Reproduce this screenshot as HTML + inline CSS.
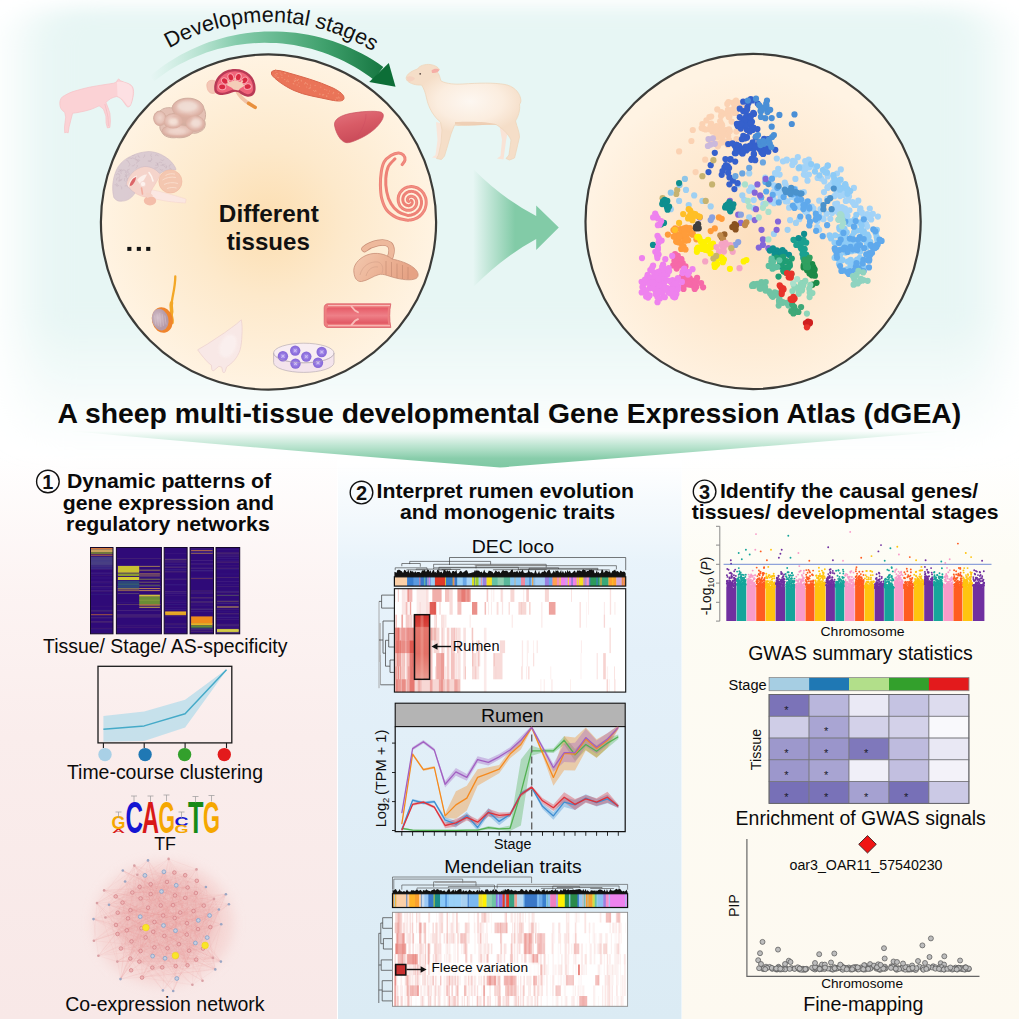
<!DOCTYPE html>
<html><head><meta charset="utf-8"><title>dGEA graphical abstract</title>
<style>
html,body{margin:0;padding:0;background:#fff;}
body{width:1019px;height:1019px;overflow:hidden;font-family:"Liberation Sans",sans-serif;}
svg{display:block}
text{font-family:"Liberation Sans",sans-serif;}
</style></head><body>
<svg width="1019" height="1019" viewBox="0 0 1019 1019" font-family="Liberation Sans, sans-serif">
<defs>
<radialGradient id="gL" cx="50%" cy="50%" r="50%"><stop offset="0" stop-color="#fcdeb1"/><stop offset="0.45" stop-color="#fde9cb"/><stop offset="1" stop-color="#fff3e2"/></radialGradient>
<radialGradient id="gR" cx="50%" cy="55%" r="50%"><stop offset="0" stop-color="#fde0c0"/><stop offset="0.55" stop-color="#feead2"/><stop offset="1" stop-color="#fff3e3"/></radialGradient>
<linearGradient id="gMint" gradientUnits="userSpaceOnUse" x1="0" y1="0" x2="0" y2="462"><stop offset="0" stop-color="#e7f6f4"/><stop offset="0.68" stop-color="#e7f6f4"/><stop offset="0.9" stop-color="#e7f6f4" stop-opacity="0.25"/><stop offset="1" stop-color="#e7f6f4" stop-opacity="0"/></linearGradient>
<linearGradient id="gPink" x1="0" y1="0" x2="0" y2="1"><stop offset="0" stop-color="#fbefee" stop-opacity="0"/><stop offset="0.25" stop-color="#fcf2f1" stop-opacity="0.9"/><stop offset="0.5" stop-color="#faedec"/><stop offset="1" stop-color="#f8e8e7"/></linearGradient>
<linearGradient id="gBlue" x1="0" y1="0" x2="0" y2="1"><stop offset="0.015" stop-color="#e8f3fa" stop-opacity="0"/><stop offset="0.08" stop-color="#e8f3fa" stop-opacity="0.4"/><stop offset="0.19" stop-color="#e6f2fa" stop-opacity="0.9"/><stop offset="0.35" stop-color="#e4f0f9"/><stop offset="1" stop-color="#dbebf4"/></linearGradient>
<linearGradient id="gCream" x1="0" y1="0" x2="0" y2="1"><stop offset="0" stop-color="#fdfbf2" stop-opacity="0"/><stop offset="0.2" stop-color="#fdfcf4"/><stop offset="1" stop-color="#fdf9f0"/></linearGradient>
<linearGradient id="gBanner" x1="0" y1="0" x2="0" y2="1"><stop offset="0" stop-color="#8fd2b0" stop-opacity="0"/><stop offset="0.4" stop-color="#8ad0ad" stop-opacity="0.55"/><stop offset="0.75" stop-color="#82caa6" stop-opacity="0.95"/><stop offset="1" stop-color="#7ec8a3"/></linearGradient>
<linearGradient id="gBannerH" x1="0" y1="0" x2="1" y2="0"><stop offset="0" stop-color="#fff" stop-opacity="1"/><stop offset="0.3" stop-color="#fff" stop-opacity="0"/><stop offset="0.7" stop-color="#fff" stop-opacity="0"/><stop offset="1" stop-color="#fff" stop-opacity="1"/></linearGradient>
<linearGradient id="gArc" gradientUnits="userSpaceOnUse" x1="150" y1="0" x2="400" y2="0"><stop offset="0" stop-color="#9fdcc0" stop-opacity="0"/><stop offset="0.35" stop-color="#79c7a3" stop-opacity="0.9"/><stop offset="0.7" stop-color="#3fa06c"/><stop offset="1" stop-color="#0b6b35"/></linearGradient>
<linearGradient id="gBig" gradientUnits="userSpaceOnUse" x1="473" y1="0" x2="515" y2="0"><stop offset="0" stop-color="#82cba7" stop-opacity="0"/><stop offset="1" stop-color="#82cba7"/></linearGradient>
<filter id="blur20" x="-10%" y="-15%" width="120%" height="130%"><feGaussianBlur stdDeviation="24 9"/></filter>
<filter id="blur6" x="-20%" y="-20%" width="140%" height="140%"><feGaussianBlur stdDeviation="6"/></filter>
<filter id="blur2"><feGaussianBlur stdDeviation="1.2"/></filter>
<filter id="blur1"><feGaussianBlur stdDeviation="0.6"/></filter>
</defs>
<rect width="1019" height="1019" fill="#ffffff"/>
<rect x="22" y="7" width="975" height="455" rx="40" fill="url(#gMint)" filter="url(#blur20)"/>
<rect x="0" y="455" width="337" height="564" fill="url(#gPink)"/>
<rect x="338" y="455" width="343.5" height="564" fill="url(#gBlue)"/>
<rect x="682" y="455" width="337" height="564" fill="url(#gCream)"/>
<circle cx="268.5" cy="222" r="167.6" fill="url(#gL)" stroke="#3b3b38" stroke-width="2.2"/>
<path d="M150.2,75.9 L155,72 L159.9,68.2 L165,64.6 L170.1,61.2 L175.4,57.9 L180.8,54.8 L186.3,51.9 L191.9,49.2 L197.6,46.7 L203.4,44.3 L209.2,42.1 L215.2,40.2 L221.1,38.4 L227.2,36.8 L233.3,35.4 L239.4,34.2 L245.6,33.3 L251.8,32.5 L258.1,31.9 L264.3,31.5 L270.6,31.4 L276.9,31.4 L283.2,31.7 L289.5,32.2 L295.7,32.8 L302,33.7 L308.2,34.8 L314.3,36.1 L320.5,37.6 L326.6,39.3 L332.6,41.1 L338.6,43.2 L344.5,45.5 L350.3,48 L356,50.7 L361.7,53.6 L367.2,56.6 L372.7,59.8 L378.1,63.3 L383.3,66.9 L373.8,79.7 L369.1,76.2 L364.3,72.9 L359.4,69.7 L354.4,66.7 L349.3,63.9 L344.1,61.2 L338.8,58.7 L333.4,56.4 L328,54.2 L322.4,52.2 L316.8,50.4 L311.2,48.8 L305.5,47.4 L299.7,46.2 L293.9,45.1 L288.1,44.3 L282.3,43.6 L276.4,43.1 L270.5,42.9 L264.6,42.8 L258.7,42.9 L252.8,43.2 L246.9,43.7 L241,44.4 L235.2,45.3 L229.3,46.4 L223.5,47.7 L217.8,49.1 L212.1,50.8 L206.4,52.6 L200.9,54.7 L195.3,56.9 L189.9,59.3 L184.5,61.9 L179.2,64.6 L174,67.5 L168.9,70.6 L163.9,73.9 L159.1,77.4 L154.3,80.9Z" fill="url(#gArc)"/>
<path d="M369.2,81.9 L388.8,62.9 L395.5,86.8Z" fill="#0d6e37"/>
<path id="arcText" d="M169.1,48.4 A200,200 0 0 1 397.1,68.8" fill="none"/>
<text font-size="21.6" fill="#111"><textPath href="#arcText" startOffset="0">Developmental stages</textPath></text>
<text x="268.8" y="222.1" font-size="24.3" font-weight="bold" text-anchor="middle" fill="#111">Different</text>
<text x="268.3" y="250.2" font-size="24.1" font-weight="bold" text-anchor="middle" fill="#111">tissues</text>
<rect x="127.3" y="246.9" width="4.1" height="4" fill="#111"/>
<rect x="136.8" y="246.9" width="4.1" height="4" fill="#111"/>
<rect x="146.2" y="246.9" width="4.1" height="4" fill="#111"/>
<defs>
<radialGradient id="gSheep" gradientUnits="userSpaceOnUse" cx="470" cy="102" r="55" gradientTransform="translate(0 40) scale(1 0.6)"><stop offset="0" stop-color="#fdf7f1"/><stop offset="0.6" stop-color="#fbeddf"/><stop offset="1" stop-color="#f5dec8"/></radialGradient>
<linearGradient id="gLiver" x1="0" y1="0" x2="0.4" y2="1"><stop offset="0" stop-color="#e4747e"/><stop offset="0.5" stop-color="#d85b66"/><stop offset="1" stop-color="#c94a58"/></linearGradient>
<linearGradient id="gAbo" x1="0" y1="0" x2="1" y2="0.3"><stop offset="0" stop-color="#f3c9b0"/><stop offset="0.5" stop-color="#ecb497"/><stop offset="1" stop-color="#e6a284"/></linearGradient>
<linearGradient id="gVessel" x1="0" y1="0" x2="0" y2="1"><stop offset="0" stop-color="#e65a66"/><stop offset="0.5" stop-color="#ee8088"/><stop offset="1" stop-color="#e05460"/></linearGradient>
<radialGradient id="gCell"><stop offset="0" stop-color="#c5b2f5"/><stop offset="0.5" stop-color="#9478e2"/><stop offset="1" stop-color="#8566d6"/></radialGradient>
<radialGradient id="gTestis" cx="40%" cy="40%"><stop offset="0" stop-color="#d6c2cd"/><stop offset="1" stop-color="#b59aa8"/></radialGradient>
<radialGradient id="gLump" cx="50%" cy="45%"><stop offset="0" stop-color="#efd6cc"/><stop offset="0.7" stop-color="#e6c3b8"/><stop offset="1" stop-color="#dcb0a3"/></radialGradient>
</defs>
<path d="M59.8,103.4 C59.8,99 62,96.5 64.7,95.5 C68,93.5 71,92.2 74.5,91.1 C79.5,89.6 84.5,88.3 89.3,87.2 C94.5,86.2 99.5,85.4 104,84.7 C107.5,84.1 111,83.7 113.8,83.2 L116.5,81.9 L117.6,79.8 L118.7,79 L120.7,80.8 C122,81.2 123.4,81.7 124.6,82.3 C126.8,82.9 128.9,83.7 130.5,84.7 C132.2,86 133.1,87.7 133.4,89.6 C133.8,92.2 133.5,95 132.9,97.5 C132.4,100.3 131.6,103 130.5,105.3 C129.7,106.6 128.6,107.1 127.5,106.8 C126.3,106 125.3,104.8 124.6,103.4 C123.4,101.6 122.1,99.9 120.7,98.5 C119.4,97.6 118,96.9 116.7,96.5 C114.7,96.9 112.7,97.6 110.8,98.5 C109,99.7 107.4,101 105.9,102.4 L107.9,107.3 L109.9,113.2 L110.4,121 L109.9,127.4 L107.4,127.9 L106.1,123 L105.9,116.1 L103.5,109.3 C102.2,108 100.7,106.8 99.1,105.8 C96.5,107.1 93.9,108.3 91.2,109.3 C87.3,110.5 83.4,111.5 79.4,112.2 C77.1,112.7 74.8,113 72.6,113.2 L71.1,119.1 L69.1,126.9 L68.2,132.8 L66.2,132.3 L64.7,132.8 L64.5,126.9 L65.7,117.1 L64.7,112.2 C63,111.3 61.7,110 60.8,108.3 C60.1,106.8 59.8,105.2 59.8,103.4Z" fill="#fbd2d5" stroke="#f6c1c6" stroke-width="0.7" stroke-linejoin="round"/>
<path d="M117,82 C121,81 128,82.5 131.5,86.5 C133.5,90 133,97 130.5,104.5 C129.5,106.3 128,106.3 127,105 C124.5,101 122,98 117.5,96Z" fill="#fde3e5" opacity="0.85"/>
<path d="M104.8,104 L106.4,110 L108,117 L108.4,126" fill="none" stroke="#f4b9c0" stroke-width="0.7"/>
<path d="M499,123 L502,140 L500.5,156 L497,158.5 L503.5,159.5 L506,141 L509,125Z" fill="#f9e3d6"/>
<path d="M436,122 L437.5,140 L435.5,155 L432,157.5 L439.5,158.5 L441.5,140 L444,124Z" fill="#f9e6da"/>
<path d="M406.5,76.5 C408,73 413,70.5 417.5,69 C419.5,65.5 425,64 430,64.5 C434.5,65 438,67 439.5,69.5 L437,71.5 C439.5,74.5 440,78 441,81 C447,84 455,84.5 463,84 C478,83 494,82.5 505,84.5 C513,86 519,91.5 520.5,98 C521.5,101 520.5,103.5 519.5,104 C520.5,110 518,117 515.5,121 C517,127 519.5,132 519.5,137 L516,152 L514.5,158 L509.5,160 L506,158.5 L509,155 L511,140 C508,133 501,127.5 496,124.5 C484,123.5 470,126 458,125.5 L454.5,125 L451,134 L447.5,146 L444.5,156 L441.5,159.5 L436.5,158.5 L438.5,155 L441,143 L442,130 L440.5,122 C434,117 428.5,108 426.5,98 C425.5,93 424,88.5 421.5,85 C416,85.5 410,83.5 407.5,81 C406,79.5 406,78 406.5,76.5Z" fill="url(#gSheep)" stroke="#efd6bb" stroke-width="0.8" stroke-linejoin="round"/>
<path d="M455,124.5 C470,126.5 486,124 497,124.5 C486,121 468,121.5 455,122Z" fill="#ecc9ad" opacity="0.8"/>
<path d="M431.5,70.5 C434,68 438,68.5 439.5,69.8 C438.5,72.5 435,73.5 432,73Z" fill="#f5aea6"/>
<circle cx="420.2" cy="73.8" r="0.9" fill="#5a4a44"/>
<path d="M406.8,77 C409,75.5 413,76 415,78.5 C413,81.5 409.5,82 407.5,80.8Z" fill="#f7c3b5" opacity="0.45"/>
<path d="M155.2,121 C152.8,116 155,111.5 160,111 C163,108 168,107 172,108 C173,102 180,98 188,98.2 C196,98 203,102.5 204,108.5 C206,112 206,117 204.5,120.5 C206.5,125 204.5,130 200,131.5 C197,133.5 194,133.5 192,133 C189,137 182,138.3 176.5,137.6 C170,138.5 163.5,136.5 161.8,132 C160,130 159.5,127.5 160,125.5 C157.5,125 156,123.5 155.2,121Z" fill="#e4c0b4" stroke="#cbaa9c" stroke-width="0.9"/>
<ellipse cx="177.6" cy="131.0" rx="15.9" ry="6.6000000000000005" fill="#d3ad9f"/>
<ellipse cx="159.8" cy="118.5" rx="6.6000000000000005" ry="7.6000000000000005" fill="#d3ad9f"/>
<ellipse cx="187.9" cy="108.2" rx="15.9" ry="10.0" fill="#d3ad9f"/>
<ellipse cx="195.1" cy="123.7" rx="9.8" ry="8.2" fill="#d3ad9f"/>
<ellipse cx="173.2" cy="121.3" rx="9.9" ry="8.0" fill="#d3ad9f"/>
<ellipse cx="182" cy="119" rx="12.4" ry="8.4" fill="#d3ad9f"/>
<ellipse cx="177.6" cy="131.0" rx="15.3" ry="6.0" fill="url(#gLump)"/>
<ellipse cx="159.8" cy="118.5" rx="6.0" ry="7.0" fill="url(#gLump)"/>
<ellipse cx="187.9" cy="108.2" rx="15.3" ry="9.4" fill="url(#gLump)"/>
<ellipse cx="195.1" cy="123.7" rx="9.200000000000001" ry="7.6" fill="url(#gLump)"/>
<ellipse cx="173.2" cy="121.3" rx="9.3" ry="7.3999999999999995" fill="url(#gLump)"/>
<ellipse cx="182" cy="119" rx="11" ry="5" fill="#deb0a2" opacity="0.55" filter="url(#blur2)"/>
<ellipse cx="187.5" cy="106.5" rx="10" ry="5" fill="#f1e0d8" opacity="0.8" filter="url(#blur2)"/>
<ellipse cx="173.5" cy="121.5" rx="4.5" ry="3.5" fill="#f6e4da" opacity="0.85" filter="url(#blur2)"/>
<ellipse cx="196" cy="123" rx="5" ry="4" fill="#f3e0d8" opacity="0.8" filter="url(#blur2)"/>
<ellipse cx="177" cy="131.5" rx="9" ry="2.8" fill="#f1d8cf" opacity="0.7" filter="url(#blur2)"/>
<path d="M207,87 C206,83 208.5,80 212.5,80.3 C216,80.5 218.5,83 218,87 C218.8,90.5 216.5,93.5 213,93.4 C209.5,93.6 207.3,90.5 207,87Z" fill="#f4c7b6" stroke="#ecb09e" stroke-width="0.6"/>
<path d="M235,85 C236.5,92 240.5,97.5 246,101.5 L255,107.2" fill="none" stroke="#f2c3a6" stroke-width="3.6" stroke-linecap="round"/>
<path d="M248.5,103.3 L255.2,107.4" fill="none" stroke="#e8903c" stroke-width="3.4" stroke-linecap="round"/>
<path d="M214.3,90 C213.3,78.5 222,68.9 235,68.9 C248,68.9 256.5,78 255.5,90 C255,95 251,97.5 246.5,96.5 C243,96 241,94 239,92.6 C237,91.5 234,91.5 232,92.6 C229.5,93.8 226.5,94.8 222.5,95 C218,95.2 214.8,93.5 214.3,90Z" fill="#b93a56"/>
<path d="M216.6,89.3 C216,80 223.5,71.2 235,71.2 C246.5,71.2 253.8,79.5 253.2,89.3 C252.8,93 249.8,94.8 246.8,94 C243.8,93.3 242,91.4 240,90.3 C237,89 233.5,89 231,90.2 C228.5,91.3 226,92.5 222.5,92.7 C219.3,92.9 217,91.5 216.6,89.3Z" fill="#f0647a"/>
<ellipse cx="222.2" cy="86.9" rx="3.3" ry="4.1" transform="rotate(-82 222.2 86.9)" fill="#f9a4ae"/>
<ellipse cx="222.2" cy="86.9" rx="2.3" ry="3.1" transform="rotate(-82 222.2 86.9)" fill="#d92a42"/>
<ellipse cx="224.8" cy="81" rx="3.3" ry="4.1" transform="rotate(-50 224.8 81)" fill="#f9a4ae"/>
<ellipse cx="224.8" cy="81" rx="2.3" ry="3.1" transform="rotate(-50 224.8 81)" fill="#d92a42"/>
<ellipse cx="230.8" cy="77.3" rx="3.3" ry="4.1" transform="rotate(-18 230.8 77.3)" fill="#f9a4ae"/>
<ellipse cx="230.8" cy="77.3" rx="2.3" ry="3.1" transform="rotate(-18 230.8 77.3)" fill="#d92a42"/>
<ellipse cx="238.3" cy="77.1" rx="3.3" ry="4.1" transform="rotate(14 238.3 77.1)" fill="#f9a4ae"/>
<ellipse cx="238.3" cy="77.1" rx="2.3" ry="3.1" transform="rotate(14 238.3 77.1)" fill="#d92a42"/>
<ellipse cx="244.6" cy="80.4" rx="3.3" ry="4.1" transform="rotate(46 244.6 80.4)" fill="#f9a4ae"/>
<ellipse cx="244.6" cy="80.4" rx="2.3" ry="3.1" transform="rotate(46 244.6 80.4)" fill="#d92a42"/>
<ellipse cx="247.7" cy="86.6" rx="3.3" ry="4.1" transform="rotate(80 247.7 86.6)" fill="#f9a4ae"/>
<ellipse cx="247.7" cy="86.6" rx="2.3" ry="3.1" transform="rotate(80 247.7 86.6)" fill="#d92a42"/>
<path d="M226.5,85 C229,82.5 232,80.8 235,80.8 C238.5,80.8 242,82.8 244.5,85.5 C242.5,87.5 240,87.8 238.5,90.5 L233.5,89.5 C232,87 229,86.5 226.5,85Z" fill="#f4cdb8"/>
<path d="M230,84 L228,81 M235,82.5 L235,78.5 M240,84 L242.5,81" stroke="#f4cdb8" stroke-width="1.4" stroke-linecap="round"/>
<path d="M271.5,72 C273,69.5 279,70 287,72.5 C301,76.5 318,81 333,88 C340,91.5 344.5,95 344,98.5 C343.5,101.5 338,101.5 331,100 C318,97 305,95.5 294,90.5 C284,86 274,78.5 271.5,74.5Z" fill="#ea7458" stroke="#d9664c" stroke-width="1"/>
<circle cx="315.5" cy="90.5" r="0.6" fill="#f39a7c" opacity="0.8"/>
<circle cx="326.7" cy="96.4" r="0.6" fill="#f39a7c" opacity="0.8"/>
<circle cx="323.1" cy="94.9" r="0.6" fill="#f39a7c" opacity="0.8"/>
<circle cx="276.9" cy="73.5" r="0.6" fill="#f39a7c" opacity="0.8"/>
<circle cx="336.3" cy="97.8" r="0.6" fill="#f39a7c" opacity="0.8"/>
<circle cx="333.6" cy="92.4" r="0.6" fill="#f39a7c" opacity="0.8"/>
<circle cx="305.5" cy="82.7" r="0.6" fill="#f39a7c" opacity="0.8"/>
<circle cx="310.3" cy="87.2" r="0.6" fill="#f39a7c" opacity="0.8"/>
<circle cx="275.9" cy="71.1" r="0.6" fill="#f39a7c" opacity="0.8"/>
<circle cx="293.2" cy="83.3" r="0.6" fill="#f39a7c" opacity="0.8"/>
<circle cx="324.8" cy="89.4" r="0.6" fill="#f39a7c" opacity="0.8"/>
<circle cx="326.8" cy="90" r="0.6" fill="#f39a7c" opacity="0.8"/>
<circle cx="315.1" cy="85.4" r="0.6" fill="#f39a7c" opacity="0.8"/>
<circle cx="275.1" cy="76" r="0.6" fill="#f39a7c" opacity="0.8"/>
<circle cx="288.6" cy="76" r="0.6" fill="#f39a7c" opacity="0.8"/>
<circle cx="338.9" cy="100.5" r="0.6" fill="#f39a7c" opacity="0.8"/>
<circle cx="293.8" cy="83.9" r="0.6" fill="#f39a7c" opacity="0.8"/>
<circle cx="310" cy="87.9" r="0.6" fill="#f39a7c" opacity="0.8"/>
<circle cx="288.3" cy="81.6" r="0.6" fill="#f39a7c" opacity="0.8"/>
<circle cx="319.9" cy="94" r="0.6" fill="#f39a7c" opacity="0.8"/>
<circle cx="333.1" cy="93.7" r="0.6" fill="#f39a7c" opacity="0.8"/>
<circle cx="298.5" cy="79.4" r="0.6" fill="#f39a7c" opacity="0.8"/>
<circle cx="284.5" cy="73.2" r="0.6" fill="#f39a7c" opacity="0.8"/>
<circle cx="294.6" cy="81.4" r="0.6" fill="#f39a7c" opacity="0.8"/>
<circle cx="275.2" cy="74.5" r="0.6" fill="#f39a7c" opacity="0.8"/>
<circle cx="297" cy="79.9" r="0.6" fill="#f39a7c" opacity="0.8"/>
<circle cx="328.2" cy="93.3" r="0.6" fill="#f39a7c" opacity="0.8"/>
<circle cx="295.5" cy="80.7" r="0.6" fill="#f39a7c" opacity="0.8"/>
<circle cx="320.8" cy="87.1" r="0.6" fill="#f39a7c" opacity="0.8"/>
<circle cx="338.4" cy="93.6" r="0.6" fill="#f39a7c" opacity="0.8"/>
<circle cx="323.7" cy="94.5" r="0.6" fill="#f39a7c" opacity="0.8"/>
<circle cx="276.2" cy="75.8" r="0.6" fill="#f39a7c" opacity="0.8"/>
<circle cx="298.8" cy="82.8" r="0.6" fill="#f39a7c" opacity="0.8"/>
<circle cx="275.6" cy="69.6" r="0.6" fill="#f39a7c" opacity="0.8"/>
<circle cx="286.8" cy="81.2" r="0.6" fill="#f39a7c" opacity="0.8"/>
<circle cx="287.8" cy="80" r="0.6" fill="#f39a7c" opacity="0.8"/>
<circle cx="335.4" cy="99.8" r="0.6" fill="#f39a7c" opacity="0.8"/>
<circle cx="297.4" cy="80.4" r="0.6" fill="#f39a7c" opacity="0.8"/>
<circle cx="309.1" cy="88.3" r="0.6" fill="#f39a7c" opacity="0.8"/>
<circle cx="282" cy="77.7" r="0.6" fill="#f39a7c" opacity="0.8"/>
<circle cx="326.8" cy="95.8" r="0.6" fill="#f39a7c" opacity="0.8"/>
<circle cx="277.4" cy="77.5" r="0.6" fill="#f39a7c" opacity="0.8"/>
<circle cx="280.9" cy="74" r="0.6" fill="#f39a7c" opacity="0.8"/>
<circle cx="314.7" cy="91.6" r="0.6" fill="#f39a7c" opacity="0.8"/>
<circle cx="297.1" cy="84.9" r="0.6" fill="#f39a7c" opacity="0.8"/>
<circle cx="310.4" cy="85.1" r="0.6" fill="#f39a7c" opacity="0.8"/>
<circle cx="295.6" cy="78.3" r="0.6" fill="#f39a7c" opacity="0.8"/>
<circle cx="280.1" cy="72.1" r="0.6" fill="#f39a7c" opacity="0.8"/>
<circle cx="319.8" cy="94.2" r="0.6" fill="#f39a7c" opacity="0.8"/>
<circle cx="285.5" cy="73.4" r="0.6" fill="#f39a7c" opacity="0.8"/>
<circle cx="339.1" cy="97.9" r="0.6" fill="#f39a7c" opacity="0.8"/>
<circle cx="301.4" cy="81" r="0.6" fill="#f39a7c" opacity="0.8"/>
<circle cx="313.6" cy="90.5" r="0.6" fill="#f39a7c" opacity="0.8"/>
<circle cx="304.6" cy="83.8" r="0.6" fill="#f39a7c" opacity="0.8"/>
<circle cx="278.6" cy="77.7" r="0.6" fill="#f39a7c" opacity="0.8"/>
<circle cx="277.1" cy="73.8" r="0.6" fill="#f39a7c" opacity="0.8"/>
<circle cx="329.5" cy="91" r="0.6" fill="#f39a7c" opacity="0.8"/>
<circle cx="322.6" cy="94.9" r="0.6" fill="#f39a7c" opacity="0.8"/>
<circle cx="316" cy="91.1" r="0.6" fill="#f39a7c" opacity="0.8"/>
<circle cx="281.9" cy="75.1" r="0.6" fill="#f39a7c" opacity="0.8"/>
<circle cx="284.7" cy="79.5" r="0.6" fill="#f39a7c" opacity="0.8"/>
<circle cx="294.2" cy="80" r="0.6" fill="#f39a7c" opacity="0.8"/>
<circle cx="340" cy="100.8" r="0.6" fill="#f39a7c" opacity="0.8"/>
<circle cx="338.4" cy="97" r="0.6" fill="#f39a7c" opacity="0.8"/>
<circle cx="306.7" cy="87" r="0.6" fill="#f39a7c" opacity="0.8"/>
<circle cx="306.1" cy="83.3" r="0.6" fill="#f39a7c" opacity="0.8"/>
<circle cx="301.2" cy="80.3" r="0.6" fill="#f39a7c" opacity="0.8"/>
<circle cx="299.5" cy="86.3" r="0.6" fill="#f39a7c" opacity="0.8"/>
<circle cx="337.4" cy="98" r="0.6" fill="#f39a7c" opacity="0.8"/>
<circle cx="307.5" cy="84.2" r="0.6" fill="#f39a7c" opacity="0.8"/>
<path d="M334.5,125 C334,119 341,115.5 350,113.5 C361,111.5 374,110.5 380.5,112 C384,113 384,116.5 382,120 C378.5,126.5 371,133 362,137.5 C355.5,140.5 349.5,143.5 345.5,142.5 C340,141 335.5,132 334.5,125Z" fill="url(#gLiver)" stroke="#c9505e" stroke-width="0.7"/>
<path d="M366,114 C366,122 362,131 355,139" fill="none" stroke="#cc4a60" stroke-width="0.6" opacity="0.7"/>
<path d="M402.1,164.6 C402.6,163.8 404.8,161.6 405,160 C405.2,158.4 404.5,156.2 403.4,155 C402.3,153.8 400.5,152.8 398.4,152.9 C396.3,153 393.3,153.9 390.9,155.4 C388.5,156.9 385.8,159 384.2,161.7 C382.6,164.4 381.9,167.8 381.3,171.7 C380.7,175.6 380.3,180.6 380.4,185 C380.5,189.4 380.6,194.2 381.7,198.4 C382.8,202.6 384.2,206.8 386.7,210 C389.2,213.2 393.4,215.9 396.7,217.6 C400,219.3 404.4,219.6 406.5,220 C408.6,220.4 408.3,220.1 409.1,220.1 C410,220 410.9,219.9 411.7,219.7 C412.6,219.6 413.4,219.4 414.2,219.1 C415.1,218.8 415.8,218.5 416.6,218.1 C417.4,217.7 418.1,217.2 418.8,216.7 C419.5,216.3 420.1,215.7 420.7,215.1 C421.3,214.6 421.9,214 422.4,213.3 C422.9,212.7 423.4,212 423.8,211.3 C424.2,210.6 424.6,209.8 424.9,209.1 C425.2,208.3 425.4,207.6 425.6,206.8 C425.9,206 426,205.2 426.1,204.4 C426.2,203.6 426.2,202.9 426.2,202.1 C426.2,201.3 426.1,200.5 426,199.7 C425.9,199 425.7,198.2 425.5,197.5 C425.2,196.8 425,196.1 424.6,195.4 C424.3,194.7 424,194.1 423.6,193.4 C423.2,192.8 422.7,192.2 422.2,191.7 C421.8,191.1 421.2,190.6 420.7,190.2 C420.2,189.7 419.6,189.3 419,188.9 C418.4,188.5 417.8,188.2 417.2,187.9 C416.5,187.6 415.9,187.4 415.2,187.2 C414.6,187 413.9,186.8 413.3,186.7 C412.6,186.6 411.9,186.6 411.3,186.6 C410.6,186.6 410,186.7 409.3,186.8 C408.7,186.8 408,187 407.4,187.2 C406.8,187.4 406.2,187.6 405.6,187.8 C405.1,188.1 404.5,188.4 404,188.8 C403.5,189.1 403,189.5 402.5,189.9 C402.1,190.3 401.6,190.7 401.2,191.2 C400.8,191.6 400.5,192.1 400.1,192.6 C399.8,193.1 399.5,193.7 399.3,194.2 C399.1,194.7 398.8,195.3 398.7,195.8 C398.5,196.4 398.4,197 398.3,197.5 C398.2,198.1 398.2,198.7 398.2,199.2 C398.2,199.8 398.2,200.4 398.3,200.9 C398.3,201.4 398.4,202 398.6,202.5 C398.7,203 398.9,203.5 399.1,204 C399.3,204.5 399.6,205 399.8,205.4 C400.1,205.9 400.4,206.3 400.7,206.7 C401.1,207.1 401.4,207.4 401.8,207.8 C402.1,208.1 402.5,208.4 402.9,208.7 C403.3,208.9 403.8,209.2 404.2,209.4 C404.6,209.6 405.1,209.8 405.5,209.9 C405.9,210 406.4,210.2 406.8,210.2 C407.3,210.3 407.7,210.3 408.2,210.3 C408.6,210.3 409.1,210.3 409.5,210.3 C409.9,210.2 410.3,210.1 410.7,210 C411.1,209.9 411.5,209.7 411.9,209.6 C412.3,209.4 412.7,209.2 413,209 C413.3,208.8 413.7,208.5 414,208.3 C414.3,208 414.5,207.7 414.8,207.4 C415.1,207.1 415.3,206.8 415.5,206.5 C415.7,206.2 415.9,205.8 416,205.5 C416.2,205.2 416.3,204.8 416.4,204.5 C416.5,204.1 416.6,203.8 416.6,203.4 C416.7,203.1 416.7,202.7 416.7,202.4 C416.7,202.1 416.7,201.7 416.6,201.4 C416.6,201.1 416.5,200.7 416.4,200.4 C416.3,200.1 416.2,199.8 416.1,199.5 C415.9,199.3 415.8,199 415.6,198.7 C415.5,198.5 415.3,198.2 415.1,198 C414.9,197.8 414.7,197.6 414.5,197.4 C414.3,197.3 414,197.1 413.8,197 C413.6,196.8 413.3,196.7 413.1,196.6 C412.9,196.5 412.6,196.4 412.4,196.4 C412.1,196.3 411.9,196.3 411.6,196.2 C411.4,196.2 411.2,196.2 410.9,196.2 C410.7,196.3 410.5,196.3 410.3,196.3 C410.1,196.4 409.8,196.5 409.7,196.5 C409.5,196.6 409.3,196.7 409.1,196.8 C408.9,196.9 408.8,197 408.6,197.2 C408.5,197.3 408.3,197.4 408.2,197.6 C408.1,197.7 408,197.9 407.9,198 C407.8,198.2 407.7,198.3 407.6,198.5 C407.6,198.6 407.5,198.8 407.5,198.9 C407.5,199.1 407.4,199.2 407.4,199.4 C407.4,199.5 407.4,199.7 407.4,199.8 C407.5,200 407.5,200.1 407.5,200.2 C407.6,200.4 407.6,200.5 407.7,200.6 C407.7,200.7 407.8,200.8 407.9,200.9 C407.9,201 408,201.1 408.1,201.1 C408.2,201.2 408.3,201.3 408.4,201.3 C408.4,201.4 408.6,201.4 408.6,201.4" fill="none" stroke="#ee8176" stroke-width="3" stroke-linecap="round" stroke-linejoin="round"/>
<path d="M395,158.8 C393.9,160.1 389.8,163.4 388.3,166.7 C386.8,170 386.1,174.2 385.8,178.4 C385.5,182.6 385.9,187.5 386.7,191.7 C387.5,195.9 388.9,200.1 390.9,203.4 C392.8,206.7 395.7,209.7 398.4,211.7 C401.1,213.7 405.5,214.7 407.3,215.3 C409.1,215.9 408.7,215.3 409.3,215.3 C410,215.2 410.6,215.1 411.3,215 C411.9,214.8 412.5,214.6 413.1,214.4 C413.7,214.2 414.3,213.9 414.8,213.6 C415.4,213.3 415.9,213 416.4,212.6 C416.9,212.2 417.4,211.8 417.8,211.4 C418.2,210.9 418.7,210.5 419,210 C419.4,209.5 419.7,209 420,208.5 C420.3,207.9 420.5,207.4 420.7,206.8 C420.9,206.3 421.1,205.7 421.2,205.1 C421.4,204.6 421.4,204 421.5,203.4 C421.5,202.9 421.5,202.3 421.5,201.7 C421.5,201.2 421.4,200.6 421.3,200.1 C421.2,199.5 421,199 420.9,198.5 C420.7,198 420.5,197.5 420.2,197 C420,196.6 419.7,196.1 419.4,195.7 C419.1,195.3 418.8,194.9 418.4,194.5 C418.1,194.1 417.7,193.8 417.3,193.5 C416.9,193.2 416.5,192.9 416.1,192.7 C415.7,192.4 415.3,192.2 414.8,192 C414.4,191.9 413.9,191.7 413.5,191.6 C413,191.5 412.6,191.4 412.1,191.4 C411.7,191.4 411.2,191.3 410.8,191.4 C410.3,191.4 409.9,191.5 409.5,191.5 C409.1,191.6 408.6,191.7 408.2,191.9 C407.8,192 407.5,192.2 407.1,192.4 C406.7,192.6 406.4,192.8 406.1,193.1 C405.7,193.3 405.4,193.6 405.1,193.9 C404.9,194.1 404.6,194.4 404.4,194.8 C404.1,195.1 403.9,195.4 403.7,195.7 C403.6,196.1 403.4,196.4 403.3,196.7 C403.2,197.1 403,197.4 403,197.8 C402.9,198.2 402.8,198.5 402.8,198.9 C402.8,199.2 402.8,199.6 402.8,199.9 C402.8,200.2 402.9,200.6 403,200.9 C403,201.2 403.1,201.5 403.2,201.8 C403.4,202.1 403.5,202.4 403.6,202.7 C403.8,203 404,203.2 404.1,203.5 C404.3,203.7 404.5,203.9 404.7,204.1 C404.9,204.3 405.2,204.5 405.4,204.7 C405.6,204.8 405.8,205 406.1,205.1 C406.3,205.2 406.6,205.3 406.8,205.4 C407.1,205.5 407.3,205.6 407.6,205.6 C407.8,205.6 408,205.7 408.3,205.7 C408.5,205.7 408.8,205.7 409,205.6 C409.2,205.6 409.4,205.5 409.6,205.5 C409.9,205.4 410.1,205.3 410.2,205.2 C410.4,205.1 410.6,205 410.8,204.9 C410.9,204.8 411.1,204.7 411.2,204.5 C411.4,204.4 411.5,204.3 411.6,204.1 C411.7,204 411.8,203.8 411.9,203.6 C412,203.5 412.1,203.3 412.1,203.2 C412.2,203 412.2,202.9 412.2,202.7 C412.2,202.5 412.3,202.4 412.3,202.2 C412.3,202.1 412.2,201.9 412.2,201.8 C412.2,201.7 412.1,201.5 412.1,201.4 C412.1,201.3 412,201.2 411.9,201.1 C411.9,200.9 411.8,200.8 411.7,200.8 C411.6,200.7 411.6,200.6 411.5,200.5 C411.4,200.5 411.3,200.4 411.2,200.4 C411.1,200.3 411,200.3 410.9,200.3" fill="none" stroke="#ee8176" stroke-width="3" stroke-linecap="round" stroke-linejoin="round"/>
<path d="M402.1,164.6 C402.6,163.8 404.8,161.6 405,160 C405.2,158.4 404.5,156.2 403.4,155 C402.3,153.8 400.5,152.8 398.4,152.9 C396.3,153 393.3,153.9 390.9,155.4 C388.5,156.9 385.8,159 384.2,161.7 C382.6,164.4 381.9,167.8 381.3,171.7 C380.7,175.6 380.3,180.6 380.4,185 C380.5,189.4 380.6,194.2 381.7,198.4 C382.8,202.6 384.2,206.8 386.7,210 C389.2,213.2 393.4,215.9 396.7,217.6 C400,219.3 404.4,219.6 406.5,220 C408.6,220.4 408.3,220.1 409.1,220.1 C410,220 410.9,219.9 411.7,219.7 C412.6,219.6 413.4,219.4 414.2,219.1 C415.1,218.8 415.8,218.5 416.6,218.1 C417.4,217.7 418.1,217.2 418.8,216.7 C419.5,216.3 420.1,215.7 420.7,215.1 C421.3,214.6 421.9,214 422.4,213.3 C422.9,212.7 423.4,212 423.8,211.3 C424.2,210.6 424.6,209.8 424.9,209.1 C425.2,208.3 425.4,207.6 425.6,206.8 C425.9,206 426,205.2 426.1,204.4 C426.2,203.6 426.2,202.9 426.2,202.1 C426.2,201.3 426.1,200.5 426,199.7 C425.9,199 425.7,198.2 425.5,197.5 C425.2,196.8 425,196.1 424.6,195.4 C424.3,194.7 424,194.1 423.6,193.4 C423.2,192.8 422.7,192.2 422.2,191.7 C421.8,191.1 421.2,190.6 420.7,190.2 C420.2,189.7 419.6,189.3 419,188.9 C418.4,188.5 417.8,188.2 417.2,187.9 C416.5,187.6 415.9,187.4 415.2,187.2 C414.6,187 413.9,186.8 413.3,186.7 C412.6,186.6 411.9,186.6 411.3,186.6 C410.6,186.6 410,186.7 409.3,186.8 C408.7,186.8 408,187 407.4,187.2 C406.8,187.4 406.2,187.6 405.6,187.8 C405.1,188.1 404.5,188.4 404,188.8 C403.5,189.1 403,189.5 402.5,189.9 C402.1,190.3 401.6,190.7 401.2,191.2 C400.8,191.6 400.5,192.1 400.1,192.6 C399.8,193.1 399.5,193.7 399.3,194.2 C399.1,194.7 398.8,195.3 398.7,195.8 C398.5,196.4 398.4,197 398.3,197.5 C398.2,198.1 398.2,198.7 398.2,199.2 C398.2,199.8 398.2,200.4 398.3,200.9 C398.3,201.4 398.4,202 398.6,202.5 C398.7,203 398.9,203.5 399.1,204 C399.3,204.5 399.6,205 399.8,205.4 C400.1,205.9 400.4,206.3 400.7,206.7 C401.1,207.1 401.4,207.4 401.8,207.8 C402.1,208.1 402.5,208.4 402.9,208.7 C403.3,208.9 403.8,209.2 404.2,209.4 C404.6,209.6 405.1,209.8 405.5,209.9 C405.9,210 406.4,210.2 406.8,210.2 C407.3,210.3 407.7,210.3 408.2,210.3 C408.6,210.3 409.1,210.3 409.5,210.3 C409.9,210.2 410.3,210.1 410.7,210 C411.1,209.9 411.5,209.7 411.9,209.6 C412.3,209.4 412.7,209.2 413,209 C413.3,208.8 413.7,208.5 414,208.3 C414.3,208 414.5,207.7 414.8,207.4 C415.1,207.1 415.3,206.8 415.5,206.5 C415.7,206.2 415.9,205.8 416,205.5 C416.2,205.2 416.3,204.8 416.4,204.5 C416.5,204.1 416.6,203.8 416.6,203.4 C416.7,203.1 416.7,202.7 416.7,202.4 C416.7,202.1 416.7,201.7 416.6,201.4 C416.6,201.1 416.5,200.7 416.4,200.4 C416.3,200.1 416.2,199.8 416.1,199.5 C415.9,199.3 415.8,199 415.6,198.7 C415.5,198.5 415.3,198.2 415.1,198 C414.9,197.8 414.7,197.6 414.5,197.4 C414.3,197.3 414,197.1 413.8,197 C413.6,196.8 413.3,196.7 413.1,196.6 C412.9,196.5 412.6,196.4 412.4,196.4 C412.1,196.3 411.9,196.3 411.6,196.2 C411.4,196.2 411.2,196.2 410.9,196.2 C410.7,196.3 410.5,196.3 410.3,196.3 C410.1,196.4 409.8,196.5 409.7,196.5 C409.5,196.6 409.3,196.7 409.1,196.8 C408.9,196.9 408.8,197 408.6,197.2 C408.5,197.3 408.3,197.4 408.2,197.6 C408.1,197.7 408,197.9 407.9,198 C407.8,198.2 407.7,198.3 407.6,198.5 C407.6,198.6 407.5,198.8 407.5,198.9 C407.5,199.1 407.4,199.2 407.4,199.4 C407.4,199.5 407.4,199.7 407.4,199.8 C407.5,200 407.5,200.1 407.5,200.2 C407.6,200.4 407.6,200.5 407.7,200.6 C407.7,200.7 407.8,200.8 407.9,200.9 C407.9,201 408,201.1 408.1,201.1 C408.2,201.2 408.3,201.3 408.4,201.3 C408.4,201.4 408.6,201.4 408.6,201.4" fill="none" stroke="#f6a99c" stroke-width="0.7" stroke-linecap="round" opacity="0.6"/>
<path d="M364.5,249 C372,243 384,240.5 389.5,244.5 C392.5,247.5 391.5,254 389.5,259" fill="none" stroke="#c99078" stroke-width="6.4" stroke-linecap="round"/>
<path d="M364.5,249 C372,243 384,240.5 389.5,244.5 C392.5,247.5 391.5,254 389.5,259" fill="none" stroke="#eeb99c" stroke-width="5" stroke-linecap="round"/>
<path d="M354,273 C352.5,266 358,258.5 367,255 C376,251.5 386,254 392,259 C399,260.5 408,263 414,268 C418.5,271.5 419.5,276.5 416,278.5 C411,281 401,279.5 394,277.5 C388,276 383.5,273.5 379,274.5 C373,276 368,280.5 361.5,281.5 C357,282 354.5,278 354,273Z" fill="url(#gAbo)" stroke="#c99078" stroke-width="0.8"/>
<path d="M386,261 L386,274.5" stroke="#b98068" stroke-width="0.6" opacity="0.8"/>
<path d="M391.5,262 L391.5,276.5" stroke="#b98068" stroke-width="0.6" opacity="0.8"/>
<path d="M397,263.5 L397,278" stroke="#b98068" stroke-width="0.6" opacity="0.8"/>
<path d="M402.5,265 L402.5,279" stroke="#b98068" stroke-width="0.6" opacity="0.8"/>
<path d="M408,267 L408,279.5" stroke="#b98068" stroke-width="0.6" opacity="0.8"/>
<path d="M360,275 C362,266 370,261 378,262 C382,263 384,268 382,273" fill="none" stroke="#d3a088" stroke-width="0.6"/>
<path d="M366,276 C368,269 373,266 378,267" fill="none" stroke="#d3a088" stroke-width="0.6"/>
<path d="M328,303.8 L390.8,303.8 C389.3,311 389.3,320 390.8,327.5 L328,327.5 C325.5,327.5 324.2,325.8 324.2,323.5 L324.2,307.8 C324.2,305.5 325.5,303.8 328,303.8Z" fill="#ee7f80" stroke="#d9606a" stroke-width="0.8"/>
<path d="M328,305.6 L390,305.6 M328,325.7 L390,325.7" stroke="#fbc8c4" stroke-width="0.9" fill="none"/>
<path d="M329,307.5 L388.2,307.5 C387.4,313 387.4,318.5 388.2,323.8 L329,323.8 C327.5,323.8 326.6,322.6 326.6,321.4 L326.6,309.9 C326.6,308.7 327.5,307.5 329,307.5Z" fill="url(#gVessel)"/>
<path d="M351.5,306.5 L355,310.5 L358,312.2" fill="none" stroke="#f9bdb9" stroke-width="1.8" stroke-linecap="round"/>
<path d="M351.5,324.8 L355,320.8 L358,319.1" fill="none" stroke="#f9bdb9" stroke-width="1.8" stroke-linecap="round"/>
<path d="M273.6,353 L273.6,362.6 A30.2,9.8 0 0 0 334,362.6 L334,353Z" fill="#f4e4ec" stroke="#b9adb5" stroke-width="0.7"/>
<ellipse cx="303.8" cy="353" rx="30.2" ry="9.8" fill="#f8edf2" stroke="#b9adb5" stroke-width="0.7"/>
<circle cx="282.9" cy="356.2" r="5.2" fill="url(#gCell)"/>
<path d="M281.29999999999995,354.59999999999997 l3.2,3.2 M284.5,354.59999999999997 l-3.2,3.2" stroke="#d9ccf8" stroke-width="0.9" opacity="0.8"/>
<circle cx="295.2" cy="350.6" r="5.2" fill="url(#gCell)"/>
<path d="M293.59999999999997,349.0 l3.2,3.2 M296.8,349.0 l-3.2,3.2" stroke="#d9ccf8" stroke-width="0.9" opacity="0.8"/>
<circle cx="306.3" cy="356.6" r="5.2" fill="url(#gCell)"/>
<path d="M304.7,355.0 l3.2,3.2 M307.90000000000003,355.0 l-3.2,3.2" stroke="#d9ccf8" stroke-width="0.9" opacity="0.8"/>
<circle cx="321.7" cy="352" r="5.2" fill="url(#gCell)"/>
<path d="M320.09999999999997,350.4 l3.2,3.2 M323.3,350.4 l-3.2,3.2" stroke="#d9ccf8" stroke-width="0.9" opacity="0.8"/>
<circle cx="295.5" cy="363.6" r="5.2" fill="url(#gCell)"/>
<path d="M293.9,362.0 l3.2,3.2 M297.1,362.0 l-3.2,3.2" stroke="#d9ccf8" stroke-width="0.9" opacity="0.8"/>
<circle cx="318" cy="362.8" r="5.2" fill="url(#gCell)"/>
<path d="M316.4,361.2 l3.2,3.2 M319.6,361.2 l-3.2,3.2" stroke="#d9ccf8" stroke-width="0.9" opacity="0.8"/>
<path d="M273.6,353 A30.2,9.8 0 0 0 334,353" fill="none" stroke="#b9adb5" stroke-width="0.6" opacity="0.8"/>
<path d="M241.3,319.8 C242.3,325 242.3,330.5 241.9,335.7 C241.8,340.5 241.2,345.3 240.1,349.8 C238.8,353.8 236.8,357.4 234.2,360.4 C232,363 229.4,365.2 226.6,366.9 L225.2,371.5 C224.7,373 223,373 222.6,371.5 L221.8,367.2 C220.8,366.9 219.8,366.6 218.9,366.3 L214.8,369.8 C213.8,371.3 212,371 211.8,369.3 L211.3,365 C210.7,364.6 210.1,364.3 209.5,363.9 C205.2,359.8 201.2,355 197.7,349.8 C204.2,346.2 210.6,342.2 216.6,338 C222,334.6 227.2,331 231.9,327.4 C235.3,325 238.5,322.5 241.3,319.8Z" fill="#f8e8e6" stroke="#eed3d0" stroke-width="0.8" stroke-linejoin="round"/>
<ellipse cx="228" cy="346" rx="8" ry="12" transform="rotate(25 228 346)" fill="#fbf1f0" opacity="0.8" filter="url(#blur2)"/>
<path d="M175.3,276.5 C175.3,284 173.8,291 172.6,297 C171.8,301 171.6,304 171.2,308" fill="none" stroke="#f3a726" stroke-width="2.3" stroke-linecap="round"/>
<path d="M171.5,303 C170.2,307 172.6,310 171.3,313.5 C170.4,316.5 172.8,319 172,322.5" fill="none" stroke="#f3a726" stroke-width="3.6" stroke-linecap="round"/>
<ellipse cx="162.4" cy="320" rx="10.4" ry="12.9" transform="rotate(-14 162.4 320)" fill="#f0842c"/>
<ellipse cx="160.2" cy="319.6" rx="8.2" ry="11" transform="rotate(-14 160.2 319.6)" fill="url(#gTestis)"/>
<path d="M154.5,315.4 L155.7,324.6" stroke="#d9c5d0" stroke-width="0.7" opacity="0.7"/>
<path d="M157.1,314.2 L158.3,325.8" stroke="#d9c5d0" stroke-width="0.7" opacity="0.7"/>
<path d="M159.7,313 L160.9,327" stroke="#d9c5d0" stroke-width="0.7" opacity="0.7"/>
<path d="M162.3,314.2 L163.5,325.8" stroke="#d9c5d0" stroke-width="0.7" opacity="0.7"/>
<path d="M164.9,315.4 L166.1,324.6" stroke="#d9c5d0" stroke-width="0.7" opacity="0.7"/>
<g opacity="0.9">
<path d="M146,189 C156,190 170,194 186,199 L185.5,203 C172,202.5 158,200 147,197Z" fill="#fbe7e4" stroke="#f3d0cb" stroke-width="0.5"/>
<path d="M125.5,186 C127,177 133,169.5 144.8,166 C152,165 157,168.5 160.5,174 C158,180 154,186 151,191 L150,197 C146,198 140,196 135,193 C131,192 127,190 125.5,186Z" fill="#f5d2ca" stroke="#efbdb5" stroke-width="0.5"/>
<path d="M113.8,197.4 C112.5,192.5 112.4,187 113,182.4 C113.8,176.5 115.5,171 118.3,166.5 C121.5,161.8 126,158.2 131.5,155.9 C137,153.2 143,151.7 149.2,151.5 C155,151.8 160.5,153.7 165.1,156.8 C169.8,159.7 173.6,163.6 175.7,168.3 L175.8,170 C171,168.5 165,170 159.8,173.6 C156,169.3 151,166.6 144.8,166.5 C139.5,167 134.8,169.6 131.5,173.6 C128.7,176.6 126.9,180.2 126.2,184.2 C128.5,187.5 131.5,190.8 135,193 C133,196.2 130.3,198.7 127.1,200.1 C124.3,201.2 121.2,201.5 118.3,201 C116.3,200.2 114.8,199 113.8,197.4Z" fill="#d8c8d1" stroke="#c9b6c2" stroke-width="0.6"/>
<clipPath id="clipBrain"><path d="M113.8,197.4 C112.5,192.5 112.4,187 113,182.4 C113.8,176.5 115.5,171 118.3,166.5 C121.5,161.8 126,158.2 131.5,155.9 C137,153.2 143,151.7 149.2,151.5 C155,151.8 160.5,153.7 165.1,156.8 C169.8,159.7 173.6,163.6 175.7,168.3 L175.8,170 C171,168.5 165,170 159.8,173.6 C156,169.3 151,166.6 144.8,166.5 C139.5,167 134.8,169.6 131.5,173.6 C128.7,176.6 126.9,180.2 126.2,184.2 C128.5,187.5 131.5,190.8 135,193 C133,196.2 130.3,198.7 127.1,200.1 C124.3,201.2 121.2,201.5 118.3,201 C116.3,200.2 114.8,199 113.8,197.4Z"/></clipPath><g clip-path="url(#clipBrain)">
<path d="M135.1,159.8 q2,-1 3.3,1.5" fill="none" stroke="#bfaab8" stroke-width="0.55" opacity="0.8"/>
<path d="M136.4,159.9 q-1.9,-1.1 -0.4,-3.6" fill="none" stroke="#bfaab8" stroke-width="0.55" opacity="0.8"/>
<path d="M121.4,173.9 q-1.5,-1.6 0.5,-3.6" fill="none" stroke="#bfaab8" stroke-width="0.55" opacity="0.8"/>
<path d="M157.9,166.7 q-0.7,2.1 -3.4,1.2" fill="none" stroke="#bfaab8" stroke-width="0.55" opacity="0.8"/>
<path d="M116.5,180.4 q-0.8,-2.1 1.9,-3.1" fill="none" stroke="#bfaab8" stroke-width="0.55" opacity="0.8"/>
<path d="M114.6,184.6 q2.1,-0.5 2.8,2.3" fill="none" stroke="#bfaab8" stroke-width="0.55" opacity="0.8"/>
<path d="M151.4,157.8 q1.2,1.8 -1.1,3.4" fill="none" stroke="#bfaab8" stroke-width="0.55" opacity="0.8"/>
<path d="M120.5,185.9 q2,0.8 1.1,3.4" fill="none" stroke="#bfaab8" stroke-width="0.55" opacity="0.8"/>
<path d="M124.7,174.5 q2.2,0.4 1.7,3.2" fill="none" stroke="#bfaab8" stroke-width="0.55" opacity="0.8"/>
<path d="M136.5,160.7 q1.2,-1.8 3.6,-0.3" fill="none" stroke="#bfaab8" stroke-width="0.55" opacity="0.8"/>
<path d="M140.1,157.4 q-2.2,0 -2.2,-2.8" fill="none" stroke="#bfaab8" stroke-width="0.55" opacity="0.8"/>
<path d="M151.6,159.6 q-0.4,2.2 -3.2,1.7" fill="none" stroke="#bfaab8" stroke-width="0.55" opacity="0.8"/>
<path d="M165.5,163.9 q-0.9,2 -3.5,0.9" fill="none" stroke="#bfaab8" stroke-width="0.55" opacity="0.8"/>
<path d="M125.2,172 q2,0.9 0.8,3.5" fill="none" stroke="#bfaab8" stroke-width="0.55" opacity="0.8"/>
<path d="M158.5,163 q1.2,-1.8 3.6,-0.2" fill="none" stroke="#bfaab8" stroke-width="0.55" opacity="0.8"/>
<path d="M127.6,158.6 q1.3,-1.8 3.6,-0.2" fill="none" stroke="#bfaab8" stroke-width="0.55" opacity="0.8"/>
<path d="M124.6,186 q1.9,-1.2 3.4,1.2" fill="none" stroke="#bfaab8" stroke-width="0.55" opacity="0.8"/>
<path d="M134.7,155 q-1.8,1.3 -3.5,-0.9" fill="none" stroke="#bfaab8" stroke-width="0.55" opacity="0.8"/>
<path d="M118.7,181.8 q0.4,-2.2 3.2,-1.7" fill="none" stroke="#bfaab8" stroke-width="0.55" opacity="0.8"/>
<path d="M128.7,171.1 q-1.1,1.9 -3.6,0.5" fill="none" stroke="#bfaab8" stroke-width="0.55" opacity="0.8"/>
<path d="M171.9,171.7 q1.6,1.5 -0.3,3.6" fill="none" stroke="#bfaab8" stroke-width="0.55" opacity="0.8"/>
<path d="M127.8,172.1 q2,0.8 1,3.4" fill="none" stroke="#bfaab8" stroke-width="0.55" opacity="0.8"/>
<path d="M158.7,166.2 q-2.1,-0.8 -1.1,-3.4" fill="none" stroke="#bfaab8" stroke-width="0.55" opacity="0.8"/>
<path d="M136.6,163.6 q-0.3,-2.2 2.5,-2.5" fill="none" stroke="#bfaab8" stroke-width="0.55" opacity="0.8"/>
<path d="M118.8,177.4 q1.6,1.5 -0.2,3.6" fill="none" stroke="#bfaab8" stroke-width="0.55" opacity="0.8"/>
<path d="M134.9,164.1 q-0.3,2.2 -3.1,1.9" fill="none" stroke="#bfaab8" stroke-width="0.55" opacity="0.8"/>
<path d="M172.7,172.1 q-0.7,2.1 -3.4,1.2" fill="none" stroke="#bfaab8" stroke-width="0.55" opacity="0.8"/>
<path d="M163.1,169.7 q-1.7,1.4 -3.5,-0.8" fill="none" stroke="#bfaab8" stroke-width="0.55" opacity="0.8"/>
<path d="M165.8,165.1 q1.8,1.3 0.1,3.6" fill="none" stroke="#bfaab8" stroke-width="0.55" opacity="0.8"/>
<path d="M166.2,175.4 q-0.1,2.2 -2.9,2.1" fill="none" stroke="#bfaab8" stroke-width="0.55" opacity="0.8"/>
<path d="M158.4,163.9 q-0.6,2.1 -3.3,1.3" fill="none" stroke="#bfaab8" stroke-width="0.55" opacity="0.8"/>
<path d="M125.4,181.6 q-1.9,-1.1 -0.5,-3.6" fill="none" stroke="#bfaab8" stroke-width="0.55" opacity="0.8"/>
<path d="M122.3,169.6 q-1.5,1.6 -3.6,-0.3" fill="none" stroke="#bfaab8" stroke-width="0.55" opacity="0.8"/>
<path d="M133.2,155.7 q-2.2,0.2 -2.5,-2.6" fill="none" stroke="#bfaab8" stroke-width="0.55" opacity="0.8"/>
<path d="M144.7,154.5 q0.9,2 -1.7,3.2" fill="none" stroke="#bfaab8" stroke-width="0.55" opacity="0.8"/>
<path d="M116,175 q0.9,-2 3.5,-0.9" fill="none" stroke="#bfaab8" stroke-width="0.55" opacity="0.8"/>
<path d="M127,171.5 q-0.2,-2.2 2.7,-2.4" fill="none" stroke="#bfaab8" stroke-width="0.55" opacity="0.8"/>
<path d="M164.8,172.7 q2.1,-0.7 3,2" fill="none" stroke="#bfaab8" stroke-width="0.55" opacity="0.8"/>
<path d="M166.9,167 q-1.9,1 -3.3,-1.4" fill="none" stroke="#bfaab8" stroke-width="0.55" opacity="0.8"/>
<path d="M126,179.9 q2.1,-0.5 2.8,2.2" fill="none" stroke="#bfaab8" stroke-width="0.55" opacity="0.8"/>
<path d="M121,169.4 q-0.1,2.2 -2.9,2.1" fill="none" stroke="#bfaab8" stroke-width="0.55" opacity="0.8"/>
<path d="M163.6,163.8 q-0.6,2.1 -3.3,1.4" fill="none" stroke="#bfaab8" stroke-width="0.55" opacity="0.8"/>
<path d="M118.7,173.9 q2,0.9 0.9,3.5" fill="none" stroke="#bfaab8" stroke-width="0.55" opacity="0.8"/>
<path d="M122.2,170.8 q1.3,-1.8 3.6,-0.1" fill="none" stroke="#bfaab8" stroke-width="0.55" opacity="0.8"/>
<path d="M147.7,161 q1.9,-1.1 3.3,1.3" fill="none" stroke="#bfaab8" stroke-width="0.55" opacity="0.8"/>
<path d="M127.6,174.6 q-0.3,2.2 -3.1,1.9" fill="none" stroke="#bfaab8" stroke-width="0.55" opacity="0.8"/>
<path d="M137.2,165 q1,2 -1.5,3.3" fill="none" stroke="#bfaab8" stroke-width="0.55" opacity="0.8"/>
<path d="M129.2,162.8 q1.5,1.6 -0.6,3.6" fill="none" stroke="#bfaab8" stroke-width="0.55" opacity="0.8"/>
<path d="M126.3,160.4 q2.2,-0.3 2.6,2.5" fill="none" stroke="#bfaab8" stroke-width="0.55" opacity="0.8"/>
<path d="M151.8,157.1 q-1.9,-1.1 -0.5,-3.6" fill="none" stroke="#bfaab8" stroke-width="0.55" opacity="0.8"/>
<path d="M126.3,177.9 q2.2,0.2 1.9,3.1" fill="none" stroke="#bfaab8" stroke-width="0.55" opacity="0.8"/>
<path d="M169.2,168.2 q2.1,-0.5 2.8,2.2" fill="none" stroke="#bfaab8" stroke-width="0.55" opacity="0.8"/>
<path d="M119.1,185.7 q-2.2,0.2 -2.5,-2.5" fill="none" stroke="#bfaab8" stroke-width="0.55" opacity="0.8"/>
<path d="M155.7,162.6 q2.2,-0 2.3,2.8" fill="none" stroke="#bfaab8" stroke-width="0.55" opacity="0.8"/>
<path d="M119.7,181.6 q-0.2,-2.2 2.6,-2.5" fill="none" stroke="#bfaab8" stroke-width="0.55" opacity="0.8"/>
<path d="M169.1,167.3 q-0.6,-2.1 2.1,-3" fill="none" stroke="#bfaab8" stroke-width="0.55" opacity="0.8"/>
<path d="M164.1,159.6 q-1.3,1.8 -3.6,0.1" fill="none" stroke="#bfaab8" stroke-width="0.55" opacity="0.8"/>
<path d="M155,155.5 q1.5,-1.6 3.6,0.3" fill="none" stroke="#bfaab8" stroke-width="0.55" opacity="0.8"/>
<path d="M131.1,158.7 q1.4,-1.7 3.6,0.1" fill="none" stroke="#bfaab8" stroke-width="0.55" opacity="0.8"/>
</g>
<path d="M129.5,185.5 C130.5,181 133,178 136,177 C136,180 134,184 131,186Z" fill="#d9565c"/>
<path d="M128.5,186.5 C129.5,181 132.5,177.2 136.8,176 " fill="none" stroke="#fdf1ee" stroke-width="1"/>
<path d="M137,180 C139.5,176.5 143.5,174.5 147,174.5 C145.5,178 143,181.5 140,184Z" fill="#fcefec"/>
<circle cx="143" cy="184" r="2.6" fill="#fdf3f1" stroke="#f3cfc9" stroke-width="0.5"/>
<path d="M149,172.5 C151,175 152.5,178 153,181" fill="none" stroke="#fdf3f1" stroke-width="1.6" stroke-linecap="round"/>
<path d="M141.5,188 L142.5,194" stroke="#f2a79a" stroke-width="1.6" stroke-linecap="round"/>
<circle cx="170.4" cy="181.5" r="11.6" fill="#f4c3ad" stroke="#ecae96" stroke-width="0.5"/>
<path d="M162.5,180 C166,177.5 171,176.5 176,177.5 M164,184.5 C168,182.5 173,182 178,183.5 M167,188.5 C170,187.3 173.5,187.2 176.5,188 M165.5,175.5 C168.5,173.6 172,173.3 175,174.2" fill="none" stroke="#f9dccd" stroke-width="0.9"/>
<ellipse cx="150" cy="200.8" rx="6.2" ry="4.6" fill="#f3b8a5"/>
<path d="M146,193 C149,192 152,193.5 153,196 L147,198Z" fill="#f5cfc5"/>
</g>
<circle cx="753.1" cy="221.5" r="167.6" fill="url(#gR)" stroke="#3b3b38" stroke-width="2.2"/>
<g><circle cx="848.7" cy="193" r="3.1" fill="#a3d3f7"/><circle cx="797.8" cy="157.2" r="3.1" fill="#a3d3f7"/><circle cx="871.2" cy="219.5" r="3.1" fill="#a3d3f7"/><circle cx="775" cy="173.1" r="3.1" fill="#a3d3f7"/><circle cx="775.8" cy="174.3" r="3.1" fill="#a3d3f7"/><circle cx="836.4" cy="191.7" r="3.1" fill="#a3d3f7"/><circle cx="869.8" cy="208.5" r="3.1" fill="#a3d3f7"/><circle cx="847.9" cy="200.2" r="3.1" fill="#a3d3f7"/><circle cx="867.2" cy="226.6" r="3.1" fill="#a3d3f7"/><circle cx="786.8" cy="159.5" r="3.1" fill="#a3d3f7"/><circle cx="858.3" cy="200.7" r="3.1" fill="#a3d3f7"/><circle cx="863.8" cy="231.5" r="3.1" fill="#a3d3f7"/><circle cx="852.6" cy="202.2" r="3.1" fill="#a3d3f7"/><circle cx="837.7" cy="185.1" r="3.1" fill="#a3d3f7"/><circle cx="798.6" cy="168.3" r="3.1" fill="#a3d3f7"/><circle cx="803.5" cy="168.9" r="3.1" fill="#a3d3f7"/><circle cx="840.1" cy="196.1" r="3.1" fill="#a3d3f7"/><circle cx="795.4" cy="178.9" r="3.1" fill="#a3d3f7"/><circle cx="842.2" cy="190.8" r="3.1" fill="#a3d3f7"/><circle cx="855.6" cy="204.9" r="3.1" fill="#a3d3f7"/><circle cx="865" cy="222.8" r="3.1" fill="#a3d3f7"/><circle cx="853.9" cy="187.9" r="3.1" fill="#a3d3f7"/><circle cx="804.2" cy="167" r="3.1" fill="#a3d3f7"/><circle cx="807.5" cy="180.7" r="3.1" fill="#a3d3f7"/><circle cx="861.6" cy="222.5" r="3.1" fill="#a3d3f7"/><circle cx="825.3" cy="168.9" r="3.1" fill="#a3d3f7"/><circle cx="803.9" cy="174.6" r="3.1" fill="#a3d3f7"/><circle cx="792.9" cy="160.9" r="3.1" fill="#a3d3f7"/><circle cx="824" cy="192.1" r="3.1" fill="#a3d3f7"/><circle cx="832.9" cy="182.3" r="3.1" fill="#a3d3f7"/><circle cx="776.8" cy="158.5" r="3.1" fill="#a3d3f7"/><circle cx="827.7" cy="176.5" r="3.1" fill="#a3d3f7"/><circle cx="854.8" cy="226.5" r="3.1" fill="#a3d3f7"/><circle cx="872.8" cy="213.8" r="3.1" fill="#a3d3f7"/><circle cx="843.7" cy="194.9" r="3.1" fill="#a3d3f7"/><circle cx="849" cy="196.4" r="3.1" fill="#a3d3f7"/><circle cx="837" cy="173.5" r="3.1" fill="#a3d3f7"/><circle cx="800" cy="167.1" r="3.1" fill="#a3d3f7"/><circle cx="870.2" cy="215.4" r="3.1" fill="#a3d3f7"/><circle cx="841.5" cy="190.1" r="3.1" fill="#a3d3f7"/><circle cx="845.8" cy="200.9" r="3.1" fill="#a3d3f7"/><circle cx="838.6" cy="183" r="3.1" fill="#a3d3f7"/><circle cx="783" cy="161.3" r="3.1" fill="#a3d3f7"/><circle cx="860.5" cy="212.1" r="3.1" fill="#a3d3f7"/><circle cx="867.3" cy="214.1" r="3.1" fill="#a3d3f7"/><circle cx="837.8" cy="183.5" r="3.1" fill="#a3d3f7"/><circle cx="860.4" cy="208.4" r="3.1" fill="#a3d3f7"/><circle cx="834.4" cy="196.2" r="3.1" fill="#a3d3f7"/><circle cx="824.3" cy="181.4" r="3.1" fill="#a3d3f7"/><circle cx="854.3" cy="204.9" r="3.1" fill="#a3d3f7"/><circle cx="866.2" cy="224.2" r="3.1" fill="#a3d3f7"/><circle cx="835.2" cy="184.8" r="3.1" fill="#a3d3f7"/><circle cx="809.4" cy="167.3" r="3.1" fill="#a3d3f7"/><circle cx="805.5" cy="169.3" r="3.1" fill="#a3d3f7"/><circle cx="808.8" cy="159.6" r="3.1" fill="#a3d3f7"/><circle cx="779.6" cy="174.6" r="3.1" fill="#a3d3f7"/><circle cx="806.5" cy="175.6" r="3.1" fill="#a3d3f7"/><circle cx="827.6" cy="188" r="3.1" fill="#a3d3f7"/><circle cx="860.2" cy="210.3" r="3.1" fill="#a3d3f7"/><circle cx="817.6" cy="178" r="3.1" fill="#a3d3f7"/><circle cx="845" cy="185.4" r="3.1" fill="#a3d3f7"/><circle cx="778.2" cy="168.9" r="3.1" fill="#a3d3f7"/><circle cx="863.7" cy="217" r="3.1" fill="#a3d3f7"/><circle cx="821.1" cy="178.6" r="3.1" fill="#a3d3f7"/><circle cx="807.4" cy="163.8" r="3.1" fill="#a3d3f7"/><circle cx="861.9" cy="212.7" r="3.1" fill="#a3d3f7"/><circle cx="877.9" cy="216.6" r="3.1" fill="#a3d3f7"/><circle cx="869.4" cy="217.8" r="3.1" fill="#a3d3f7"/><circle cx="830.3" cy="185.1" r="3.1" fill="#a3d3f7"/><circle cx="765.2" cy="177.7" r="3.1" fill="#a3d3f7"/><circle cx="805.2" cy="161" r="3.1" fill="#a3d3f7"/><circle cx="840.8" cy="169.4" r="3.1" fill="#a3d3f7"/><circle cx="835.4" cy="181.7" r="3.1" fill="#a3d3f7"/><circle cx="815.2" cy="166.7" r="3.1" fill="#a3d3f7"/><circle cx="834.7" cy="181.9" r="3.1" fill="#a3d3f7"/><circle cx="827.6" cy="187.2" r="3.1" fill="#a3d3f7"/><circle cx="792.4" cy="164.9" r="3.1" fill="#a3d3f7"/><circle cx="786.6" cy="160.4" r="3.1" fill="#a3d3f7"/><circle cx="808.9" cy="174.5" r="3.1" fill="#a3d3f7"/><circle cx="794.8" cy="162.1" r="3.1" fill="#a3d3f7"/><circle cx="822.9" cy="170" r="3.1" fill="#8ecbf6"/><circle cx="847.5" cy="193.8" r="3.1" fill="#8ecbf6"/><circle cx="814.9" cy="171.6" r="3.1" fill="#8ecbf6"/><circle cx="819.4" cy="175.4" r="3.1" fill="#8ecbf6"/><circle cx="799.2" cy="167.7" r="3.1" fill="#8ecbf6"/><circle cx="850.3" cy="191" r="3.1" fill="#8ecbf6"/><circle cx="827.8" cy="165.5" r="3.1" fill="#8ecbf6"/><circle cx="842.2" cy="187.8" r="3.1" fill="#8ecbf6"/><circle cx="840.6" cy="179.7" r="3.1" fill="#8ecbf6"/><circle cx="847.4" cy="189.1" r="3.1" fill="#8ecbf6"/><circle cx="839.8" cy="189.7" r="3.1" fill="#8ecbf6"/><circle cx="847.1" cy="189.5" r="3.1" fill="#8ecbf6"/><circle cx="811.1" cy="164" r="3.1" fill="#8ecbf6"/><circle cx="833.3" cy="175.2" r="3.1" fill="#8ecbf6"/><circle cx="834.5" cy="183.1" r="3.1" fill="#8ecbf6"/><circle cx="845.6" cy="185.6" r="3.1" fill="#8ecbf6"/><circle cx="827" cy="172.7" r="3.1" fill="#8ecbf6"/><circle cx="837.9" cy="180.6" r="3.1" fill="#8ecbf6"/><circle cx="834.9" cy="180.6" r="3.1" fill="#8ecbf6"/><circle cx="817.1" cy="166.3" r="3.1" fill="#8ecbf6"/><circle cx="837.6" cy="184.9" r="3.1" fill="#8ecbf6"/><circle cx="834.2" cy="178.6" r="3.1" fill="#8ecbf6"/><circle cx="827.8" cy="165.6" r="3.1" fill="#8ecbf6"/><circle cx="845.2" cy="184" r="3.1" fill="#8ecbf6"/><circle cx="825.2" cy="172.3" r="3.1" fill="#8ecbf6"/><circle cx="817.2" cy="227" r="3.1" fill="#a3d3f7"/><circle cx="777.3" cy="186.9" r="3.1" fill="#a3d3f7"/><circle cx="838.3" cy="212.7" r="3.1" fill="#a3d3f7"/><circle cx="751" cy="187.3" r="3.1" fill="#a3d3f7"/><circle cx="834" cy="210.1" r="3.1" fill="#a3d3f7"/><circle cx="819.1" cy="229.8" r="3.1" fill="#a3d3f7"/><circle cx="769.7" cy="182.9" r="3.1" fill="#a3d3f7"/><circle cx="773.7" cy="185.3" r="3.1" fill="#a3d3f7"/><circle cx="779.5" cy="189.1" r="3.1" fill="#a3d3f7"/><circle cx="753.7" cy="200.1" r="3.1" fill="#a3d3f7"/><circle cx="830.3" cy="218.8" r="3.1" fill="#a3d3f7"/><circle cx="790.1" cy="220.2" r="3.1" fill="#a3d3f7"/><circle cx="801.9" cy="201.2" r="3.1" fill="#a3d3f7"/><circle cx="840.4" cy="243.7" r="3.1" fill="#a3d3f7"/><circle cx="780.6" cy="197.9" r="3.1" fill="#a3d3f7"/><circle cx="810.1" cy="221.6" r="3.1" fill="#a3d3f7"/><circle cx="789.1" cy="207.7" r="3.1" fill="#a3d3f7"/><circle cx="773.4" cy="192.3" r="3.1" fill="#a3d3f7"/><circle cx="817.4" cy="221" r="3.1" fill="#a3d3f7"/><circle cx="811.8" cy="206.7" r="3.1" fill="#a3d3f7"/><circle cx="752.4" cy="188" r="3.1" fill="#a3d3f7"/><circle cx="785.6" cy="184.9" r="3.1" fill="#a3d3f7"/><circle cx="774.8" cy="201.1" r="3.1" fill="#a3d3f7"/><circle cx="785.6" cy="201.2" r="3.1" fill="#a3d3f7"/><circle cx="798.7" cy="194" r="3.1" fill="#a3d3f7"/><circle cx="822.5" cy="218.3" r="3.1" fill="#a3d3f7"/><circle cx="805.5" cy="203.1" r="3.1" fill="#a3d3f7"/><circle cx="779.7" cy="193.2" r="3.1" fill="#a3d3f7"/><circle cx="787.5" cy="201.4" r="3.1" fill="#a3d3f7"/><circle cx="803.8" cy="192.2" r="3.1" fill="#a3d3f7"/><circle cx="773.1" cy="197.7" r="3.1" fill="#a3d3f7"/><circle cx="799.3" cy="219.2" r="3.1" fill="#a3d3f7"/><circle cx="813.4" cy="208.7" r="3.1" fill="#a3d3f7"/><circle cx="773.7" cy="193.8" r="3.1" fill="#a3d3f7"/><circle cx="794.9" cy="197.6" r="3.1" fill="#a3d3f7"/><circle cx="784.5" cy="194.3" r="3.1" fill="#a3d3f7"/><circle cx="805.9" cy="210.8" r="3.1" fill="#a3d3f7"/><circle cx="820.5" cy="209" r="3.1" fill="#a3d3f7"/><circle cx="823.5" cy="219.2" r="3.1" fill="#a3d3f7"/><circle cx="774.6" cy="190.8" r="3.1" fill="#a3d3f7"/><circle cx="754" cy="208.2" r="3.1" fill="#a3d3f7"/><circle cx="795.1" cy="188.9" r="3.1" fill="#a3d3f7"/><circle cx="818.5" cy="217.4" r="3.1" fill="#a3d3f7"/><circle cx="817.4" cy="214.1" r="3.1" fill="#a3d3f7"/><circle cx="800.4" cy="192.7" r="3.1" fill="#a3d3f7"/><circle cx="826.5" cy="213.7" r="3.1" fill="#a3d3f7"/><circle cx="774.1" cy="203.2" r="3.1" fill="#a3d3f7"/><circle cx="806.7" cy="212.8" r="3.1" fill="#a3d3f7"/><circle cx="780.7" cy="196" r="3.1" fill="#a3d3f7"/><circle cx="771.1" cy="201.5" r="3.1" fill="#a3d3f7"/><circle cx="763.7" cy="204.6" r="3.1" fill="#a3d3f7"/><circle cx="819.2" cy="214.1" r="3.1" fill="#a3d3f7"/><circle cx="794.6" cy="205.4" r="3.1" fill="#a3d3f7"/><circle cx="796.4" cy="192.5" r="3.1" fill="#a3d3f7"/><circle cx="819.2" cy="200.7" r="3.1" fill="#a3d3f7"/><circle cx="791.7" cy="197" r="3.1" fill="#a3d3f7"/><circle cx="827.2" cy="198.9" r="3.1" fill="#a3d3f7"/><circle cx="788.1" cy="188.7" r="3.1" fill="#a3d3f7"/><circle cx="804.8" cy="211.1" r="3.1" fill="#a3d3f7"/><circle cx="796.3" cy="199.8" r="3.1" fill="#a3d3f7"/><circle cx="806.4" cy="212.3" r="3.1" fill="#a3d3f7"/><circle cx="799.7" cy="207.1" r="3.1" fill="#a3d3f7"/><circle cx="744.2" cy="199.8" r="3.1" fill="#a3d3f7"/><circle cx="749.2" cy="190.8" r="3.1" fill="#a3d3f7"/><circle cx="798.9" cy="201.7" r="3.1" fill="#a3d3f7"/><circle cx="763.5" cy="204" r="3.1" fill="#a3d3f7"/><circle cx="784.8" cy="182.7" r="3.1" fill="#a3d3f7"/><circle cx="774.5" cy="193.4" r="3.1" fill="#a3d3f7"/><circle cx="804.9" cy="204.9" r="3.1" fill="#5fa9ec"/><circle cx="807.7" cy="201.3" r="3.1" fill="#5fa9ec"/><circle cx="815.8" cy="213.7" r="3.1" fill="#5fa9ec"/><circle cx="766.2" cy="191.5" r="3.1" fill="#5fa9ec"/><circle cx="803.3" cy="209.1" r="3.1" fill="#5fa9ec"/><circle cx="809.3" cy="208.6" r="3.1" fill="#5fa9ec"/><circle cx="803.4" cy="205" r="3.1" fill="#5fa9ec"/><circle cx="818.6" cy="217.5" r="3.1" fill="#5fa9ec"/><circle cx="761.3" cy="197.4" r="3.1" fill="#5fa9ec"/><circle cx="816.1" cy="230.8" r="3.1" fill="#5fa9ec"/><circle cx="765.4" cy="182" r="3.1" fill="#5fa9ec"/><circle cx="772" cy="178.7" r="3.1" fill="#5fa9ec"/><circle cx="815.6" cy="219.6" r="3.1" fill="#5fa9ec"/><circle cx="810" cy="221.6" r="3.1" fill="#5fa9ec"/><circle cx="783.6" cy="197" r="3.1" fill="#5fa9ec"/><circle cx="818.7" cy="217.1" r="3.1" fill="#5fa9ec"/><circle cx="816.4" cy="216.5" r="3.1" fill="#5fa9ec"/><circle cx="800.3" cy="216.5" r="3.1" fill="#5fa9ec"/><circle cx="822.7" cy="236.2" r="3.1" fill="#5fa9ec"/><circle cx="792.8" cy="205.5" r="3.1" fill="#5fa9ec"/><circle cx="809.3" cy="225.5" r="3.1" fill="#5fa9ec"/><circle cx="827.1" cy="225.2" r="3.1" fill="#5fa9ec"/><circle cx="772.7" cy="194.8" r="3.1" fill="#5fa9ec"/><circle cx="801.2" cy="199.7" r="3.1" fill="#5fa9ec"/><circle cx="778.8" cy="202.4" r="3.1" fill="#5fa9ec"/><circle cx="794.2" cy="189.4" r="3.1" fill="#5fa9ec"/><circle cx="797.8" cy="194.5" r="3.1" fill="#5fa9ec"/><circle cx="767.9" cy="183.2" r="3.1" fill="#5fa9ec"/><circle cx="809.1" cy="207" r="3.1" fill="#5fa9ec"/><circle cx="797.1" cy="200.1" r="3.1" fill="#5fa9ec"/><circle cx="777.3" cy="187.8" r="3.1" fill="#5fa9ec"/><circle cx="794.5" cy="208" r="3.1" fill="#5fa9ec"/><circle cx="792.3" cy="194.3" r="3.1" fill="#5fa9ec"/><circle cx="808.5" cy="217" r="3.1" fill="#5fa9ec"/><circle cx="856.8" cy="249.8" r="3.1" fill="#8ecbf6"/><circle cx="859.8" cy="257.8" r="3.1" fill="#8ecbf6"/><circle cx="857.4" cy="230.5" r="3.1" fill="#8ecbf6"/><circle cx="850.7" cy="259.9" r="3.1" fill="#8ecbf6"/><circle cx="844.9" cy="235.8" r="3.1" fill="#8ecbf6"/><circle cx="857.8" cy="249" r="3.1" fill="#8ecbf6"/><circle cx="851.5" cy="251.2" r="3.1" fill="#8ecbf6"/><circle cx="867.2" cy="246.9" r="3.1" fill="#8ecbf6"/><circle cx="839.3" cy="227.3" r="3.1" fill="#8ecbf6"/><circle cx="862.7" cy="269.2" r="3.1" fill="#8ecbf6"/><circle cx="829.6" cy="235.4" r="3.1" fill="#8ecbf6"/><circle cx="844.5" cy="228.9" r="3.1" fill="#8ecbf6"/><circle cx="845.5" cy="242.4" r="3.1" fill="#8ecbf6"/><circle cx="831" cy="238.4" r="3.1" fill="#8ecbf6"/><circle cx="848.7" cy="243.4" r="3.1" fill="#8ecbf6"/><circle cx="852.2" cy="236" r="3.1" fill="#8ecbf6"/><circle cx="857.2" cy="260.4" r="3.1" fill="#8ecbf6"/><circle cx="862.2" cy="264" r="3.1" fill="#8ecbf6"/><circle cx="843.1" cy="218" r="3.1" fill="#8ecbf6"/><circle cx="849.7" cy="261" r="3.1" fill="#8ecbf6"/><circle cx="840" cy="242.5" r="3.1" fill="#8ecbf6"/><circle cx="841.5" cy="260.4" r="3.1" fill="#8ecbf6"/><circle cx="844.2" cy="219.2" r="3.1" fill="#8ecbf6"/><circle cx="862.2" cy="239.5" r="3.1" fill="#8ecbf6"/><circle cx="850.5" cy="265.2" r="3.1" fill="#8ecbf6"/><circle cx="854.9" cy="250.4" r="3.1" fill="#8ecbf6"/><circle cx="854.2" cy="241.5" r="3.1" fill="#8ecbf6"/><circle cx="836.8" cy="242.9" r="3.1" fill="#8ecbf6"/><circle cx="847.9" cy="251.5" r="3.1" fill="#8ecbf6"/><circle cx="856.3" cy="214.8" r="3.1" fill="#8ecbf6"/><circle cx="834.5" cy="242.6" r="3.1" fill="#8ecbf6"/><circle cx="875.7" cy="233.2" r="3.1" fill="#8ecbf6"/><circle cx="846.8" cy="220.1" r="3.1" fill="#8ecbf6"/><circle cx="866.8" cy="237.3" r="3.1" fill="#8ecbf6"/><circle cx="839.6" cy="229.3" r="3.1" fill="#8ecbf6"/><circle cx="876.9" cy="229.8" r="3.1" fill="#8ecbf6"/><circle cx="858.5" cy="247" r="3.1" fill="#8ecbf6"/><circle cx="839" cy="264" r="3.1" fill="#8ecbf6"/><circle cx="846.7" cy="232.4" r="3.1" fill="#8ecbf6"/><circle cx="860.7" cy="262.1" r="3.1" fill="#8ecbf6"/><circle cx="840.1" cy="236.5" r="3.1" fill="#8ecbf6"/><circle cx="855.8" cy="243.9" r="3.1" fill="#8ecbf6"/><circle cx="842.5" cy="243.8" r="3.1" fill="#8ecbf6"/><circle cx="851.4" cy="247.9" r="3.1" fill="#8ecbf6"/><circle cx="877.2" cy="240" r="3.1" fill="#8ecbf6"/><circle cx="870.9" cy="246" r="3.1" fill="#8ecbf6"/><circle cx="851.7" cy="245.3" r="3.1" fill="#8ecbf6"/><circle cx="859.8" cy="222.6" r="3.1" fill="#8ecbf6"/><circle cx="853.9" cy="262.4" r="3.1" fill="#8ecbf6"/><circle cx="849.1" cy="223.8" r="3.1" fill="#8ecbf6"/><circle cx="860" cy="251.7" r="3.1" fill="#8ecbf6"/><circle cx="838.5" cy="259.1" r="3.1" fill="#8ecbf6"/><circle cx="863.6" cy="231.4" r="3.1" fill="#8ecbf6"/><circle cx="854.2" cy="227.1" r="3.1" fill="#8ecbf6"/><circle cx="876.6" cy="236.9" r="3.1" fill="#8ecbf6"/><circle cx="843.2" cy="231.5" r="3.1" fill="#8ecbf6"/><circle cx="845.5" cy="252.7" r="3.1" fill="#8ecbf6"/><circle cx="866.1" cy="241.2" r="3.1" fill="#8ecbf6"/><circle cx="850.9" cy="221.3" r="3.1" fill="#8ecbf6"/><circle cx="845.5" cy="244.2" r="3.1" fill="#8ecbf6"/><circle cx="834.6" cy="257.8" r="3.1" fill="#8ecbf6"/><circle cx="845.8" cy="217" r="3.1" fill="#8ecbf6"/><circle cx="851.7" cy="261.7" r="3.1" fill="#8ecbf6"/><circle cx="867.1" cy="236.5" r="3.1" fill="#8ecbf6"/><circle cx="854.1" cy="232.3" r="3.1" fill="#8ecbf6"/><circle cx="870.3" cy="241.8" r="3.1" fill="#8ecbf6"/><circle cx="851.1" cy="250.4" r="3.1" fill="#8ecbf6"/><circle cx="841.7" cy="230" r="3.1" fill="#8ecbf6"/><circle cx="867.5" cy="234.7" r="3.1" fill="#8ecbf6"/><circle cx="863.3" cy="266.4" r="3.1" fill="#8ecbf6"/><circle cx="835.2" cy="235.3" r="3.1" fill="#8ecbf6"/><circle cx="844.6" cy="237.2" r="3.1" fill="#8ecbf6"/><circle cx="847.8" cy="261.5" r="3.1" fill="#8ecbf6"/><circle cx="862.7" cy="232.8" r="3.1" fill="#8ecbf6"/><circle cx="861.6" cy="225.4" r="3.1" fill="#8ecbf6"/><circle cx="868.6" cy="236.9" r="3.1" fill="#8ecbf6"/><circle cx="861.3" cy="230" r="3.1" fill="#8ecbf6"/><circle cx="842.6" cy="260" r="3.1" fill="#8ecbf6"/><circle cx="867" cy="244.8" r="3.1" fill="#8ecbf6"/><circle cx="857.1" cy="259.7" r="3.1" fill="#8ecbf6"/><circle cx="840.1" cy="255.3" r="3.1" fill="#8ecbf6"/><circle cx="842.8" cy="232.1" r="3.1" fill="#8ecbf6"/><circle cx="847.4" cy="249.2" r="3.1" fill="#8ecbf6"/><circle cx="854.9" cy="219.2" r="3.1" fill="#8ecbf6"/><circle cx="847" cy="269.4" r="3.1" fill="#8ecbf6"/><circle cx="869.2" cy="259.4" r="3.1" fill="#5fa9ec"/><circle cx="855.7" cy="221" r="3.1" fill="#5fa9ec"/><circle cx="837" cy="257.6" r="3.1" fill="#5fa9ec"/><circle cx="850.5" cy="246.8" r="3.1" fill="#5fa9ec"/><circle cx="838.9" cy="242.8" r="3.1" fill="#5fa9ec"/><circle cx="875.4" cy="231.3" r="3.1" fill="#5fa9ec"/><circle cx="839.1" cy="250.1" r="3.1" fill="#5fa9ec"/><circle cx="834.7" cy="248.4" r="3.1" fill="#5fa9ec"/><circle cx="836.6" cy="254.5" r="3.1" fill="#5fa9ec"/><circle cx="856.5" cy="263" r="3.1" fill="#5fa9ec"/><circle cx="864.2" cy="248.2" r="3.1" fill="#5fa9ec"/><circle cx="853.9" cy="226.7" r="3.1" fill="#5fa9ec"/><circle cx="873.3" cy="229.4" r="3.1" fill="#5fa9ec"/><circle cx="863.7" cy="239" r="3.1" fill="#5fa9ec"/><circle cx="840.1" cy="266" r="3.1" fill="#5fa9ec"/><circle cx="863.8" cy="219.3" r="3.1" fill="#5fa9ec"/><circle cx="857.3" cy="250.1" r="3.1" fill="#5fa9ec"/><circle cx="872" cy="252.9" r="3.1" fill="#5fa9ec"/><circle cx="848.2" cy="248.8" r="3.1" fill="#5fa9ec"/><circle cx="845.3" cy="221.6" r="3.1" fill="#5fa9ec"/><circle cx="835.3" cy="250.3" r="3.1" fill="#5fa9ec"/><circle cx="857.1" cy="246" r="3.1" fill="#5fa9ec"/><circle cx="859.7" cy="237.1" r="3.1" fill="#5fa9ec"/><circle cx="847.5" cy="251.9" r="3.1" fill="#5fa9ec"/><circle cx="840.7" cy="239.7" r="3.1" fill="#5fa9ec"/><circle cx="857.9" cy="239.8" r="3.1" fill="#5fa9ec"/><circle cx="869" cy="267.4" r="3.1" fill="#5fa9ec"/><circle cx="849.8" cy="238.6" r="3.1" fill="#5fa9ec"/><circle cx="860.1" cy="245.1" r="3.1" fill="#5fa9ec"/><circle cx="844.6" cy="247.7" r="3.1" fill="#5fa9ec"/><circle cx="852.9" cy="249.6" r="3.1" fill="#5fa9ec"/><circle cx="853.1" cy="239.3" r="3.1" fill="#5fa9ec"/><circle cx="842.7" cy="249.4" r="3.1" fill="#5fa9ec"/><circle cx="843.4" cy="232.9" r="3.1" fill="#5fa9ec"/><circle cx="861" cy="270.7" r="3.1" fill="#5fa9ec"/><circle cx="848.9" cy="274" r="3.1" fill="#5fa9ec"/><circle cx="850.2" cy="271.1" r="3.1" fill="#5fa9ec"/><circle cx="876.4" cy="246.9" r="3.1" fill="#5fa9ec"/><circle cx="869" cy="260" r="3.1" fill="#5fa9ec"/><circle cx="870.1" cy="255.1" r="3.1" fill="#5fa9ec"/><circle cx="863.4" cy="259.8" r="3.1" fill="#5fa9ec"/><circle cx="856" cy="268.3" r="3.1" fill="#5fa9ec"/><circle cx="855.9" cy="266.6" r="3.1" fill="#5fa9ec"/><circle cx="869.3" cy="253" r="3.1" fill="#5fa9ec"/><circle cx="870.5" cy="244.9" r="3.1" fill="#5fa9ec"/><circle cx="868.3" cy="260" r="3.1" fill="#5fa9ec"/><circle cx="867.4" cy="260.1" r="3.1" fill="#5fa9ec"/><circle cx="855.4" cy="269.5" r="3.1" fill="#5fa9ec"/><circle cx="841.4" cy="270.9" r="3.1" fill="#5fa9ec"/><circle cx="869.1" cy="260.7" r="3.1" fill="#5fa9ec"/><circle cx="855" cy="269.9" r="3.1" fill="#5fa9ec"/><circle cx="873" cy="247.9" r="3.1" fill="#5fa9ec"/><circle cx="847.3" cy="272.1" r="3.1" fill="#5fa9ec"/><circle cx="879.5" cy="239.6" r="3.1" fill="#5fa9ec"/><circle cx="881.6" cy="240.9" r="3.1" fill="#5fa9ec"/><circle cx="858.6" cy="268.1" r="3.1" fill="#5fa9ec"/><circle cx="862.6" cy="263.5" r="3.1" fill="#5fa9ec"/><circle cx="866.2" cy="254.4" r="3.1" fill="#5fa9ec"/><circle cx="877.7" cy="244.5" r="3.1" fill="#5fa9ec"/><circle cx="843.3" cy="270.5" r="3.1" fill="#5fa9ec"/><circle cx="875.9" cy="245.4" r="3.1" fill="#5fa9ec"/><circle cx="875" cy="248.1" r="3.1" fill="#5fa9ec"/><circle cx="863.7" cy="271.1" r="3.1" fill="#5fa9ec"/><circle cx="854.9" cy="270.6" r="3.1" fill="#5fa9ec"/><circle cx="842.1" cy="207.4" r="3.1" fill="#a3d3f7"/><circle cx="832" cy="211.3" r="3.1" fill="#a3d3f7"/><circle cx="831.9" cy="213.1" r="3.1" fill="#a3d3f7"/><circle cx="843.1" cy="213.4" r="3.1" fill="#a3d3f7"/><circle cx="845" cy="212.5" r="3.1" fill="#a3d3f7"/><circle cx="845" cy="210.1" r="3.1" fill="#a3d3f7"/><circle cx="841.4" cy="207.4" r="3.1" fill="#a3d3f7"/><circle cx="837.1" cy="203.5" r="3.1" fill="#a3d3f7"/><circle cx="845" cy="208.5" r="3.1" fill="#a3d3f7"/><circle cx="837" cy="211.1" r="3.1" fill="#a3d3f7"/><circle cx="847.5" cy="215.8" r="3.1" fill="#a3d3f7"/><circle cx="832.1" cy="211.2" r="3.1" fill="#a3d3f7"/><circle cx="835.2" cy="204" r="3.1" fill="#a3d3f7"/><circle cx="849.4" cy="210.3" r="3.1" fill="#a3d3f7"/><circle cx="840" cy="211.7" r="3.1" fill="#a3d3f7"/><circle cx="837.9" cy="208.4" r="3.1" fill="#a3d3f7"/><circle cx="840.2" cy="214.4" r="3.1" fill="#a5dcd0"/><circle cx="842" cy="226.1" r="3.1" fill="#a5dcd0"/><circle cx="838.5" cy="219.6" r="3.1" fill="#a5dcd0"/><circle cx="840.1" cy="217.2" r="3.1" fill="#a5dcd0"/><circle cx="841.6" cy="215.5" r="3.1" fill="#a5dcd0"/><circle cx="842.4" cy="219.8" r="3.1" fill="#a5dcd0"/><circle cx="843.2" cy="223.2" r="3.1" fill="#a5dcd0"/><circle cx="840.7" cy="217.5" r="3.1" fill="#a5dcd0"/><circle cx="840.7" cy="214.3" r="3.1" fill="#a5dcd0"/><circle cx="838.5" cy="219.8" r="3.1" fill="#a5dcd0"/><circle cx="823.4" cy="205" r="3.1" fill="#4a92cc"/><circle cx="831.6" cy="209.2" r="3.1" fill="#4a92cc"/><circle cx="827.5" cy="200.9" r="3.1" fill="#4a92cc"/><circle cx="833.8" cy="188.5" r="3.1" fill="#4a92cc"/><circle cx="830.2" cy="198.2" r="3.1" fill="#4a92cc"/><circle cx="823.4" cy="209.2" r="3.1" fill="#4a92cc"/><circle cx="768.5" cy="184.1" r="3.1" fill="#4a92cc"/><circle cx="785.9" cy="191.8" r="3.1" fill="#4a92cc"/><circle cx="785.8" cy="191.7" r="3.1" fill="#4a92cc"/><circle cx="801.5" cy="193.6" r="3.1" fill="#4a92cc"/><circle cx="791.4" cy="191.4" r="3.1" fill="#4a92cc"/><circle cx="800.4" cy="193.6" r="3.1" fill="#4a92cc"/><circle cx="778.5" cy="186.2" r="3.1" fill="#4a92cc"/><circle cx="796.8" cy="192.6" r="3.1" fill="#4a92cc"/><circle cx="788.3" cy="191.1" r="3.1" fill="#4a92cc"/><circle cx="784.8" cy="189.6" r="3.1" fill="#4a92cc"/><circle cx="795.5" cy="192.1" r="3.1" fill="#4a92cc"/><circle cx="789.7" cy="192.7" r="3.1" fill="#4a92cc"/><circle cx="791.2" cy="187.9" r="3.1" fill="#4a92cc"/><circle cx="790.5" cy="193.9" r="3.1" fill="#4a92cc"/><circle cx="859.7" cy="281.3" r="3.1" fill="#8fd3c0"/><circle cx="854.2" cy="279" r="3.1" fill="#8fd3c0"/><circle cx="863.4" cy="280.1" r="3.1" fill="#8fd3c0"/><circle cx="856.6" cy="274.6" r="3.1" fill="#8fd3c0"/><circle cx="867.6" cy="280.8" r="3.1" fill="#8fd3c0"/><circle cx="860.9" cy="278.8" r="3.1" fill="#8fd3c0"/><circle cx="858.4" cy="270.8" r="3.1" fill="#8fd3c0"/><circle cx="852.9" cy="276.1" r="3.1" fill="#8fd3c0"/><circle cx="855" cy="276.6" r="3.1" fill="#8fd3c0"/><circle cx="862.4" cy="280.4" r="3.1" fill="#8fd3c0"/><circle cx="853.6" cy="284.7" r="3.1" fill="#8fd3c0"/><circle cx="857.7" cy="283.4" r="3.1" fill="#8fd3c0"/><circle cx="863.2" cy="272.4" r="3.1" fill="#8fd3c0"/><circle cx="702.4" cy="200.9" r="3.1" fill="#9fd0f2"/><circle cx="688.7" cy="205" r="3.1" fill="#9fd0f2"/><circle cx="694.2" cy="195.4" r="3.1" fill="#9fd0f2"/><circle cx="679.1" cy="200.9" r="3.1" fill="#9fd0f2"/><circle cx="710.7" cy="206.4" r="3.1" fill="#9fd0f2"/><circle cx="686" cy="189.9" r="3.1" fill="#9fd0f2"/><circle cx="670.8" cy="209.2" r="3.1" fill="#9fd0f2"/><circle cx="738.2" cy="184.4" r="3.1" fill="#9fd0f2"/><circle cx="742.3" cy="195.4" r="3.1" fill="#9fd0f2"/><circle cx="749.2" cy="217.4" r="3.1" fill="#9fd0f2"/><circle cx="773.9" cy="233.9" r="3.1" fill="#9fd0f2"/><circle cx="787.6" cy="229.8" r="3.1" fill="#9fd0f2"/><circle cx="795.9" cy="222.9" r="3.1" fill="#9fd0f2"/><circle cx="749.2" cy="173.4" r="3.1" fill="#9fd0f2"/><circle cx="728.5" cy="102" r="3.1" fill="#fbd2b3"/><circle cx="738" cy="102.9" r="3.1" fill="#fbd2b3"/><circle cx="739.2" cy="106.5" r="3.1" fill="#fbd2b3"/><circle cx="728.8" cy="111.5" r="3.1" fill="#fbd2b3"/><circle cx="734.3" cy="113" r="3.1" fill="#fbd2b3"/><circle cx="733" cy="109.3" r="3.1" fill="#fbd2b3"/><circle cx="735.3" cy="104.4" r="3.1" fill="#fbd2b3"/><circle cx="733.2" cy="102.5" r="3.1" fill="#fbd2b3"/><circle cx="736" cy="100.5" r="3.1" fill="#fbd2b3"/><circle cx="741.7" cy="106.3" r="3.1" fill="#fbd2b3"/><circle cx="727.3" cy="103.9" r="3.1" fill="#fbd2b3"/><circle cx="734.5" cy="104.8" r="3.1" fill="#fbd2b3"/><circle cx="735.9" cy="112.9" r="3.1" fill="#fbd2b3"/><circle cx="731" cy="110.7" r="3.1" fill="#fbd2b3"/><circle cx="740.3" cy="128.9" r="3.1" fill="#fbd2b3"/><circle cx="711.1" cy="123.6" r="3.1" fill="#fbd2b3"/><circle cx="729.1" cy="140.2" r="3.1" fill="#fbd2b3"/><circle cx="736.4" cy="131.6" r="3.1" fill="#fbd2b3"/><circle cx="722.5" cy="139.3" r="3.1" fill="#fbd2b3"/><circle cx="715.2" cy="137" r="3.1" fill="#fbd2b3"/><circle cx="717.3" cy="109.4" r="3.1" fill="#fbd2b3"/><circle cx="716.5" cy="126.2" r="3.1" fill="#fbd2b3"/><circle cx="725.8" cy="130.2" r="3.1" fill="#fbd2b3"/><circle cx="709.4" cy="117" r="3.1" fill="#fbd2b3"/><circle cx="718.3" cy="144.1" r="3.1" fill="#fbd2b3"/><circle cx="709.7" cy="129.2" r="3.1" fill="#fbd2b3"/><circle cx="717.9" cy="146.3" r="3.1" fill="#fbd2b3"/><circle cx="728.2" cy="135.7" r="3.1" fill="#fbd2b3"/><circle cx="717.2" cy="144.3" r="3.1" fill="#fbd2b3"/><circle cx="705.7" cy="129.5" r="3.1" fill="#fbd2b3"/><circle cx="729.8" cy="131.2" r="3.1" fill="#fbd2b3"/><circle cx="719.3" cy="127.3" r="3.1" fill="#fbd2b3"/><circle cx="718.1" cy="135.3" r="3.1" fill="#fbd2b3"/><circle cx="725.2" cy="134.5" r="3.1" fill="#fbd2b3"/><circle cx="719.7" cy="129.3" r="3.1" fill="#fbd2b3"/><circle cx="720.2" cy="121.3" r="3.1" fill="#fbd2b3"/><circle cx="709" cy="139.8" r="3.1" fill="#fbd2b3"/><circle cx="701.6" cy="128.1" r="3.1" fill="#fbd2b3"/><circle cx="721.6" cy="124.1" r="3.1" fill="#fbd2b3"/><circle cx="722.2" cy="125.6" r="3.1" fill="#fbd2b3"/><circle cx="728.7" cy="117.1" r="3.1" fill="#fbd2b3"/><circle cx="706.4" cy="120.4" r="3.1" fill="#fbd2b3"/><circle cx="716" cy="130.8" r="3.1" fill="#fbd2b3"/><circle cx="729" cy="129.4" r="3.1" fill="#fbd2b3"/><circle cx="724.7" cy="113.6" r="3.1" fill="#fbd2b3"/><circle cx="736.5" cy="139.2" r="3.1" fill="#fbd2b3"/><circle cx="720.9" cy="142.7" r="3.1" fill="#fbd2b3"/><circle cx="710.5" cy="126.4" r="3.1" fill="#fbd2b3"/><circle cx="717" cy="137.4" r="3.1" fill="#fbd2b3"/><circle cx="717.3" cy="133.9" r="3.1" fill="#fbd2b3"/><circle cx="715.4" cy="127.7" r="3.1" fill="#fbd2b3"/><circle cx="711" cy="142.5" r="3.1" fill="#fbd2b3"/><circle cx="727.9" cy="109.8" r="3.1" fill="#fbd2b3"/><circle cx="720.8" cy="134.3" r="3.1" fill="#fbd2b3"/><circle cx="724.7" cy="142.2" r="3.1" fill="#fbd2b3"/><circle cx="721.2" cy="112.1" r="3.1" fill="#fbd2b3"/><circle cx="727.8" cy="145.1" r="3.1" fill="#fbd2b3"/><circle cx="703.7" cy="128.8" r="3.1" fill="#fbd2b3"/><circle cx="721" cy="116.1" r="3.1" fill="#fbd2b3"/><circle cx="731.6" cy="121.6" r="3.1" fill="#fbd2b3"/><circle cx="711.2" cy="116.5" r="3.1" fill="#fbd2b3"/><circle cx="729.4" cy="116.5" r="3.1" fill="#fbd2b3"/><circle cx="722.5" cy="131.4" r="3.1" fill="#fbd2b3"/><circle cx="712.4" cy="131.4" r="3.1" fill="#fbd2b3"/><circle cx="692.8" cy="130" r="3.1" fill="#fbd2b3"/><circle cx="679.1" cy="151.4" r="3.1" fill="#fbd2b3"/><circle cx="691.4" cy="141" r="3.1" fill="#fbd2b3"/><circle cx="702.4" cy="124" r="3.1" fill="#fbd2b3"/><circle cx="705.2" cy="159.7" r="3.1" fill="#fbd2b3"/><circle cx="695.6" cy="172.1" r="3.1" fill="#fbd2b3"/><circle cx="708.5" cy="139.1" r="3.1" fill="#cbb9dc"/><circle cx="712.9" cy="138.3" r="3.1" fill="#cbb9dc"/><circle cx="714.8" cy="143.8" r="3.1" fill="#cbb9dc"/><circle cx="710.7" cy="144.6" r="3.1" fill="#cbb9dc"/><circle cx="707.9" cy="146" r="3.1" fill="#cbb9dc"/><circle cx="748.8" cy="123.5" r="3.1" fill="#3560cc"/><circle cx="743.5" cy="119.4" r="3.1" fill="#3560cc"/><circle cx="747" cy="121" r="3.1" fill="#3560cc"/><circle cx="750.5" cy="116" r="3.1" fill="#3560cc"/><circle cx="757.7" cy="103.6" r="3.1" fill="#3560cc"/><circle cx="743.3" cy="111.2" r="3.1" fill="#3560cc"/><circle cx="741" cy="123.1" r="3.1" fill="#3560cc"/><circle cx="737.7" cy="126.1" r="3.1" fill="#3560cc"/><circle cx="745.8" cy="111.9" r="3.1" fill="#3560cc"/><circle cx="745.4" cy="120.8" r="3.1" fill="#3560cc"/><circle cx="752" cy="121.8" r="3.1" fill="#3560cc"/><circle cx="754" cy="113.9" r="3.1" fill="#3560cc"/><circle cx="747.4" cy="107.1" r="3.1" fill="#3560cc"/><circle cx="751.5" cy="127.2" r="3.1" fill="#3560cc"/><circle cx="742.6" cy="124.4" r="3.1" fill="#3560cc"/><circle cx="745.3" cy="118.9" r="3.1" fill="#3560cc"/><circle cx="745.4" cy="126.3" r="3.1" fill="#3560cc"/><circle cx="744.1" cy="125.3" r="3.1" fill="#3560cc"/><circle cx="739.7" cy="108.7" r="3.1" fill="#3560cc"/><circle cx="747.7" cy="116.6" r="3.1" fill="#3560cc"/><circle cx="757.4" cy="129.1" r="3.1" fill="#3560cc"/><circle cx="746.9" cy="137.1" r="3.1" fill="#3560cc"/><circle cx="753.3" cy="112.8" r="3.1" fill="#3560cc"/><circle cx="746" cy="116.8" r="3.1" fill="#3560cc"/><circle cx="747.1" cy="109.5" r="3.1" fill="#3560cc"/><circle cx="746.8" cy="129.8" r="3.1" fill="#3560cc"/><circle cx="752.3" cy="100.4" r="3.1" fill="#3560cc"/><circle cx="743.2" cy="101.7" r="3.1" fill="#3560cc"/><circle cx="748.4" cy="103.2" r="3.1" fill="#3560cc"/><circle cx="739.8" cy="117.2" r="3.1" fill="#3560cc"/><circle cx="743.6" cy="124.7" r="3.1" fill="#3560cc"/><circle cx="746.5" cy="125.1" r="3.1" fill="#3560cc"/><circle cx="744.4" cy="120.5" r="3.1" fill="#3560cc"/><circle cx="750.9" cy="123.2" r="3.1" fill="#3560cc"/><circle cx="750.9" cy="115.6" r="3.1" fill="#3560cc"/><circle cx="750.8" cy="99.2" r="3.1" fill="#3560cc"/><circle cx="750.5" cy="117.8" r="3.1" fill="#3560cc"/><circle cx="743.3" cy="135.9" r="3.1" fill="#3560cc"/><circle cx="753.5" cy="127.7" r="3.1" fill="#3560cc"/><circle cx="755.7" cy="137.5" r="3.1" fill="#3560cc"/><circle cx="750.7" cy="100" r="3.1" fill="#3560cc"/><circle cx="752.7" cy="130" r="3.1" fill="#3560cc"/><circle cx="740.8" cy="128.6" r="3.1" fill="#3560cc"/><circle cx="749.7" cy="131.7" r="3.1" fill="#3560cc"/><circle cx="746.8" cy="137.7" r="3.1" fill="#3560cc"/><circle cx="741.4" cy="124.1" r="3.1" fill="#3560cc"/><circle cx="744.8" cy="138.5" r="3.1" fill="#3560cc"/><circle cx="736.9" cy="123.9" r="3.1" fill="#3560cc"/><circle cx="768.2" cy="148" r="3.1" fill="#3560cc"/><circle cx="753.9" cy="154.5" r="3.1" fill="#3560cc"/><circle cx="764.1" cy="138.8" r="3.1" fill="#3560cc"/><circle cx="761.4" cy="152.2" r="3.1" fill="#3560cc"/><circle cx="741.9" cy="139.2" r="3.1" fill="#3560cc"/><circle cx="751.2" cy="147.8" r="3.1" fill="#3560cc"/><circle cx="768.2" cy="139" r="3.1" fill="#3560cc"/><circle cx="751.9" cy="158.7" r="3.1" fill="#3560cc"/><circle cx="763.1" cy="153.9" r="3.1" fill="#3560cc"/><circle cx="763.4" cy="147.3" r="3.1" fill="#3560cc"/><circle cx="746.3" cy="150.4" r="3.1" fill="#3560cc"/><circle cx="759.6" cy="149" r="3.1" fill="#3560cc"/><circle cx="748" cy="148.6" r="3.1" fill="#3560cc"/><circle cx="766.7" cy="148.5" r="3.1" fill="#3560cc"/><circle cx="764.5" cy="141.3" r="3.1" fill="#3560cc"/><circle cx="757.6" cy="145.5" r="3.1" fill="#3560cc"/><circle cx="751.3" cy="159.8" r="3.1" fill="#3560cc"/><circle cx="754" cy="145.6" r="3.1" fill="#3560cc"/><circle cx="752.7" cy="142.4" r="3.1" fill="#3560cc"/><circle cx="760.5" cy="148.8" r="3.1" fill="#3560cc"/><circle cx="755.2" cy="160.2" r="3.1" fill="#3560cc"/><circle cx="739.1" cy="145.8" r="3.1" fill="#3560cc"/><circle cx="750.8" cy="148.2" r="3.1" fill="#3560cc"/><circle cx="753.8" cy="153.7" r="3.1" fill="#3560cc"/><circle cx="767" cy="150.6" r="3.1" fill="#3560cc"/><circle cx="759.3" cy="142.3" r="3.1" fill="#3560cc"/><circle cx="754.4" cy="148.1" r="3.1" fill="#3560cc"/><circle cx="747.9" cy="148.3" r="3.1" fill="#3560cc"/><circle cx="763.2" cy="153.7" r="3.1" fill="#3560cc"/><circle cx="749.9" cy="145.7" r="3.1" fill="#3560cc"/><circle cx="742" cy="153.2" r="3.1" fill="#3560cc"/><circle cx="768.3" cy="151.7" r="3.1" fill="#3560cc"/><circle cx="745.7" cy="146.7" r="3.1" fill="#3560cc"/><circle cx="740.7" cy="150.3" r="3.1" fill="#3560cc"/><circle cx="764.4" cy="148.2" r="3.1" fill="#3560cc"/><circle cx="775.3" cy="149.8" r="3.1" fill="#3560cc"/><circle cx="729.9" cy="159.6" r="3.1" fill="#3560cc"/><circle cx="728.2" cy="144" r="3.1" fill="#3560cc"/><circle cx="734.9" cy="146" r="3.1" fill="#3560cc"/><circle cx="742.7" cy="153.5" r="3.1" fill="#3560cc"/><circle cx="736.9" cy="148" r="3.1" fill="#3560cc"/><circle cx="736.6" cy="144.8" r="3.1" fill="#3560cc"/><circle cx="732.5" cy="143.4" r="3.1" fill="#3560cc"/><circle cx="736.2" cy="149.4" r="3.1" fill="#3560cc"/><circle cx="736.5" cy="144.9" r="3.1" fill="#3560cc"/><circle cx="734.9" cy="153.2" r="3.1" fill="#3560cc"/><circle cx="736" cy="153.1" r="3.1" fill="#3560cc"/><circle cx="742.1" cy="148.5" r="3.1" fill="#3560cc"/><circle cx="743" cy="150.9" r="3.1" fill="#3560cc"/><circle cx="735.2" cy="161.6" r="3.1" fill="#3560cc"/><circle cx="724.5" cy="167.3" r="3.1" fill="#3560cc"/><circle cx="732.9" cy="180.7" r="3.1" fill="#3560cc"/><circle cx="727.7" cy="166.1" r="3.1" fill="#3560cc"/><circle cx="729.4" cy="184.3" r="3.1" fill="#3560cc"/><circle cx="722.5" cy="171.1" r="3.1" fill="#3560cc"/><circle cx="729.1" cy="168.1" r="3.1" fill="#3560cc"/><circle cx="725.4" cy="159.1" r="3.1" fill="#3560cc"/><circle cx="728.1" cy="172.8" r="3.1" fill="#3560cc"/><circle cx="729.5" cy="177.4" r="3.1" fill="#3560cc"/><circle cx="725.3" cy="167.7" r="3.1" fill="#3560cc"/><circle cx="730.6" cy="159.2" r="3.1" fill="#3560cc"/><circle cx="734.4" cy="189.1" r="3.1" fill="#3560cc"/><circle cx="737.5" cy="183.2" r="3.1" fill="#3560cc"/><circle cx="725.9" cy="165.2" r="3.1" fill="#3560cc"/><circle cx="710.7" cy="165.2" r="3.1" fill="#3560cc"/><circle cx="708.5" cy="172.1" r="3.1" fill="#3560cc"/><circle cx="714.8" cy="152.8" r="3.1" fill="#3560cc"/><circle cx="721.7" cy="174.8" r="3.1" fill="#3560cc"/><circle cx="768.3" cy="110.6" r="3.1" fill="#4a8fd6"/><circle cx="758.9" cy="105" r="3.1" fill="#4a8fd6"/><circle cx="767.4" cy="112.1" r="3.1" fill="#4a8fd6"/><circle cx="766.5" cy="105.9" r="3.1" fill="#4a8fd6"/><circle cx="760.9" cy="116.9" r="3.1" fill="#4a8fd6"/><circle cx="759.8" cy="106" r="3.1" fill="#4a8fd6"/><circle cx="770.2" cy="109.8" r="3.1" fill="#4a8fd6"/><circle cx="766.2" cy="103.7" r="3.1" fill="#4a8fd6"/><circle cx="760.7" cy="110.5" r="3.1" fill="#4a8fd6"/><circle cx="763.4" cy="107.9" r="3.1" fill="#4a8fd6"/><circle cx="771.7" cy="118.1" r="3.1" fill="#4a8fd6"/><circle cx="760.8" cy="111.6" r="3.1" fill="#4a8fd6"/><circle cx="762.1" cy="109.8" r="3.1" fill="#4a8fd6"/><circle cx="765.3" cy="118.2" r="3.1" fill="#4a8fd6"/><circle cx="767.9" cy="141.8" r="3.1" fill="#4a8fd6"/><circle cx="769" cy="139.6" r="3.1" fill="#4a8fd6"/><circle cx="771.4" cy="147.1" r="3.1" fill="#4a8fd6"/><circle cx="760.5" cy="142.4" r="3.1" fill="#4a8fd6"/><circle cx="758" cy="135.1" r="3.1" fill="#4a8fd6"/><circle cx="760.5" cy="145.1" r="3.1" fill="#4a8fd6"/><circle cx="769.8" cy="143.7" r="3.1" fill="#4a8fd6"/><circle cx="772.1" cy="137.1" r="3.1" fill="#4a8fd6"/><circle cx="755.9" cy="136.6" r="3.1" fill="#4a8fd6"/><circle cx="759.8" cy="141.7" r="3.1" fill="#4a8fd6"/><circle cx="763.9" cy="143.8" r="3.1" fill="#4a8fd6"/><circle cx="763.2" cy="141" r="3.1" fill="#4a8fd6"/><circle cx="779.4" cy="114.9" r="3.1" fill="#4a8fd6"/><circle cx="794.5" cy="114.4" r="3.1" fill="#4a8fd6"/><circle cx="791.8" cy="124" r="3.1" fill="#4a8fd6"/><circle cx="771.7" cy="126.7" r="3.1" fill="#4a8fd6"/><circle cx="773.9" cy="135" r="3.1" fill="#4a8fd6"/><circle cx="747.8" cy="100.6" r="3.1" fill="#4a8fd6"/><circle cx="756" cy="98.7" r="3.1" fill="#4a8fd6"/><circle cx="767" cy="100.6" r="3.1" fill="#4a8fd6"/><circle cx="735.4" cy="176.2" r="3.1" fill="#6aa5e0"/><circle cx="742.3" cy="173.4" r="3.1" fill="#6aa5e0"/><circle cx="749.2" cy="167.9" r="3.1" fill="#6aa5e0"/><circle cx="762.9" cy="162.4" r="3.1" fill="#6aa5e0"/><circle cx="713.4" cy="160.2" r="3.1" fill="#c6b370"/><circle cx="702.4" cy="176.2" r="3.1" fill="#c6b370"/><circle cx="712.1" cy="184.4" r="3.1" fill="#c6b370"/><circle cx="705.7" cy="200.9" r="3.1" fill="#c6b370"/><circle cx="676.3" cy="194" r="3.1" fill="#c6b370"/><circle cx="662.6" cy="198.2" r="3.1" fill="#c6b370"/><circle cx="677.2" cy="189.9" r="3.1" fill="#c6b370"/><circle cx="670.8" cy="192.7" r="3.1" fill="#8fc6e8"/><circle cx="684.9" cy="178.9" r="3.1" fill="#8fc6e8"/><circle cx="679.6" cy="185" r="3.1" fill="#8fc6e8"/><circle cx="757.4" cy="184.4" r="3.1" fill="#8466d9"/><circle cx="754.7" cy="192.7" r="3.1" fill="#8466d9"/><circle cx="765.6" cy="178.9" r="3.1" fill="#8466d9"/><circle cx="769.8" cy="199.5" r="3.1" fill="#8466d9"/><circle cx="729.9" cy="200.9" r="3.1" fill="#8466d9"/><circle cx="699.7" cy="217.4" r="3.1" fill="#8466d9"/><circle cx="738.2" cy="214.7" r="3.1" fill="#8466d9"/><circle cx="754.7" cy="220.1" r="3.1" fill="#8466d9"/><circle cx="778" cy="221.5" r="3.1" fill="#8466d9"/><circle cx="776.6" cy="229.8" r="3.1" fill="#8466d9"/><circle cx="761.5" cy="229.8" r="3.1" fill="#8466d9"/><circle cx="762.9" cy="244.9" r="3.1" fill="#8466d9"/><circle cx="768.4" cy="248.2" r="3.1" fill="#8466d9"/><circle cx="760.1" cy="195.4" r="3.1" fill="#8466d9"/><circle cx="756" cy="209.2" r="3.1" fill="#8466d9"/><circle cx="740.9" cy="222.9" r="3.1" fill="#8466d9"/><circle cx="762.9" cy="239.4" r="3.1" fill="#8466d9"/><circle cx="758.8" cy="247.6" r="3.1" fill="#8466d9"/><circle cx="745" cy="184.4" r="3.1" fill="#a9e0cc"/><circle cx="749.2" cy="206.4" r="3.1" fill="#a9e0cc"/><circle cx="762.9" cy="207.8" r="3.1" fill="#a9e0cc"/><circle cx="747.8" cy="200.9" r="3.1" fill="#a9e0cc"/><circle cx="758.8" cy="217.4" r="3.1" fill="#a9e0cc"/><circle cx="768.4" cy="211.9" r="3.1" fill="#a9e0cc"/><circle cx="765.6" cy="203.7" r="3.1" fill="#a9e0cc"/><circle cx="778" cy="253.1" r="3.1" fill="#a9e0cc"/><circle cx="768.4" cy="239.4" r="3.1" fill="#a9e0cc"/><circle cx="725.1" cy="207.5" r="3.1" fill="#0f8f8f"/><circle cx="730.2" cy="204.3" r="3.1" fill="#0f8f8f"/><circle cx="727.3" cy="207.6" r="3.1" fill="#0f8f8f"/><circle cx="727.6" cy="204.3" r="3.1" fill="#0f8f8f"/><circle cx="729.4" cy="202" r="3.1" fill="#0f8f8f"/><circle cx="725.9" cy="205.6" r="3.1" fill="#0f8f8f"/><circle cx="727" cy="205.6" r="3.1" fill="#0f8f8f"/><circle cx="733.4" cy="204.3" r="3.1" fill="#0f8f8f"/><circle cx="727" cy="206.9" r="3.1" fill="#0f8f8f"/><circle cx="732.6" cy="207.8" r="3.1" fill="#0f8f8f"/><circle cx="729.6" cy="208" r="3.1" fill="#0f8f8f"/><circle cx="730.1" cy="210.1" r="3.1" fill="#0f8f8f"/><circle cx="730.3" cy="211.3" r="3.1" fill="#0f8f8f"/><circle cx="727.7" cy="205.4" r="3.1" fill="#0f8f8f"/><circle cx="666.5" cy="202.6" r="3.1" fill="#0f8f8f"/><circle cx="663" cy="201.4" r="3.1" fill="#0f8f8f"/><circle cx="667" cy="207.3" r="3.1" fill="#0f8f8f"/><circle cx="662.2" cy="204.1" r="3.1" fill="#0f8f8f"/><circle cx="667.6" cy="209.7" r="3.1" fill="#0f8f8f"/><circle cx="664.7" cy="199.9" r="3.1" fill="#0f8f8f"/><circle cx="667.3" cy="200.9" r="3.1" fill="#0f8f8f"/><circle cx="665.6" cy="204.2" r="3.1" fill="#0f8f8f"/><circle cx="669.1" cy="206.6" r="3.1" fill="#0f8f8f"/><circle cx="664" cy="222.9" r="3.1" fill="#0f8f8f"/><circle cx="679.1" cy="183.1" r="3.1" fill="#0f8f8f"/><circle cx="653" cy="244.9" r="3.1" fill="#0f8f8f"/><circle cx="661.2" cy="224.3" r="3.1" fill="#0f8f8f"/><circle cx="779.1" cy="252.4" r="3.1" fill="#0f8f8f"/><circle cx="776.8" cy="250.4" r="3.1" fill="#0f8f8f"/><circle cx="780.6" cy="266.4" r="3.1" fill="#0f8f8f"/><circle cx="782.5" cy="250" r="3.1" fill="#0f8f8f"/><circle cx="777.6" cy="251.4" r="3.1" fill="#0f8f8f"/><circle cx="777.6" cy="254" r="3.1" fill="#0f8f8f"/><circle cx="780.5" cy="262.7" r="3.1" fill="#0f8f8f"/><circle cx="789" cy="254.8" r="3.1" fill="#0f8f8f"/><circle cx="769.8" cy="250.6" r="3.1" fill="#0f8f8f"/><circle cx="774.5" cy="251.9" r="3.1" fill="#0f8f8f"/><circle cx="777.7" cy="251.5" r="3.1" fill="#0f8f8f"/><circle cx="776.7" cy="251" r="3.1" fill="#0f8f8f"/><circle cx="785.7" cy="268.1" r="3.1" fill="#0f8f8f"/><circle cx="780.2" cy="262.1" r="3.1" fill="#0f8f8f"/><circle cx="777.3" cy="254.6" r="3.1" fill="#0f8f8f"/><circle cx="784.7" cy="252.3" r="3.1" fill="#0f8f8f"/><circle cx="783.6" cy="254.7" r="3.1" fill="#0f8f8f"/><circle cx="781.5" cy="253.2" r="3.1" fill="#0f8f8f"/><circle cx="782.1" cy="263" r="3.1" fill="#0f8f8f"/><circle cx="784" cy="252.9" r="3.1" fill="#0f8f8f"/><circle cx="783.4" cy="260.5" r="3.1" fill="#0f8f8f"/><circle cx="774.6" cy="254.8" r="3.1" fill="#0f8f8f"/><circle cx="773" cy="248.4" r="3.1" fill="#0f8f8f"/><circle cx="781.5" cy="252.5" r="3.1" fill="#0f8f8f"/><circle cx="806.2" cy="254.5" r="3.1" fill="#1aa090"/><circle cx="803.2" cy="258" r="3.1" fill="#1aa090"/><circle cx="803.5" cy="239.8" r="3.1" fill="#1aa090"/><circle cx="793.5" cy="239.8" r="3.1" fill="#1aa090"/><circle cx="794.3" cy="240.1" r="3.1" fill="#1aa090"/><circle cx="798.7" cy="244.4" r="3.1" fill="#1aa090"/><circle cx="800.7" cy="247.5" r="3.1" fill="#1aa090"/><circle cx="799.6" cy="239.4" r="3.1" fill="#1aa090"/><circle cx="796.3" cy="245" r="3.1" fill="#1aa090"/><circle cx="801.9" cy="242.9" r="3.1" fill="#1aa090"/><circle cx="802.6" cy="254.3" r="3.1" fill="#1aa090"/><circle cx="802.9" cy="253.2" r="3.1" fill="#1aa090"/><circle cx="804.1" cy="248.9" r="3.1" fill="#1aa090"/><circle cx="806.2" cy="242.7" r="3.1" fill="#1aa090"/><circle cx="801.3" cy="248.8" r="3.1" fill="#1aa090"/><circle cx="804.6" cy="249.2" r="3.1" fill="#1aa090"/><circle cx="804.1" cy="233.9" r="3.1" fill="#0f8f8f"/><circle cx="798.6" cy="238" r="3.1" fill="#0f8f8f"/><circle cx="776.4" cy="257.5" r="3.1" fill="#1f9e74"/><circle cx="790.4" cy="275.5" r="3.1" fill="#1f9e74"/><circle cx="785.8" cy="267.8" r="3.1" fill="#1f9e74"/><circle cx="783.5" cy="270.6" r="3.1" fill="#1f9e74"/><circle cx="782.6" cy="260" r="3.1" fill="#1f9e74"/><circle cx="791.8" cy="258.5" r="3.1" fill="#1f9e74"/><circle cx="787.9" cy="268.4" r="3.1" fill="#1f9e74"/><circle cx="786.3" cy="273" r="3.1" fill="#1f9e74"/><circle cx="781" cy="259.4" r="3.1" fill="#1f9e74"/><circle cx="783.4" cy="270.9" r="3.1" fill="#1f9e74"/><circle cx="789.6" cy="263.4" r="3.1" fill="#1f9e74"/><circle cx="778.5" cy="276.6" r="3.1" fill="#1f9e74"/><circle cx="783.3" cy="256.8" r="3.1" fill="#1f9e74"/><circle cx="782" cy="257.7" r="3.1" fill="#1f9e74"/><circle cx="786.5" cy="271.9" r="3.1" fill="#1f9e74"/><circle cx="780.8" cy="265" r="3.1" fill="#1f9e74"/><circle cx="789.9" cy="265.8" r="3.1" fill="#1f9e74"/><circle cx="783.9" cy="271.6" r="3.1" fill="#1f9e74"/><circle cx="783.4" cy="260.9" r="3.1" fill="#1f9e74"/><circle cx="786.2" cy="261.4" r="3.1" fill="#1f9e74"/><circle cx="791.4" cy="274.3" r="3.1" fill="#1f9e74"/><circle cx="786.6" cy="261.3" r="3.1" fill="#1f9e74"/><circle cx="772.5" cy="268.7" r="3.1" fill="#5fc0a0"/><circle cx="771.5" cy="266.2" r="3.1" fill="#5fc0a0"/><circle cx="773.7" cy="267.1" r="3.1" fill="#5fc0a0"/><circle cx="775.3" cy="267.3" r="3.1" fill="#5fc0a0"/><circle cx="779.3" cy="260.3" r="3.1" fill="#5fc0a0"/><circle cx="777.3" cy="266.8" r="3.1" fill="#5fc0a0"/><circle cx="771.4" cy="261.3" r="3.1" fill="#5fc0a0"/><circle cx="771.6" cy="258.6" r="3.1" fill="#5fc0a0"/><circle cx="773.1" cy="261.8" r="3.1" fill="#5fc0a0"/><circle cx="768.7" cy="265.9" r="3.1" fill="#5fc0a0"/><circle cx="814.9" cy="275.7" r="3.1" fill="#1b8a48"/><circle cx="814.5" cy="269.9" r="3.1" fill="#1b8a48"/><circle cx="813.2" cy="266.9" r="3.1" fill="#1b8a48"/><circle cx="807.1" cy="270.2" r="3.1" fill="#1b8a48"/><circle cx="812.9" cy="268.4" r="3.1" fill="#1b8a48"/><circle cx="813.9" cy="273.8" r="3.1" fill="#1b8a48"/><circle cx="803.6" cy="267.5" r="3.1" fill="#1b8a48"/><circle cx="813.5" cy="269.5" r="3.1" fill="#1b8a48"/><circle cx="810" cy="269" r="3.1" fill="#1b8a48"/><circle cx="807.9" cy="268.4" r="3.1" fill="#1b8a48"/><circle cx="812.7" cy="269.1" r="3.1" fill="#1b8a48"/><circle cx="814.4" cy="269.1" r="3.1" fill="#1b8a48"/><circle cx="812.2" cy="264.1" r="3.1" fill="#1b8a48"/><circle cx="810.3" cy="272.4" r="3.1" fill="#1b8a48"/><circle cx="811.8" cy="275.3" r="3.1" fill="#1b8a48"/><circle cx="809.5" cy="273.5" r="3.1" fill="#1b8a48"/><circle cx="809" cy="259" r="3.1" fill="#1b8a48"/><circle cx="803.7" cy="265.4" r="3.1" fill="#1b8a48"/><circle cx="816.5" cy="282.8" r="3.1" fill="#1b8a48"/><circle cx="812.4" cy="284.7" r="3.1" fill="#1b8a48"/><circle cx="802.7" cy="283.4" r="3.1" fill="#1b8a48"/><circle cx="807.9" cy="267.2" r="3.1" fill="#2fa060"/><circle cx="809.6" cy="257.6" r="3.1" fill="#2fa060"/><circle cx="804.3" cy="261.2" r="3.1" fill="#2fa060"/><circle cx="804.6" cy="259.5" r="3.1" fill="#2fa060"/><circle cx="807" cy="263.6" r="3.1" fill="#2fa060"/><circle cx="805.5" cy="263.9" r="3.1" fill="#2fa060"/><circle cx="805.9" cy="266.9" r="3.1" fill="#2fa060"/><circle cx="807.7" cy="260.6" r="3.1" fill="#2fa060"/><circle cx="786.7" cy="302.8" r="3.1" fill="#6fc4a4"/><circle cx="782.8" cy="302.1" r="3.1" fill="#6fc4a4"/><circle cx="765.5" cy="290.6" r="3.1" fill="#6fc4a4"/><circle cx="788.5" cy="305.4" r="3.1" fill="#6fc4a4"/><circle cx="761.8" cy="283.9" r="3.1" fill="#6fc4a4"/><circle cx="779" cy="300.6" r="3.1" fill="#6fc4a4"/><circle cx="761.4" cy="282" r="3.1" fill="#6fc4a4"/><circle cx="769" cy="291.4" r="3.1" fill="#6fc4a4"/><circle cx="775.1" cy="294.9" r="3.1" fill="#6fc4a4"/><circle cx="765.7" cy="282" r="3.1" fill="#6fc4a4"/><circle cx="754.2" cy="285.8" r="3.1" fill="#6fc4a4"/><circle cx="757.2" cy="283.9" r="3.1" fill="#6fc4a4"/><circle cx="772.8" cy="296.8" r="3.1" fill="#6fc4a4"/><circle cx="759.7" cy="288.6" r="3.1" fill="#6fc4a4"/><circle cx="760.8" cy="288.6" r="3.1" fill="#6fc4a4"/><circle cx="753.7" cy="284.2" r="3.1" fill="#6fc4a4"/><circle cx="770.2" cy="293.4" r="3.1" fill="#6fc4a4"/><circle cx="752.4" cy="285.1" r="3.1" fill="#6fc4a4"/><circle cx="778.7" cy="305.6" r="3.1" fill="#6fc4a4"/><circle cx="782.8" cy="302.8" r="3.1" fill="#6fc4a4"/><circle cx="777.6" cy="293.4" r="3.1" fill="#6fc4a4"/><circle cx="796.5" cy="311.6" r="3.1" fill="#6fc4a4"/><circle cx="752.1" cy="286" r="3.1" fill="#6fc4a4"/><circle cx="788.2" cy="303.3" r="3.1" fill="#6fc4a4"/><circle cx="774.8" cy="292.4" r="3.1" fill="#6fc4a4"/><circle cx="790.4" cy="305.4" r="3.1" fill="#6fc4a4"/><circle cx="779.4" cy="298.4" r="3.1" fill="#6fc4a4"/><circle cx="779.1" cy="301.8" r="3.1" fill="#6fc4a4"/><circle cx="771.7" cy="295.7" r="3.1" fill="#6fc4a4"/><circle cx="765.1" cy="287.1" r="3.1" fill="#6fc4a4"/><circle cx="798.7" cy="293.8" r="3.1" fill="#8ed6ba"/><circle cx="794.2" cy="286" r="3.1" fill="#8ed6ba"/><circle cx="803.4" cy="284.5" r="3.1" fill="#8ed6ba"/><circle cx="798.6" cy="290.4" r="3.1" fill="#8ed6ba"/><circle cx="810.3" cy="284.8" r="3.1" fill="#8ed6ba"/><circle cx="809.7" cy="292.7" r="3.1" fill="#8ed6ba"/><circle cx="792.4" cy="291.1" r="3.1" fill="#8ed6ba"/><circle cx="802.2" cy="287" r="3.1" fill="#8ed6ba"/><circle cx="802.1" cy="289.4" r="3.1" fill="#8ed6ba"/><circle cx="809.3" cy="288.7" r="3.1" fill="#8ed6ba"/><circle cx="800.8" cy="286.1" r="3.1" fill="#8ed6ba"/><circle cx="801" cy="283" r="3.1" fill="#8ed6ba"/><circle cx="801.8" cy="290.5" r="3.1" fill="#8ed6ba"/><circle cx="802.7" cy="286.3" r="3.1" fill="#8ed6ba"/><circle cx="796.4" cy="287.4" r="3.1" fill="#8ed6ba"/><circle cx="805.3" cy="280.9" r="3.1" fill="#8ed6ba"/><circle cx="793.4" cy="313.5" r="3.1" fill="#3fa878"/><circle cx="794.1" cy="306.9" r="3.1" fill="#3fa878"/><circle cx="795.1" cy="311.2" r="3.1" fill="#3fa878"/><circle cx="794.2" cy="307.5" r="3.1" fill="#3fa878"/><circle cx="795.4" cy="310.6" r="3.1" fill="#3fa878"/><circle cx="801.1" cy="307" r="3.1" fill="#3fa878"/><circle cx="791.3" cy="311.2" r="3.1" fill="#3fa878"/><circle cx="792.2" cy="304.4" r="3.1" fill="#3fa878"/><circle cx="794" cy="312.6" r="3.1" fill="#3fa878"/><circle cx="798.4" cy="312" r="3.1" fill="#3fa878"/><circle cx="806.9" cy="313.6" r="3.1" fill="#8ed6ba"/><circle cx="812.4" cy="293" r="3.1" fill="#8ed6ba"/><circle cx="809.6" cy="297.1" r="3.1" fill="#8ed6ba"/><circle cx="793.1" cy="283.4" r="3.1" fill="#a9e0cc"/><circle cx="797.2" cy="279.2" r="3.1" fill="#a9e0cc"/><circle cx="780.8" cy="287.1" r="3.1" fill="#e8322a"/><circle cx="781.8" cy="288.3" r="3.1" fill="#e8322a"/><circle cx="779.7" cy="285.4" r="3.1" fill="#e8322a"/><circle cx="783.2" cy="288.4" r="3.1" fill="#e8322a"/><circle cx="783.5" cy="289.5" r="3.1" fill="#e8322a"/><circle cx="781.8" cy="291.8" r="3.1" fill="#e8322a"/><circle cx="781.7" cy="294" r="3.1" fill="#e8322a"/><circle cx="791.5" cy="273.7" r="3.1" fill="#e8322a"/><circle cx="790.8" cy="277.6" r="3.1" fill="#e8322a"/><circle cx="788.7" cy="277.3" r="3.1" fill="#e8322a"/><circle cx="787" cy="273" r="3.1" fill="#e8322a"/><circle cx="789" cy="274.6" r="3.1" fill="#e8322a"/><circle cx="793.4" cy="296.8" r="3.1" fill="#e8322a"/><circle cx="790.5" cy="299" r="3.1" fill="#e8322a"/><circle cx="794.6" cy="298.6" r="3.1" fill="#e8322a"/><circle cx="793.5" cy="299.8" r="3.1" fill="#e8322a"/><circle cx="791.3" cy="300" r="3.1" fill="#e8322a"/><circle cx="791.8" cy="299" r="3.1" fill="#e8322a"/><circle cx="809.8" cy="322.2" r="3.1" fill="#cf1f1f"/><circle cx="808" cy="321.6" r="3.1" fill="#cf1f1f"/><circle cx="805.9" cy="323.1" r="3.1" fill="#cf1f1f"/><circle cx="807.5" cy="325.8" r="3.1" fill="#cf1f1f"/><circle cx="806.8" cy="323.5" r="3.1" fill="#cf1f1f"/><circle cx="809.8" cy="323.2" r="3.1" fill="#cf1f1f"/><circle cx="806.9" cy="327.3" r="3.1" fill="#e8322a"/><circle cx="676.4" cy="241.6" r="3.1" fill="#ff9c3a"/><circle cx="676.8" cy="234.9" r="3.1" fill="#ff9c3a"/><circle cx="685.5" cy="240.7" r="3.1" fill="#ff9c3a"/><circle cx="691.1" cy="233.2" r="3.1" fill="#ff9c3a"/><circle cx="678" cy="238.5" r="3.1" fill="#ff9c3a"/><circle cx="678.2" cy="242.3" r="3.1" fill="#ff9c3a"/><circle cx="686.4" cy="229.9" r="3.1" fill="#ff9c3a"/><circle cx="675.2" cy="228.4" r="3.1" fill="#ff9c3a"/><circle cx="681.2" cy="248.9" r="3.1" fill="#ff9c3a"/><circle cx="692.6" cy="234.7" r="3.1" fill="#ff9c3a"/><circle cx="677.2" cy="236.9" r="3.1" fill="#ff9c3a"/><circle cx="683.1" cy="232.8" r="3.1" fill="#ff9c3a"/><circle cx="680.2" cy="229.1" r="3.1" fill="#ff9c3a"/><circle cx="690.2" cy="232.5" r="3.1" fill="#ff9c3a"/><circle cx="680.1" cy="234.9" r="3.1" fill="#ff9c3a"/><circle cx="696.4" cy="239.3" r="3.1" fill="#ff9c3a"/><circle cx="692.6" cy="233.3" r="3.1" fill="#ff9c3a"/><circle cx="682.5" cy="229.9" r="3.1" fill="#ff9c3a"/><circle cx="684.9" cy="232.6" r="3.1" fill="#ff9c3a"/><circle cx="681.6" cy="235.8" r="3.1" fill="#ff9c3a"/><circle cx="674.4" cy="236.4" r="3.1" fill="#ff9c3a"/><circle cx="673.4" cy="230" r="3.1" fill="#ff9c3a"/><circle cx="675.3" cy="231.6" r="3.1" fill="#ff9c3a"/><circle cx="680.9" cy="236.7" r="3.1" fill="#ff9c3a"/><circle cx="680.7" cy="236.3" r="3.1" fill="#ff9c3a"/><circle cx="675.8" cy="235.7" r="3.1" fill="#ff9c3a"/><circle cx="683.2" cy="236.5" r="3.1" fill="#ff9c3a"/><circle cx="686.3" cy="227.5" r="3.1" fill="#ff9c3a"/><circle cx="684.5" cy="238.5" r="3.1" fill="#ff9c3a"/><circle cx="684.8" cy="240.1" r="3.1" fill="#ff9c3a"/><circle cx="667.9" cy="234.6" r="3.1" fill="#ff9c3a"/><circle cx="681" cy="243.2" r="3.1" fill="#ff9c3a"/><circle cx="676.3" cy="241.5" r="3.1" fill="#ff9c3a"/><circle cx="683.6" cy="246.5" r="3.1" fill="#ff9c3a"/><circle cx="688.3" cy="228.8" r="3.1" fill="#ff9c3a"/><circle cx="690" cy="228" r="3.1" fill="#ff9c3a"/><circle cx="688.1" cy="240.2" r="3.1" fill="#ff9c3a"/><circle cx="679.4" cy="235.9" r="3.1" fill="#ff9c3a"/><circle cx="686.5" cy="236.9" r="3.1" fill="#ff9c3a"/><circle cx="673.6" cy="236.6" r="3.1" fill="#ff9c3a"/><circle cx="684" cy="228.3" r="3.1" fill="#ff9c3a"/><circle cx="684" cy="234.3" r="3.1" fill="#ff9c3a"/><circle cx="679.6" cy="236.3" r="3.1" fill="#ff9c3a"/><circle cx="685.5" cy="249.5" r="3.1" fill="#ff9c3a"/><circle cx="718.9" cy="217.4" r="3.1" fill="#ff9c3a"/><circle cx="714.8" cy="228.4" r="3.1" fill="#ff9c3a"/><circle cx="710.7" cy="231.1" r="3.1" fill="#ff9c3a"/><circle cx="721.7" cy="218.8" r="3.1" fill="#ff9c3a"/><circle cx="695.3" cy="214.2" r="3.1" fill="#ffbf26"/><circle cx="692.3" cy="217.9" r="3.1" fill="#ffbf26"/><circle cx="688.6" cy="217" r="3.1" fill="#ffbf26"/><circle cx="694.8" cy="215.7" r="3.1" fill="#ffbf26"/><circle cx="697.9" cy="216" r="3.1" fill="#ffbf26"/><circle cx="690.2" cy="210.5" r="3.1" fill="#ffbf26"/><circle cx="688.1" cy="218.4" r="3.1" fill="#ffbf26"/><circle cx="692.4" cy="220.2" r="3.1" fill="#ffbf26"/><circle cx="693.1" cy="213.6" r="3.1" fill="#ffbf26"/><circle cx="694.4" cy="215" r="3.1" fill="#ffbf26"/><circle cx="690.2" cy="215" r="3.1" fill="#ffbf26"/><circle cx="699.8" cy="216.9" r="3.1" fill="#ffbf26"/><circle cx="683.2" cy="214.1" r="3.1" fill="#ffbf26"/><circle cx="688.7" cy="209.2" r="3.1" fill="#ffbf26"/><circle cx="679.1" cy="222.9" r="3.1" fill="#ffbf26"/><circle cx="675" cy="229.8" r="3.1" fill="#ffbf26"/><circle cx="711.3" cy="247.2" r="3.1" fill="#fff200"/><circle cx="708.1" cy="239.8" r="3.1" fill="#fff200"/><circle cx="696.9" cy="251.8" r="3.1" fill="#fff200"/><circle cx="709.9" cy="245.9" r="3.1" fill="#fff200"/><circle cx="712.2" cy="244.5" r="3.1" fill="#fff200"/><circle cx="696.9" cy="249" r="3.1" fill="#fff200"/><circle cx="703.8" cy="242.5" r="3.1" fill="#fff200"/><circle cx="697.2" cy="236.9" r="3.1" fill="#fff200"/><circle cx="704.6" cy="242.2" r="3.1" fill="#fff200"/><circle cx="710.6" cy="253.5" r="3.1" fill="#fff200"/><circle cx="698.6" cy="236.8" r="3.1" fill="#fff200"/><circle cx="704" cy="247.7" r="3.1" fill="#fff200"/><circle cx="710.4" cy="245.1" r="3.1" fill="#fff200"/><circle cx="702.1" cy="248.9" r="3.1" fill="#fff200"/><circle cx="707.8" cy="248" r="3.1" fill="#fff200"/><circle cx="697.9" cy="247.5" r="3.1" fill="#fff200"/><circle cx="704" cy="245.7" r="3.1" fill="#fff200"/><circle cx="703.6" cy="247.2" r="3.1" fill="#fff200"/><circle cx="700.8" cy="241.5" r="3.1" fill="#fff200"/><circle cx="701.4" cy="248.5" r="3.1" fill="#fff200"/><circle cx="703.3" cy="246.7" r="3.1" fill="#fff200"/><circle cx="713" cy="243.7" r="3.1" fill="#fff200"/><circle cx="708.1" cy="250.5" r="3.1" fill="#fff200"/><circle cx="708.5" cy="249.2" r="3.1" fill="#fff200"/><circle cx="703" cy="245" r="3.1" fill="#fff200"/><circle cx="699.4" cy="247.6" r="3.1" fill="#fff200"/><circle cx="702.8" cy="245.1" r="3.1" fill="#fff200"/><circle cx="705.1" cy="249.8" r="3.1" fill="#fff200"/><circle cx="699.5" cy="238.6" r="3.1" fill="#fff200"/><circle cx="706.2" cy="247.8" r="3.1" fill="#fff200"/><circle cx="717.3" cy="264" r="3.1" fill="#fff200"/><circle cx="721.6" cy="257.2" r="3.1" fill="#fff200"/><circle cx="716.2" cy="265.2" r="3.1" fill="#fff200"/><circle cx="722.8" cy="262.2" r="3.1" fill="#fff200"/><circle cx="723.1" cy="259.3" r="3.1" fill="#fff200"/><circle cx="723.9" cy="259.5" r="3.1" fill="#fff200"/><circle cx="718.6" cy="256.4" r="3.1" fill="#fff200"/><circle cx="717.4" cy="258.9" r="3.1" fill="#fff200"/><circle cx="714.5" cy="264.3" r="3.1" fill="#fff200"/><circle cx="746.4" cy="260" r="3.1" fill="#fff200"/><circle cx="729.9" cy="268.8" r="3.1" fill="#fff200"/><circle cx="714.8" cy="266.9" r="3.1" fill="#fff200"/><circle cx="743.7" cy="261.4" r="3.1" fill="#fff200"/><circle cx="698.7" cy="228.2" r="3.1" fill="#3f3f3f"/><circle cx="696.6" cy="226.6" r="3.1" fill="#3f3f3f"/><circle cx="696.1" cy="226.7" r="3.1" fill="#3f3f3f"/><circle cx="695.9" cy="228.3" r="3.1" fill="#3f3f3f"/><circle cx="697.8" cy="228.2" r="3.1" fill="#3f3f3f"/><circle cx="698.1" cy="224.2" r="3.1" fill="#3f3f3f"/><circle cx="736.1" cy="225.4" r="3.1" fill="#8a5220"/><circle cx="732.3" cy="227" r="3.1" fill="#8a5220"/><circle cx="735.6" cy="229.4" r="3.1" fill="#8a5220"/><circle cx="734.6" cy="224.2" r="3.1" fill="#8a5220"/><circle cx="733.2" cy="227.2" r="3.1" fill="#8a5220"/><circle cx="721.7" cy="237.2" r="3.1" fill="#9a622a"/><circle cx="724.4" cy="234.4" r="3.1" fill="#9a622a"/><circle cx="746.4" cy="222.3" r="3.1" fill="#c08a4a"/><circle cx="745" cy="225.1" r="3.1" fill="#c08a4a"/><circle cx="723.1" cy="239.4" r="3.1" fill="#c08a4a"/><circle cx="720.3" cy="235.3" r="3.1" fill="#c08a4a"/><circle cx="738.2" cy="242.1" r="3.1" fill="#8aa2e0"/><circle cx="712.1" cy="217.4" r="3.1" fill="#8aa2e0"/><circle cx="740.9" cy="214.7" r="3.1" fill="#8aa2e0"/><circle cx="735.4" cy="244.9" r="3.1" fill="#8aa2e0"/><circle cx="710.7" cy="220.1" r="3.1" fill="#8aa2e0"/><circle cx="721.7" cy="243.8" r="3.1" fill="#f5a4c4"/><circle cx="725.9" cy="244.6" r="3.1" fill="#f5a4c4"/><circle cx="730.4" cy="245.1" r="3.1" fill="#f5a4c4"/><circle cx="722.8" cy="246.6" r="3.1" fill="#f5a4c4"/><circle cx="725.5" cy="242.8" r="3.1" fill="#f5a4c4"/><circle cx="719.1" cy="251.4" r="3.1" fill="#f5a4c4"/><circle cx="721.7" cy="244.6" r="3.1" fill="#f5a4c4"/><circle cx="723.6" cy="247.8" r="3.1" fill="#f5a4c4"/><circle cx="724" cy="251.6" r="3.1" fill="#f5a4c4"/><circle cx="716.5" cy="247.1" r="3.1" fill="#f5a4c4"/><circle cx="687.3" cy="284.7" r="3.1" fill="#f5a4c4"/><circle cx="739.5" cy="268.2" r="3.1" fill="#f5a4c4"/><circle cx="705.2" cy="261.4" r="3.1" fill="#f5a4c4"/><circle cx="732.7" cy="251.8" r="3.1" fill="#f5a4c4"/><circle cx="716.2" cy="255.9" r="3.1" fill="#c8b56a"/><circle cx="731.3" cy="248.2" r="3.1" fill="#c8b56a"/><circle cx="713.4" cy="258.6" r="3.1" fill="#c8b56a"/><circle cx="674.8" cy="257.5" r="3.1" fill="#f669a8"/><circle cx="673.2" cy="265.4" r="3.1" fill="#f669a8"/><circle cx="674.7" cy="256.9" r="3.1" fill="#f669a8"/><circle cx="678.5" cy="260.9" r="3.1" fill="#f669a8"/><circle cx="682.7" cy="263.1" r="3.1" fill="#f669a8"/><circle cx="681.2" cy="259.4" r="3.1" fill="#f669a8"/><circle cx="681.3" cy="259" r="3.1" fill="#f669a8"/><circle cx="677.2" cy="265" r="3.1" fill="#f669a8"/><circle cx="680.4" cy="265.5" r="3.1" fill="#f669a8"/><circle cx="674.4" cy="260.8" r="3.1" fill="#f669a8"/><circle cx="677.8" cy="255.9" r="3.1" fill="#f669a8"/><circle cx="676.6" cy="268.6" r="3.1" fill="#f669a8"/><circle cx="685.5" cy="266.4" r="3.1" fill="#f669a8"/><circle cx="675.1" cy="254" r="3.1" fill="#f669a8"/><circle cx="691.6" cy="284.7" r="3.1" fill="#f669a8"/><circle cx="696.3" cy="286.7" r="3.1" fill="#f669a8"/><circle cx="696.5" cy="281.2" r="3.1" fill="#f669a8"/><circle cx="687.7" cy="283.6" r="3.1" fill="#f669a8"/><circle cx="686.6" cy="278.4" r="3.1" fill="#f669a8"/><circle cx="701.1" cy="283.1" r="3.1" fill="#f669a8"/><circle cx="694.6" cy="287.5" r="3.1" fill="#f669a8"/><circle cx="682.9" cy="286.4" r="3.1" fill="#f669a8"/><circle cx="694.7" cy="289" r="3.1" fill="#f669a8"/><circle cx="692.4" cy="280.5" r="3.1" fill="#f669a8"/><circle cx="703.1" cy="287.3" r="3.1" fill="#f669a8"/><circle cx="693.9" cy="285.6" r="3.1" fill="#f669a8"/><circle cx="686.1" cy="282.9" r="3.1" fill="#f669a8"/><circle cx="697.1" cy="277.9" r="3.1" fill="#f669a8"/><circle cx="685.3" cy="277.4" r="3.1" fill="#f669a8"/><circle cx="684.2" cy="278.2" r="3.1" fill="#f669a8"/><circle cx="683.5" cy="288.9" r="3.1" fill="#f669a8"/><circle cx="681.8" cy="276.6" r="3.1" fill="#f669a8"/><circle cx="689.8" cy="278.4" r="3.1" fill="#f669a8"/><circle cx="689.2" cy="280.8" r="3.1" fill="#f669a8"/><circle cx="693.8" cy="283.6" r="3.1" fill="#f669a8"/><circle cx="689.9" cy="284.6" r="3.1" fill="#f669a8"/><circle cx="688.5" cy="277" r="3.1" fill="#f669a8"/><circle cx="688.1" cy="283.2" r="3.1" fill="#f669a8"/><circle cx="688" cy="283.9" r="3.1" fill="#f669a8"/><circle cx="684.2" cy="276.9" r="3.1" fill="#f669a8"/><circle cx="688.7" cy="272.4" r="3.1" fill="#f669a8"/><circle cx="684.6" cy="269.6" r="3.1" fill="#f669a8"/><circle cx="647.8" cy="278.9" r="3.1" fill="#ee82ee"/><circle cx="665.9" cy="289.4" r="3.1" fill="#ee82ee"/><circle cx="656.4" cy="283.8" r="3.1" fill="#ee82ee"/><circle cx="658.9" cy="283.9" r="3.1" fill="#ee82ee"/><circle cx="673.1" cy="296.6" r="3.1" fill="#ee82ee"/><circle cx="672.6" cy="280.2" r="3.1" fill="#ee82ee"/><circle cx="643.2" cy="283.3" r="3.1" fill="#ee82ee"/><circle cx="641.7" cy="292.4" r="3.1" fill="#ee82ee"/><circle cx="655.3" cy="283.1" r="3.1" fill="#ee82ee"/><circle cx="678.1" cy="286" r="3.1" fill="#ee82ee"/><circle cx="657.5" cy="290.5" r="3.1" fill="#ee82ee"/><circle cx="653.4" cy="281.4" r="3.1" fill="#ee82ee"/><circle cx="642.4" cy="287.1" r="3.1" fill="#ee82ee"/><circle cx="661.2" cy="270.4" r="3.1" fill="#ee82ee"/><circle cx="663.9" cy="286" r="3.1" fill="#ee82ee"/><circle cx="663.1" cy="264.6" r="3.1" fill="#ee82ee"/><circle cx="646.1" cy="296.5" r="3.1" fill="#ee82ee"/><circle cx="676.8" cy="286.9" r="3.1" fill="#ee82ee"/><circle cx="676.4" cy="294" r="3.1" fill="#ee82ee"/><circle cx="659.9" cy="274.5" r="3.1" fill="#ee82ee"/><circle cx="671.9" cy="282.8" r="3.1" fill="#ee82ee"/><circle cx="648.1" cy="297.6" r="3.1" fill="#ee82ee"/><circle cx="661.1" cy="275.6" r="3.1" fill="#ee82ee"/><circle cx="665.3" cy="270.6" r="3.1" fill="#ee82ee"/><circle cx="649.6" cy="295.4" r="3.1" fill="#ee82ee"/><circle cx="655.4" cy="278.4" r="3.1" fill="#ee82ee"/><circle cx="664.6" cy="288" r="3.1" fill="#ee82ee"/><circle cx="660.9" cy="286.1" r="3.1" fill="#ee82ee"/><circle cx="654.6" cy="289.3" r="3.1" fill="#ee82ee"/><circle cx="650.4" cy="280.7" r="3.1" fill="#ee82ee"/><circle cx="657.3" cy="275" r="3.1" fill="#ee82ee"/><circle cx="657.5" cy="302.2" r="3.1" fill="#ee82ee"/><circle cx="676.4" cy="281.4" r="3.1" fill="#ee82ee"/><circle cx="681.9" cy="281.9" r="3.1" fill="#ee82ee"/><circle cx="675.2" cy="297" r="3.1" fill="#ee82ee"/><circle cx="659.9" cy="298.4" r="3.1" fill="#ee82ee"/><circle cx="668.7" cy="268" r="3.1" fill="#ee82ee"/><circle cx="654.1" cy="272.5" r="3.1" fill="#ee82ee"/><circle cx="652.2" cy="279.1" r="3.1" fill="#ee82ee"/><circle cx="649.5" cy="288.4" r="3.1" fill="#ee82ee"/><circle cx="670.9" cy="289.4" r="3.1" fill="#ee82ee"/><circle cx="659.5" cy="283.4" r="3.1" fill="#ee82ee"/><circle cx="662.5" cy="266.9" r="3.1" fill="#ee82ee"/><circle cx="658.4" cy="271.9" r="3.1" fill="#ee82ee"/><circle cx="654.5" cy="274.8" r="3.1" fill="#ee82ee"/><circle cx="672.4" cy="287.5" r="3.1" fill="#ee82ee"/><circle cx="662.2" cy="293.1" r="3.1" fill="#ee82ee"/><circle cx="661.9" cy="290.4" r="3.1" fill="#ee82ee"/><circle cx="664.6" cy="274.9" r="3.1" fill="#ee82ee"/><circle cx="647.3" cy="276.8" r="3.1" fill="#ee82ee"/><circle cx="649.8" cy="283.6" r="3.1" fill="#ee82ee"/><circle cx="658.4" cy="280" r="3.1" fill="#ee82ee"/><circle cx="675.4" cy="292.9" r="3.1" fill="#ee82ee"/><circle cx="654.4" cy="284.1" r="3.1" fill="#ee82ee"/><circle cx="667.3" cy="274.5" r="3.1" fill="#ee82ee"/><circle cx="664.8" cy="297.2" r="3.1" fill="#ee82ee"/><circle cx="670.6" cy="293.4" r="3.1" fill="#ee82ee"/><circle cx="657.4" cy="297.1" r="3.1" fill="#ee82ee"/><circle cx="659.8" cy="292.3" r="3.1" fill="#ee82ee"/><circle cx="665.3" cy="279.4" r="3.1" fill="#ee82ee"/><circle cx="652.4" cy="287.9" r="3.1" fill="#ee82ee"/><circle cx="657.3" cy="275.9" r="3.1" fill="#ee82ee"/><circle cx="650.3" cy="270" r="3.1" fill="#ee82ee"/><circle cx="672.4" cy="282.9" r="3.1" fill="#ee82ee"/><circle cx="665.1" cy="288" r="3.1" fill="#ee82ee"/><circle cx="659.2" cy="281.6" r="3.1" fill="#ee82ee"/><circle cx="653.1" cy="265.6" r="3.1" fill="#ee82ee"/><circle cx="671.3" cy="282" r="3.1" fill="#ee82ee"/><circle cx="662.7" cy="285.6" r="3.1" fill="#ee82ee"/><circle cx="646.6" cy="293.5" r="3.1" fill="#ee82ee"/><circle cx="667.5" cy="288" r="3.1" fill="#ee82ee"/><circle cx="664.2" cy="279.1" r="3.1" fill="#ee82ee"/><circle cx="662.5" cy="266.4" r="3.1" fill="#ee82ee"/><circle cx="668.3" cy="292.3" r="3.1" fill="#ee82ee"/><circle cx="675.8" cy="283.6" r="3.1" fill="#ee82ee"/><circle cx="643.5" cy="288.6" r="3.1" fill="#ee82ee"/><circle cx="655.5" cy="278.7" r="3.1" fill="#ee82ee"/><circle cx="645.6" cy="290.7" r="3.1" fill="#ee82ee"/><circle cx="662.8" cy="279.6" r="3.1" fill="#ee82ee"/><circle cx="674.7" cy="292.6" r="3.1" fill="#ee82ee"/><circle cx="650.7" cy="277.6" r="3.1" fill="#ee82ee"/><circle cx="669.1" cy="280.8" r="3.1" fill="#ee82ee"/><circle cx="665.5" cy="288.9" r="3.1" fill="#ee82ee"/><circle cx="671.9" cy="289.1" r="3.1" fill="#ee82ee"/><circle cx="647.7" cy="274.8" r="3.1" fill="#ee82ee"/><circle cx="662.9" cy="267.9" r="3.1" fill="#ee82ee"/><circle cx="669.1" cy="271" r="3.1" fill="#ee82ee"/><circle cx="655.6" cy="294.1" r="3.1" fill="#ee82ee"/><circle cx="641.6" cy="281.8" r="3.1" fill="#ee82ee"/><circle cx="658.8" cy="286" r="3.1" fill="#ee82ee"/><circle cx="654.5" cy="283" r="3.1" fill="#ee82ee"/><circle cx="645.1" cy="282.8" r="3.1" fill="#ee82ee"/><circle cx="674.6" cy="297.3" r="3.1" fill="#ee82ee"/><circle cx="650.3" cy="278.9" r="3.1" fill="#ee82ee"/><circle cx="652.2" cy="267.5" r="3.1" fill="#ee82ee"/><circle cx="677.9" cy="278" r="3.1" fill="#ee82ee"/><circle cx="663.9" cy="283.2" r="3.1" fill="#ee82ee"/><circle cx="659.6" cy="285.6" r="3.1" fill="#ee82ee"/><circle cx="677.9" cy="289.3" r="3.1" fill="#ee82ee"/><circle cx="644.4" cy="282.2" r="3.1" fill="#ee82ee"/><circle cx="648.5" cy="282.7" r="3.1" fill="#ee82ee"/><circle cx="658.5" cy="278.9" r="3.1" fill="#ee82ee"/><circle cx="645" cy="279.7" r="3.1" fill="#ee82ee"/><circle cx="658.2" cy="291.2" r="3.1" fill="#ee82ee"/><circle cx="652.5" cy="282.3" r="3.1" fill="#ee82ee"/><circle cx="655.3" cy="251.8" r="3.1" fill="#ee82ee"/><circle cx="661.6" cy="240.6" r="3.1" fill="#ee82ee"/><circle cx="655.2" cy="213.5" r="3.1" fill="#ee82ee"/><circle cx="658.6" cy="254.6" r="3.1" fill="#ee82ee"/><circle cx="657.5" cy="235.8" r="3.1" fill="#ee82ee"/><circle cx="659.6" cy="224.4" r="3.1" fill="#ee82ee"/><circle cx="656.2" cy="216" r="3.1" fill="#ee82ee"/><circle cx="661.1" cy="221.2" r="3.1" fill="#ee82ee"/><circle cx="657.9" cy="249.6" r="3.1" fill="#ee82ee"/><circle cx="657.8" cy="218.4" r="3.1" fill="#ee82ee"/><circle cx="657.1" cy="255.4" r="3.1" fill="#ee82ee"/><circle cx="657.8" cy="253.4" r="3.1" fill="#ee82ee"/><circle cx="657.9" cy="247.4" r="3.1" fill="#ee82ee"/><circle cx="658.8" cy="238.2" r="3.1" fill="#ee82ee"/><circle cx="658.6" cy="242.6" r="3.1" fill="#ee82ee"/><circle cx="653.1" cy="217.4" r="3.1" fill="#ee82ee"/><circle cx="657.9" cy="225.2" r="3.1" fill="#ee82ee"/><circle cx="657.4" cy="258.1" r="3.1" fill="#ee82ee"/><circle cx="682.7" cy="271.8" r="3.1" fill="#ee82ee"/><circle cx="692.5" cy="269.2" r="3.1" fill="#ee82ee"/><circle cx="684.3" cy="268.7" r="3.1" fill="#ee82ee"/><circle cx="682.6" cy="273" r="3.1" fill="#ee82ee"/><circle cx="683.9" cy="269.3" r="3.1" fill="#ee82ee"/><circle cx="688.3" cy="272" r="3.1" fill="#ee82ee"/><circle cx="688" cy="274.6" r="3.1" fill="#ee82ee"/><circle cx="689" cy="272" r="3.1" fill="#ee82ee"/><circle cx="642" cy="258.1" r="3.1" fill="#ee82ee"/><circle cx="665.3" cy="259.2" r="3.1" fill="#ee82ee"/><circle cx="672.2" cy="255.9" r="3.1" fill="#ee82ee"/></g>
<path d="M473.4,169.3 Q503,199 536.2,216 L536.2,205.6 L558.8,227.6 L536.2,250.1 L536.2,239 Q503,257 473.4,287Z" fill="url(#gBig)"/>
<path d="M70,431 L950,431 Q735,449 500,467.5 Q265,449 70,431Z" fill="url(#gBanner)"/>
<text x="57.6" y="423.3" font-size="28.3" font-weight="bold" fill="#0a0a0a" textLength="903.6" lengthAdjust="spacingAndGlyphs">A sheep multi-tissue developmental Gene Expression Atlas (dGEA)</text>
<circle cx="47.9" cy="481.5" r="11.3" fill="none" stroke="#111" stroke-width="1.4"/><text x="47.9" y="488.7" font-size="20" font-weight="bold" text-anchor="middle" fill="#111">1</text>
<text x="66.89999999999999" y="488.4" font-size="21" font-weight="bold" fill="#0a0a0a" textLength="204.3" lengthAdjust="spacingAndGlyphs">Dynamic patterns of</text>
<text x="62.8" y="509.8" font-size="21" font-weight="bold" fill="#0a0a0a" textLength="211.1" lengthAdjust="spacingAndGlyphs">gene expression and</text>
<text x="66.1" y="531" font-size="21" font-weight="bold" fill="#0a0a0a" textLength="203.7" lengthAdjust="spacingAndGlyphs">regulatory networks</text>
<rect x="90.5" y="547.5" width="22.5" height="86.3" fill="#2f0a78"/><rect x="116.4" y="547.5" width="45" height="86.3" fill="#2f0a78"/><rect x="164.2" y="547.5" width="22.9" height="86.3" fill="#2f0a78"/><rect x="190.1" y="547.5" width="23.4" height="86.3" fill="#2f0a78"/><rect x="216.0" y="547.5" width="23.7" height="86.3" fill="#2f0a78"/><rect x="90.5" y="575.6" width="22.5" height="0.4" fill="#8a6a5a" opacity="0.2669002482693843"/><rect x="90.5" y="617.5" width="22.5" height="0.4" fill="#3a3a8a" opacity="0.2702996236711474"/><rect x="90.5" y="591.1" width="22.5" height="0.4" fill="#7a5a6a" opacity="0.3963602529797658"/><rect x="90.5" y="568.6" width="22.5" height="0.6" fill="#5a3a8a" opacity="0.5393982436352134"/><rect x="90.5" y="558.8" width="22.5" height="0.4" fill="#8a6a5a" opacity="0.45404891656114255"/><rect x="90.5" y="553.6" width="22.5" height="0.6" fill="#5a3a8a" opacity="0.591689286957522"/><rect x="90.5" y="552.3" width="22.5" height="0.8" fill="#4a3a90" opacity="0.39669866525001285"/><rect x="90.5" y="593.9" width="22.5" height="0.6" fill="#3a3a8a" opacity="0.535644225692011"/><rect x="90.5" y="563.6" width="22.5" height="0.6" fill="#8a6a5a" opacity="0.31575485937550024"/><rect x="90.5" y="556.6" width="22.5" height="0.7" fill="#3a3a8a" opacity="0.2708604094881814"/><rect x="90.5" y="565.7" width="22.5" height="0.7" fill="#7a5a6a" opacity="0.5220300712432824"/><rect x="90.5" y="587.6" width="22.5" height="0.8" fill="#4a3a90" opacity="0.35491844890228885"/><rect x="90.5" y="615.3" width="22.5" height="0.7" fill="#6a4a7a" opacity="0.27864925377851946"/><rect x="90.5" y="573.6" width="22.5" height="0.6" fill="#4a3a90" opacity="0.5053058513037261"/><rect x="90.5" y="572.6" width="22.5" height="0.8" fill="#5a3a8a" opacity="0.4291764907266422"/><rect x="90.5" y="562.2" width="22.5" height="0.5" fill="#7a5a6a" opacity="0.3975944240668605"/><rect x="90.5" y="629.4" width="22.5" height="0.4" fill="#3a3a8a" opacity="0.45055907909708437"/><rect x="90.5" y="622.1" width="22.5" height="0.5" fill="#8a6a5a" opacity="0.3725624357017089"/><rect x="90.5" y="590.2" width="22.5" height="0.7" fill="#5a3a8a" opacity="0.5439887231793894"/><rect x="90.5" y="627.9" width="22.5" height="0.6" fill="#8a6a5a" opacity="0.27274999150063317"/><rect x="90.5" y="609.9" width="22.5" height="0.5" fill="#3a3a8a" opacity="0.5975835788133219"/><rect x="90.5" y="617.6" width="22.5" height="0.5" fill="#7a5a6a" opacity="0.5604641022833321"/><rect x="90.5" y="577.6" width="22.5" height="0.8" fill="#4a3a90" opacity="0.3088169326172906"/><rect x="90.5" y="558.2" width="22.5" height="0.4" fill="#4a3a90" opacity="0.2952690777065395"/><rect x="90.5" y="569.2" width="22.5" height="0.5" fill="#7a5a6a" opacity="0.27820345542004854"/><rect x="90.5" y="586.2" width="22.5" height="0.6" fill="#6a4a7a" opacity="0.5367479432425095"/><rect x="90.5" y="621.1" width="22.5" height="0.5" fill="#7a5a6a" opacity="0.5952634783504152"/><rect x="90.5" y="605.9" width="22.5" height="0.5" fill="#6a4a7a" opacity="0.3028223170268881"/><rect x="90.5" y="563.2" width="22.5" height="0.4" fill="#6a4a7a" opacity="0.2542220709453296"/><rect x="90.5" y="618.4" width="22.5" height="0.4" fill="#4a3a90" opacity="0.25143276118477237"/><rect x="90.5" y="583.6" width="22.5" height="0.5" fill="#3a3a8a" opacity="0.36151408838916027"/><rect x="90.5" y="558.9" width="22.5" height="0.8" fill="#3a3a8a" opacity="0.47923826230071503"/><rect x="90.5" y="610.7" width="22.5" height="0.6" fill="#8a6a5a" opacity="0.529255592418798"/><rect x="90.5" y="581.4" width="22.5" height="0.5" fill="#5a3a8a" opacity="0.4185329863578181"/><rect x="90.5" y="582.1" width="22.5" height="0.4" fill="#6a4a7a" opacity="0.4042194039136627"/><rect x="90.5" y="557.6" width="22.5" height="0.6" fill="#5a3a8a" opacity="0.25008164866547483"/><rect x="90.5" y="561.1" width="22.5" height="0.4" fill="#4a3a90" opacity="0.46480804204140086"/><rect x="90.5" y="554.3" width="22.5" height="0.4" fill="#7a5a6a" opacity="0.30199266986581197"/><rect x="116.4" y="569.6" width="45" height="0.5" fill="#4a3a90" opacity="0.41595301213111563"/><rect x="116.4" y="558.1" width="45" height="0.6" fill="#7a5a6a" opacity="0.418138286615477"/><rect x="116.4" y="574.6" width="45" height="0.4" fill="#8a6a5a" opacity="0.3699225433850506"/><rect x="116.4" y="570.6" width="45" height="0.7" fill="#6a4a7a" opacity="0.43071708163681255"/><rect x="116.4" y="565.6" width="45" height="0.8" fill="#4a3a90" opacity="0.30131088861468175"/><rect x="116.4" y="594.1" width="45" height="0.3" fill="#3a3a8a" opacity="0.354331391621198"/><rect x="116.4" y="602.5" width="45" height="0.4" fill="#4a3a90" opacity="0.43143889999646634"/><rect x="116.4" y="624.9" width="45" height="0.5" fill="#6a4a7a" opacity="0.4364073391225076"/><rect x="116.4" y="614" width="45" height="0.5" fill="#6a4a7a" opacity="0.4646298779847393"/><rect x="116.4" y="614.8" width="45" height="0.7" fill="#6a4a7a" opacity="0.5321275046749836"/><rect x="116.4" y="617.3" width="45" height="0.7" fill="#6a4a7a" opacity="0.3199712941883024"/><rect x="116.4" y="589.9" width="45" height="0.7" fill="#5a3a8a" opacity="0.5265399478211736"/><rect x="116.4" y="588.1" width="45" height="0.4" fill="#3a3a8a" opacity="0.5847802767194682"/><rect x="116.4" y="586" width="45" height="0.8" fill="#4a3a90" opacity="0.5842502209624666"/><rect x="116.4" y="579.1" width="45" height="0.4" fill="#6a4a7a" opacity="0.41452799378966654"/><rect x="116.4" y="576.8" width="45" height="0.6" fill="#3a3a8a" opacity="0.5441524345477514"/><rect x="116.4" y="588.7" width="45" height="0.7" fill="#8a6a5a" opacity="0.27967247025763303"/><rect x="116.4" y="604" width="45" height="0.8" fill="#8a6a5a" opacity="0.5125491609406605"/><rect x="116.4" y="588.6" width="45" height="0.4" fill="#8a6a5a" opacity="0.36638101995261346"/><rect x="116.4" y="615.8" width="45" height="0.8" fill="#7a5a6a" opacity="0.41210618906084734"/><rect x="164.2" y="611" width="22.9" height="0.4" fill="#6a4a7a" opacity="0.3095012809901634"/><rect x="164.2" y="559" width="22.9" height="0.4" fill="#7a5a6a" opacity="0.5322756937112687"/><rect x="164.2" y="560.7" width="22.9" height="0.7" fill="#7a5a6a" opacity="0.480043902457607"/><rect x="164.2" y="577.9" width="22.9" height="0.6" fill="#6a4a7a" opacity="0.2574888360126691"/><rect x="164.2" y="615.7" width="22.9" height="0.7" fill="#5a3a8a" opacity="0.4343033664846694"/><rect x="164.2" y="627" width="22.9" height="0.6" fill="#6a4a7a" opacity="0.5391543381353274"/><rect x="164.2" y="566.1" width="22.9" height="0.5" fill="#4a3a90" opacity="0.4254066719426869"/><rect x="164.2" y="612.7" width="22.9" height="0.5" fill="#3a3a8a" opacity="0.39665439346409026"/><rect x="164.2" y="559.4" width="22.9" height="0.8" fill="#4a3a90" opacity="0.5641964004215325"/><rect x="164.2" y="604.2" width="22.9" height="0.7" fill="#3a3a8a" opacity="0.39721989474817276"/><rect x="164.2" y="625.7" width="22.9" height="0.6" fill="#3a3a8a" opacity="0.30314273449202855"/><rect x="164.2" y="591.4" width="22.9" height="0.8" fill="#6a4a7a" opacity="0.46299412363302983"/><rect x="164.2" y="613.7" width="22.9" height="0.4" fill="#6a4a7a" opacity="0.4157225263616847"/><rect x="164.2" y="609.4" width="22.9" height="0.6" fill="#4a3a90" opacity="0.48881597765849566"/><rect x="164.2" y="593.1" width="22.9" height="0.6" fill="#5a3a8a" opacity="0.5591297350533578"/><rect x="164.2" y="553.1" width="22.9" height="0.4" fill="#5a3a8a" opacity="0.5202913845644208"/><rect x="164.2" y="591.1" width="22.9" height="0.6" fill="#5a3a8a" opacity="0.4051369377521036"/><rect x="164.2" y="599.9" width="22.9" height="0.6" fill="#3a3a8a" opacity="0.31979112321478015"/><rect x="164.2" y="571.7" width="22.9" height="0.6" fill="#7a5a6a" opacity="0.4277131507510349"/><rect x="164.2" y="569.2" width="22.9" height="0.6" fill="#4a3a90" opacity="0.5729744746970372"/><rect x="164.2" y="623.6" width="22.9" height="0.4" fill="#7a5a6a" opacity="0.297997052563898"/><rect x="164.2" y="558.6" width="22.9" height="0.6" fill="#5a3a8a" opacity="0.48490440647470623"/><rect x="164.2" y="584.4" width="22.9" height="0.4" fill="#4a3a90" opacity="0.5243776060106042"/><rect x="164.2" y="623.9" width="22.9" height="0.4" fill="#8a6a5a" opacity="0.47521029957450756"/><rect x="164.2" y="579.2" width="22.9" height="0.5" fill="#6a4a7a" opacity="0.5886406739332344"/><rect x="164.2" y="566.8" width="22.9" height="0.8" fill="#7a5a6a" opacity="0.5597265077422654"/><rect x="164.2" y="562.1" width="22.9" height="0.7" fill="#6a4a7a" opacity="0.3065131209583077"/><rect x="164.2" y="584.7" width="22.9" height="0.6" fill="#4a3a90" opacity="0.39744676588856154"/><rect x="164.2" y="578.4" width="22.9" height="0.4" fill="#4a3a90" opacity="0.2568190248183376"/><rect x="164.2" y="595" width="22.9" height="0.6" fill="#5a3a8a" opacity="0.38452059526759574"/><rect x="164.2" y="591.9" width="22.9" height="0.5" fill="#5a3a8a" opacity="0.28949748534544656"/><rect x="164.2" y="625.7" width="22.9" height="0.4" fill="#5a3a8a" opacity="0.2794214434396289"/><rect x="164.2" y="571.3" width="22.9" height="0.8" fill="#6a4a7a" opacity="0.3446561341324582"/><rect x="164.2" y="559.3" width="22.9" height="0.5" fill="#8a6a5a" opacity="0.5366426429234485"/><rect x="164.2" y="570.1" width="22.9" height="0.4" fill="#3a3a8a" opacity="0.44970822388763887"/><rect x="164.2" y="607.4" width="22.9" height="0.4" fill="#5a3a8a" opacity="0.529855643517315"/><rect x="164.2" y="563.8" width="22.9" height="0.8" fill="#4a3a90" opacity="0.5784223981640569"/><rect x="164.2" y="601.8" width="22.9" height="0.7" fill="#5a3a8a" opacity="0.4628620978420974"/><rect x="190.1" y="567.1" width="23.4" height="0.5" fill="#5a3a8a" opacity="0.40882073234052374"/><rect x="190.1" y="576.9" width="23.4" height="0.6" fill="#4a3a90" opacity="0.4675962090136757"/><rect x="190.1" y="552" width="23.4" height="0.7" fill="#5a3a8a" opacity="0.5892244857289433"/><rect x="190.1" y="570.4" width="23.4" height="0.4" fill="#4a3a90" opacity="0.47003488396668347"/><rect x="190.1" y="593.1" width="23.4" height="0.4" fill="#7a5a6a" opacity="0.4250310099516438"/><rect x="190.1" y="563.3" width="23.4" height="0.5" fill="#5a3a8a" opacity="0.5980746447120389"/><rect x="190.1" y="551.5" width="23.4" height="0.3" fill="#3a3a8a" opacity="0.44286719480393877"/><rect x="190.1" y="564.3" width="23.4" height="0.6" fill="#7a5a6a" opacity="0.287198470759482"/><rect x="190.1" y="617.3" width="23.4" height="0.5" fill="#7a5a6a" opacity="0.44106718817438834"/><rect x="190.1" y="623.2" width="23.4" height="0.8" fill="#4a3a90" opacity="0.490709607491742"/><rect x="190.1" y="631.1" width="23.4" height="0.5" fill="#8a6a5a" opacity="0.5050954596891397"/><rect x="190.1" y="560.1" width="23.4" height="0.8" fill="#5a3a8a" opacity="0.542945918406818"/><rect x="190.1" y="549.5" width="23.4" height="0.6" fill="#4a3a90" opacity="0.4007592477436086"/><rect x="190.1" y="553" width="23.4" height="0.7" fill="#7a5a6a" opacity="0.5546882374367119"/><rect x="190.1" y="604.8" width="23.4" height="0.5" fill="#6a4a7a" opacity="0.4924399309051817"/><rect x="190.1" y="552.2" width="23.4" height="0.4" fill="#4a3a90" opacity="0.4060386128818091"/><rect x="190.1" y="570.5" width="23.4" height="0.8" fill="#3a3a8a" opacity="0.36323686305847963"/><rect x="190.1" y="551.2" width="23.4" height="0.8" fill="#6a4a7a" opacity="0.3748043709548955"/><rect x="190.1" y="548.4" width="23.4" height="0.5" fill="#7a5a6a" opacity="0.34762510527646096"/><rect x="190.1" y="603.6" width="23.4" height="0.5" fill="#5a3a8a" opacity="0.2817980937097895"/><rect x="190.1" y="617.2" width="23.4" height="0.4" fill="#3a3a8a" opacity="0.2645834351919034"/><rect x="190.1" y="550.2" width="23.4" height="0.5" fill="#6a4a7a" opacity="0.2795689490061562"/><rect x="190.1" y="629" width="23.4" height="0.8" fill="#6a4a7a" opacity="0.48014028565943545"/><rect x="190.1" y="608.7" width="23.4" height="0.8" fill="#7a5a6a" opacity="0.5175089710514781"/><rect x="190.1" y="609.1" width="23.4" height="0.6" fill="#4a3a90" opacity="0.503454520676639"/><rect x="190.1" y="602.5" width="23.4" height="0.4" fill="#8a6a5a" opacity="0.562179824557479"/><rect x="190.1" y="601.2" width="23.4" height="0.7" fill="#3a3a8a" opacity="0.2987576635067215"/><rect x="190.1" y="592.5" width="23.4" height="0.6" fill="#5a3a8a" opacity="0.5392431925256931"/><rect x="190.1" y="597.5" width="23.4" height="0.8" fill="#8a6a5a" opacity="0.5846271976282011"/><rect x="190.1" y="602.5" width="23.4" height="0.4" fill="#5a3a8a" opacity="0.2965826192721125"/><rect x="190.1" y="578.7" width="23.4" height="0.4" fill="#7a5a6a" opacity="0.4454845362735771"/><rect x="190.1" y="601.2" width="23.4" height="0.6" fill="#8a6a5a" opacity="0.335595887685217"/><rect x="190.1" y="570.6" width="23.4" height="0.6" fill="#5a3a8a" opacity="0.511892879578297"/><rect x="190.1" y="590.7" width="23.4" height="0.6" fill="#8a6a5a" opacity="0.43409655297635213"/><rect x="190.1" y="611.2" width="23.4" height="0.6" fill="#5a3a8a" opacity="0.5461467701416118"/><rect x="190.1" y="568.1" width="23.4" height="0.7" fill="#6a4a7a" opacity="0.5089400069972596"/><rect x="190.1" y="630.5" width="23.4" height="0.6" fill="#7a5a6a" opacity="0.2768589557532486"/><rect x="190.1" y="625" width="23.4" height="0.5" fill="#5a3a8a" opacity="0.4659409055223874"/><rect x="216" y="602.5" width="23.7" height="0.4" fill="#6a4a7a" opacity="0.3661205290919475"/><rect x="216" y="603.2" width="23.7" height="0.7" fill="#3a3a8a" opacity="0.4487165942542579"/><rect x="216" y="549.4" width="23.7" height="0.4" fill="#4a3a90" opacity="0.5903781532138627"/><rect x="216" y="556.7" width="23.7" height="0.4" fill="#7a5a6a" opacity="0.35179976745027913"/><rect x="216" y="591.9" width="23.7" height="0.6" fill="#7a5a6a" opacity="0.5185094158461392"/><rect x="216" y="632" width="23.7" height="0.6" fill="#4a3a90" opacity="0.5923440078649594"/><rect x="216" y="627.2" width="23.7" height="0.3" fill="#7a5a6a" opacity="0.27676248466196796"/><rect x="216" y="591" width="23.7" height="0.8" fill="#4a3a90" opacity="0.38539692143680915"/><rect x="216" y="625.6" width="23.7" height="0.8" fill="#5a3a8a" opacity="0.4535153287023759"/><rect x="216" y="560.3" width="23.7" height="0.6" fill="#4a3a90" opacity="0.2964117755083591"/><rect x="216" y="617.4" width="23.7" height="0.6" fill="#5a3a8a" opacity="0.49616796357792603"/><rect x="216" y="567.8" width="23.7" height="0.8" fill="#7a5a6a" opacity="0.3879281819514337"/><rect x="216" y="561.7" width="23.7" height="0.8" fill="#8a6a5a" opacity="0.4077661051742491"/><rect x="216" y="573.8" width="23.7" height="0.4" fill="#4a3a90" opacity="0.3816371508734473"/><rect x="216" y="558.5" width="23.7" height="0.5" fill="#4a3a90" opacity="0.5127569144099609"/><rect x="216" y="619" width="23.7" height="0.4" fill="#6a4a7a" opacity="0.4995582480289233"/><rect x="216" y="624.3" width="23.7" height="0.5" fill="#4a3a90" opacity="0.2727420727723448"/><rect x="216" y="581.2" width="23.7" height="0.8" fill="#5a3a8a" opacity="0.37624826337319184"/><rect x="216" y="584.4" width="23.7" height="0.5" fill="#5a3a8a" opacity="0.3482231966078166"/><rect x="216" y="552.7" width="23.7" height="0.7" fill="#8a6a5a" opacity="0.5774564609089496"/><rect x="216" y="569.3" width="23.7" height="0.5" fill="#3a3a8a" opacity="0.36046048042511314"/><rect x="216" y="613.5" width="23.7" height="0.7" fill="#7a5a6a" opacity="0.5594932944339064"/><rect x="216" y="616.8" width="23.7" height="0.6" fill="#3a3a8a" opacity="0.4422298518657873"/><rect x="216" y="609" width="23.7" height="0.4" fill="#8a6a5a" opacity="0.3938101053819145"/><rect x="216" y="600.1" width="23.7" height="0.4" fill="#4a3a90" opacity="0.4199512780989849"/><rect x="216" y="625.2" width="23.7" height="0.6" fill="#6a4a7a" opacity="0.41526443060638996"/><rect x="216" y="577.3" width="23.7" height="0.5" fill="#8a6a5a" opacity="0.5085608478017424"/><rect x="216" y="603.3" width="23.7" height="0.5" fill="#6a4a7a" opacity="0.3552927018635996"/><rect x="216" y="595.3" width="23.7" height="0.5" fill="#6a4a7a" opacity="0.47512176153495855"/><rect x="216" y="554.7" width="23.7" height="0.6" fill="#7a5a6a" opacity="0.4426352897808614"/><rect x="216" y="586.5" width="23.7" height="0.5" fill="#7a5a6a" opacity="0.39959805830462736"/><rect x="216" y="594.5" width="23.7" height="0.5" fill="#6a4a7a" opacity="0.3696843318235571"/><rect x="216" y="556" width="23.7" height="0.5" fill="#4a3a90" opacity="0.5332754556042418"/><rect x="216" y="565.4" width="23.7" height="0.3" fill="#7a5a6a" opacity="0.3839932579164151"/><rect x="216" y="611.2" width="23.7" height="0.4" fill="#4a3a90" opacity="0.3683710851761613"/><rect x="216" y="553.6" width="23.7" height="0.5" fill="#4a3a90" opacity="0.2940558306154878"/><rect x="216" y="590.8" width="23.7" height="0.6" fill="#6a4a7a" opacity="0.28240935500604886"/><rect x="216" y="623.9" width="23.7" height="0.5" fill="#8a6a5a" opacity="0.4060504373248133"/><rect x="90.5" y="547.5" width="22.5" height="1.8" fill="#d9783a" opacity="1"/><rect x="90.5" y="549.3" width="22.5" height="2.7" fill="#c9a45e" opacity="1"/><rect x="90.5" y="552" width="22.5" height="2" fill="#70783c" opacity="1"/><rect x="90.5" y="554.7" width="22.5" height="1" fill="#c9703a" opacity="0.9"/><rect x="90.5" y="556.7" width="22.5" height="8.3" fill="#4c4c88" opacity="0.75"/><rect x="90.5" y="565" width="22.5" height="4.2" fill="#40408a" opacity="0.5"/><rect x="90.5" y="614.1" width="22.5" height="1" fill="#b0603a" opacity="0.8"/><rect x="117.9" y="565.9" width="21.3" height="6.8" fill="#c8c032" opacity="1"/><rect x="117.9" y="573.4" width="21.3" height="2.7" fill="#8c9c32" opacity="1"/><rect x="117.9" y="577" width="21.3" height="3" fill="#d2ca32" opacity="1"/><rect x="117.9" y="580.7" width="21.3" height="8" fill="#2c4c7c" opacity="0.9"/><rect x="117.9" y="588.4" width="21.3" height="1" fill="#c8a040" opacity="0.9"/><rect x="117.9" y="590.1" width="21.3" height="1" fill="#b08040" opacity="0.7"/><rect x="117.9" y="583.7" width="21.3" height="1" fill="#3a6a6a" opacity="0.8"/><rect x="117.9" y="593.1" width="21.3" height="0.8" fill="#7a6a6a" opacity="0.6"/><rect x="139.2" y="565.9" width="20.7" height="1" fill="#b08a50" opacity="0.85"/><rect x="139.2" y="569.7" width="20.7" height="1" fill="#9a7a50" opacity="0.85"/><rect x="139.2" y="573.4" width="20.7" height="1" fill="#c09050" opacity="0.85"/><rect x="139.2" y="575.4" width="20.7" height="1" fill="#a07a5a" opacity="0.85"/><rect x="139.2" y="578.7" width="20.7" height="1" fill="#8a8a40" opacity="0.85"/><rect x="139.2" y="581.7" width="20.7" height="1" fill="#7a6a5a" opacity="0.85"/><rect x="139.2" y="584.7" width="20.7" height="1" fill="#6a7a4a" opacity="0.85"/><rect x="139.2" y="588" width="20.7" height="1" fill="#c08a50" opacity="0.85"/><rect x="139.2" y="590.1" width="20.7" height="1" fill="#d09050" opacity="0.85"/><rect x="139.2" y="594.7" width="20.7" height="2" fill="#d0c040" opacity="1"/><rect x="139.2" y="596.7" width="20.7" height="7.7" fill="#6a8c36" opacity="1"/><rect x="139.2" y="599.7" width="20.7" height="1" fill="#8aa040" opacity="0.7"/><rect x="139.2" y="604.4" width="20.7" height="1.2" fill="#d08a3a" opacity="1"/><rect x="139.2" y="606.7" width="20.7" height="1.3" fill="#b09050" opacity="0.9"/><rect x="116.4" y="610.1" width="45" height="0.7" fill="#5a3a80" opacity="0.7"/><rect x="116.4" y="626.8" width="45" height="0.7" fill="#6a3a70" opacity="0.5"/><rect x="165.2" y="611.4" width="20.9" height="3.8" fill="#e0a222" opacity="1"/><rect x="165.2" y="612.1" width="20.9" height="1.3" fill="#ecb030" opacity="0.8"/><rect x="191.1" y="550" width="21.4" height="1" fill="#b06a4a" opacity="0.9"/><rect x="191.1" y="553" width="21.4" height="0.8" fill="#a0704a" opacity="0.8"/><rect x="191.1" y="578" width="21.4" height="0.7" fill="#90504a" opacity="0.7"/><rect x="191.1" y="616.4" width="21.4" height="7" fill="#ee8a1c" opacity="1"/><rect x="191.1" y="623.1" width="21.4" height="2.3" fill="#e8b226" opacity="1"/><rect x="191.1" y="625.4" width="21.4" height="2.3" fill="#5c8c36" opacity="1"/><rect x="191.1" y="627.8" width="21.4" height="1" fill="#3a5a6a" opacity="0.7"/><rect x="217" y="606.4" width="21.7" height="1.2" fill="#c09a50" opacity="0.9"/><rect x="217" y="600.9" width="21.7" height="0.7" fill="#907a50" opacity="0.7"/><rect x="217" y="595.1" width="21.7" height="0.7" fill="#607a50" opacity="0.6"/><rect x="217" y="628.9" width="21.7" height="3.3" fill="#c8c042" opacity="1"/><rect x="217" y="629.8" width="21.7" height="1.3" fill="#d8d050" opacity="0.7"/><rect x="90.5" y="547.5" width="22.5" height="86.3" fill="none" stroke="#15082a" stroke-width="1"/><rect x="116.4" y="547.5" width="45" height="86.3" fill="none" stroke="#15082a" stroke-width="1"/><rect x="164.2" y="547.5" width="22.9" height="86.3" fill="none" stroke="#15082a" stroke-width="1"/><rect x="190.1" y="547.5" width="23.4" height="86.3" fill="none" stroke="#15082a" stroke-width="1"/><rect x="216.0" y="547.5" width="23.7" height="86.3" fill="none" stroke="#15082a" stroke-width="1"/>
<text x="43.0" y="653" font-size="19.3" fill="#0a0a0a" textLength="244.5" lengthAdjust="spacingAndGlyphs">Tissue/ Stage/ AS-specificity</text>
<path d="M103.4,715.9 L144.2,711.4 L185.1,699.7 L226.5,669.2 L226.5,670.3 L185.1,727.6 L144.2,740.9 L103.4,741.8Z" fill="#c3dfeb" opacity="0.95"/><path d="M103.4,729.2 L144.2,725.9 L185.1,713.7 L226.5,669.7" fill="none" stroke="#45aac8" stroke-width="1.5" stroke-linejoin="round"/><rect x="98" y="666.3" width="133.8" height="76.6" fill="none" stroke="#1a1a1a" stroke-width="1.3"/><path d="M103.4,742.9 V748" stroke="#1a1a1a" stroke-width="1.1"/><path d="M144.2,742.9 V748" stroke="#1a1a1a" stroke-width="1.1"/><path d="M185.1,742.9 V748" stroke="#1a1a1a" stroke-width="1.1"/><path d="M226.5,742.9 V748" stroke="#1a1a1a" stroke-width="1.1"/><circle cx="105" cy="754.6" r="6.7" fill="#a9d0e6"/><circle cx="145.1" cy="754.6" r="6.7" fill="#1f78b4"/><circle cx="184.6" cy="754.6" r="6.7" fill="#33a02c"/><circle cx="224.3" cy="754.6" r="6.7" fill="#e31a1c"/>
<text x="66.9" y="778.6" font-size="19.3" fill="#0a0a0a" textLength="196.1" lengthAdjust="spacingAndGlyphs">Time-course clustering</text>
<text transform="translate(111.5 829) scale(0.1799 0.1786)" font-size="100.0" font-weight="bold" fill="#f5a700">G</text><text transform="translate(112 832.7) scale(0.1801 0.0600)" font-size="100.0" font-weight="bold" fill="#d81818">A</text><text transform="translate(125.5 832.7) scale(0.2424 0.4457)" font-size="100.0" font-weight="bold" fill="#1414d2">C</text><text transform="translate(142 832.7) scale(0.2355 0.4529)" font-size="100.0" font-weight="bold" fill="#d81818">A</text><text transform="translate(158.5 832.7) scale(0.2121 0.4529)" font-size="100.0" font-weight="bold" fill="#f5a700">G</text><text transform="translate(174.5 825.5) scale(0.1939 0.1214)" font-size="100.0" font-weight="bold" fill="#1414d2">C</text><text transform="translate(174.5 832.7) scale(0.1799 0.1029)" font-size="100.0" font-weight="bold" fill="#f5a700">G</text><text transform="translate(188 832.7) scale(0.2537 0.4457)" font-size="100.0" font-weight="bold" fill="#168a16">T</text><text transform="translate(203 832.7) scale(0.2185 0.4529)" font-size="100.0" font-weight="bold" fill="#f5a700">G</text><path d="M115.5,812 H121.5 M118.5,812 V818" stroke="#999" stroke-width="0.7" fill="none"/><path d="M131,796 H137 M134,796 V802" stroke="#999" stroke-width="0.7" fill="none"/><path d="M147.5,796 H153.5 M150.5,796 V802" stroke="#999" stroke-width="0.7" fill="none"/><path d="M163.5,795 H169.5 M166.5,795 V801" stroke="#999" stroke-width="0.7" fill="none"/><path d="M178.5,812 H184.5 M181.5,812 V818" stroke="#999" stroke-width="0.7" fill="none"/><path d="M192.5,796.5 H198.5 M195.5,796.5 V802.5" stroke="#999" stroke-width="0.7" fill="none"/><path d="M208.5,795.5 H214.5 M211.5,795.5 V801.5" stroke="#999" stroke-width="0.7" fill="none"/>
<text x="154.2" y="850.4" font-size="18" fill="#0a0a0a" textLength="21.8" lengthAdjust="spacingAndGlyphs">TF</text>
<ellipse cx="163.5" cy="923.5" rx="70" ry="62" fill="#f3c9c6" opacity="0.55" filter="url(#blur6)"/><ellipse cx="165.5" cy="919.5" rx="50" ry="45" fill="#ebb4b2" opacity="0.62" filter="url(#blur6)"/><path d="M178.9,944.2L167.5,948.2M176.8,978.5L163.5,925.5M168.6,858.9L196.5,869.4M116,925L160.7,905.5M142,977.6L152.6,956.1M174.7,918L117.5,934M203.8,905.6L115.7,896.4M98.4,955.7L221.2,924.2M116,925L162.9,990.4M174.7,918L137.3,874.7M176.2,885.3L175.5,930.7M117.5,934L173.2,991M174.4,872.5L202.5,980.7M134.3,865.6L187.5,965.3M150.7,884.2L122.8,870.5M150.7,884.2L203.8,905.6M153.2,931.8L175,895.4M130.4,910.2L218.9,909.5M198.3,920.4L122.8,870.5M105.4,917.5L148.1,907.7M167,881.9L140.6,898.4M167,881.9L167.5,948.2M154.4,922L175.7,966.1M117.5,934L176.8,978.5M193.5,911L178.9,944.2M209.6,915.5L122.8,870.5M178.9,944.2L225.9,894.2M93.9,940.7L214,898.9M116,925L93.5,919.1M187,923.2L225.9,894.2M187.5,965.3L142,977.6M218.9,909.5L187,923.2M105.4,917.5L168.6,858.9M163.5,925.5L210.3,927.1M145.6,937.4L161.5,891.5M117.7,912.7L174.7,918M214,898.9L173,905.1M142,977.6L180.2,912.6M93.9,940.7L116,925M152.6,956.1L154.4,922M152.3,967.6L178.9,944.2M154.4,922L186.8,934.6M97,903.1L144.9,875.4M134.3,865.6L195.4,943M117.3,961.6L203,948.6M173,905.1L163.1,915.5M192.4,984.7L142,977.6M196.8,880.8L214,898.9M168.6,858.9L161.5,891.5M187,923.2L213,957.9M220.9,961.6L180.2,912.6M213,957.9L141.4,928.2M213,957.9L175.7,966.1M142,977.6L140.6,951M148.1,907.7L161.5,891.5M140.6,951L120.5,979.1M175,895.4L203.8,905.6M125.1,881.5L134.3,865.6M215.3,969.4L122.5,902.6M185.2,897.9L117.5,934M109,904.8L122.5,902.6M139.3,961.6L176.8,978.5M150.7,884.2L160.7,905.5M116,925L185.2,875.2M161.5,891.5L139.6,886.8M220.9,961.6L176.7,956.4M150.7,884.2L122.8,870.5M142,977.6L215.3,969.4M117.3,961.6L97,903.1M205.9,887L104.1,890.4M144.9,875.4L189.1,950.7M120.5,979.1L132.3,892.5M189.1,950.7L176.7,956.4M180.2,912.6L174.4,872.5M220.9,961.6L144.9,875.4M134.3,865.6L205.9,887M187.6,887.5L105.4,917.5M196.5,869.4L140.6,951M154.4,947.4L198.3,920.4M215.3,969.4L126.8,930.3M145.6,937.4L117.3,961.6M196.8,880.8L187.5,965.3M150.7,894.1L122.8,870.5M218.9,909.5L207.2,937.6M93.5,919.1L148,860.4M139.6,886.8L109,904.8M117.3,961.6L117.3,961.6M198.3,920.4L130.4,910.2M196.2,959.6L153.2,931.8M198.3,920.4L144.9,875.4M116,925L126.8,930.3M152.6,956.1L142,977.6M120.9,948.5L161.5,891.5M175.7,966.1L144.9,875.4M145.6,937.4L150.7,884.2M134.3,865.6L144.9,875.4M134.3,865.6L109,904.8M128,918.4L209.6,915.5M117.3,961.6L98.4,955.7M176.8,978.5L154.4,922M144.9,875.4L196.5,869.4M148.1,907.7L132.3,892.5M225.9,894.2L174.7,918M209.6,915.5L150.7,894.1M161.5,891.5L120.5,979.1M168.6,858.9L97,903.1M140.2,916.7L130.4,910.2M185.2,897.9L161.5,891.5M131.5,941.4L193.5,911M154.4,947.4L140.6,951M137.3,874.7L148,860.4M97,903.1L163.1,915.5M185.2,897.9L165,958.3M174.7,918L187.5,965.3M140.6,951L167,881.9M173,905.1L225.9,894.2M160.7,905.5L178.9,944.2M173,905.1L193.5,911M207.2,937.6L163.1,915.5M130.3,958.6L195.9,893M117.3,961.6L225.9,894.2M97,903.1L152.3,967.6M163.5,925.5L154.4,922M162.2,967.4L162.2,967.4M176.2,885.3L116,925M163.9,871.8L148.1,907.7M128,918.4L120.5,979.1M117.3,961.6L220.9,961.6M163.9,871.8L122.5,902.6M167.5,948.2L221.2,924.2M187.5,965.3L178.9,944.2M198,929.1L148.1,907.7M93.5,919.1L176.2,885.3M186.8,934.6L187.6,887.5M214,898.9L185.2,897.9M180.2,912.6L214,898.9M134.3,865.6L117.5,934M97,903.1L192.4,984.7M117.5,934L215.3,969.4M195.9,893L207.2,937.6M93.9,940.7L97,903.1M93.5,919.1L98.4,955.7M193.5,911L187,923.2M215.3,969.4L152.3,967.6M97,903.1L142,977.6M218.9,909.5L214,898.9M186.8,934.6L93.5,919.1M174.4,872.5L196.8,880.8M130.3,958.6L141.4,928.2M168.6,858.9L207.2,937.6M97,903.1L225.9,894.2M142,977.6L220.9,961.6M140.6,951L120.5,979.1M120.5,979.1L225.9,894.2M173.2,991L189.1,950.7M152.6,956.1L117.5,934M98.4,955.7L203.8,905.6M178.9,944.2L187,923.2M176.8,978.5L145.6,937.4M162.2,967.4L120.5,979.1M196.5,869.4L98.4,955.7M109,904.8L150.7,884.2M176.8,978.5L203,948.6M120.5,979.1L140.6,951M203.8,905.6L144.9,875.4M196.2,959.6L152.6,956.1M148,860.4L140.2,916.7M187,923.2L168.6,858.9M140.6,951L215.3,969.4M213,957.9L221.2,924.2M131.1,970.3L228.9,904.2M122.5,902.6L130.3,958.6M180.2,912.6L198.3,920.4M198.3,920.4L117.7,912.7M175.5,930.7L154.4,947.4M174.7,918L144.9,875.4M185.2,875.2L198.3,920.4M175,895.4L134.3,865.6M192.4,984.7L196.8,880.8M130.3,958.6L162.2,967.4M132.3,892.5L195.9,893M221.2,924.2L192.4,984.7M140.2,916.7L130.3,958.6M174.4,872.5L186.8,934.6M189.1,950.7L198.3,920.4M105.4,917.5L180.2,912.6M104.1,890.4L186.8,934.6M142,977.6L225.9,894.2M186.8,934.6L140.6,951M134.3,865.6L131.5,941.4M142,977.6L150.7,884.2M93.5,919.1L220.9,961.6M122.5,902.6L220.9,961.6M167.5,948.2L105.4,917.5M115.7,896.4L145.6,937.4M122.5,902.6L131.5,941.4M221.2,924.2L214,898.9M165,958.3L142,977.6M152.6,956.1L126.8,930.3M185.2,897.9L117.5,934M207.2,937.6L154.4,922M187.6,887.5L139.6,886.8M117.7,912.7L187.5,965.3M213,957.9L117.3,961.6M196.2,959.6L162.9,990.4M174.4,872.5L214,898.9M104.1,890.4L148,860.4M203,948.6L93.5,919.1M144.9,875.4L154.4,922M109,904.8L131.5,941.4M225.9,894.2L162.9,990.4M163.5,925.5L187,923.2M192.4,984.7L215.3,969.4M93.9,940.7L150.7,894.1M163.9,871.8L152.6,956.1M214,898.9L173.2,991M203.8,905.6L126.8,930.3M131.5,941.4L214,898.9M130.4,910.2L163.1,915.5M185.2,875.2L120.5,979.1M187.6,887.5L186.8,934.6M142,977.6L195.4,943M93.9,940.7L189.1,950.7M154.4,947.4L209.6,915.5M173,905.1L137.3,874.7M175.5,930.7L154.4,922M120.9,948.5L137.3,874.7M150.7,894.1L185.2,875.2M148.1,907.7L174.4,872.5M218.9,909.5L153.2,931.8M152.3,967.6L175.7,966.1M162.2,967.4L139.3,961.6M122.8,870.5L122.8,870.5M154.4,947.4L160.7,905.5M109,904.8L163.1,915.5M168.6,858.9L160.7,905.5M228.9,904.2L152.3,967.6M128,918.4L140.2,916.7M126.8,930.3L176.2,885.3M134.3,865.6L215.3,969.4M140.6,898.4L163.9,871.8M187.5,965.3L187,923.2M174.7,918L139.6,886.8M148.1,907.7L126.8,930.3M148,860.4L176.7,956.4M122.5,902.6L174.4,872.5M210.3,927.1L134.3,865.6M140.2,916.7L218.9,909.5M167,881.9L128,918.4M98.4,955.7L163.9,871.8M203,948.6L153.2,931.8M209.6,915.5L203.8,905.6M215.3,969.4L122.8,870.5M132.3,892.5L187.6,887.5M140.6,951L203.8,905.6M163.1,915.5L196.5,869.4M185.2,897.9L120.9,948.5M117.5,934L195.9,893M214,898.9L120.9,948.5M109,904.8L132.3,892.5M140.6,898.4L163.5,925.5M128,918.4L193.5,911M117.5,934L145.6,937.4M203.8,905.6L218.9,909.5M131.5,941.4L176.7,956.4M128,918.4L153.2,931.8M165,958.3L117.3,961.6M132.3,892.5L185.2,875.2M165,958.3L162.9,990.4M154.4,922L154.4,947.4M186.8,934.6L115.7,896.4M165,958.3L187.6,887.5M163.9,871.8L140.6,951M141.4,928.2L153.2,931.8M132.3,892.5L195.9,893M187.5,965.3L139.6,886.8M163.1,915.5L148,860.4M168.6,858.9L175.5,930.7M161.5,891.5L132.3,892.5M174.7,918L122.5,902.6M174.4,872.5L154.4,922M140.6,898.4L161.5,891.5M180.2,912.6L117.7,912.7M210.3,927.1L131.5,941.4M165,958.3L162.2,967.4M137.3,874.7L186.8,934.6M139.3,961.6L178.9,944.2M109,904.8L175.5,930.7M225.9,894.2L207.2,937.6M198,929.1L209.6,915.5M203,948.6L163.9,871.8M175,895.4L176.8,978.5M198.3,920.4L154.4,922M152.3,967.6L173.2,991M139.3,961.6L187.5,965.3M173,905.1L141.4,928.2M104.1,890.4L176.2,885.3M173,905.1L105.4,917.5M137.3,874.7L163.5,925.5M187,923.2L154.4,922M104.1,890.4L173,905.1M153.2,931.8L165,958.3M185.2,875.2L163.1,915.5M144.9,875.4L175.5,930.7M131.5,941.4L98.4,955.7M196.8,880.8L162.2,967.4M126.8,930.3L215.3,969.4M144.9,875.4L152.3,967.6M144.9,875.4L139.3,961.6M93.9,940.7L163.1,915.5M116,925L196.2,959.6M215.3,969.4L115.7,896.4M173.2,991L122.5,902.6M173,905.1L207.2,937.6M140.6,951L139.6,886.8M186.8,934.6L185.2,875.2M117.7,912.7L213,957.9M162.2,967.4L218.9,909.5M104.1,890.4L132.3,892.5M152.6,956.1L228.9,904.2M225.9,894.2L117.7,912.7M213,957.9L130.3,958.6M140.6,951L120.9,948.5M150.7,884.2L187.6,887.5M150.7,894.1L187.6,887.5M134.3,865.6L144.9,875.4M139.3,961.6L198.3,920.4M165,958.3L185.2,875.2M196.5,869.4L215.3,969.4M115.7,896.4L148,860.4M134.3,865.6L117.7,912.7M163.9,871.8L174.7,918M189.1,950.7L165,958.3M148,860.4L215.3,969.4M153.2,931.8L209.6,915.5M173,905.1L202.5,980.7M122.8,870.5L97,903.1M93.9,940.7L180.2,912.6M187.5,965.3L161.5,891.5M109,904.8L120.5,979.1M141.4,928.2L125.1,881.5M175.5,930.7L195.9,893M209.6,915.5L225.9,894.2M120.5,979.1L162.2,967.4M117.5,934L163.5,925.5M148.1,907.7L131.5,941.4M132.3,892.5L187,923.2M152.3,967.6L142,977.6M196.2,959.6L186.8,934.6M195.9,893L160.7,905.5M98.4,955.7L128,918.4M161.5,891.5L122.8,870.5M175.5,930.7L189.1,950.7M120.5,979.1L145.6,937.4M117.3,961.6L164.3,935.9M186.8,934.6L150.7,894.1M195.4,943L128,918.4M140.6,898.4L176.8,978.5M196.8,880.8L150.7,884.2M185.2,875.2L115.7,896.4M187.5,965.3L218.9,909.5M131.5,941.4L209.6,915.5M152.6,956.1L137.3,874.7M160.7,905.5L174.7,918M186.8,934.6L109,904.8M154.4,922L180.2,912.6M126.8,930.3L185.2,897.9M160.7,905.5L187,923.2M209.6,915.5L132.3,892.5M140.6,898.4L104.1,890.4M125.1,881.5L187,923.2M120.5,979.1L163.9,871.8M202.5,980.7L93.5,919.1M134.3,865.6L139.3,961.6M132.3,892.5L115.7,896.4M93.9,940.7L195.9,893M186.8,934.6L207.2,937.6M109,904.8L187.6,887.5M116,925L128,918.4M186.8,934.6L221.2,924.2M163.5,925.5L209.6,915.5M203,948.6L225.9,894.2M120.5,979.1L148.1,907.7M152.3,967.6L139.3,961.6M131.5,941.4L163.9,871.8M215.3,969.4L148.1,907.7M213,957.9L104.1,890.4M228.9,904.2L120.9,948.5M167,881.9L120.5,979.1M140.2,916.7L115.7,896.4M205.9,887L130.4,910.2M175,895.4L139.3,961.6M141.4,928.2L162.2,967.4M161.5,891.5L176.2,885.3M187.6,887.5L160.7,905.5M185.2,897.9L130.4,910.2M175.7,966.1L165,958.3M220.9,961.6L128,918.4M196.5,869.4L130.4,910.2M228.9,904.2L125.1,881.5M209.6,915.5L168.6,858.9M218.9,909.5L150.7,884.2M117.5,934L131.5,941.4M137.3,874.7L139.6,886.8M144.9,875.4L139.6,886.8M210.3,927.1L105.4,917.5M163.1,915.5L207.2,937.6M153.2,931.8L140.6,951M180.2,912.6L154.4,922M196.5,869.4L189.1,950.7M207.2,937.6L185.2,875.2M205.9,887L141.4,928.2M162.9,990.4L210.3,927.1M174.7,918L131.5,941.4M220.9,961.6L128,918.4M198,929.1L163.9,871.8M176.2,885.3L163.1,915.5M139.3,961.6L209.6,915.5M228.9,904.2L126.8,930.3M220.9,961.6L195.4,943M145.6,937.4L187,923.2M187.6,887.5L203,948.6M139.6,886.8L187.6,887.5M148.1,907.7L128,918.4M189.1,950.7L163.9,871.8M202.5,980.7L134.3,865.6M195.4,943L116,925M162.9,990.4L117.5,934M176.7,956.4L176.2,885.3M196.2,959.6L209.6,915.5M210.3,927.1L214,898.9M221.2,924.2L140.6,898.4M120.9,948.5L195.4,943M195.4,943L154.4,922M209.6,915.5L117.5,934M130.3,958.6L203,948.6M220.9,961.6L175,895.4M205.9,887L164.3,935.9M164.3,935.9L167.5,948.2M173.2,991L214,898.9M189.1,950.7L218.9,909.5M153.2,931.8L165,958.3M175.5,930.7L163.5,925.5M128,918.4L192.4,984.7M209.6,915.5L130.3,958.6M120.9,948.5L213,957.9M163.1,915.5L163.9,871.8M140.6,951L161.5,891.5M164.3,935.9L198,929.1M176.2,885.3L152.3,967.6M175.5,930.7L115.7,896.4M221.2,924.2L180.2,912.6M195.9,893L196.2,959.6M193.5,911L175,895.4M97,903.1L174.4,872.5M150.7,884.2L196.5,869.4M193.5,911L152.3,967.6M174.7,918L154.4,922M167,881.9L163.1,915.5M173.2,991L97,903.1M165,958.3L202.5,980.7M142,977.6L175,895.4M154.4,947.4L220.9,961.6M202.5,980.7L139.6,886.8M196.8,880.8L215.3,969.4M152.3,967.6L213,957.9M154.4,947.4L198,929.1M153.2,931.8L165,958.3M174.7,918L153.2,931.8M163.9,871.8L120.5,979.1M141.4,928.2L203.8,905.6M209.6,915.5L205.9,887M93.5,919.1L215.3,969.4M115.7,896.4L196.8,880.8M150.7,884.2L117.5,934M205.9,887L173.2,991M165,958.3L207.2,937.6M140.6,951L148.1,907.7M104.1,890.4L154.4,947.4M213,957.9L187,923.2M139.6,886.8L130.3,958.6M187.6,887.5L203.8,905.6M198,929.1L185.2,897.9M195.9,893L195.4,943M214,898.9L189.1,950.7M131.1,970.3L187.5,965.3M154.4,947.4L205.9,887M163.1,915.5L139.6,886.8M163.9,871.8L150.7,894.1M203.8,905.6L117.3,961.6M125.1,881.5L198.3,920.4M154.4,922L187.5,965.3M131.1,970.3L109,904.8M213,957.9L186.8,934.6M163.9,871.8L167.5,948.2M198,929.1L148,860.4M215.3,969.4L198.3,920.4M187,923.2L176.2,885.3M93.5,919.1L148.1,907.7M117.5,934L163.1,915.5M196.8,880.8L163.9,871.8M215.3,969.4L120.5,979.1M195.9,893L131.5,941.4M196.2,959.6L139.3,961.6M140.6,951L98.4,955.7M117.7,912.7L122.5,902.6M187.5,965.3L175.5,930.7M198.3,920.4L130.4,910.2M163.1,915.5L187.5,965.3M187.5,965.3L125.1,881.5M122.5,902.6L176.8,978.5M195.4,943L163.1,915.5M167.5,948.2L150.7,884.2M185.2,897.9L139.6,886.8M160.7,905.5L174.4,872.5M150.7,894.1L126.8,930.3M228.9,904.2L160.7,905.5M134.3,865.6L214,898.9M186.8,934.6L220.9,961.6M173.2,991L178.9,944.2" stroke="#e58d8d" stroke-width="0.5" opacity="0.16" fill="none"/><circle cx="163.5" cy="925.5" r="1.9" fill="#c8cfe0" stroke="#8aa6cc" stroke-width="0.9"/><circle cx="164.3" cy="935.9" r="1.8" fill="#eeb6b6" stroke="#d27e84" stroke-width="0.7"/><circle cx="153.2" cy="931.8" r="1.8" fill="#eeb6b6" stroke="#d27e84" stroke-width="0.7"/><circle cx="154.4" cy="922" r="1.8" fill="#eeb6b6" stroke="#d27e84" stroke-width="0.7"/><circle cx="163.1" cy="915.5" r="1.8" fill="#eeb6b6" stroke="#d27e84" stroke-width="0.7"/><circle cx="174.7" cy="918" r="1.8" fill="#eeb6b6" stroke="#d27e84" stroke-width="0.7"/><circle cx="175.5" cy="930.7" r="1.9" fill="#c8cfe0" stroke="#8aa6cc" stroke-width="0.9"/><circle cx="141.4" cy="928.2" r="1.8" fill="#eeb6b6" stroke="#d27e84" stroke-width="0.7"/><circle cx="140.2" cy="916.7" r="1.9" fill="#c8cfe0" stroke="#8aa6cc" stroke-width="0.9"/><circle cx="148.1" cy="907.7" r="1.8" fill="#eeb6b6" stroke="#d27e84" stroke-width="0.7"/><circle cx="160.7" cy="905.5" r="1.8" fill="#eeb6b6" stroke="#d27e84" stroke-width="0.7"/><circle cx="173" cy="905.1" r="1.8" fill="#eeb6b6" stroke="#d27e84" stroke-width="0.7"/><circle cx="180.2" cy="912.6" r="1.8" fill="#eeb6b6" stroke="#d27e84" stroke-width="0.7"/><circle cx="187" cy="923.2" r="1.8" fill="#eeb6b6" stroke="#d27e84" stroke-width="0.7"/><circle cx="186.8" cy="934.6" r="1.8" fill="#eeb6b6" stroke="#d27e84" stroke-width="0.7"/><circle cx="178.9" cy="944.2" r="1.8" fill="#eeb6b6" stroke="#d27e84" stroke-width="0.7"/><circle cx="167.5" cy="948.2" r="1.8" fill="#eeb6b6" stroke="#d27e84" stroke-width="0.7"/><circle cx="154.4" cy="947.4" r="1.8" fill="#eeb6b6" stroke="#d27e84" stroke-width="0.7"/><circle cx="145.6" cy="937.4" r="1.8" fill="#eeb6b6" stroke="#d27e84" stroke-width="0.7"/><circle cx="189.1" cy="950.7" r="1.8" fill="#eeb6b6" stroke="#d27e84" stroke-width="0.7"/><circle cx="176.7" cy="956.4" r="1.8" fill="#eeb6b6" stroke="#d27e84" stroke-width="0.7"/><circle cx="165" cy="958.3" r="1.9" fill="#c8cfe0" stroke="#8aa6cc" stroke-width="0.9"/><circle cx="152.6" cy="956.1" r="1.9" fill="#c8cfe0" stroke="#8aa6cc" stroke-width="0.9"/><circle cx="140.6" cy="951" r="1.8" fill="#eeb6b6" stroke="#d27e84" stroke-width="0.7"/><circle cx="131.5" cy="941.4" r="1.8" fill="#eeb6b6" stroke="#d27e84" stroke-width="0.7"/><circle cx="126.8" cy="930.3" r="1.8" fill="#eeb6b6" stroke="#d27e84" stroke-width="0.7"/><circle cx="128" cy="918.4" r="1.8" fill="#eeb6b6" stroke="#d27e84" stroke-width="0.7"/><circle cx="130.4" cy="910.2" r="1.8" fill="#eeb6b6" stroke="#d27e84" stroke-width="0.7"/><circle cx="140.6" cy="898.4" r="1.8" fill="#eeb6b6" stroke="#d27e84" stroke-width="0.7"/><circle cx="150.7" cy="894.1" r="1.8" fill="#eeb6b6" stroke="#d27e84" stroke-width="0.7"/><circle cx="161.5" cy="891.5" r="1.9" fill="#c8cfe0" stroke="#8aa6cc" stroke-width="0.9"/><circle cx="175" cy="895.4" r="1.8" fill="#eeb6b6" stroke="#d27e84" stroke-width="0.7"/><circle cx="185.2" cy="897.9" r="1.8" fill="#eeb6b6" stroke="#d27e84" stroke-width="0.7"/><circle cx="193.5" cy="911" r="1.8" fill="#eeb6b6" stroke="#d27e84" stroke-width="0.7"/><circle cx="198.3" cy="920.4" r="1.9" fill="#c8cfe0" stroke="#8aa6cc" stroke-width="0.9"/><circle cx="198" cy="929.1" r="1.8" fill="#eeb6b6" stroke="#d27e84" stroke-width="0.7"/><circle cx="195.4" cy="943" r="1.9" fill="#c8cfe0" stroke="#8aa6cc" stroke-width="0.9"/><circle cx="207.2" cy="937.6" r="1.9" fill="#c8cfe0" stroke="#8aa6cc" stroke-width="0.9"/><circle cx="203" cy="948.6" r="1.8" fill="#eeb6b6" stroke="#d27e84" stroke-width="0.7"/><circle cx="196.2" cy="959.6" r="1.8" fill="#eeb6b6" stroke="#d27e84" stroke-width="0.7"/><circle cx="187.5" cy="965.3" r="1.8" fill="#eeb6b6" stroke="#d27e84" stroke-width="0.7"/><circle cx="175.7" cy="966.1" r="1.8" fill="#eeb6b6" stroke="#d27e84" stroke-width="0.7"/><circle cx="162.2" cy="967.4" r="1.8" fill="#eeb6b6" stroke="#d27e84" stroke-width="0.7"/><circle cx="152.3" cy="967.6" r="1.8" fill="#eeb6b6" stroke="#d27e84" stroke-width="0.7"/><circle cx="139.3" cy="961.6" r="1.8" fill="#eeb6b6" stroke="#d27e84" stroke-width="0.7"/><circle cx="130.3" cy="958.6" r="1.8" fill="#eeb6b6" stroke="#d27e84" stroke-width="0.7"/><circle cx="120.9" cy="948.5" r="1.8" fill="#eeb6b6" stroke="#d27e84" stroke-width="0.7"/><circle cx="117.5" cy="934" r="1.8" fill="#eeb6b6" stroke="#d27e84" stroke-width="0.7"/><circle cx="116" cy="925" r="1.8" fill="#eeb6b6" stroke="#d27e84" stroke-width="0.7"/><circle cx="117.7" cy="912.7" r="1.8" fill="#eeb6b6" stroke="#d27e84" stroke-width="0.7"/><circle cx="122.5" cy="902.6" r="1.8" fill="#eeb6b6" stroke="#d27e84" stroke-width="0.7"/><circle cx="132.3" cy="892.5" r="1.8" fill="#eeb6b6" stroke="#d27e84" stroke-width="0.7"/><circle cx="139.6" cy="886.8" r="1.8" fill="#eeb6b6" stroke="#d27e84" stroke-width="0.7"/><circle cx="150.7" cy="884.2" r="1.8" fill="#eeb6b6" stroke="#d27e84" stroke-width="0.7"/><circle cx="167" cy="881.9" r="1.8" fill="#eeb6b6" stroke="#d27e84" stroke-width="0.7"/><circle cx="176.2" cy="885.3" r="1.9" fill="#c8cfe0" stroke="#8aa6cc" stroke-width="0.9"/><circle cx="187.6" cy="887.5" r="1.8" fill="#eeb6b6" stroke="#d27e84" stroke-width="0.7"/><circle cx="195.9" cy="893" r="1.8" fill="#eeb6b6" stroke="#d27e84" stroke-width="0.7"/><circle cx="203.8" cy="905.6" r="1.8" fill="#eeb6b6" stroke="#d27e84" stroke-width="0.7"/><circle cx="209.6" cy="915.5" r="1.9" fill="#c8cfe0" stroke="#8aa6cc" stroke-width="0.9"/><circle cx="210.3" cy="927.1" r="1.8" fill="#eeb6b6" stroke="#d27e84" stroke-width="0.7"/><circle cx="144.9" cy="875.4" r="1.9" fill="#c8cfe0" stroke="#8aa6cc" stroke-width="0.9"/><circle cx="163.9" cy="871.8" r="1.9" fill="#c8cfe0" stroke="#8aa6cc" stroke-width="0.9"/><circle cx="174.4" cy="872.5" r="1.8" fill="#eeb6b6" stroke="#d27e84" stroke-width="0.7"/><circle cx="185.2" cy="875.2" r="1.8" fill="#eeb6b6" stroke="#d27e84" stroke-width="0.7"/><circle cx="196.8" cy="880.8" r="1.8" fill="#eeb6b6" stroke="#d27e84" stroke-width="0.7"/><circle cx="205.9" cy="887" r="1.3" fill="#9aa6c4"/><circle cx="214" cy="898.9" r="1.3" fill="#d9a0a4"/><circle cx="218.9" cy="909.5" r="1.3" fill="#9aa6c4"/><circle cx="221.2" cy="924.2" r="1.3" fill="#9aa6c4"/><circle cx="213" cy="957.9" r="1.3" fill="#d9a0a4"/><circle cx="176.8" cy="978.5" r="1.9" fill="#c8cfe0" stroke="#8aa6cc" stroke-width="0.9"/><circle cx="142" cy="977.6" r="1.8" fill="#eeb6b6" stroke="#d27e84" stroke-width="0.7"/><circle cx="131.1" cy="970.3" r="1.8" fill="#eeb6b6" stroke="#d27e84" stroke-width="0.7"/><circle cx="117.3" cy="961.6" r="1.3" fill="#d9a0a4"/><circle cx="105.4" cy="917.5" r="1.3" fill="#d9a0a4"/><circle cx="109" cy="904.8" r="1.3" fill="#9aa6c4"/><circle cx="115.7" cy="896.4" r="1.8" fill="#eeb6b6" stroke="#d27e84" stroke-width="0.7"/><circle cx="125.1" cy="881.5" r="1.3" fill="#9aa6c4"/><circle cx="137.3" cy="874.7" r="1.3" fill="#d9a0a4"/><circle cx="173.2" cy="991" r="1.3" fill="#9aa6c4"/><circle cx="162.9" cy="990.4" r="1.3" fill="#9aa6c4"/><circle cx="120.5" cy="979.1" r="1.3" fill="#9aa6c4"/><circle cx="98.4" cy="955.7" r="1.3" fill="#d9a0a4"/><circle cx="93.9" cy="940.7" r="1.3" fill="#d9a0a4"/><circle cx="93.5" cy="919.1" r="1.3" fill="#9aa6c4"/><circle cx="97" cy="903.1" r="1.3" fill="#d9a0a4"/><circle cx="104.1" cy="890.4" r="1.3" fill="#d9a0a4"/><circle cx="122.8" cy="870.5" r="1.3" fill="#9aa6c4"/><circle cx="134.3" cy="865.6" r="1.3" fill="#d9a0a4"/><circle cx="148" cy="860.4" r="1.3" fill="#9aa6c4"/><circle cx="168.6" cy="858.9" r="1.3" fill="#d9a0a4"/><circle cx="196.5" cy="869.4" r="1.3" fill="#d9a0a4"/><circle cx="225.9" cy="894.2" r="1.3" fill="#9aa6c4"/><circle cx="228.9" cy="904.2" r="1.3" fill="#9aa6c4"/><circle cx="220.9" cy="961.6" r="1.3" fill="#9aa6c4"/><circle cx="215.3" cy="969.4" r="1.3" fill="#9aa6c4"/><circle cx="202.5" cy="980.7" r="1.3" fill="#d9a0a4"/><circle cx="192.4" cy="984.7" r="1.3" fill="#d9a0a4"/><circle cx="145.9" cy="927.6" r="3.3" fill="#f9e52a" stroke="#f2d21a" stroke-width="0.6"/><circle cx="205.1" cy="945.4" r="3.3" fill="#f9e52a" stroke="#f2d21a" stroke-width="0.6"/><circle cx="175.4" cy="955.6" r="3.3" fill="#f9e52a" stroke="#f2d21a" stroke-width="0.6"/>
<text x="65.3" y="1010.9" font-size="19.3" fill="#0a0a0a" textLength="199.3" lengthAdjust="spacingAndGlyphs">Co-expression network</text>
<circle cx="361.5" cy="492.6" r="11.3" fill="none" stroke="#111" stroke-width="1.4"/><text x="361.5" y="499.8" font-size="20" font-weight="bold" text-anchor="middle" fill="#111">2</text>
<text x="376.5" y="498.3" font-size="21" font-weight="bold" fill="#0a0a0a" textLength="257.4" lengthAdjust="spacingAndGlyphs">Interpret rumen evolution</text>
<text x="400.0" y="519.3" font-size="21" font-weight="bold" fill="#0a0a0a" textLength="215.1" lengthAdjust="spacingAndGlyphs">and monogenic traits</text>
<text x="471.7" y="553.2" font-size="19.1" fill="#0a0a0a" textLength="82.3" lengthAdjust="spacingAndGlyphs">DEC loco</text><path d="M449.5,564.9V557.5H625.7V570.2" fill="none" stroke="#222" stroke-width="0.6"/><path d="M409.7,564.1V561.4H490.6V564.9 M401.8,566.2V563.5H420.3V566.7 M433.6,567.5V564.3H546.2V567.5 M476,568.3V565.7H616.4V569.4 M395.2,570.2V567.8H427V570.2 M438.9,570.2V567.3H518.4V570.2 M529,570.2V568.3H597.9V570.4" fill="none" stroke="#333" stroke-width="0.6"/><path d="M474.7,565.1H544.9" stroke="#888" stroke-width="1.2"/><path d="M406.7,570.3V569.8H425.5V570.3M437.6,570.3V570H446.1V570.3M441.9,570.1V569.5H460.2V570.1M416.1,569.7V569.1H451V569.7M493.3,570.2V569.7H546.4V570.2M585.4,570.5V569.9H609.5V570.5M519.8,569.9V569.2H597.4V569.9M433.6,569V567.8H558.6V569" fill="none" stroke="#333" stroke-width="0.6"/><path d="M394.4,577L394.4,571.7L395.6,572.2L396.6,572.8L397.3,570L398.1,570.3L398.9,569.5L400.4,570.4L401.8,571.2L403.1,573.1L404.2,570.1L405,569.7L406.5,571.9L407.4,571.7L408.4,569.4L409.4,573.5L410.1,570.6L411.7,571.5L412.8,571.3L414.1,572.7L415.3,571.3L416.6,572.8L417.3,572.1L418.9,572.1L420.1,572.3L420.8,573.3L422.2,570.3L423.1,570.7L424.4,569.8L426,571.9L427.6,569.6L428.8,569.9L429.9,572L430.7,569.9L431.5,573.3L432.9,570.3L434,570.1L434.6,572.5L435.5,571.8L436.3,573.3L437.2,569.8L438.8,570.5L439.9,572.5L441.4,571.4L442.8,573.5L443.6,570.1L445,569.9L446.2,571.8L447.3,570L448.3,571.4L449.1,570.4L449.7,570.7L451.3,573.5L452.5,570.9L453.9,571.1L454.8,571.9L456.4,569.8L457.1,573.2L457.8,573.5L458.8,573L460.3,570.8L461,571.3L461.9,571.5L462.8,572.9L463.5,572L464.9,571.3L465.5,570.6L467,570.3L468.4,573.6L469.4,573.3L470.8,572.9L472.1,572.5L473.4,572.3L474,572L475,569.8L475.9,571.5L477,569.6L477.7,571.1L478.8,570.5L480.4,572.3L481.7,571.4L482.8,573.3L484.2,569.5L485.2,572.3L486.8,573.1L487.5,573.3L488.9,570.4L489.9,571L490.6,570.9L491.6,571.4L492.6,571.9L493.4,573.4L494.4,572.6L495.8,570.2L497.1,571.7L497.9,572L499,570.9L500.6,573.2L501.6,571.5L503,569.9L504.3,571L505.7,570.8L507.2,570.7L508.4,572.6L510,572L511.2,570.1L512.7,569.4L513.3,572.3L514.3,572L515,571.3L515.7,572.3L517.2,570.5L518.3,573.1L519.8,570.6L520.6,572.2L521.9,570.7L522.7,569.6L523.7,572.5L525.1,573L526.4,572.8L527.6,572.4L528.6,569.6L529.6,571.8L530.9,572.4L531.6,572L532.5,572.8L534.1,573.5L535.5,569.7L536.8,573.5L537.9,573.4L539.1,570.7L539.9,573.6L541.1,573.2L542,571.7L543.5,572L544.2,570.3L545.6,571.4L546.3,572.8L547.3,571.3L548.1,570.2L549.6,569.7L551,573.5L552.2,573.3L553.7,570.5L555.1,572.8L555.7,570.2L556.9,571L558,570.2L559,572.5L559.9,572.3L561.1,569.9L561.8,573.3L562.9,570.8L563.7,572.5L564.4,573.4L565.5,570.7L566.7,572.9L567.4,569.7L568.6,571.9L569.8,570.5L571,573.3L572.4,572.7L573,572.1L574.2,571L574.9,570.6L576,572.9L577.5,570.2L579,570.7L579.8,570.3L581.3,571.4L582.8,569.5L583.8,569.6L585.4,570.3L586,572.1L587.2,571L588.5,570.9L589.3,569.7L590.4,569.9L591.2,569.4L592.4,570.3L593.7,569.9L594.7,573.3L595.7,572.9L596.8,570.2L597.8,573L598.4,571.8L599.6,573.5L600.9,572.7L601.6,569.7L602.7,569.8L603.8,573.1L604.7,571.8L605.9,570.4L607.3,570.9L608.1,571.8L609.1,571.5L609.9,571.3L611,573.5L612.4,571.1L613.8,570.5L615.2,569.4L616.1,571.9L616.7,570.8L617.9,571.2L619.5,572.8L620.4,570.5L621.8,571.6L622.4,572L623.8,571.5L624.9,572L625.7,573.6L625.7,577Z" fill="#111"/><rect x="394.4" y="576.8" width="12.9" height="9.3" fill="#fbd0a8"/><rect x="407.1" y="576.8" width="6.8" height="9.3" fill="#3a7fd0"/><rect x="413.7" y="576.8" width="5.5" height="9.3" fill="#5a9ae0"/><rect x="419" y="576.8" width="8.1" height="9.3" fill="#3a78cc"/><rect x="427" y="576.8" width="4.2" height="9.3" fill="#6aa8e8"/><rect x="430.9" y="576.8" width="4.2" height="9.3" fill="#9ad0f5"/><rect x="434.9" y="576.8" width="10.8" height="9.3" fill="#e03a2a"/><rect x="445.5" y="576.8" width="12.1" height="9.3" fill="#3a80c8"/><rect x="457.4" y="576.8" width="5.5" height="9.3" fill="#9ad0f5"/><rect x="462.7" y="576.8" width="4.2" height="9.3" fill="#6aa8e8"/><rect x="466.7" y="576.8" width="5.5" height="9.3" fill="#a8d4f5"/><rect x="472" y="576.8" width="3.6" height="9.3" fill="#d9e020"/><rect x="475.5" y="576.8" width="3.4" height="9.3" fill="#9acd32"/><rect x="478.6" y="576.8" width="4.2" height="9.3" fill="#9ad0f5"/><rect x="482.6" y="576.8" width="4.2" height="9.3" fill="#9a7fe0"/><rect x="486.6" y="576.8" width="5.5" height="9.3" fill="#f5e020"/><rect x="491.9" y="576.8" width="5.5" height="9.3" fill="#66c2a5"/><rect x="497.2" y="576.8" width="6.8" height="9.3" fill="#8fd0b0"/><rect x="503.8" y="576.8" width="6.8" height="9.3" fill="#5ab89a"/><rect x="510.4" y="576.8" width="10.8" height="9.3" fill="#8ac8f5"/><rect x="521" y="576.8" width="4.2" height="9.3" fill="#f08aa0"/><rect x="525" y="576.8" width="10.8" height="9.3" fill="#8ac0f0"/><rect x="535.6" y="576.8" width="9.5" height="9.3" fill="#a8d0f5"/><rect x="544.9" y="576.8" width="4.2" height="9.3" fill="#9a7fe0"/><rect x="548.9" y="576.8" width="4.2" height="9.3" fill="#6aa8e8"/><rect x="552.8" y="576.8" width="4.2" height="9.3" fill="#ffa050"/><rect x="556.8" y="576.8" width="4.2" height="9.3" fill="#f590b8"/><rect x="560.8" y="576.8" width="16.1" height="9.3" fill="#ee82ee"/><rect x="576.7" y="576.8" width="6.8" height="9.3" fill="#f5e020"/><rect x="583.3" y="576.8" width="3.6" height="9.3" fill="#b08ae0"/><rect x="586.7" y="576.8" width="3.4" height="9.3" fill="#f590c8"/><rect x="589.9" y="576.8" width="9.5" height="9.3" fill="#2e9a5a"/><rect x="599.2" y="576.8" width="9.5" height="9.3" fill="#3aa878"/><rect x="608.5" y="576.8" width="8.1" height="9.3" fill="#ffa030"/><rect x="616.4" y="576.8" width="5.5" height="9.3" fill="#d0a8e0"/><rect x="621.7" y="576.8" width="4.2" height="9.3" fill="#e89040"/><rect x="532" y="576.8" width="1.3" height="9.3" fill="#ffa030" opacity="0.8"/><rect x="454" y="576.8" width="0.7" height="9.3" fill="#f08aa0" opacity="0.8"/><rect x="452.6" y="576.8" width="1.4" height="9.3" fill="#ffa030" opacity="0.8"/><rect x="423.9" y="576.8" width="1.5" height="9.3" fill="#66c2a5" opacity="0.8"/><rect x="588.9" y="576.8" width="1.5" height="9.3" fill="#3a78cc" opacity="0.8"/><rect x="565.7" y="576.8" width="0.8" height="9.3" fill="#9ad0f5" opacity="0.8"/><rect x="428.8" y="576.8" width="1.4" height="9.3" fill="#ee82ee" opacity="0.8"/><rect x="419.2" y="576.8" width="1.2" height="9.3" fill="#f08aa0" opacity="0.8"/><rect x="445.2" y="576.8" width="0.8" height="9.3" fill="#f5e020" opacity="0.8"/><rect x="571.5" y="576.8" width="1.1" height="9.3" fill="#3a78cc" opacity="0.8"/><rect x="552.1" y="576.8" width="0.9" height="9.3" fill="#f08aa0" opacity="0.8"/><rect x="514.7" y="576.8" width="0.6" height="9.3" fill="#ffa030" opacity="0.8"/><rect x="427.6" y="576.8" width="0.7" height="9.3" fill="#f08aa0" opacity="0.8"/><rect x="583.7" y="576.8" width="0.7" height="9.3" fill="#ffa030" opacity="0.8"/><rect x="596.4" y="576.8" width="1.3" height="9.3" fill="#3a78cc" opacity="0.8"/><rect x="622.9" y="576.8" width="0.8" height="9.3" fill="#f08aa0" opacity="0.8"/><rect x="496.7" y="576.8" width="1.1" height="9.3" fill="#66c2a5" opacity="0.8"/><rect x="480.8" y="576.8" width="1.2" height="9.3" fill="#f08aa0" opacity="0.8"/><rect x="612.5" y="576.8" width="0.7" height="9.3" fill="#f5e020" opacity="0.8"/><rect x="567.8" y="576.8" width="1.2" height="9.3" fill="#f5e020" opacity="0.8"/><rect x="559.5" y="576.8" width="1.2" height="9.3" fill="#f5e020" opacity="0.8"/><rect x="575.6" y="576.8" width="0.6" height="9.3" fill="#f08aa0" opacity="0.8"/><rect x="600.3" y="576.8" width="1.4" height="9.3" fill="#ffa030" opacity="0.8"/><rect x="529.4" y="576.8" width="1.2" height="9.3" fill="#3a78cc" opacity="0.8"/><rect x="474.1" y="576.8" width="0.8" height="9.3" fill="#3a78cc" opacity="0.8"/><rect x="577.8" y="576.8" width="0.9" height="9.3" fill="#ee82ee" opacity="0.8"/><rect x="394.4" y="576.8" width="231.3" height="9.3" fill="none" stroke="#111" stroke-width="1.2"/><rect x="394.4" y="588.7" width="231.3" height="103.4" fill="#ffffff"/><rect x="407.1" y="588.7" width="5.3" height="13.2" fill="#d9352a" opacity="0.35"/><rect x="432.3" y="588.7" width="9.3" height="13.2" fill="#d9352a" opacity="0.40"/><rect x="446.8" y="588.7" width="2.6" height="13.2" fill="#d9352a" opacity="0.30"/><rect x="457.4" y="588.7" width="13.2" height="13.2" fill="#d9352a" opacity="0.50"/><rect x="461.4" y="588.7" width="4" height="13.2" fill="#d9352a" opacity="0.30"/><rect x="486.6" y="588.7" width="1.6" height="13.2" fill="#d9352a" opacity="0.25"/><rect x="510.4" y="588.7" width="4" height="13.2" fill="#d9352a" opacity="0.20"/><rect x="526.3" y="588.7" width="2.6" height="13.2" fill="#d9352a" opacity="0.25"/><rect x="544.9" y="588.7" width="4" height="13.2" fill="#d9352a" opacity="0.20"/><rect x="609.8" y="588.7" width="1.3" height="26" fill="#d9352a" opacity="0.15"/><rect x="429.6" y="602" width="6.6" height="12.7" fill="#d9352a" opacity="0.80"/><rect x="409.7" y="602" width="1.6" height="12.7" fill="#d9352a" opacity="0.30"/><rect x="457.4" y="602" width="4" height="12.7" fill="#d9352a" opacity="0.30"/><rect x="472" y="602" width="5.3" height="12.7" fill="#d9352a" opacity="0.55"/><rect x="518.4" y="602" width="7.9" height="12.7" fill="#d9352a" opacity="0.20"/><rect x="548.9" y="602" width="6.6" height="12.7" fill="#d9352a" opacity="0.45"/><rect x="529" y="602" width="1.6" height="12.7" fill="#d9352a" opacity="0.20"/><rect x="395.2" y="627.7" width="18.5" height="12.7" fill="#d9352a" opacity="0.35"/><rect x="430.9" y="627.7" width="5.3" height="12.7" fill="#d9352a" opacity="0.20"/><rect x="450.8" y="627.7" width="4" height="25.4" fill="#d9352a" opacity="0.25"/><rect x="472" y="627.7" width="1.3" height="12.7" fill="#d9352a" opacity="0.20"/><rect x="395.2" y="640.4" width="14.6" height="12.7" fill="#d9352a" opacity="0.45"/><rect x="409.7" y="640.4" width="4.8" height="12.7" fill="#d9352a" opacity="0.75"/><rect x="423" y="640.4" width="6.6" height="12.7" fill="#d9352a" opacity="0.20"/><rect x="499.8" y="640.4" width="5.3" height="12.7" fill="#d9352a" opacity="0.18"/><rect x="472" y="640.4" width="1.3" height="26" fill="#d9352a" opacity="0.15"/><rect x="409.7" y="653.1" width="4.8" height="26.2" fill="#d9352a" opacity="0.50"/><rect x="436.2" y="653.1" width="7.9" height="26.2" fill="#d9352a" opacity="0.40"/><rect x="450.8" y="653.1" width="4" height="26.2" fill="#d9352a" opacity="0.30"/><rect x="472" y="653.1" width="4" height="26.2" fill="#d9352a" opacity="0.18"/><rect x="493.2" y="653.1" width="9.3" height="26.2" fill="#d9352a" opacity="0.18"/><rect x="603.2" y="653.1" width="2.6" height="26.2" fill="#d9352a" opacity="0.22"/><rect x="596.6" y="653.1" width="1.3" height="26.2" fill="#d9352a" opacity="0.12"/><rect x="395.2" y="653.1" width="14.6" height="26.2" fill="#d9352a" opacity="0.08"/><rect x="395.2" y="679.3" width="64.9" height="12.7" fill="#d9352a" opacity="0.20"/><rect x="409.7" y="679.3" width="4.8" height="12.7" fill="#d9352a" opacity="0.40"/><rect x="401.8" y="679.3" width="4" height="12.7" fill="#d9352a" opacity="0.30"/><rect x="438.9" y="679.3" width="4" height="12.7" fill="#d9352a" opacity="0.30"/><rect x="454.3" y="679.3" width="3.2" height="12.7" fill="#d9352a" opacity="0.30"/><rect x="396.5" y="627.7" width="2.6" height="64.4" fill="#d9352a" opacity="0.15"/><rect x="395.2" y="627.7" width="4.5" height="64.4" fill="#d9352a" opacity="0.18"/><rect x="401.3" y="627.7" width="3.7" height="64.4" fill="#d9352a" opacity="0.22"/><rect x="406.6" y="614.7" width="3.2" height="77.4" fill="#d9352a" opacity="0.25"/><rect x="409.7" y="627.7" width="4.8" height="64.4" fill="#d9352a" opacity="0.30"/><rect x="429.9" y="627.7" width="2.6" height="64.4" fill="#d9352a" opacity="0.30"/><rect x="433.6" y="627.7" width="5.8" height="25.4" fill="#d9352a" opacity="0.20"/><rect x="441" y="614.7" width="3.7" height="77.4" fill="#d9352a" opacity="0.15"/><rect x="446.8" y="627.7" width="2.6" height="64.4" fill="#d9352a" opacity="0.22"/><rect x="457.4" y="627.7" width="3.2" height="64.4" fill="#d9352a" opacity="0.15"/><rect x="401.8" y="588.7" width="4" height="26" fill="#d9352a" opacity="0.12"/><rect x="416.6" y="588.7" width="12.2" height="26" fill="#d9352a" opacity="0.10"/><rect x="449.5" y="588.7" width="3.2" height="26" fill="#d9352a" opacity="0.18"/><rect x="463.3" y="627.7" width="2.6" height="51.7" fill="#d9352a" opacity="0.15"/><rect x="476" y="640.4" width="3.2" height="39" fill="#d9352a" opacity="0.12"/><rect x="483.9" y="627.7" width="2.6" height="64.4" fill="#d9352a" opacity="0.10"/><rect x="407.9" y="588.7" width="0.7" height="26" fill="#d9352a" opacity="0.10"/><rect x="469.6" y="614.7" width="1.1" height="13" fill="#d9352a" opacity="0.10"/><rect x="475.2" y="666.4" width="1.3" height="13" fill="#d9352a" opacity="0.11"/><rect x="493" y="588.7" width="1.4" height="13.2" fill="#d9352a" opacity="0.07"/><rect x="454.5" y="627.7" width="1" height="12.7" fill="#d9352a" opacity="0.24"/><rect x="588.1" y="588.7" width="0.9" height="26" fill="#d9352a" opacity="0.08"/><rect x="580.7" y="653.1" width="0.6" height="26.2" fill="#d9352a" opacity="0.11"/><rect x="570.1" y="679.3" width="0.6" height="12.7" fill="#d9352a" opacity="0.13"/><rect x="521.8" y="640.4" width="1.3" height="26" fill="#d9352a" opacity="0.11"/><rect x="398.2" y="653.1" width="1.2" height="13.2" fill="#d9352a" opacity="0.21"/><rect x="419.1" y="640.4" width="0.7" height="12.7" fill="#d9352a" opacity="0.19"/><rect x="436.1" y="614.7" width="0.9" height="13" fill="#d9352a" opacity="0.15"/><rect x="405.1" y="679.3" width="0.6" height="12.7" fill="#d9352a" opacity="0.23"/><rect x="541.5" y="602" width="0.8" height="25.7" fill="#d9352a" opacity="0.16"/><rect x="501.9" y="588.7" width="1.2" height="26" fill="#d9352a" opacity="0.12"/><rect x="426.4" y="588.7" width="1.1" height="26" fill="#d9352a" opacity="0.10"/><rect x="401.1" y="614.7" width="0.5" height="13" fill="#d9352a" opacity="0.24"/><rect x="551.3" y="679.3" width="1.3" height="12.7" fill="#d9352a" opacity="0.11"/><rect x="417.1" y="640.4" width="1.3" height="12.7" fill="#d9352a" opacity="0.17"/><rect x="411.1" y="614.7" width="1.2" height="13" fill="#d9352a" opacity="0.24"/><rect x="485.2" y="602" width="0.8" height="12.7" fill="#d9352a" opacity="0.18"/><rect x="411" y="666.4" width="1.3" height="13" fill="#d9352a" opacity="0.07"/><rect x="457" y="640.4" width="1.4" height="12.7" fill="#d9352a" opacity="0.20"/><rect x="508.5" y="602" width="1.5" height="12.7" fill="#d9352a" opacity="0.15"/><rect x="614" y="679.3" width="1.6" height="12.7" fill="#d9352a" opacity="0.13"/><rect x="425.7" y="640.4" width="1.1" height="12.7" fill="#d9352a" opacity="0.08"/><rect x="497.6" y="602" width="1" height="12.7" fill="#d9352a" opacity="0.14"/><rect x="395.3" y="653.1" width="0.7" height="13.2" fill="#d9352a" opacity="0.19"/><rect x="478" y="640.4" width="1.3" height="26" fill="#d9352a" opacity="0.17"/><rect x="451.1" y="640.4" width="0.5" height="12.7" fill="#d9352a" opacity="0.16"/><rect x="526.8" y="640.4" width="1.2" height="26" fill="#d9352a" opacity="0.08"/><rect x="493.7" y="653.1" width="1.1" height="13.2" fill="#d9352a" opacity="0.13"/><rect x="471.3" y="627.7" width="1.4" height="12.7" fill="#d9352a" opacity="0.13"/><rect x="523.5" y="588.7" width="0.6" height="13.2" fill="#d9352a" opacity="0.15"/><rect x="490.9" y="588.7" width="1.4" height="13.2" fill="#d9352a" opacity="0.06"/><rect x="455.8" y="627.7" width="1.4" height="12.7" fill="#d9352a" opacity="0.20"/><rect x="398.4" y="627.7" width="0.7" height="12.7" fill="#d9352a" opacity="0.23"/><rect x="422.7" y="653.1" width="1.3" height="13.2" fill="#d9352a" opacity="0.15"/><rect x="528" y="640.4" width="0.8" height="12.7" fill="#d9352a" opacity="0.08"/><rect x="408.4" y="666.4" width="1.6" height="13" fill="#d9352a" opacity="0.08"/><rect x="606.6" y="679.3" width="1.3" height="12.7" fill="#d9352a" opacity="0.17"/><rect x="399.1" y="679.3" width="1.5" height="12.7" fill="#d9352a" opacity="0.27"/><rect x="395.8" y="679.3" width="1.4" height="12.7" fill="#d9352a" opacity="0.27"/><rect x="467.3" y="588.7" width="1.6" height="13.2" fill="#d9352a" opacity="0.18"/><rect x="500.6" y="588.7" width="1.5" height="13.2" fill="#d9352a" opacity="0.17"/><rect x="603.9" y="602" width="0.9" height="25.7" fill="#d9352a" opacity="0.12"/><rect x="420.5" y="679.3" width="1.3" height="12.7" fill="#d9352a" opacity="0.11"/><rect x="407.8" y="627.7" width="0.6" height="12.7" fill="#d9352a" opacity="0.27"/><rect x="398" y="666.4" width="1.1" height="13" fill="#d9352a" opacity="0.23"/><rect x="419.6" y="602" width="1.1" height="12.7" fill="#d9352a" opacity="0.08"/><rect x="395.7" y="627.7" width="1" height="12.7" fill="#d9352a" opacity="0.17"/><rect x="442.2" y="627.7" width="0.8" height="25.4" fill="#d9352a" opacity="0.11"/><rect x="455.5" y="653.1" width="1.1" height="26.2" fill="#d9352a" opacity="0.23"/><rect x="472" y="640.4" width="1.2" height="12.7" fill="#d9352a" opacity="0.28"/><rect x="445" y="614.7" width="1.5" height="13" fill="#d9352a" opacity="0.11"/><rect x="543.7" y="679.3" width="1.2" height="12.7" fill="#d9352a" opacity="0.08"/><rect x="439.3" y="602" width="1.4" height="12.7" fill="#d9352a" opacity="0.19"/><rect x="395.5" y="614.7" width="1.1" height="13" fill="#d9352a" opacity="0.19"/><rect x="609.5" y="627.7" width="1.3" height="25.4" fill="#d9352a" opacity="0.18"/><rect x="550.1" y="666.4" width="1.2" height="13" fill="#d9352a" opacity="0.06"/><rect x="399.6" y="640.4" width="1" height="26" fill="#d9352a" opacity="0.26"/><rect x="479.2" y="640.4" width="1.1" height="26" fill="#d9352a" opacity="0.12"/><rect x="571.2" y="588.7" width="0.8" height="13.2" fill="#d9352a" opacity="0.17"/><rect x="445.3" y="588.7" width="1.2" height="13.2" fill="#d9352a" opacity="0.28"/><rect x="402.2" y="614.7" width="0.9" height="13" fill="#d9352a" opacity="0.24"/><rect x="401.7" y="614.7" width="1.2" height="13" fill="#d9352a" opacity="0.22"/><rect x="484.6" y="602" width="1.5" height="12.7" fill="#d9352a" opacity="0.16"/><rect x="435" y="614.7" width="1.5" height="13" fill="#d9352a" opacity="0.15"/><rect x="408.3" y="588.7" width="0.7" height="13.2" fill="#d9352a" opacity="0.27"/><rect x="417.8" y="679.3" width="1" height="12.7" fill="#d9352a" opacity="0.28"/><rect x="412.8" y="627.7" width="0.6" height="12.7" fill="#d9352a" opacity="0.28"/><rect x="395.3" y="666.4" width="1.1" height="13" fill="#d9352a" opacity="0.24"/><rect x="434.2" y="602" width="0.6" height="25.7" fill="#d9352a" opacity="0.23"/><rect x="580.9" y="640.4" width="0.9" height="12.7" fill="#d9352a" opacity="0.11"/><rect x="410" y="602" width="1" height="25.7" fill="#d9352a" opacity="0.21"/><rect x="536.7" y="640.4" width="1" height="12.7" fill="#d9352a" opacity="0.13"/><rect x="395.4" y="640.4" width="1" height="12.7" fill="#d9352a" opacity="0.13"/><rect x="528.1" y="666.4" width="1.4" height="13" fill="#d9352a" opacity="0.17"/><rect x="521.2" y="666.4" width="1.5" height="13" fill="#d9352a" opacity="0.16"/><rect x="533" y="653.1" width="1.4" height="13.2" fill="#d9352a" opacity="0.08"/><rect x="540.1" y="679.3" width="1.5" height="12.7" fill="#d9352a" opacity="0.05"/><rect x="405.5" y="602" width="1.5" height="25.7" fill="#d9352a" opacity="0.17"/><rect x="526.2" y="666.4" width="0.9" height="13" fill="#d9352a" opacity="0.11"/><rect x="395.6" y="614.7" width="1.1" height="13" fill="#d9352a" opacity="0.27"/><rect x="400.1" y="666.4" width="1.1" height="25.7" fill="#d9352a" opacity="0.26"/><rect x="511.6" y="614.7" width="1.4" height="13" fill="#d9352a" opacity="0.09"/><rect x="608.8" y="679.3" width="1" height="12.7" fill="#d9352a" opacity="0.07"/><rect x="405.7" y="627.7" width="0.7" height="12.7" fill="#d9352a" opacity="0.23"/><rect x="395.4" y="666.4" width="1.1" height="13" fill="#d9352a" opacity="0.27"/><rect x="406.2" y="602" width="1.5" height="12.7" fill="#d9352a" opacity="0.23"/><rect x="395.3" y="627.7" width="1.4" height="25.4" fill="#d9352a" opacity="0.16"/><rect x="395.5" y="679.3" width="0.6" height="12.7" fill="#d9352a" opacity="0.18"/><rect x="396.8" y="679.3" width="0.9" height="12.7" fill="#d9352a" opacity="0.22"/><rect x="496.5" y="602" width="1.4" height="12.7" fill="#d9352a" opacity="0.13"/><rect x="404.4" y="653.1" width="0.7" height="13.2" fill="#d9352a" opacity="0.07"/><rect x="603.7" y="614.7" width="1.4" height="13" fill="#d9352a" opacity="0.11"/><rect x="398.1" y="627.7" width="1.6" height="12.7" fill="#d9352a" opacity="0.12"/><rect x="491.1" y="602" width="0.9" height="12.7" fill="#d9352a" opacity="0.10"/><rect x="579.4" y="602" width="1.6" height="25.7" fill="#d9352a" opacity="0.14"/><rect x="412.5" y="653.1" width="0.5" height="13.2" fill="#d9352a" opacity="0.24"/><rect x="495.7" y="666.4" width="0.5" height="13" fill="#d9352a" opacity="0.04"/><rect x="614.6" y="602" width="0.7" height="12.7" fill="#d9352a" opacity="0.15"/><rect x="397.2" y="627.7" width="1.5" height="25.4" fill="#d9352a" opacity="0.21"/><rect x="400.1" y="653.1" width="0.9" height="26.2" fill="#d9352a" opacity="0.26"/><rect x="396.9" y="653.1" width="1" height="13.2" fill="#d9352a" opacity="0.28"/><rect x="407.9" y="666.4" width="0.7" height="13" fill="#d9352a" opacity="0.25"/><rect x="399.1" y="653.1" width="1.5" height="13.2" fill="#d9352a" opacity="0.12"/><rect x="445.1" y="666.4" width="1.2" height="13" fill="#d9352a" opacity="0.13"/><rect x="397.8" y="588.7" width="1.1" height="13.2" fill="#d9352a" opacity="0.24"/><rect x="397.9" y="666.4" width="1.4" height="25.7" fill="#d9352a" opacity="0.10"/><rect x="606.8" y="666.4" width="1.3" height="25.7" fill="#d9352a" opacity="0.07"/><rect x="445.5" y="588.7" width="1" height="13.2" fill="#d9352a" opacity="0.27"/><rect x="614.1" y="666.4" width="0.8" height="13" fill="#d9352a" opacity="0.17"/><rect x="406.4" y="588.7" width="0.8" height="13.2" fill="#d9352a" opacity="0.17"/><rect x="484.5" y="602" width="0.9" height="12.7" fill="#d9352a" opacity="0.14"/><rect x="413" y="614.7" width="0.9" height="25.7" fill="#d9352a" opacity="0.25"/><rect x="401.4" y="614.7" width="1.3" height="13" fill="#d9352a" opacity="0.17"/><rect x="465.4" y="666.4" width="0.6" height="13" fill="#d9352a" opacity="0.26"/><rect x="533.1" y="640.4" width="0.9" height="26" fill="#d9352a" opacity="0.08"/><rect x="399.9" y="640.4" width="1.1" height="12.7" fill="#d9352a" opacity="0.24"/><rect x="416.9" y="653.1" width="0.7" height="13.2" fill="#d9352a" opacity="0.23"/><rect x="419" y="679.3" width="1.4" height="12.7" fill="#d9352a" opacity="0.25"/><rect x="488.3" y="602" width="0.7" height="12.7" fill="#d9352a" opacity="0.13"/><rect x="586.1" y="602" width="0.7" height="25.7" fill="#d9352a" opacity="0.07"/><rect x="427.9" y="602" width="1" height="25.7" fill="#d9352a" opacity="0.07"/><rect x="435.3" y="666.4" width="0.7" height="13" fill="#d9352a" opacity="0.21"/><rect x="395.2" y="588.7" width="0.7" height="13.2" fill="#d9352a" opacity="0.11"/><rect x="521" y="602" width="0.7" height="12.7" fill="#d9352a" opacity="0.09"/><rect x="420.2" y="640.4" width="1" height="26" fill="#d9352a" opacity="0.27"/><rect x="395.3" y="627.7" width="0.7" height="12.7" fill="#d9352a" opacity="0.26"/><defs><linearGradient id="gRum" x1="0" y1="0" x2="0" y2="1"><stop offset="0" stop-color="#cf2f2a"/><stop offset="0.18" stop-color="#d9453d"/><stop offset="0.2" stop-color="#e4766c"/><stop offset="0.6" stop-color="#e27066"/><stop offset="1" stop-color="#eb9a90"/></linearGradient></defs><rect x="414.5" y="614.7" width="15.1" height="64.6" fill="url(#gRum)" stroke="#111" stroke-width="1.5"/><rect x="420.5" y="615.5" width="3" height="63" fill="#f4b9b0" opacity="0.35"/><rect x="394.4" y="588.7" width="231.3" height="103.4" fill="none" stroke="#111" stroke-width="1.1"/><path d="M451,646.5 H435" stroke="#111" stroke-width="1.4" fill="none"/><path d="M431.5,646.5 L437.5,643.3 L437.5,649.7Z" fill="#111"/><text x="452.7" y="651" font-size="14" fill="#0a0a0a" textLength="46.8" lengthAdjust="spacingAndGlyphs">Rumen</text><path d="M379,601.4 V688.2 M380.5,655 V684.8" fill="none" stroke="#9a9a9a" stroke-width="0.8"/><path d="M380,623 V662" fill="none" stroke="#b5b5b5" stroke-width="1.6"/><path d="M394,595.1 H381.6 V608.1 H394 M381.6,601.4 H379 M394,621 H383 V653.2 H385.5 M394,633.5 H388.7 V647 H394 M388.7,640.3 H385.5 V666.2 H390 M390,660 V672.4 M390,660 H394 M390,672.4 H394 M394,684.8 H380.5 M379,640 H383" fill="none" stroke="#444" stroke-width="0.75"/>
<rect x="395.2" y="703.2" width="230.00000000000006" height="23.4" fill="#b4b4b4" stroke="#111" stroke-width="1.1"/><text x="480.9" y="721.7" font-size="18.9" fill="#0a0a0a" textLength="62.8" lengthAdjust="spacingAndGlyphs">Rumen</text><clipPath id="clipR"><rect x="395.2" y="726.6" width="230.00000000000006" height="105.0"/></clipPath><g clip-path="url(#clipR)"><path d="M401.8,827.2 L412.6,829.4 L423.4,829.7 L434.3,829.7 L445.1,829.7 L455.9,829.7 L466.8,829.4 L477.6,829.4 L488.4,826.1 L499.2,827.7 L510.1,825.5 L520.9,759.6 L531.7,745.8 L542.5,749.1 L553.4,748.6 L564.2,735.9 L575,748.9 L585.8,739 L596.6,745.3 L607.5,738.1 L618.3,734.6 L618.3,739 L607.5,748 L596.6,757.4 L585.8,750 L575,761 L564.2,744.7 L553.4,753 L542.5,752.4 L531.7,755.7 L520.9,825.5 L510.1,831 L499.2,829.9 L488.4,829.4 L477.6,831 L466.8,831 L455.9,831.3 L445.1,831.3 L434.3,831.3 L423.4,831.3 L412.6,831 L401.8,829.4Z" fill="#52b152" opacity="0.36"/><path d="M401.8,822.8 L412.6,752.7 L423.4,768.4 L434.3,765.9 L445.1,813.7 L455.9,791.2 L466.8,785.7 L477.6,769.2 L488.4,767.3 L499.2,765.1 L510.1,750 L520.9,739.5 L531.7,725.8 L542.5,750 L553.4,769.2 L564.2,736.2 L575,737.6 L585.8,727.4 L596.6,739.2 L607.5,733.2 L618.3,725.2 L618.3,729.6 L607.5,747.5 L596.6,757.9 L585.8,750.5 L575,770.6 L564.2,770.3 L553.4,785.7 L542.5,755.5 L531.7,729.1 L520.9,749.4 L510.1,758.2 L499.2,773.3 L488.4,779.4 L477.6,785.7 L466.8,810.4 L455.9,818.7 L445.1,818.1 L434.3,768.6 L423.4,771.1 L412.6,755.5 L401.8,825.5Z" fill="#f58a1e" opacity="0.36"/><path d="M401.8,811.8 L412.6,746.9 L423.4,740.1 L434.3,748.3 L445.1,781 L455.9,768.1 L466.8,774.1 L477.6,756.3 L488.4,759 L499.2,754.1 L510.1,747.2 L520.9,736.5 L531.7,725.8 L542.5,745 L553.4,764 L564.2,743.4 L575,742.8 L585.8,728.8 L596.6,740.6 L607.5,732.9 L618.3,725.8 L618.3,729.1 L607.5,745 L596.6,753.8 L585.8,746.4 L575,762.6 L564.2,762.1 L553.4,771.7 L542.5,749.4 L531.7,729.1 L520.9,744.2 L510.1,752.7 L499.2,759.6 L488.4,765.6 L477.6,762.9 L466.8,780.7 L455.9,775.8 L445.1,787.6 L434.3,751.6 L423.4,743.4 L412.6,750.2 L401.8,814.5Z" fill="#a260c2" opacity="0.36"/><path d="M401.8,828.6 L412.6,798.9 L423.4,801.6 L434.3,800.2 L445.1,817.3 L455.9,820.9 L466.8,812.1 L477.6,824.2 L488.4,807.9 L499.2,817.6 L510.1,812.3 L520.9,791.7 L531.7,786.2 L542.5,803.5 L553.4,812.1 L564.2,797.2 L575,800 L585.8,794.2 L596.6,798.9 L607.5,794.5 L618.3,804.6 L618.3,807.9 L607.5,803.3 L596.6,806.6 L585.8,801.9 L575,809.9 L564.2,807.1 L553.4,819.8 L542.5,809 L531.7,789 L520.9,796.1 L510.1,816.7 L499.2,825.3 L488.4,815.6 L477.6,830.8 L466.8,818.7 L455.9,827.5 L445.1,822.8 L434.3,803 L423.4,804.4 L412.6,801.6 L401.8,830.8Z" fill="#3f8fd2" opacity="0.36"/><path d="M401.8,829.1 L412.6,803 L423.4,800.8 L434.3,805.7 L445.1,822.8 L455.9,818.9 L466.8,814 L477.6,819.5 L488.4,808.8 L499.2,812.6 L510.1,812.3 L520.9,792.3 L531.7,785.7 L542.5,798.1 L553.4,804.4 L564.2,792.3 L575,798.9 L585.8,795 L596.6,798.3 L607.5,791.7 L618.3,804.6 L618.3,807.9 L607.5,802.7 L596.6,806 L585.8,802.7 L575,809.9 L564.2,802.2 L553.4,811 L542.5,803.5 L531.7,788.4 L520.9,796.7 L510.1,816.7 L499.2,818.1 L488.4,816.5 L477.6,825 L466.8,820.6 L455.9,826.6 L445.1,828.3 L434.3,808.5 L423.4,803.5 L412.6,805.7 L401.8,831.3Z" fill="#e0323a" opacity="0.36"/><path d="M401.8,828.3 L412.6,830.2 L423.4,830.5 L434.3,830.5 L445.1,830.5 L455.9,830.5 L466.8,830.2 L477.6,830.2 L488.4,827.7 L499.2,828.8 L510.1,828.3 L520.9,792.6 L531.7,750.8 L542.5,750.8 L553.4,750.8 L564.2,740.3 L575,754.9 L585.8,744.5 L596.6,751.3 L607.5,743.1 L618.3,736.8" fill="none" stroke="#52b152" stroke-width="1.3" stroke-linejoin="round"/><path d="M401.8,824.2 L412.6,754.1 L423.4,769.7 L434.3,767.3 L445.1,815.9 L455.9,804.9 L466.8,798.1 L477.6,777.4 L488.4,773.3 L499.2,769.2 L510.1,754.1 L520.9,744.5 L531.7,727.4 L542.5,752.7 L553.4,777.4 L564.2,753.3 L575,754.1 L585.8,739 L596.6,748.6 L607.5,740.3 L618.3,727.4" fill="none" stroke="#f58a1e" stroke-width="1.3" stroke-linejoin="round"/><path d="M401.8,813.2 L412.6,748.6 L423.4,741.7 L434.3,750 L445.1,784.3 L455.9,771.9 L466.8,777.4 L477.6,759.6 L488.4,762.3 L499.2,756.8 L510.1,750 L520.9,740.3 L531.7,727.4 L542.5,747.2 L553.4,767.8 L564.2,752.7 L575,752.7 L585.8,737.6 L596.6,747.2 L607.5,739 L618.3,727.4" fill="none" stroke="#a260c2" stroke-width="1.3" stroke-linejoin="round"/><path d="M401.8,829.7 L412.6,800.2 L423.4,803 L434.3,801.6 L445.1,820 L455.9,824.2 L466.8,815.4 L477.6,827.5 L488.4,811.8 L499.2,821.4 L510.1,814.5 L520.9,793.9 L531.7,787.6 L542.5,806.3 L553.4,815.9 L564.2,802.2 L575,804.9 L585.8,798.1 L596.6,802.7 L607.5,798.9 L618.3,806.3" fill="none" stroke="#3f8fd2" stroke-width="1.3" stroke-linejoin="round"/><path d="M401.8,830.2 L412.6,804.4 L423.4,802.2 L434.3,807.1 L445.1,825.5 L455.9,822.8 L466.8,817.3 L477.6,822.2 L488.4,812.6 L499.2,815.4 L510.1,814.5 L520.9,794.5 L531.7,787.1 L542.5,800.8 L553.4,807.7 L564.2,797.2 L575,804.4 L585.8,798.9 L596.6,802.2 L607.5,797.2 L618.3,806.3" fill="none" stroke="#e0323a" stroke-width="1.3" stroke-linejoin="round"/></g><path d="M531.7,734.5 V831" stroke="#666" stroke-width="1.4" stroke-dasharray="7 4" fill="none"/><path d="M395.2,726.6 V831.6 H625.2 V726.6" fill="none" stroke="#111" stroke-width="1.2"/><path d="M401.8,831.6 v4.2" stroke="#111" stroke-width="0.9"/><path d="M412.6,831.6 v4.2" stroke="#111" stroke-width="0.9"/><path d="M423.4,831.6 v4.2" stroke="#111" stroke-width="0.9"/><path d="M434.3,831.6 v4.2" stroke="#111" stroke-width="0.9"/><path d="M445.1,831.6 v4.2" stroke="#111" stroke-width="0.9"/><path d="M455.9,831.6 v4.2" stroke="#111" stroke-width="0.9"/><path d="M466.8,831.6 v4.2" stroke="#111" stroke-width="0.9"/><path d="M477.6,831.6 v4.2" stroke="#111" stroke-width="0.9"/><path d="M488.4,831.6 v4.2" stroke="#111" stroke-width="0.9"/><path d="M499.2,831.6 v4.2" stroke="#111" stroke-width="0.9"/><path d="M510.1,831.6 v4.2" stroke="#111" stroke-width="0.9"/><path d="M520.9,831.6 v4.2" stroke="#111" stroke-width="0.9"/><path d="M531.7,831.6 v4.2" stroke="#111" stroke-width="0.9"/><path d="M542.5,831.6 v4.2" stroke="#111" stroke-width="0.9"/><path d="M553.4,831.6 v4.2" stroke="#111" stroke-width="0.9"/><path d="M564.2,831.6 v4.2" stroke="#111" stroke-width="0.9"/><path d="M575,831.6 v4.2" stroke="#111" stroke-width="0.9"/><path d="M585.8,831.6 v4.2" stroke="#111" stroke-width="0.9"/><path d="M596.6,831.6 v4.2" stroke="#111" stroke-width="0.9"/><path d="M607.5,831.6 v4.2" stroke="#111" stroke-width="0.9"/><path d="M618.3,831.6 v4.2" stroke="#111" stroke-width="0.9"/><path d="M395.2,743.1 h-3.2" stroke="#111" stroke-width="0.9"/><path d="M395.2,772.5 h-3.2" stroke="#111" stroke-width="0.9"/><path d="M395.2,801.6 h-3.2" stroke="#111" stroke-width="0.9"/><path d="M395.2,830.5 h-3.2" stroke="#111" stroke-width="0.9"/><text transform="translate(385.6 778.5) rotate(-90)" font-size="14.6" text-anchor="middle" fill="#111">Log<tspan font-size="9.5" dy="3">2 </tspan><tspan dy="-3">(TPM + 1)</tspan></text><text x="493.9" y="848.9" font-size="14" fill="#0a0a0a" textLength="37.5" lengthAdjust="spacingAndGlyphs">Stage</text>
<text x="444.2" y="873.3" font-size="19.2" fill="#0a0a0a" textLength="137.5" lengthAdjust="spacingAndGlyphs">Mendelian traits</text><path d="M392.5,889.7V877H531.6V883.1 M393.8,889.7V879.1H462.7V883.1 M433.6,887.1V881.8H476V885.8 M497.2,888.4V884.4H627.6V889.7 M401.8,889.7V885H494.5V889.7 M552.8,889.7V886H619.1V889.7" fill="none" stroke="#444" stroke-width="0.6"/><path d="M434.9,882.1H476" stroke="#999" stroke-width="1.4"/><path d="M497.2,884.7H579.3" stroke="#aaa" stroke-width="1"/><path d="M416.9,888.7V888H479.9V888.7M541.4,889V888.4H572.9V889M590.5,888.9V888.5H613.7V888.9M557.1,888.4V887.5H602.1V888.4M448.4,887.7V886.6H579.6V887.7" fill="none" stroke="#444" stroke-width="0.6"/><path d="M392.5,894L392.5,890.1L393.8,890.6L395.3,889L396.4,889.8L397.2,891.8L398.7,891.1L399.5,889.1L400.9,891.6L401.8,891.2L402.7,892L403.8,891L404.8,891.4L405.5,891.9L407,889.6L408.2,891.6L408.9,891.6L409.8,891.8L410.7,891.4L411.5,889.9L412.5,890.5L413.5,890.3L414.9,891L415.6,890.5L416.5,889.5L417.2,889.2L417.9,890.3L418.9,891L420.4,889.8L421.2,890.4L422.4,891.9L423.1,890.1L424.4,890.5L425.4,890.4L426.3,889.2L427.8,890.5L428.5,890.7L429.9,891L430.6,891.4L431.9,890L432.8,890L434.1,888.9L435.6,890.6L437,889L438.4,889.6L439.6,890.4L441.1,890L442.4,891.3L443.1,891.1L444.3,890.2L445.1,891.4L446.6,891.8L448.1,889.5L449.3,888.8L450.6,892L452.1,890.7L453.6,889.4L454.4,891.9L455,889.5L456.4,891.3L457.1,890.8L458.5,889.6L460,888.9L461.3,889.3L461.9,892L463.4,890L464.3,891.6L465.3,890.9L466.4,890.6L467.2,891.7L468,891.6L468.7,890.7L469.4,889.4L470.5,890.5L471.8,891.2L472.4,891.7L473.3,890.8L474.2,891L475.6,892L476.7,890.8L477.6,889.7L478.4,891.9L479.1,888.9L480.1,891.6L481.7,889.9L483.2,890.9L484.6,891.9L485.5,889.5L486.6,889.5L487.6,889.2L488.2,890L489,891.4L490.5,890.6L491.9,891.1L493.3,889.1L494.5,891.2L495.8,889L497.2,890.6L498.2,891.7L499.5,891.5L500.3,891.9L501.1,890.8L502.2,891.4L503.2,889.6L503.9,891.6L505,889.1L506.5,890.2L507.2,889.2L508.8,889.1L510,890.8L511.2,889.5L512.7,890.4L513.9,891L515,890.3L515.9,890.5L517.4,891.2L518.2,891L519.7,891L521.1,889L522.6,889.4L523.4,890.6L524.8,891.2L526,889.2L527.6,890.9L528.3,891.9L529.2,890.2L530.1,889.4L531.3,890L532.8,890.9L534,890.9L534.9,891.6L536.3,889.1L536.9,889.7L537.6,890.7L538.5,889.1L539.5,890.4L540.5,891.2L541.3,891.8L541.9,890.2L543.3,889.9L544.1,888.8L544.8,890.6L545.7,891.4L547.3,889.7L548,891.4L549.4,890.8L550.3,891.1L551.3,890.1L552.2,890.1L552.9,890.3L554,891L555.5,889L556.8,890.7L557.5,890L558.4,891.5L559.5,891.4L560.8,889.6L561.4,890L562.2,890.9L563.5,888.9L564.4,889.6L565.4,889L566.1,889.9L566.8,890.2L568.2,889.1L569.5,890.2L570.5,890L571.8,890L573.1,889.6L574.6,890L576.1,889.6L577.1,889.4L578.1,889.3L579.5,889.1L581,889.8L582.1,891.1L583.4,889.1L584.3,891.3L585.7,889.1L586.5,891.6L587.2,890.2L588.7,891.2L590,891.9L590.9,890.3L592.2,890.4L593.5,890.8L594.5,890.3L595.1,891.4L596,889.9L596.8,891.2L598.4,889.9L599.4,889.5L600.7,889.4L601.9,890L602.6,890.6L603.6,891.2L604.6,889.2L605.4,891.6L606.3,891.5L606.9,889.1L608.1,891.9L609.2,891.4L610.3,889L611.9,890.7L613.3,890.4L613.9,890.7L615.3,889.5L616.7,888.8L617.7,889.8L619.1,889L620.5,889.2L621.5,890.8L622.7,891.6L623.6,890.8L624.4,891.4L625.7,891L626.3,889.4L627.6,892L627.6,894Z" fill="#111"/><rect x="392.5" y="893.7" width="4.2" height="13.8" fill="#f5a040"/><rect x="396.5" y="893.7" width="12.9" height="13.8" fill="#fbd0a8"/><rect x="409.2" y="893.7" width="6" height="13.8" fill="#ffb428"/><rect x="415" y="893.7" width="4.2" height="13.8" fill="#f9a030"/><rect x="419" y="893.7" width="2.8" height="13.8" fill="#fbd0a8"/><rect x="421.7" y="893.7" width="2.8" height="13.8" fill="#c8dcf0"/><rect x="424.3" y="893.7" width="4.2" height="13.8" fill="#9ac8f5"/><rect x="428.3" y="893.7" width="5.5" height="13.8" fill="#3a78c8"/><rect x="433.6" y="893.7" width="6.8" height="13.8" fill="#1a8a8a"/><rect x="440.2" y="893.7" width="9.5" height="13.8" fill="#8ac8f8"/><rect x="449.5" y="893.7" width="12.1" height="13.8" fill="#9ad0f8"/><rect x="461.4" y="893.7" width="8.1" height="13.8" fill="#a8d0f0"/><rect x="469.4" y="893.7" width="9.5" height="13.8" fill="#7ab8f0"/><rect x="478.6" y="893.7" width="4.2" height="13.8" fill="#f5e030"/><rect x="482.6" y="893.7" width="4.2" height="13.8" fill="#fff000"/><rect x="486.6" y="893.7" width="5.5" height="13.8" fill="#8fd0b0"/><rect x="491.9" y="893.7" width="4.2" height="13.8" fill="#6fc4a4"/><rect x="495.9" y="893.7" width="6.8" height="13.8" fill="#8a6fe0"/><rect x="502.5" y="893.7" width="6.8" height="13.8" fill="#e8382a"/><rect x="509.1" y="893.7" width="5.5" height="13.8" fill="#3aa080"/><rect x="514.4" y="893.7" width="2.8" height="13.8" fill="#f0a090"/><rect x="517.1" y="893.7" width="6.8" height="13.8" fill="#b8d8f0"/><rect x="523.7" y="893.7" width="13.4" height="13.8" fill="#3a78c8"/><rect x="536.9" y="893.7" width="5.5" height="13.8" fill="#6aa8e8"/><rect x="542.2" y="893.7" width="4.2" height="13.8" fill="#3a80d0"/><rect x="546.2" y="893.7" width="4.2" height="13.8" fill="#8ac0f0"/><rect x="550.2" y="893.7" width="8.1" height="13.8" fill="#f080c0"/><rect x="558.1" y="893.7" width="6.8" height="13.8" fill="#fff000"/><rect x="564.8" y="893.7" width="13.4" height="13.8" fill="#2a8a4a"/><rect x="578" y="893.7" width="4.2" height="13.8" fill="#9ac8f0"/><rect x="582" y="893.7" width="4.2" height="13.8" fill="#c0c0c8"/><rect x="586" y="893.7" width="6.8" height="13.8" fill="#f5a030"/><rect x="592.6" y="893.7" width="2.3" height="13.8" fill="#d0e040"/><rect x="594.7" y="893.7" width="2.8" height="13.8" fill="#66c2a5"/><rect x="597.3" y="893.7" width="6" height="13.8" fill="#8ac0f0"/><rect x="603.2" y="893.7" width="2.8" height="13.8" fill="#9a7fe0"/><rect x="605.8" y="893.7" width="2.8" height="13.8" fill="#f590c8"/><rect x="608.5" y="893.7" width="19.3" height="13.8" fill="#ee82ee"/><rect x="445.4" y="893.7" width="1.3" height="13.8" fill="#3a78cc" opacity="0.8"/><rect x="569" y="893.7" width="1.1" height="13.8" fill="#66c2a5" opacity="0.8"/><rect x="523.2" y="893.7" width="1.4" height="13.8" fill="#8ac8f8" opacity="0.8"/><rect x="596.5" y="893.7" width="1.2" height="13.8" fill="#9ad0f5" opacity="0.8"/><rect x="577.4" y="893.7" width="1.6" height="13.8" fill="#3a78cc" opacity="0.8"/><rect x="583.9" y="893.7" width="1.2" height="13.8" fill="#66c2a5" opacity="0.8"/><rect x="581.3" y="893.7" width="1" height="13.8" fill="#9ad0f5" opacity="0.8"/><rect x="537.4" y="893.7" width="1.5" height="13.8" fill="#8ac8f8" opacity="0.8"/><rect x="394.9" y="893.7" width="0.6" height="13.8" fill="#f5e020" opacity="0.8"/><rect x="608.9" y="893.7" width="1.2" height="13.8" fill="#9ad0f5" opacity="0.8"/><rect x="587.6" y="893.7" width="0.7" height="13.8" fill="#9ad0f5" opacity="0.8"/><rect x="546.8" y="893.7" width="0.8" height="13.8" fill="#66c2a5" opacity="0.8"/><rect x="467.6" y="893.7" width="1.6" height="13.8" fill="#3a78cc" opacity="0.8"/><rect x="568.9" y="893.7" width="1.5" height="13.8" fill="#8ac8f8" opacity="0.8"/><rect x="556.1" y="893.7" width="1.5" height="13.8" fill="#8ac8f8" opacity="0.8"/><rect x="625.2" y="893.7" width="1" height="13.8" fill="#9ad0f5" opacity="0.8"/><rect x="497.5" y="893.7" width="1.5" height="13.8" fill="#9ad0f5" opacity="0.8"/><rect x="406.2" y="893.7" width="1.1" height="13.8" fill="#3a78cc" opacity="0.8"/><rect x="453.3" y="893.7" width="1.6" height="13.8" fill="#9ad0f5" opacity="0.8"/><rect x="577.7" y="893.7" width="1" height="13.8" fill="#3a78cc" opacity="0.8"/><rect x="504.8" y="893.7" width="0.6" height="13.8" fill="#66c2a5" opacity="0.8"/><rect x="420.9" y="893.7" width="0.8" height="13.8" fill="#3a78cc" opacity="0.8"/><rect x="504.8" y="893.7" width="1.4" height="13.8" fill="#8ac8f8" opacity="0.8"/><rect x="433.7" y="893.7" width="0.9" height="13.8" fill="#f5e020" opacity="0.8"/><rect x="429.5" y="893.7" width="1.2" height="13.8" fill="#3a78cc" opacity="0.8"/><rect x="393.9" y="893.7" width="1.2" height="13.8" fill="#9ad0f5" opacity="0.8"/><rect x="392.5" y="893.7" width="235.1" height="13.8" fill="none" stroke="#111" stroke-width="1.2"/><rect x="392.5" y="912.3" width="235.1" height="94" fill="#ffffff"/><rect x="395.2" y="943.5" width="10.6" height="10.6" fill="#d9352a" opacity="0.45"/><rect x="396.5" y="933.2" width="7.9" height="10.3" fill="#d9352a" opacity="0.30"/><rect x="395.2" y="912.3" width="6.6" height="20.9" fill="#d9352a" opacity="0.20"/><rect x="397.8" y="954.1" width="5.3" height="10.3" fill="#d9352a" opacity="0.30"/><rect x="407.1" y="954.1" width="10.6" height="10.3" fill="#d9352a" opacity="0.45"/><rect x="409.7" y="985.4" width="9.3" height="10.6" fill="#d9352a" opacity="0.30"/><rect x="605.8" y="912.3" width="5.3" height="10.3" fill="#d9352a" opacity="0.30"/><rect x="616.4" y="912.3" width="4" height="10.3" fill="#d9352a" opacity="0.25"/><rect x="578" y="964.5" width="1.9" height="10.6" fill="#d9352a" opacity="0.60"/><rect x="486.6" y="975.1" width="9.3" height="10.3" fill="#d9352a" opacity="0.35"/><rect x="503.8" y="975.1" width="11.9" height="10.3" fill="#d9352a" opacity="0.35"/><rect x="505.1" y="985.4" width="10.6" height="10.6" fill="#d9352a" opacity="0.20"/><rect x="523.7" y="933.2" width="7.9" height="20.9" fill="#d9352a" opacity="0.30"/><rect x="536.9" y="933.2" width="7.9" height="20.9" fill="#d9352a" opacity="0.25"/><rect x="566.1" y="975.1" width="7.9" height="10.3" fill="#d9352a" opacity="0.25"/><rect x="595.2" y="975.1" width="4" height="10.3" fill="#d9352a" opacity="0.30"/><rect x="579.3" y="996" width="7.9" height="10.3" fill="#d9352a" opacity="0.35"/><rect x="531.6" y="954.1" width="6.6" height="10.3" fill="#d9352a" opacity="0.30"/><rect x="574" y="943.5" width="5.3" height="10.6" fill="#d9352a" opacity="0.25"/><rect x="603.2" y="943.5" width="4" height="10.6" fill="#d9352a" opacity="0.20"/><rect x="460.1" y="933.2" width="5.3" height="10.3" fill="#d9352a" opacity="0.25"/><rect x="494.5" y="922.6" width="13.2" height="10.6" fill="#d9352a" opacity="0.25"/><rect x="481.3" y="912.3" width="5.3" height="10.3" fill="#d9352a" opacity="0.20"/><rect x="555.5" y="985.4" width="5.3" height="10.6" fill="#d9352a" opacity="0.25"/><rect x="533" y="975.1" width="4" height="10.3" fill="#d9352a" opacity="0.30"/><rect x="572.5" y="996" width="2.2" height="10.3" fill="#d9352a" opacity="0.10"/><rect x="606.8" y="933.2" width="0.6" height="31.3" fill="#d9352a" opacity="0.09"/><rect x="483" y="985.4" width="1.6" height="20.9" fill="#d9352a" opacity="0.17"/><rect x="565.3" y="996" width="2.1" height="10.3" fill="#d9352a" opacity="0.10"/><rect x="552.2" y="985.4" width="1.6" height="10.6" fill="#d9352a" opacity="0.08"/><rect x="597.7" y="964.5" width="2.3" height="20.9" fill="#d9352a" opacity="0.08"/><rect x="463.8" y="996" width="1.2" height="10.3" fill="#d9352a" opacity="0.13"/><rect x="396.1" y="975.1" width="1.6" height="20.9" fill="#d9352a" opacity="0.05"/><rect x="535.6" y="922.6" width="0.8" height="20.9" fill="#d9352a" opacity="0.10"/><rect x="516.6" y="985.4" width="2" height="20.9" fill="#d9352a" opacity="0.07"/><rect x="399.1" y="964.5" width="1.2" height="10.6" fill="#d9352a" opacity="0.07"/><rect x="467.6" y="975.1" width="1.3" height="10.3" fill="#d9352a" opacity="0.09"/><rect x="408.6" y="975.1" width="0.6" height="10.3" fill="#d9352a" opacity="0.09"/><rect x="532.8" y="912.3" width="2.2" height="20.9" fill="#d9352a" opacity="0.07"/><rect x="552.6" y="975.1" width="0.6" height="31.3" fill="#d9352a" opacity="0.08"/><rect x="523.4" y="985.4" width="0.8" height="20.9" fill="#d9352a" opacity="0.10"/><rect x="414.5" y="964.5" width="2.3" height="20.9" fill="#d9352a" opacity="0.10"/><rect x="453.1" y="933.2" width="1.3" height="10.3" fill="#d9352a" opacity="0.13"/><rect x="612.5" y="964.5" width="0.8" height="10.6" fill="#d9352a" opacity="0.07"/><rect x="578.4" y="975.1" width="1.1" height="31.3" fill="#d9352a" opacity="0.05"/><rect x="459.4" y="975.1" width="1.3" height="10.3" fill="#d9352a" opacity="0.08"/><rect x="515" y="943.5" width="0.7" height="20.9" fill="#d9352a" opacity="0.06"/><rect x="612.2" y="922.6" width="2.2" height="10.6" fill="#d9352a" opacity="0.10"/><rect x="486.9" y="996" width="2.2" height="10.3" fill="#d9352a" opacity="0.14"/><rect x="540.1" y="964.5" width="1.7" height="10.6" fill="#d9352a" opacity="0.15"/><rect x="543.3" y="954.1" width="1.1" height="20.9" fill="#d9352a" opacity="0.07"/><rect x="497.6" y="922.6" width="0.8" height="10.6" fill="#d9352a" opacity="0.16"/><rect x="505.9" y="912.3" width="1" height="20.9" fill="#d9352a" opacity="0.17"/><rect x="410.4" y="922.6" width="1.2" height="20.9" fill="#d9352a" opacity="0.06"/><rect x="585.4" y="943.5" width="1.7" height="20.9" fill="#d9352a" opacity="0.03"/><rect x="476.8" y="985.4" width="1.4" height="20.9" fill="#d9352a" opacity="0.15"/><rect x="442.7" y="912.3" width="0.6" height="10.3" fill="#d9352a" opacity="0.12"/><rect x="422.5" y="943.5" width="1" height="41.9" fill="#d9352a" opacity="0.15"/><rect x="584.1" y="912.3" width="1.8" height="20.9" fill="#d9352a" opacity="0.09"/><rect x="560.2" y="933.2" width="0.9" height="20.9" fill="#d9352a" opacity="0.10"/><rect x="571" y="943.5" width="1.4" height="10.6" fill="#d9352a" opacity="0.06"/><rect x="415.3" y="954.1" width="0.6" height="10.3" fill="#d9352a" opacity="0.14"/><rect x="605" y="975.1" width="0.9" height="31.3" fill="#d9352a" opacity="0.04"/><rect x="557.9" y="964.5" width="1" height="10.6" fill="#d9352a" opacity="0.05"/><rect x="447.2" y="912.3" width="0.8" height="41.9" fill="#d9352a" opacity="0.08"/><rect x="428.2" y="912.3" width="1.9" height="10.3" fill="#d9352a" opacity="0.15"/><rect x="452.4" y="975.1" width="0.6" height="20.9" fill="#d9352a" opacity="0.12"/><rect x="513.6" y="933.2" width="2.2" height="10.3" fill="#d9352a" opacity="0.15"/><rect x="500.2" y="996" width="0.6" height="10.3" fill="#d9352a" opacity="0.16"/><rect x="497.3" y="954.1" width="1" height="41.9" fill="#d9352a" opacity="0.11"/><rect x="407" y="975.1" width="2.2" height="31.3" fill="#d9352a" opacity="0.16"/><rect x="567.5" y="922.6" width="1" height="20.9" fill="#d9352a" opacity="0.08"/><rect x="608.9" y="964.5" width="2" height="41.9" fill="#d9352a" opacity="0.06"/><rect x="513.7" y="985.4" width="2.3" height="20.9" fill="#d9352a" opacity="0.12"/><rect x="408.2" y="996" width="1" height="10.3" fill="#d9352a" opacity="0.10"/><rect x="534.8" y="985.4" width="0.9" height="10.6" fill="#d9352a" opacity="0.12"/><rect x="394.2" y="954.1" width="1.7" height="31.3" fill="#d9352a" opacity="0.11"/><rect x="532.4" y="922.6" width="1.5" height="20.9" fill="#d9352a" opacity="0.16"/><rect x="479.2" y="964.5" width="0.8" height="10.6" fill="#d9352a" opacity="0.10"/><rect x="528.9" y="933.2" width="0.8" height="10.3" fill="#d9352a" opacity="0.16"/><rect x="446" y="975.1" width="1.1" height="20.9" fill="#d9352a" opacity="0.09"/><rect x="553.7" y="922.6" width="1.4" height="20.9" fill="#d9352a" opacity="0.04"/><rect x="395.2" y="964.5" width="1" height="31.5" fill="#d9352a" opacity="0.13"/><rect x="576.9" y="996" width="0.8" height="10.3" fill="#d9352a" opacity="0.08"/><rect x="436.1" y="912.3" width="0.5" height="10.3" fill="#d9352a" opacity="0.09"/><rect x="461.6" y="996" width="1.4" height="10.3" fill="#d9352a" opacity="0.11"/><rect x="524.8" y="933.2" width="2" height="41.9" fill="#d9352a" opacity="0.13"/><rect x="572.6" y="964.5" width="1.3" height="31.5" fill="#d9352a" opacity="0.05"/><rect x="438.6" y="943.5" width="1" height="31.5" fill="#d9352a" opacity="0.15"/><rect x="480.3" y="933.2" width="1.1" height="31.3" fill="#d9352a" opacity="0.07"/><rect x="466.5" y="922.6" width="0.7" height="20.9" fill="#d9352a" opacity="0.07"/><rect x="552.4" y="933.2" width="1.6" height="41.9" fill="#d9352a" opacity="0.06"/><rect x="593" y="985.4" width="2.3" height="20.9" fill="#d9352a" opacity="0.07"/><rect x="537.5" y="964.5" width="0.9" height="31.5" fill="#d9352a" opacity="0.15"/><rect x="600.1" y="912.3" width="1.4" height="10.3" fill="#d9352a" opacity="0.08"/><rect x="399.9" y="985.4" width="1.2" height="20.9" fill="#d9352a" opacity="0.06"/><rect x="446.4" y="912.3" width="1.6" height="31.3" fill="#d9352a" opacity="0.17"/><rect x="619.7" y="996" width="0.8" height="10.3" fill="#d9352a" opacity="0.04"/><rect x="394.3" y="985.4" width="1" height="20.9" fill="#d9352a" opacity="0.11"/><rect x="505.6" y="964.5" width="1" height="20.9" fill="#d9352a" opacity="0.09"/><rect x="571.3" y="996" width="1.1" height="10.3" fill="#d9352a" opacity="0.09"/><rect x="528.7" y="943.5" width="1.3" height="10.6" fill="#d9352a" opacity="0.11"/><rect x="523.5" y="964.5" width="1.3" height="31.5" fill="#d9352a" opacity="0.17"/><rect x="557.8" y="943.5" width="1.5" height="41.9" fill="#d9352a" opacity="0.04"/><rect x="620" y="954.1" width="0.9" height="41.9" fill="#d9352a" opacity="0.05"/><rect x="454.6" y="964.5" width="1.5" height="20.9" fill="#d9352a" opacity="0.10"/><rect x="577.7" y="943.5" width="0.8" height="20.9" fill="#d9352a" opacity="0.03"/><rect x="421.5" y="996" width="1.7" height="10.3" fill="#d9352a" opacity="0.06"/><rect x="509.7" y="954.1" width="0.9" height="10.3" fill="#d9352a" opacity="0.06"/><rect x="396.5" y="996" width="2.3" height="10.3" fill="#d9352a" opacity="0.17"/><rect x="396.1" y="943.5" width="1.2" height="10.6" fill="#d9352a" opacity="0.15"/><rect x="407.2" y="985.4" width="2" height="10.6" fill="#d9352a" opacity="0.07"/><rect x="495.7" y="985.4" width="1.5" height="10.6" fill="#d9352a" opacity="0.06"/><rect x="407" y="964.5" width="0.7" height="10.6" fill="#d9352a" opacity="0.10"/><rect x="400.4" y="954.1" width="1.8" height="31.3" fill="#d9352a" opacity="0.09"/><rect x="402.9" y="933.2" width="2.3" height="10.3" fill="#d9352a" opacity="0.13"/><rect x="614.4" y="996" width="0.8" height="10.3" fill="#d9352a" opacity="0.04"/><rect x="428.1" y="943.5" width="1.8" height="31.5" fill="#d9352a" opacity="0.15"/><rect x="430.8" y="964.5" width="1.2" height="10.6" fill="#d9352a" opacity="0.11"/><rect x="531" y="954.1" width="0.6" height="31.3" fill="#d9352a" opacity="0.08"/><rect x="580.4" y="985.4" width="1" height="10.6" fill="#d9352a" opacity="0.08"/><rect x="395.9" y="943.5" width="1.8" height="10.6" fill="#d9352a" opacity="0.12"/><rect x="528" y="943.5" width="0.6" height="20.9" fill="#d9352a" opacity="0.05"/><rect x="455.8" y="985.4" width="2.3" height="10.6" fill="#d9352a" opacity="0.14"/><rect x="395.2" y="996" width="0.8" height="10.3" fill="#d9352a" opacity="0.15"/><rect x="491" y="912.3" width="0.7" height="20.9" fill="#d9352a" opacity="0.06"/><rect x="479.2" y="996" width="2.4" height="10.3" fill="#d9352a" opacity="0.13"/><rect x="484.8" y="933.2" width="1.1" height="20.9" fill="#d9352a" opacity="0.09"/><rect x="518" y="933.2" width="1" height="10.3" fill="#d9352a" opacity="0.11"/><rect x="422.7" y="922.6" width="2.4" height="20.9" fill="#d9352a" opacity="0.05"/><rect x="401.7" y="985.4" width="1.1" height="20.9" fill="#d9352a" opacity="0.11"/><rect x="411.2" y="996" width="0.7" height="10.3" fill="#d9352a" opacity="0.17"/><rect x="424.7" y="954.1" width="0.7" height="41.9" fill="#d9352a" opacity="0.16"/><rect x="552.5" y="943.5" width="0.8" height="10.6" fill="#d9352a" opacity="0.05"/><rect x="538.5" y="922.6" width="0.7" height="20.9" fill="#d9352a" opacity="0.08"/><rect x="433.8" y="933.2" width="0.9" height="31.3" fill="#d9352a" opacity="0.08"/><rect x="538.2" y="975.1" width="2" height="20.9" fill="#d9352a" opacity="0.09"/><rect x="580.5" y="975.1" width="1.1" height="10.3" fill="#d9352a" opacity="0.06"/><rect x="463.9" y="975.1" width="2.3" height="20.9" fill="#d9352a" opacity="0.09"/><rect x="615.7" y="912.3" width="0.9" height="20.9" fill="#d9352a" opacity="0.09"/><rect x="438.4" y="912.3" width="1.2" height="41.9" fill="#d9352a" opacity="0.06"/><rect x="524.4" y="933.2" width="1.3" height="31.3" fill="#d9352a" opacity="0.15"/><rect x="567.8" y="912.3" width="1.7" height="41.9" fill="#d9352a" opacity="0.09"/><rect x="524.3" y="954.1" width="0.6" height="10.3" fill="#d9352a" opacity="0.12"/><rect x="396.7" y="985.4" width="1.8" height="20.9" fill="#d9352a" opacity="0.11"/><rect x="497.9" y="975.1" width="2.1" height="10.3" fill="#d9352a" opacity="0.17"/><rect x="507.7" y="985.4" width="1.6" height="20.9" fill="#d9352a" opacity="0.17"/><rect x="452.1" y="912.3" width="2.3" height="31.3" fill="#d9352a" opacity="0.09"/><rect x="449.4" y="975.1" width="0.6" height="31.3" fill="#d9352a" opacity="0.17"/><rect x="415.1" y="943.5" width="1.6" height="41.9" fill="#d9352a" opacity="0.06"/><rect x="528.1" y="975.1" width="1.1" height="31.3" fill="#d9352a" opacity="0.10"/><rect x="605.9" y="975.1" width="0.6" height="10.3" fill="#d9352a" opacity="0.10"/><rect x="483.8" y="985.4" width="1.2" height="20.9" fill="#d9352a" opacity="0.11"/><rect x="424.4" y="964.5" width="1.1" height="20.9" fill="#d9352a" opacity="0.08"/><rect x="618.3" y="943.5" width="2.3" height="20.9" fill="#d9352a" opacity="0.04"/><rect x="602" y="985.4" width="1.3" height="20.9" fill="#d9352a" opacity="0.09"/><rect x="470.2" y="954.1" width="2.1" height="20.9" fill="#d9352a" opacity="0.16"/><rect x="465.1" y="922.6" width="1.1" height="41.9" fill="#d9352a" opacity="0.09"/><rect x="412" y="912.3" width="1.2" height="20.9" fill="#d9352a" opacity="0.13"/><rect x="528.2" y="912.3" width="1.9" height="20.9" fill="#d9352a" opacity="0.07"/><rect x="395.4" y="964.5" width="1.6" height="20.9" fill="#d9352a" opacity="0.06"/><rect x="438.2" y="985.4" width="2" height="20.9" fill="#d9352a" opacity="0.13"/><rect x="419.1" y="964.5" width="1.3" height="20.9" fill="#d9352a" opacity="0.07"/><rect x="514.2" y="922.6" width="0.7" height="41.9" fill="#d9352a" opacity="0.16"/><rect x="506.9" y="964.5" width="0.9" height="20.9" fill="#d9352a" opacity="0.07"/><rect x="471" y="975.1" width="2.3" height="20.9" fill="#d9352a" opacity="0.11"/><rect x="464.9" y="985.4" width="1.1" height="10.6" fill="#d9352a" opacity="0.11"/><rect x="465.5" y="943.5" width="2" height="20.9" fill="#d9352a" opacity="0.09"/><rect x="428.4" y="922.6" width="0.9" height="31.5" fill="#d9352a" opacity="0.09"/><rect x="416.3" y="912.3" width="0.8" height="20.9" fill="#d9352a" opacity="0.15"/><rect x="589.6" y="943.5" width="2.1" height="20.9" fill="#d9352a" opacity="0.09"/><rect x="578.4" y="912.3" width="1.1" height="10.3" fill="#d9352a" opacity="0.06"/><rect x="419" y="922.6" width="2.2" height="20.9" fill="#d9352a" opacity="0.17"/><rect x="476.7" y="996" width="0.9" height="10.3" fill="#d9352a" opacity="0.10"/><rect x="430.1" y="996" width="1.1" height="10.3" fill="#d9352a" opacity="0.13"/><rect x="494" y="964.5" width="2.4" height="31.5" fill="#d9352a" opacity="0.09"/><rect x="409.3" y="975.1" width="1.7" height="10.3" fill="#d9352a" opacity="0.05"/><rect x="598.2" y="996" width="0.7" height="10.3" fill="#d9352a" opacity="0.05"/><rect x="482.9" y="975.1" width="2.1" height="20.9" fill="#d9352a" opacity="0.15"/><rect x="529.2" y="975.1" width="1.7" height="20.9" fill="#d9352a" opacity="0.06"/><rect x="404.3" y="964.5" width="0.7" height="10.6" fill="#d9352a" opacity="0.10"/><rect x="486.6" y="954.1" width="1.6" height="20.9" fill="#d9352a" opacity="0.15"/><rect x="497.4" y="985.4" width="1.7" height="20.9" fill="#d9352a" opacity="0.08"/><rect x="437.3" y="985.4" width="1.3" height="20.9" fill="#d9352a" opacity="0.06"/><rect x="616.2" y="975.1" width="0.6" height="20.9" fill="#d9352a" opacity="0.09"/><rect x="526.7" y="996" width="1" height="10.3" fill="#d9352a" opacity="0.14"/><rect x="423" y="922.6" width="2.2" height="10.6" fill="#d9352a" opacity="0.08"/><rect x="616.6" y="943.5" width="2.1" height="20.9" fill="#d9352a" opacity="0.08"/><rect x="435.5" y="964.5" width="1" height="31.5" fill="#d9352a" opacity="0.11"/><rect x="394.5" y="922.6" width="0.7" height="10.6" fill="#d9352a" opacity="0.15"/><rect x="479.6" y="922.6" width="1.1" height="41.9" fill="#d9352a" opacity="0.07"/><rect x="437.7" y="964.5" width="0.6" height="31.5" fill="#d9352a" opacity="0.06"/><rect x="463.1" y="943.5" width="2" height="10.6" fill="#d9352a" opacity="0.09"/><rect x="619.2" y="922.6" width="1.5" height="10.6" fill="#d9352a" opacity="0.07"/><rect x="428.2" y="954.1" width="2.1" height="20.9" fill="#d9352a" opacity="0.06"/><rect x="531.6" y="912.3" width="0.9" height="41.9" fill="#d9352a" opacity="0.07"/><rect x="621" y="922.6" width="0.6" height="20.9" fill="#d9352a" opacity="0.08"/><rect x="450.5" y="922.6" width="2" height="20.9" fill="#d9352a" opacity="0.14"/><rect x="624.1" y="954.1" width="1.6" height="41.9" fill="#d9352a" opacity="0.09"/><rect x="480.4" y="922.6" width="1.8" height="41.9" fill="#d9352a" opacity="0.07"/><rect x="418.4" y="912.3" width="2" height="20.9" fill="#d9352a" opacity="0.13"/><rect x="406" y="943.5" width="0.9" height="10.6" fill="#d9352a" opacity="0.06"/><rect x="405.8" y="975.1" width="2" height="10.3" fill="#d9352a" opacity="0.14"/><rect x="529.6" y="922.6" width="2.4" height="20.9" fill="#d9352a" opacity="0.09"/><rect x="429.8" y="964.5" width="1.6" height="41.9" fill="#d9352a" opacity="0.11"/><rect x="533.2" y="954.1" width="1.1" height="10.3" fill="#d9352a" opacity="0.11"/><rect x="483.8" y="985.4" width="1.3" height="10.6" fill="#d9352a" opacity="0.14"/><rect x="564.7" y="933.2" width="2.4" height="41.9" fill="#d9352a" opacity="0.10"/><rect x="437.7" y="943.5" width="0.9" height="31.5" fill="#d9352a" opacity="0.11"/><rect x="505.1" y="943.5" width="1.5" height="10.6" fill="#d9352a" opacity="0.11"/><rect x="416.3" y="912.3" width="1.2" height="10.3" fill="#d9352a" opacity="0.12"/><rect x="599.8" y="933.2" width="2.4" height="31.3" fill="#d9352a" opacity="0.10"/><rect x="539.7" y="933.2" width="2.1" height="31.3" fill="#d9352a" opacity="0.12"/><rect x="440.4" y="975.1" width="0.8" height="20.9" fill="#d9352a" opacity="0.12"/><rect x="394.3" y="996" width="2.1" height="10.3" fill="#d9352a" opacity="0.07"/><rect x="454.8" y="964.5" width="1.7" height="20.9" fill="#d9352a" opacity="0.13"/><rect x="577.3" y="985.4" width="2" height="10.6" fill="#d9352a" opacity="0.05"/><rect x="565.8" y="912.3" width="1.7" height="20.9" fill="#d9352a" opacity="0.05"/><rect x="441.6" y="922.6" width="1.7" height="10.6" fill="#d9352a" opacity="0.09"/><rect x="439.9" y="943.5" width="0.7" height="10.6" fill="#d9352a" opacity="0.10"/><rect x="528.8" y="933.2" width="2.2" height="41.9" fill="#d9352a" opacity="0.10"/><rect x="452.6" y="996" width="2" height="10.3" fill="#d9352a" opacity="0.17"/><rect x="465.8" y="985.4" width="0.9" height="10.6" fill="#d9352a" opacity="0.09"/><rect x="558.1" y="922.6" width="2.2" height="20.9" fill="#d9352a" opacity="0.10"/><rect x="434.4" y="943.5" width="1.1" height="10.6" fill="#d9352a" opacity="0.11"/><rect x="394.4" y="996" width="1.2" height="10.3" fill="#d9352a" opacity="0.06"/><rect x="483.9" y="943.5" width="1.6" height="41.9" fill="#d9352a" opacity="0.08"/><rect x="395.1" y="975.1" width="1" height="20.9" fill="#d9352a" opacity="0.10"/><rect x="530.9" y="996" width="2" height="10.3" fill="#d9352a" opacity="0.10"/><rect x="541.7" y="964.5" width="1.2" height="31.5" fill="#d9352a" opacity="0.13"/><rect x="478.7" y="964.5" width="1.3" height="10.6" fill="#d9352a" opacity="0.10"/><rect x="451.6" y="975.1" width="1.6" height="31.3" fill="#d9352a" opacity="0.07"/><rect x="461.4" y="933.2" width="0.9" height="20.9" fill="#d9352a" opacity="0.11"/><rect x="464" y="985.4" width="1.1" height="10.6" fill="#d9352a" opacity="0.11"/><rect x="597.3" y="943.5" width="2.3" height="10.6" fill="#d9352a" opacity="0.08"/><rect x="453.8" y="996" width="2.3" height="10.3" fill="#d9352a" opacity="0.17"/><rect x="404.4" y="985.4" width="2.3" height="20.9" fill="#d9352a" opacity="0.06"/><rect x="417.5" y="943.5" width="0.9" height="31.5" fill="#d9352a" opacity="0.12"/><rect x="529.8" y="975.1" width="0.7" height="31.3" fill="#d9352a" opacity="0.11"/><rect x="465.4" y="922.6" width="2" height="41.9" fill="#d9352a" opacity="0.10"/><rect x="588.9" y="922.6" width="1.1" height="20.9" fill="#d9352a" opacity="0.06"/><rect x="429.3" y="943.5" width="1.4" height="10.6" fill="#d9352a" opacity="0.10"/><rect x="432" y="933.2" width="2.3" height="10.3" fill="#d9352a" opacity="0.13"/><rect x="440" y="943.5" width="1.6" height="41.9" fill="#d9352a" opacity="0.11"/><rect x="427.9" y="985.4" width="0.6" height="10.6" fill="#d9352a" opacity="0.09"/><rect x="625.3" y="922.6" width="0.6" height="10.6" fill="#d9352a" opacity="0.05"/><rect x="582.2" y="985.4" width="2.2" height="20.9" fill="#d9352a" opacity="0.07"/><rect x="486.8" y="954.1" width="2.1" height="10.3" fill="#d9352a" opacity="0.16"/><rect x="436.5" y="922.6" width="1.1" height="41.9" fill="#d9352a" opacity="0.07"/><rect x="395.7" y="933.2" width="2" height="10.3" fill="#d9352a" opacity="0.15"/><rect x="417.3" y="964.5" width="1.3" height="31.5" fill="#d9352a" opacity="0.14"/><rect x="404.6" y="954.1" width="2.1" height="20.9" fill="#d9352a" opacity="0.16"/><rect x="479.5" y="922.6" width="2.1" height="20.9" fill="#d9352a" opacity="0.09"/><rect x="518.6" y="922.6" width="1.2" height="31.5" fill="#d9352a" opacity="0.14"/><rect x="402.8" y="922.6" width="1.8" height="41.9" fill="#d9352a" opacity="0.15"/><rect x="496.3" y="954.1" width="2.1" height="41.9" fill="#d9352a" opacity="0.08"/><rect x="505.4" y="985.4" width="0.6" height="10.6" fill="#d9352a" opacity="0.08"/><rect x="559" y="964.5" width="1.5" height="10.6" fill="#d9352a" opacity="0.07"/><rect x="420" y="922.6" width="2.2" height="10.6" fill="#d9352a" opacity="0.12"/><rect x="475.3" y="964.5" width="1" height="20.9" fill="#d9352a" opacity="0.06"/><rect x="453" y="964.5" width="1.8" height="20.9" fill="#d9352a" opacity="0.12"/><rect x="439.5" y="996" width="1.3" height="10.3" fill="#d9352a" opacity="0.06"/><rect x="415.7" y="964.5" width="0.6" height="41.9" fill="#d9352a" opacity="0.06"/><rect x="401.5" y="912.3" width="1" height="20.9" fill="#d9352a" opacity="0.09"/><rect x="467.7" y="922.6" width="2" height="20.9" fill="#d9352a" opacity="0.10"/><rect x="395" y="922.6" width="1.8" height="10.6" fill="#d9352a" opacity="0.10"/><rect x="498.1" y="964.5" width="1.1" height="41.9" fill="#d9352a" opacity="0.06"/><rect x="503.7" y="943.5" width="1.5" height="20.9" fill="#d9352a" opacity="0.14"/><rect x="409.3" y="964.5" width="1.5" height="41.9" fill="#d9352a" opacity="0.08"/><rect x="565" y="964.5" width="2.3" height="20.9" fill="#d9352a" opacity="0.05"/><rect x="490.8" y="943.5" width="1.6" height="10.6" fill="#d9352a" opacity="0.13"/><rect x="488.8" y="964.5" width="2.1" height="20.9" fill="#d9352a" opacity="0.15"/><rect x="618.5" y="922.6" width="2.3" height="20.9" fill="#d9352a" opacity="0.04"/><rect x="490.8" y="964.5" width="0.7" height="20.9" fill="#d9352a" opacity="0.06"/><rect x="494.5" y="964.5" width="0.6" height="31.5" fill="#d9352a" opacity="0.15"/><rect x="448.8" y="912.3" width="0.6" height="31.3" fill="#d9352a" opacity="0.10"/><rect x="616.5" y="943.5" width="2.2" height="10.6" fill="#d9352a" opacity="0.07"/><rect x="435.4" y="954.1" width="0.9" height="10.3" fill="#d9352a" opacity="0.17"/><rect x="520.4" y="964.5" width="1.7" height="41.9" fill="#d9352a" opacity="0.05"/><rect x="544.1" y="954.1" width="1.5" height="20.9" fill="#d9352a" opacity="0.09"/><rect x="404.5" y="912.3" width="1" height="20.9" fill="#d9352a" opacity="0.13"/><rect x="536.6" y="985.4" width="2" height="20.9" fill="#d9352a" opacity="0.08"/><rect x="617.8" y="912.3" width="1.9" height="41.9" fill="#d9352a" opacity="0.06"/><rect x="432.1" y="964.5" width="1.9" height="20.9" fill="#d9352a" opacity="0.16"/><rect x="484.5" y="964.5" width="2.1" height="10.6" fill="#d9352a" opacity="0.16"/><rect x="540.4" y="964.5" width="1.8" height="20.9" fill="#d9352a" opacity="0.16"/><rect x="406.8" y="985.4" width="2" height="10.6" fill="#d9352a" opacity="0.07"/><rect x="618.1" y="996" width="0.6" height="10.3" fill="#d9352a" opacity="0.09"/><rect x="434.9" y="996" width="0.9" height="10.3" fill="#d9352a" opacity="0.15"/><rect x="519.2" y="912.3" width="1.8" height="10.3" fill="#d9352a" opacity="0.08"/><rect x="561.1" y="954.1" width="1.5" height="20.9" fill="#d9352a" opacity="0.08"/><rect x="457.7" y="922.6" width="1.8" height="20.9" fill="#d9352a" opacity="0.08"/><rect x="484.1" y="912.3" width="1.4" height="10.3" fill="#d9352a" opacity="0.10"/><rect x="533.1" y="985.4" width="2.1" height="10.6" fill="#d9352a" opacity="0.13"/><rect x="534.2" y="975.1" width="0.9" height="20.9" fill="#d9352a" opacity="0.14"/><rect x="573.3" y="943.5" width="1.4" height="20.9" fill="#d9352a" opacity="0.09"/><rect x="438.9" y="964.5" width="2" height="10.6" fill="#d9352a" opacity="0.09"/><rect x="598.7" y="933.2" width="1.2" height="20.9" fill="#d9352a" opacity="0.05"/><rect x="489.2" y="975.1" width="1.7" height="31.3" fill="#d9352a" opacity="0.10"/><rect x="603.8" y="954.1" width="1" height="20.9" fill="#d9352a" opacity="0.07"/><rect x="498.9" y="985.4" width="1.4" height="20.9" fill="#d9352a" opacity="0.15"/><rect x="431.2" y="975.1" width="1.2" height="20.9" fill="#d9352a" opacity="0.05"/><rect x="611.2" y="964.5" width="2.3" height="20.9" fill="#d9352a" opacity="0.07"/><rect x="409" y="912.3" width="1.9" height="20.9" fill="#d9352a" opacity="0.08"/><rect x="606.9" y="954.1" width="1.4" height="10.3" fill="#d9352a" opacity="0.10"/><rect x="547.8" y="954.1" width="1" height="20.9" fill="#d9352a" opacity="0.05"/><rect x="572.8" y="933.2" width="0.8" height="10.3" fill="#d9352a" opacity="0.04"/><rect x="536.8" y="954.1" width="1.8" height="10.3" fill="#d9352a" opacity="0.11"/><rect x="480" y="933.2" width="0.9" height="10.3" fill="#d9352a" opacity="0.10"/><rect x="585.5" y="954.1" width="1.4" height="20.9" fill="#d9352a" opacity="0.07"/><rect x="397.5" y="912.3" width="1.3" height="20.9" fill="#d9352a" opacity="0.10"/><rect x="521" y="954.1" width="2.3" height="10.3" fill="#d9352a" opacity="0.07"/><rect x="486.2" y="922.6" width="1.4" height="31.5" fill="#d9352a" opacity="0.09"/><rect x="478.4" y="943.5" width="1.2" height="41.9" fill="#d9352a" opacity="0.13"/><rect x="444.2" y="954.1" width="0.7" height="20.9" fill="#d9352a" opacity="0.10"/><rect x="428.3" y="985.4" width="1" height="20.9" fill="#d9352a" opacity="0.13"/><rect x="620.5" y="996" width="1.4" height="10.3" fill="#d9352a" opacity="0.07"/><rect x="507.7" y="996" width="0.7" height="10.3" fill="#d9352a" opacity="0.13"/><rect x="515.6" y="975.1" width="1.4" height="31.3" fill="#d9352a" opacity="0.17"/><rect x="585.2" y="912.3" width="1.2" height="20.9" fill="#d9352a" opacity="0.06"/><rect x="567.4" y="954.1" width="1.5" height="20.9" fill="#d9352a" opacity="0.08"/><rect x="499.8" y="964.5" width="0.9" height="41.9" fill="#d9352a" opacity="0.06"/><rect x="428.6" y="996" width="0.8" height="10.3" fill="#d9352a" opacity="0.08"/><rect x="405.2" y="943.5" width="1.1" height="10.6" fill="#d9352a" opacity="0.13"/><rect x="600.5" y="943.5" width="0.8" height="31.5" fill="#d9352a" opacity="0.05"/><rect x="453.5" y="943.5" width="0.7" height="20.9" fill="#d9352a" opacity="0.08"/><rect x="593.7" y="943.5" width="1.6" height="20.9" fill="#d9352a" opacity="0.07"/><rect x="471.7" y="964.5" width="0.9" height="20.9" fill="#d9352a" opacity="0.05"/><rect x="499.3" y="975.1" width="1.2" height="31.3" fill="#d9352a" opacity="0.16"/><rect x="396.6" y="922.6" width="2" height="20.9" fill="#d9352a" opacity="0.11"/><rect x="519.7" y="922.6" width="2.1" height="20.9" fill="#d9352a" opacity="0.15"/><rect x="534.9" y="933.2" width="1.2" height="10.3" fill="#d9352a" opacity="0.12"/><rect x="623.6" y="954.1" width="1.8" height="10.3" fill="#d9352a" opacity="0.04"/><rect x="510.6" y="912.3" width="0.6" height="10.3" fill="#d9352a" opacity="0.10"/><rect x="430.1" y="933.2" width="2.1" height="10.3" fill="#d9352a" opacity="0.06"/><rect x="609.5" y="912.3" width="1.3" height="20.9" fill="#d9352a" opacity="0.08"/><rect x="505.8" y="996" width="1.4" height="10.3" fill="#d9352a" opacity="0.05"/><rect x="406.3" y="912.3" width="2" height="31.3" fill="#d9352a" opacity="0.11"/><rect x="555.2" y="985.4" width="2" height="20.9" fill="#d9352a" opacity="0.03"/><rect x="433.9" y="933.2" width="1.9" height="20.9" fill="#d9352a" opacity="0.05"/><rect x="500.9" y="933.2" width="0.8" height="20.9" fill="#d9352a" opacity="0.17"/><rect x="417" y="964.5" width="1.5" height="31.5" fill="#d9352a" opacity="0.14"/><rect x="439.4" y="912.3" width="1.7" height="31.3" fill="#d9352a" opacity="0.12"/><rect x="574.8" y="933.2" width="2" height="10.3" fill="#d9352a" opacity="0.09"/><rect x="575" y="943.5" width="1.2" height="20.9" fill="#d9352a" opacity="0.07"/><rect x="412.3" y="922.6" width="0.9" height="20.9" fill="#d9352a" opacity="0.16"/><rect x="605.1" y="933.2" width="2.3" height="10.3" fill="#d9352a" opacity="0.07"/><rect x="544.2" y="933.2" width="1.5" height="41.9" fill="#d9352a" opacity="0.07"/><rect x="435.2" y="922.6" width="2.3" height="41.9" fill="#d9352a" opacity="0.16"/><rect x="472" y="996" width="0.8" height="10.3" fill="#d9352a" opacity="0.08"/><rect x="405" y="964.5" width="0.8" height="20.9" fill="#d9352a" opacity="0.10"/><rect x="481.9" y="922.6" width="2.3" height="10.6" fill="#d9352a" opacity="0.07"/><rect x="512.3" y="922.6" width="0.9" height="41.9" fill="#d9352a" opacity="0.15"/><rect x="584.4" y="954.1" width="1.8" height="10.3" fill="#d9352a" opacity="0.09"/><rect x="435.3" y="975.1" width="1" height="20.9" fill="#d9352a" opacity="0.14"/><rect x="407" y="975.1" width="1.7" height="31.3" fill="#d9352a" opacity="0.08"/><rect x="575" y="954.1" width="2" height="20.9" fill="#d9352a" opacity="0.04"/><rect x="431.1" y="985.4" width="0.6" height="10.6" fill="#d9352a" opacity="0.08"/><rect x="540.6" y="964.5" width="1.2" height="41.9" fill="#d9352a" opacity="0.09"/><rect x="580.8" y="943.5" width="2.2" height="31.5" fill="#d9352a" opacity="0.09"/><rect x="422" y="996" width="1.4" height="10.3" fill="#d9352a" opacity="0.12"/><rect x="531.7" y="912.3" width="1.8" height="20.9" fill="#d9352a" opacity="0.08"/><rect x="500.3" y="922.6" width="2.3" height="41.9" fill="#d9352a" opacity="0.05"/><rect x="406" y="922.6" width="0.7" height="10.6" fill="#d9352a" opacity="0.05"/><rect x="611.5" y="985.4" width="1.5" height="20.9" fill="#d9352a" opacity="0.10"/><rect x="394.2" y="964.5" width="1.8" height="41.9" fill="#d9352a" opacity="0.11"/><rect x="583.5" y="964.5" width="1" height="10.6" fill="#d9352a" opacity="0.10"/><rect x="521.4" y="922.6" width="2.4" height="10.6" fill="#d9352a" opacity="0.09"/><rect x="446.4" y="975.1" width="1.9" height="20.9" fill="#d9352a" opacity="0.11"/><rect x="473.9" y="975.1" width="1.6" height="20.9" fill="#d9352a" opacity="0.11"/><rect x="464" y="985.4" width="1.6" height="10.6" fill="#d9352a" opacity="0.15"/><rect x="608.6" y="975.1" width="1.4" height="31.3" fill="#d9352a" opacity="0.10"/><rect x="425" y="922.6" width="1.2" height="41.9" fill="#d9352a" opacity="0.15"/><rect x="433.7" y="985.4" width="1.8" height="20.9" fill="#d9352a" opacity="0.11"/><rect x="614.2" y="943.5" width="2.3" height="31.5" fill="#d9352a" opacity="0.07"/><rect x="525.1" y="912.3" width="0.7" height="10.3" fill="#d9352a" opacity="0.09"/><rect x="420.6" y="943.5" width="1.7" height="10.6" fill="#d9352a" opacity="0.10"/><rect x="535.2" y="922.6" width="1.2" height="20.9" fill="#d9352a" opacity="0.13"/><rect x="394.9" y="954.1" width="1.4" height="31.3" fill="#d9352a" opacity="0.07"/><rect x="565.9" y="975.1" width="2.2" height="10.3" fill="#d9352a" opacity="0.04"/><rect x="497.9" y="954.1" width="2.1" height="20.9" fill="#d9352a" opacity="0.09"/><rect x="412.3" y="933.2" width="1.7" height="41.9" fill="#d9352a" opacity="0.14"/><rect x="397.7" y="912.3" width="1.2" height="20.9" fill="#d9352a" opacity="0.05"/><rect x="510.4" y="954.1" width="2.3" height="41.9" fill="#d9352a" opacity="0.17"/><rect x="480.2" y="954.1" width="1.6" height="31.3" fill="#d9352a" opacity="0.09"/><rect x="516.7" y="922.6" width="1.5" height="41.9" fill="#d9352a" opacity="0.12"/><rect x="468.2" y="912.3" width="1.2" height="20.9" fill="#d9352a" opacity="0.07"/><rect x="607.6" y="964.5" width="1.1" height="20.9" fill="#d9352a" opacity="0.03"/><rect x="494.9" y="975.1" width="1.4" height="31.3" fill="#d9352a" opacity="0.09"/><rect x="473.8" y="912.3" width="1.1" height="20.9" fill="#d9352a" opacity="0.06"/><rect x="466.8" y="996" width="1.3" height="10.3" fill="#d9352a" opacity="0.16"/><rect x="504.6" y="996" width="2.3" height="10.3" fill="#d9352a" opacity="0.10"/><rect x="520" y="975.1" width="0.8" height="31.3" fill="#d9352a" opacity="0.12"/><rect x="405.6" y="964.5" width="0.7" height="20.9" fill="#d9352a" opacity="0.08"/><rect x="576.5" y="912.3" width="1" height="10.3" fill="#d9352a" opacity="0.07"/><rect x="448.3" y="933.2" width="2.2" height="31.3" fill="#d9352a" opacity="0.08"/><rect x="443.6" y="975.1" width="2" height="31.3" fill="#d9352a" opacity="0.08"/><rect x="531" y="922.6" width="1.7" height="31.5" fill="#d9352a" opacity="0.13"/><rect x="408.2" y="964.5" width="1.4" height="10.6" fill="#d9352a" opacity="0.12"/><rect x="411.4" y="975.1" width="2.2" height="20.9" fill="#d9352a" opacity="0.10"/><rect x="453.5" y="964.5" width="1.3" height="10.6" fill="#d9352a" opacity="0.06"/><rect x="410.5" y="964.5" width="1.5" height="10.6" fill="#d9352a" opacity="0.11"/><rect x="552" y="922.6" width="1.9" height="10.6" fill="#d9352a" opacity="0.09"/><rect x="424.5" y="943.5" width="1.1" height="41.9" fill="#d9352a" opacity="0.10"/><rect x="604.6" y="975.1" width="1.2" height="31.3" fill="#d9352a" opacity="0.10"/><rect x="449.6" y="975.1" width="0.8" height="10.3" fill="#d9352a" opacity="0.16"/><rect x="616.3" y="985.4" width="1.7" height="20.9" fill="#d9352a" opacity="0.08"/><rect x="521.2" y="922.6" width="1.3" height="20.9" fill="#d9352a" opacity="0.06"/><rect x="413.5" y="964.5" width="1.9" height="10.6" fill="#d9352a" opacity="0.07"/><rect x="481.4" y="975.1" width="0.5" height="20.9" fill="#d9352a" opacity="0.08"/><rect x="443.6" y="933.2" width="1.4" height="10.3" fill="#d9352a" opacity="0.12"/><rect x="511" y="933.2" width="1.2" height="20.9" fill="#d9352a" opacity="0.17"/><rect x="401.9" y="933.2" width="1" height="41.9" fill="#d9352a" opacity="0.14"/><rect x="455.4" y="985.4" width="1.1" height="20.9" fill="#d9352a" opacity="0.12"/><rect x="426.6" y="975.1" width="1.5" height="20.9" fill="#d9352a" opacity="0.10"/><rect x="504.5" y="912.3" width="2.1" height="10.3" fill="#d9352a" opacity="0.14"/><rect x="427.6" y="943.5" width="1.9" height="20.9" fill="#d9352a" opacity="0.12"/><rect x="483.7" y="996" width="0.9" height="10.3" fill="#d9352a" opacity="0.17"/><rect x="564.2" y="996" width="1" height="10.3" fill="#d9352a" opacity="0.03"/><rect x="500" y="922.6" width="1" height="20.9" fill="#d9352a" opacity="0.12"/><rect x="566.3" y="933.2" width="2.3" height="10.3" fill="#d9352a" opacity="0.04"/><rect x="422.5" y="985.4" width="2.3" height="20.9" fill="#d9352a" opacity="0.05"/><rect x="422.7" y="943.5" width="0.8" height="20.9" fill="#d9352a" opacity="0.09"/><rect x="535.8" y="954.1" width="2.1" height="20.9" fill="#d9352a" opacity="0.07"/><rect x="408.6" y="996" width="0.9" height="10.3" fill="#d9352a" opacity="0.12"/><rect x="598.8" y="912.3" width="2.2" height="10.3" fill="#d9352a" opacity="0.03"/><rect x="448.8" y="954.1" width="0.8" height="31.3" fill="#d9352a" opacity="0.09"/><rect x="534.4" y="996" width="1.5" height="10.3" fill="#d9352a" opacity="0.15"/><rect x="423.9" y="922.6" width="1.9" height="20.9" fill="#d9352a" opacity="0.17"/><rect x="457.2" y="975.1" width="1.6" height="31.3" fill="#d9352a" opacity="0.16"/><rect x="457.3" y="933.2" width="1.2" height="41.9" fill="#d9352a" opacity="0.17"/><rect x="621.5" y="975.1" width="2.1" height="31.3" fill="#d9352a" opacity="0.08"/><rect x="607.1" y="964.5" width="0.7" height="10.6" fill="#d9352a" opacity="0.06"/><rect x="561.1" y="996" width="1.3" height="10.3" fill="#d9352a" opacity="0.06"/><rect x="433.1" y="964.5" width="1.1" height="10.6" fill="#d9352a" opacity="0.15"/><rect x="420.2" y="985.4" width="1.7" height="20.9" fill="#d9352a" opacity="0.10"/><rect x="517.9" y="975.1" width="0.6" height="31.3" fill="#d9352a" opacity="0.11"/><rect x="566.3" y="912.3" width="1" height="20.9" fill="#d9352a" opacity="0.08"/><rect x="447.5" y="975.1" width="2.3" height="31.3" fill="#d9352a" opacity="0.14"/><rect x="551.4" y="933.2" width="1.5" height="20.9" fill="#d9352a" opacity="0.09"/><rect x="574.9" y="922.6" width="1" height="20.9" fill="#d9352a" opacity="0.10"/><rect x="398.8" y="912.3" width="2.1" height="20.9" fill="#d9352a" opacity="0.07"/><rect x="473.4" y="964.5" width="1.7" height="10.6" fill="#d9352a" opacity="0.08"/><rect x="455.9" y="912.3" width="2" height="20.9" fill="#d9352a" opacity="0.12"/><rect x="398.6" y="912.3" width="0.9" height="20.9" fill="#d9352a" opacity="0.14"/><rect x="474.3" y="922.6" width="1.4" height="31.5" fill="#d9352a" opacity="0.06"/><rect x="489.1" y="964.5" width="1.1" height="10.6" fill="#d9352a" opacity="0.08"/><rect x="497.8" y="954.1" width="1.1" height="20.9" fill="#d9352a" opacity="0.07"/><rect x="408.4" y="933.2" width="2.3" height="20.9" fill="#d9352a" opacity="0.15"/><rect x="468.2" y="964.5" width="1.4" height="20.9" fill="#d9352a" opacity="0.16"/><rect x="422.1" y="964.5" width="2.1" height="20.9" fill="#d9352a" opacity="0.06"/><rect x="410.5" y="912.3" width="0.7" height="20.9" fill="#d9352a" opacity="0.12"/><rect x="536.8" y="996" width="1" height="10.3" fill="#d9352a" opacity="0.15"/><rect x="476.8" y="912.3" width="2.2" height="20.9" fill="#d9352a" opacity="0.07"/><rect x="497.6" y="996" width="1.5" height="10.3" fill="#d9352a" opacity="0.14"/><rect x="413.9" y="954.1" width="2.1" height="20.9" fill="#d9352a" opacity="0.06"/><rect x="564.7" y="943.5" width="0.6" height="20.9" fill="#d9352a" opacity="0.08"/><rect x="440.9" y="912.3" width="1.9" height="20.9" fill="#d9352a" opacity="0.15"/><rect x="588.6" y="922.6" width="2.1" height="10.6" fill="#d9352a" opacity="0.04"/><rect x="482.5" y="933.2" width="1.8" height="31.3" fill="#d9352a" opacity="0.06"/><rect x="402.8" y="954.1" width="2.1" height="10.3" fill="#d9352a" opacity="0.11"/><rect x="554.4" y="964.5" width="2.3" height="10.6" fill="#d9352a" opacity="0.06"/><rect x="558.6" y="922.6" width="1.8" height="10.6" fill="#d9352a" opacity="0.04"/><rect x="546.1" y="964.5" width="1.4" height="31.5" fill="#d9352a" opacity="0.08"/><rect x="502.5" y="996" width="1.9" height="10.3" fill="#d9352a" opacity="0.12"/><rect x="432.4" y="922.6" width="1.6" height="10.6" fill="#d9352a" opacity="0.16"/><rect x="419.6" y="922.6" width="2.3" height="10.6" fill="#d9352a" opacity="0.12"/><rect x="574.7" y="985.4" width="1.2" height="10.6" fill="#d9352a" opacity="0.08"/><rect x="454.6" y="933.2" width="1.2" height="41.9" fill="#d9352a" opacity="0.07"/><rect x="451.1" y="975.1" width="1.6" height="20.9" fill="#d9352a" opacity="0.12"/><rect x="404.6" y="964.5" width="0.6" height="20.9" fill="#d9352a" opacity="0.09"/><rect x="474.5" y="985.4" width="1" height="10.6" fill="#d9352a" opacity="0.09"/><rect x="477.2" y="912.3" width="2" height="31.3" fill="#d9352a" opacity="0.11"/><rect x="491.7" y="964.5" width="1.1" height="10.6" fill="#d9352a" opacity="0.07"/><rect x="476.7" y="996" width="2.1" height="10.3" fill="#d9352a" opacity="0.10"/><rect x="449" y="964.5" width="2.1" height="20.9" fill="#d9352a" opacity="0.05"/><rect x="413" y="933.2" width="1.1" height="10.3" fill="#d9352a" opacity="0.13"/><rect x="521.5" y="912.3" width="2.4" height="31.3" fill="#d9352a" opacity="0.08"/><rect x="448.7" y="996" width="0.9" height="10.3" fill="#d9352a" opacity="0.14"/><rect x="518.1" y="996" width="1.1" height="10.3" fill="#d9352a" opacity="0.14"/><rect x="556.1" y="996" width="1.1" height="10.3" fill="#d9352a" opacity="0.05"/><rect x="446.2" y="985.4" width="2" height="10.6" fill="#d9352a" opacity="0.14"/><rect x="616.5" y="964.5" width="2.1" height="20.9" fill="#d9352a" opacity="0.06"/><rect x="457.1" y="975.1" width="1.1" height="31.3" fill="#d9352a" opacity="0.08"/><rect x="463.6" y="943.5" width="2.1" height="10.6" fill="#d9352a" opacity="0.08"/><rect x="557" y="996" width="1.5" height="10.3" fill="#d9352a" opacity="0.08"/><rect x="506.1" y="985.4" width="2.1" height="20.9" fill="#d9352a" opacity="0.09"/><rect x="563.8" y="985.4" width="2.3" height="10.6" fill="#d9352a" opacity="0.05"/><rect x="393.9" y="964.5" width="2.1" height="31.5" fill="#d9352a" opacity="0.17"/><rect x="397.6" y="922.6" width="0.6" height="41.9" fill="#d9352a" opacity="0.15"/><rect x="487.9" y="943.5" width="1.5" height="10.6" fill="#d9352a" opacity="0.15"/><rect x="606.5" y="964.5" width="2.1" height="41.9" fill="#d9352a" opacity="0.08"/><rect x="456" y="912.3" width="1.7" height="20.9" fill="#d9352a" opacity="0.09"/><rect x="568.7" y="933.2" width="0.6" height="31.3" fill="#d9352a" opacity="0.05"/><rect x="516.7" y="912.3" width="1.8" height="10.3" fill="#d9352a" opacity="0.10"/><rect x="406.2" y="964.5" width="1.2" height="31.5" fill="#d9352a" opacity="0.16"/><rect x="490.2" y="996" width="0.7" height="10.3" fill="#d9352a" opacity="0.07"/><rect x="467.6" y="985.4" width="2.4" height="20.9" fill="#d9352a" opacity="0.08"/><rect x="607.5" y="975.1" width="1.2" height="31.3" fill="#d9352a" opacity="0.06"/><rect x="614.6" y="922.6" width="2.4" height="20.9" fill="#d9352a" opacity="0.04"/><rect x="543.2" y="943.5" width="1.6" height="41.9" fill="#d9352a" opacity="0.04"/><rect x="533.6" y="964.5" width="1.9" height="10.6" fill="#d9352a" opacity="0.11"/><rect x="610.9" y="933.2" width="0.9" height="20.9" fill="#d9352a" opacity="0.08"/><rect x="487.3" y="912.3" width="2.3" height="10.3" fill="#d9352a" opacity="0.09"/><rect x="546.6" y="996" width="0.8" height="10.3" fill="#d9352a" opacity="0.04"/><rect x="449.3" y="996" width="2.4" height="10.3" fill="#d9352a" opacity="0.11"/><rect x="465.6" y="954.1" width="1.4" height="41.9" fill="#d9352a" opacity="0.07"/><rect x="552.4" y="975.1" width="2" height="10.3" fill="#d9352a" opacity="0.09"/><rect x="526.6" y="975.1" width="1" height="10.3" fill="#d9352a" opacity="0.17"/><rect x="510.4" y="943.5" width="1.7" height="31.5" fill="#d9352a" opacity="0.15"/><rect x="427.6" y="975.1" width="2.1" height="31.3" fill="#d9352a" opacity="0.08"/><rect x="522.5" y="985.4" width="1.4" height="20.9" fill="#d9352a" opacity="0.14"/><rect x="445.6" y="933.2" width="2" height="41.9" fill="#d9352a" opacity="0.08"/><rect x="519.5" y="912.3" width="1.2" height="41.9" fill="#d9352a" opacity="0.11"/><rect x="560.1" y="964.5" width="1.9" height="20.9" fill="#d9352a" opacity="0.06"/><rect x="550.1" y="975.1" width="0.7" height="20.9" fill="#d9352a" opacity="0.03"/><rect x="432.7" y="954.1" width="1.5" height="31.3" fill="#d9352a" opacity="0.12"/><rect x="609.1" y="954.1" width="1.6" height="10.3" fill="#d9352a" opacity="0.09"/><rect x="427.5" y="943.5" width="1.6" height="20.9" fill="#d9352a" opacity="0.14"/><rect x="481.3" y="954.1" width="1" height="10.3" fill="#d9352a" opacity="0.09"/><rect x="592.6" y="922.6" width="2.2" height="20.9" fill="#d9352a" opacity="0.06"/><rect x="464.4" y="922.6" width="2" height="31.5" fill="#d9352a" opacity="0.08"/><rect x="469.8" y="985.4" width="1.9" height="10.6" fill="#d9352a" opacity="0.05"/><rect x="419.3" y="922.6" width="1.1" height="41.9" fill="#d9352a" opacity="0.07"/><rect x="538" y="943.5" width="1.9" height="10.6" fill="#d9352a" opacity="0.11"/><rect x="439.9" y="975.1" width="1.3" height="10.3" fill="#d9352a" opacity="0.12"/><rect x="514.5" y="912.3" width="1.1" height="20.9" fill="#d9352a" opacity="0.14"/><rect x="470.1" y="975.1" width="2.1" height="10.3" fill="#d9352a" opacity="0.11"/><rect x="466.6" y="922.6" width="1.4" height="10.6" fill="#d9352a" opacity="0.09"/><rect x="400.9" y="996" width="1.7" height="10.3" fill="#d9352a" opacity="0.13"/><rect x="547.3" y="975.1" width="0.5" height="31.3" fill="#d9352a" opacity="0.04"/><rect x="486.4" y="954.1" width="0.9" height="10.3" fill="#d9352a" opacity="0.11"/><rect x="450.4" y="954.1" width="0.9" height="31.3" fill="#d9352a" opacity="0.08"/><rect x="532.9" y="943.5" width="1.1" height="20.9" fill="#d9352a" opacity="0.16"/><rect x="394.3" y="996" width="1.6" height="10.3" fill="#d9352a" opacity="0.16"/><rect x="599.7" y="943.5" width="1.6" height="10.6" fill="#d9352a" opacity="0.08"/><rect x="510.9" y="912.3" width="2.3" height="10.3" fill="#d9352a" opacity="0.09"/><rect x="563.8" y="933.2" width="1.4" height="10.3" fill="#d9352a" opacity="0.07"/><rect x="400.8" y="985.4" width="0.6" height="20.9" fill="#d9352a" opacity="0.11"/><rect x="594.2" y="933.2" width="2.3" height="20.9" fill="#d9352a" opacity="0.04"/><rect x="419.4" y="933.2" width="2.2" height="41.9" fill="#d9352a" opacity="0.15"/><rect x="562.8" y="975.1" width="2.1" height="10.3" fill="#d9352a" opacity="0.04"/><rect x="487.4" y="933.2" width="0.6" height="20.9" fill="#d9352a" opacity="0.06"/><rect x="574.7" y="912.3" width="2.4" height="31.3" fill="#d9352a" opacity="0.06"/><rect x="500.3" y="933.2" width="1.1" height="31.3" fill="#d9352a" opacity="0.13"/><rect x="429.6" y="962.6" width="108.6" height="13.2" fill="#fff" opacity="0.82"/><rect x="392.5" y="912.3" width="235.1" height="94" fill="none" stroke="#8a8a8a" stroke-width="0.9"/><rect x="395.7" y="964.5" width="10.1" height="10.5" fill="#c93030" stroke="#111" stroke-width="1.5"/><path d="M406.5,969.5 H422" stroke="#111" stroke-width="1.4" fill="none"/><path d="M426.6,969.5 L420.6,966.3 L420.6,972.7Z" fill="#111"/><text x="431.5" y="972.4" font-size="13.4" fill="#0a0a0a" textLength="96.6" lengthAdjust="spacingAndGlyphs">Fleece variation</text><path d="M392,917.7 H382.7 V928.3 H392 M392,938.6 H383.4 V949 H392 M382.7,923 H380.8 V943.7 H383.4 M392,959.9 H381.2 V970.3 H392 M392,980.7 H382.2 V1000.9 H392 M382.2,991.2 H392 M380.8,933.3 H378.8 V1003 M378.8,965 H381.2 M378.8,990 H382.2" fill="none" stroke="#4a4a4a" stroke-width="0.75"/>
<circle cx="704.6" cy="491.4" r="11.3" fill="none" stroke="#111" stroke-width="1.4"/><text x="704.6" y="498.59999999999997" font-size="20" font-weight="bold" text-anchor="middle" fill="#111">3</text>
<text x="719.9" y="497.6" font-size="21" font-weight="bold" fill="#0a0a0a" textLength="258.3" lengthAdjust="spacingAndGlyphs">Identify the causal genes/</text>
<text x="691.6999999999999" y="519.3" font-size="21" font-weight="bold" fill="#0a0a0a" textLength="307" lengthAdjust="spacingAndGlyphs">tissues/ developmental stages</text>
<path d="M719.8,526.3 V621.1" stroke="#8a8a8a" stroke-width="1" fill="none"/><path d="M719.8,526.3 h-3.8" stroke="#8a8a8a" stroke-width="1"/><path d="M719.8,545.1 h-3.8" stroke="#8a8a8a" stroke-width="1"/><path d="M719.8,564.3 h-3.8" stroke="#8a8a8a" stroke-width="1"/><path d="M719.8,583.1 h-3.8" stroke="#8a8a8a" stroke-width="1"/><path d="M719.8,602.3 h-3.8" stroke="#8a8a8a" stroke-width="1"/><path d="M719.8,621.1 h-3.8" stroke="#8a8a8a" stroke-width="1"/><path d="M726.3,621.1L726.3,586.8L727.5,584.7L728.5,586.4L729.5,584L730,585.1L731,584.6L731.9,584.8L733,587.4L733.8,587.6L734.3,586.8L735.4,584.1L736.3,585.7L736.3,621.1Z" fill="#7030a0"/><path d="M736.7,621.1L736.7,583.6L737.3,582.7L737.8,582.2L738.7,582L739.4,584.2L740,582.9L740.8,582.7L741.7,584.8L742.2,583.9L743.1,585.4L744.1,582.8L745,585.3L746.2,584.8L746.3,583.9L746.3,621.1Z" fill="#16a59b"/><path d="M746.7,621.1L746.7,586.2L747.6,586.2L748.3,584.6L748.8,586.8L749.4,587.5L750.4,585.2L751.5,584.3L752.1,587.2L752.9,587.7L753.7,584L754.9,588L755.7,586.9L755.8,586.2L755.8,621.1Z" fill="#f99bc9"/><path d="M756.2,621.1L756.2,586.8L756.7,586.5L757.7,584.7L758.8,586.4L759.6,583.7L760.2,587L761,586.4L761.5,586.5L762.2,585.9L762.9,586.2L763.9,587.2L764.6,584.9L765.2,585.4L765.2,621.1Z" fill="#ff5c21"/><path d="M765.6,621.1L765.6,588L766.7,588.4L767.8,585.4L768.8,587.9L769.8,587.5L771,585.5L772.1,588.5L772.9,586.1L773.8,586.8L774.3,588.1L775.1,587.2L775.2,586.9L775.2,621.1Z" fill="#ffc40f"/><path d="M775.6,621.1L775.6,585.2L776.8,583.3L777.3,585.8L778.2,583.7L779.1,585.5L779.8,584.6L781,583.2L781.7,586.3L782.3,586.4L783.3,583.7L783.9,586.1L784.5,586.5L785,585.2L785,621.1Z" fill="#7030a0"/><path d="M785.4,621.1L785.4,585.3L786,588.5L786.8,584.9L787.8,587.7L788.3,586.2L789,587.5L790.2,588.2L790.7,584.8L791.4,584.8L792.2,587.6L793.1,587.4L793.9,586.3L794.6,587.5L795,586.6L795,621.1Z" fill="#16a59b"/><path d="M795.4,621.1L795.4,587.4L796.4,587.2L797.1,586.7L798,587.4L798.7,586.6L799.4,584.7L800.1,587.5L800.9,585.8L802.1,584.6L803.2,588L804.2,585.9L805.1,586.8L805.1,621.1Z" fill="#f99bc9"/><path d="M805.5,621.1L805.5,588.4L806.2,589.3L806.8,586.3L808,585.8L808.9,587L809.7,587.2L810.2,586L811.4,588.5L812.6,586.6L813.6,585.8L814.4,587.1L814.5,587.5L814.5,621.1Z" fill="#ff5c21"/><path d="M814.9,621.1L814.9,585.7L815.6,583.1L816.4,584.7L817.3,585.3L817.9,583.3L819,585.1L819.7,586.7L820.7,583.9L821.5,586.2L822.5,584.1L823.4,583.3L824.4,584.1L825.2,586.4L825.5,584.9L825.5,621.1Z" fill="#ffc40f"/><path d="M825.9,621.1L825.9,586.7L826.7,584.8L827.4,584.2L828.4,585.9L829.1,587.1L830.3,585L831.3,585.4L832.3,585.5L832.9,584.3L833.8,583.9L834.8,584.1L834.9,585.7L834.9,621.1Z" fill="#7030a0"/><path d="M835.3,621.1L835.3,585.2L836.1,584.9L837,585.7L837.6,584.6L838.2,585.1L838.8,586.6L839.4,584L840.4,583.8L841,586.9L841.6,586.2L842.3,584.3L842.9,587.3L843.9,586.4L844.3,585.8L844.3,621.1Z" fill="#16a59b"/><path d="M844.7,621.1L844.7,587.5L845.5,585.9L846.1,585.8L847.2,588.7L847.7,586.3L848.4,587.9L849.4,586.7L849.9,585.5L850.6,588.5L851.3,587.1L852.1,587.4L853.2,587.1L853.8,588.1L854.3,587.4L854.7,587.1L854.7,621.1Z" fill="#f99bc9"/><path d="M855.1,621.1L855.1,584.4L856.1,585.6L856.8,585.5L857.7,582.7L858.6,582.4L859.5,586.2L860.5,585.8L861.7,584.1L862.2,583.5L863.2,584.8L864.1,584.4L864.1,621.1Z" fill="#ff5c21"/><path d="M864.5,621.1L864.5,585.1L865.2,587.3L866.1,586L867.2,586L868.2,585.2L869.4,585.6L870,587.1L871.1,586.6L872.1,586.4L872.9,585.7L873.4,587.5L874.2,586.8L874.2,621.1Z" fill="#ffc40f"/><path d="M874.6,621.1L874.6,589.1L875.8,589.1L876.9,585.6L877.9,585.5L878.5,586.9L879.5,588.5L880.3,585.8L881.2,586.6L882.3,586.8L883.5,587L883.9,587.3L883.9,621.1Z" fill="#7030a0"/><path d="M884.3,621.1L884.3,587L885.5,587.7L886.5,586.4L887.5,585.9L888.6,586.4L889.4,587.3L889.9,588.1L890.7,587.7L891.5,587.8L892.4,585.2L893.3,588.2L893.9,586.9L893.9,621.1Z" fill="#16a59b"/><path d="M894.3,621.1L894.3,582.2L895.4,582.4L896.1,584.7L896.9,583.3L897.5,584.5L898.6,583.2L899.2,582.5L899.9,583.9L901,582L902.1,583.3L902.6,583.9L903.2,584.2L903.4,583.8L903.4,621.1Z" fill="#f99bc9"/><path d="M903.8,621.1L903.8,585.7L904.7,586.3L905.9,588.6L906.6,588.5L907.7,587.7L908.8,585.2L909.8,585.2L910.7,585.3L911.7,586L912.2,587.3L912.9,589.2L913.4,587.4L913.4,621.1Z" fill="#ff5c21"/><path d="M913.8,621.1L913.8,584.7L914.4,582.9L915.6,585.5L916.7,584.5L917.5,583.8L918.6,584.5L919.2,582L920.4,583.1L921,582.2L921.5,583.1L922.3,583.4L923,584.5L923.8,583.9L923.8,621.1Z" fill="#ffc40f"/><path d="M924.2,621.1L924.2,584L925.2,583.5L926.1,584L926.7,581.8L927.6,584.9L928.3,584.5L929.2,585.1L930,582.8L931.1,582.8L932.1,582.2L933,584.5L933.2,583.9L933.2,621.1Z" fill="#7030a0"/><path d="M933.6,621.1L933.6,585.1L934.3,584.6L935.3,584.4L936.3,582.8L937.5,586.3L938.6,586L939.4,585.4L940.1,584.2L940.7,585.5L941.3,583.5L942.3,586.1L942.9,584.7L942.9,621.1Z" fill="#16a59b"/><path d="M943.3,621.1L943.3,586.5L944,587.2L945,584.1L946.2,587.1L946.9,584.1L947.6,585.5L948.7,585.9L949.2,587L950,585.2L950.5,584.7L951.6,585.9L952.6,585.6L953,586.2L953,621.1Z" fill="#f99bc9"/><path d="M953.4,621.1L953.4,584.5L954.4,587.7L955.2,586.7L956.2,585.5L956.9,585.6L957.6,585.9L958.4,587.1L959.5,586.6L960.4,588L961.4,587L962,587.7L962.4,586.3L962.4,621.1Z" fill="#ff5c21"/><path d="M962.8,621.1L962.8,583.2L963.5,585.2L964.4,584.2L965,583.1L966.2,583.2L967.3,586.2L968,586.3L968.5,583.9L969.3,585.3L970.4,583.6L971.3,584L972.4,583.4L972.5,584.9L972.5,621.1Z" fill="#ffc40f"/><path d="M972.9,621.1L972.9,587.6L973.9,584.7L975,585L976,587.6L976.7,586.5L977.7,585.4L978.8,585.3L979.5,584.5L980.4,586.1L981.5,584L982.6,587.4L983.5,585.3L984.3,585.2L984.4,585.8L984.4,621.1Z" fill="#7030a0"/><circle cx="731.9" cy="574" r="0.95" fill="#7030a0"/><circle cx="731.7" cy="577.9" r="0.95" fill="#7030a0"/><circle cx="729.5" cy="586.3" r="0.95" fill="#7030a0"/><circle cx="731.1" cy="563.8" r="0.95" fill="#7030a0"/><circle cx="734.2" cy="571.3" r="0.95" fill="#7030a0"/><circle cx="727.1" cy="581" r="0.95" fill="#7030a0"/><circle cx="735.6" cy="584.7" r="0.95" fill="#7030a0"/><circle cx="734.7" cy="585.6" r="0.95" fill="#7030a0"/><circle cx="735.6" cy="583.6" r="0.95" fill="#7030a0"/><circle cx="729.1" cy="580.4" r="0.95" fill="#7030a0"/><circle cx="732.3" cy="583.4" r="0.95" fill="#7030a0"/><circle cx="727.8" cy="582.3" r="0.95" fill="#7030a0"/><circle cx="729.6" cy="585" r="0.95" fill="#7030a0"/><circle cx="732" cy="576.7" r="0.95" fill="#7030a0"/><circle cx="729.9" cy="584.1" r="0.95" fill="#7030a0"/><circle cx="732.5" cy="581.3" r="0.95" fill="#7030a0"/><circle cx="727.3" cy="569" r="0.95" fill="#7030a0"/><circle cx="726.8" cy="583.3" r="0.95" fill="#7030a0"/><circle cx="730.4" cy="581.3" r="0.95" fill="#7030a0"/><circle cx="732.1" cy="584.6" r="0.95" fill="#7030a0"/><circle cx="729" cy="582.4" r="0.95" fill="#7030a0"/><circle cx="734.5" cy="583.5" r="0.95" fill="#7030a0"/><circle cx="735.2" cy="569.6" r="0.95" fill="#7030a0"/><circle cx="727.5" cy="580.6" r="0.95" fill="#7030a0"/><circle cx="732.8" cy="582.2" r="0.95" fill="#7030a0"/><circle cx="732.6" cy="585.5" r="0.95" fill="#7030a0"/><circle cx="729.1" cy="585.9" r="0.95" fill="#7030a0"/><circle cx="733.4" cy="583.9" r="0.95" fill="#7030a0"/><circle cx="731.2" cy="583.4" r="0.95" fill="#7030a0"/><circle cx="730.8" cy="572.7" r="0.95" fill="#7030a0"/><circle cx="728.8" cy="585.1" r="0.95" fill="#7030a0"/><circle cx="730" cy="586.5" r="0.95" fill="#7030a0"/><circle cx="731.9" cy="584.4" r="0.95" fill="#7030a0"/><circle cx="729.7" cy="583.1" r="0.95" fill="#7030a0"/><circle cx="731.8" cy="582.8" r="0.95" fill="#7030a0"/><circle cx="736" cy="580.9" r="0.95" fill="#7030a0"/><circle cx="729.9" cy="583" r="0.95" fill="#7030a0"/><circle cx="731.5" cy="585.8" r="0.95" fill="#7030a0"/><circle cx="733.2" cy="580.8" r="0.95" fill="#7030a0"/><circle cx="730.8" cy="583.8" r="0.95" fill="#7030a0"/><circle cx="731.1" cy="586.6" r="0.95" fill="#7030a0"/><circle cx="735.9" cy="579.5" r="0.95" fill="#7030a0"/><circle cx="733.7" cy="585.7" r="0.95" fill="#7030a0"/><circle cx="731.5" cy="575.7" r="0.95" fill="#7030a0"/><circle cx="735.1" cy="582.8" r="0.95" fill="#7030a0"/><circle cx="727.5" cy="576.9" r="0.95" fill="#7030a0"/><circle cx="726.9" cy="583.5" r="0.95" fill="#7030a0"/><circle cx="728.7" cy="582.4" r="0.95" fill="#7030a0"/><circle cx="734.1" cy="577.7" r="0.95" fill="#7030a0"/><circle cx="728.4" cy="583.5" r="0.95" fill="#7030a0"/><circle cx="729.9" cy="583.5" r="0.95" fill="#7030a0"/><circle cx="735.8" cy="575.9" r="0.95" fill="#7030a0"/><circle cx="729.8" cy="580.9" r="0.95" fill="#7030a0"/><circle cx="726.9" cy="581.3" r="0.95" fill="#7030a0"/><circle cx="729.6" cy="585" r="0.95" fill="#7030a0"/><circle cx="728.9" cy="583.9" r="0.95" fill="#7030a0"/><circle cx="727.8" cy="585.5" r="0.95" fill="#7030a0"/><circle cx="729.5" cy="585.8" r="0.95" fill="#7030a0"/><circle cx="728.6" cy="569.7" r="0.95" fill="#7030a0"/><circle cx="728" cy="585.2" r="0.95" fill="#7030a0"/><circle cx="731.6" cy="584.7" r="0.95" fill="#7030a0"/><circle cx="733.7" cy="586" r="0.95" fill="#7030a0"/><circle cx="728.2" cy="583.5" r="0.95" fill="#7030a0"/><circle cx="734.1" cy="578" r="0.95" fill="#7030a0"/><circle cx="730.4" cy="582.8" r="0.95" fill="#7030a0"/><circle cx="733.3" cy="580.5" r="0.95" fill="#7030a0"/><circle cx="729.6" cy="580.9" r="0.95" fill="#7030a0"/><circle cx="734.1" cy="585.3" r="0.95" fill="#7030a0"/><circle cx="729" cy="583.1" r="0.95" fill="#7030a0"/><circle cx="731.2" cy="584.4" r="0.95" fill="#7030a0"/><circle cx="730.2" cy="585.9" r="0.95" fill="#7030a0"/><circle cx="727.3" cy="585" r="0.95" fill="#7030a0"/><circle cx="729.6" cy="573.1" r="0.95" fill="#7030a0"/><circle cx="729.5" cy="578.5" r="0.95" fill="#7030a0"/><circle cx="731.4" cy="576.8" r="0.95" fill="#7030a0"/><circle cx="734.9" cy="582.3" r="0.95" fill="#7030a0"/><circle cx="734.1" cy="585.6" r="0.95" fill="#7030a0"/><circle cx="734.7" cy="579.2" r="0.95" fill="#7030a0"/><circle cx="729.1" cy="586.3" r="0.95" fill="#7030a0"/><circle cx="735.1" cy="585.7" r="0.95" fill="#7030a0"/><circle cx="726.9" cy="575.3" r="0.95" fill="#7030a0"/><circle cx="731.2" cy="584.4" r="0.95" fill="#7030a0"/><circle cx="729.5" cy="577.5" r="0.95" fill="#7030a0"/><circle cx="733.7" cy="585.7" r="0.95" fill="#7030a0"/><circle cx="730" cy="578.1" r="0.95" fill="#7030a0"/><circle cx="728.8" cy="582.6" r="0.95" fill="#7030a0"/><circle cx="730.9" cy="585.8" r="0.95" fill="#7030a0"/><circle cx="733.9" cy="575.2" r="0.95" fill="#7030a0"/><circle cx="730.8" cy="582.4" r="0.95" fill="#7030a0"/><circle cx="734.8" cy="580.7" r="0.95" fill="#7030a0"/><circle cx="730.4" cy="583.9" r="0.95" fill="#7030a0"/><circle cx="733.1" cy="585.5" r="0.95" fill="#7030a0"/><circle cx="735.3" cy="578.7" r="0.95" fill="#7030a0"/><circle cx="731" cy="584.5" r="0.95" fill="#7030a0"/><circle cx="731.1" cy="573.6" r="0.95" fill="#7030a0"/><circle cx="740.3" cy="582.2" r="0.95" fill="#16a59b"/><circle cx="743.8" cy="582" r="0.95" fill="#16a59b"/><circle cx="737.1" cy="571.6" r="0.95" fill="#16a59b"/><circle cx="738.3" cy="582.8" r="0.95" fill="#16a59b"/><circle cx="745.7" cy="584.6" r="0.95" fill="#16a59b"/><circle cx="738" cy="579.3" r="0.95" fill="#16a59b"/><circle cx="738.8" cy="568.1" r="0.95" fill="#16a59b"/><circle cx="739.8" cy="580.6" r="0.95" fill="#16a59b"/><circle cx="740" cy="583.1" r="0.95" fill="#16a59b"/><circle cx="741.2" cy="576.3" r="0.95" fill="#16a59b"/><circle cx="739.9" cy="582.3" r="0.95" fill="#16a59b"/><circle cx="744.9" cy="584.4" r="0.95" fill="#16a59b"/><circle cx="739.7" cy="574" r="0.95" fill="#16a59b"/><circle cx="742.3" cy="580.3" r="0.95" fill="#16a59b"/><circle cx="737.6" cy="580.2" r="0.95" fill="#16a59b"/><circle cx="745.4" cy="581.3" r="0.95" fill="#16a59b"/><circle cx="739.7" cy="573.3" r="0.95" fill="#16a59b"/><circle cx="740.4" cy="584.6" r="0.95" fill="#16a59b"/><circle cx="740.7" cy="578.9" r="0.95" fill="#16a59b"/><circle cx="739.1" cy="582" r="0.95" fill="#16a59b"/><circle cx="738.2" cy="579.4" r="0.95" fill="#16a59b"/><circle cx="744.5" cy="580.4" r="0.95" fill="#16a59b"/><circle cx="744.1" cy="580.3" r="0.95" fill="#16a59b"/><circle cx="741.8" cy="583.9" r="0.95" fill="#16a59b"/><circle cx="744.3" cy="580.9" r="0.95" fill="#16a59b"/><circle cx="738.1" cy="580.8" r="0.95" fill="#16a59b"/><circle cx="743.4" cy="577.6" r="0.95" fill="#16a59b"/><circle cx="737.4" cy="581.5" r="0.95" fill="#16a59b"/><circle cx="737.1" cy="580.8" r="0.95" fill="#16a59b"/><circle cx="739.9" cy="581.2" r="0.95" fill="#16a59b"/><circle cx="743" cy="584" r="0.95" fill="#16a59b"/><circle cx="742.3" cy="580.4" r="0.95" fill="#16a59b"/><circle cx="744.5" cy="581.4" r="0.95" fill="#16a59b"/><circle cx="738" cy="584.7" r="0.95" fill="#16a59b"/><circle cx="741.6" cy="579.6" r="0.95" fill="#16a59b"/><circle cx="737" cy="584.8" r="0.95" fill="#16a59b"/><circle cx="742.9" cy="582.7" r="0.95" fill="#16a59b"/><circle cx="738.8" cy="579.7" r="0.95" fill="#16a59b"/><circle cx="745.6" cy="583.2" r="0.95" fill="#16a59b"/><circle cx="745.7" cy="579.9" r="0.95" fill="#16a59b"/><circle cx="743.6" cy="579.8" r="0.95" fill="#16a59b"/><circle cx="741.5" cy="583.3" r="0.95" fill="#16a59b"/><circle cx="743.5" cy="583.6" r="0.95" fill="#16a59b"/><circle cx="741.6" cy="584.8" r="0.95" fill="#16a59b"/><circle cx="739.4" cy="584.1" r="0.95" fill="#16a59b"/><circle cx="738.9" cy="582.7" r="0.95" fill="#16a59b"/><circle cx="740.2" cy="583.2" r="0.95" fill="#16a59b"/><circle cx="738.6" cy="577.2" r="0.95" fill="#16a59b"/><circle cx="742.5" cy="584.8" r="0.95" fill="#16a59b"/><circle cx="737.3" cy="578.9" r="0.95" fill="#16a59b"/><circle cx="740.7" cy="583.1" r="0.95" fill="#16a59b"/><circle cx="742.2" cy="574.8" r="0.95" fill="#16a59b"/><circle cx="742.6" cy="583.4" r="0.95" fill="#16a59b"/><circle cx="740.4" cy="584.7" r="0.95" fill="#16a59b"/><circle cx="738.7" cy="583.2" r="0.95" fill="#16a59b"/><circle cx="745.3" cy="576.9" r="0.95" fill="#16a59b"/><circle cx="739.9" cy="583.7" r="0.95" fill="#16a59b"/><circle cx="744.5" cy="580.5" r="0.95" fill="#16a59b"/><circle cx="743.4" cy="583.8" r="0.95" fill="#16a59b"/><circle cx="740.9" cy="576.1" r="0.95" fill="#16a59b"/><circle cx="741.9" cy="580.7" r="0.95" fill="#16a59b"/><circle cx="744.1" cy="579.2" r="0.95" fill="#16a59b"/><circle cx="745.7" cy="584.7" r="0.95" fill="#16a59b"/><circle cx="739.7" cy="584.4" r="0.95" fill="#16a59b"/><circle cx="738" cy="583.8" r="0.95" fill="#16a59b"/><circle cx="744.3" cy="582.9" r="0.95" fill="#16a59b"/><circle cx="742.4" cy="583.3" r="0.95" fill="#16a59b"/><circle cx="741" cy="577.2" r="0.95" fill="#16a59b"/><circle cx="742.5" cy="578.2" r="0.95" fill="#16a59b"/><circle cx="744.1" cy="578" r="0.95" fill="#16a59b"/><circle cx="738.7" cy="574.7" r="0.95" fill="#16a59b"/><circle cx="741.3" cy="581.2" r="0.95" fill="#16a59b"/><circle cx="740.1" cy="584.2" r="0.95" fill="#16a59b"/><circle cx="744" cy="583.5" r="0.95" fill="#16a59b"/><circle cx="744.6" cy="583.6" r="0.95" fill="#16a59b"/><circle cx="744.2" cy="584.8" r="0.95" fill="#16a59b"/><circle cx="740.7" cy="572.5" r="0.95" fill="#16a59b"/><circle cx="737.5" cy="583.4" r="0.95" fill="#16a59b"/><circle cx="742.7" cy="583" r="0.95" fill="#16a59b"/><circle cx="740.3" cy="583.3" r="0.95" fill="#16a59b"/><circle cx="739.2" cy="582" r="0.95" fill="#16a59b"/><circle cx="744.4" cy="582.8" r="0.95" fill="#16a59b"/><circle cx="740.1" cy="577.5" r="0.95" fill="#16a59b"/><circle cx="743.8" cy="575" r="0.95" fill="#16a59b"/><circle cx="745" cy="583.5" r="0.95" fill="#16a59b"/><circle cx="742.1" cy="577.7" r="0.95" fill="#16a59b"/><circle cx="742.7" cy="582.9" r="0.95" fill="#16a59b"/><circle cx="743.6" cy="581.5" r="0.95" fill="#16a59b"/><circle cx="741" cy="574.4" r="0.95" fill="#16a59b"/><circle cx="737.8" cy="578.8" r="0.95" fill="#16a59b"/><circle cx="738.8" cy="581.9" r="0.95" fill="#16a59b"/><circle cx="742.1" cy="578.3" r="0.95" fill="#16a59b"/><circle cx="739.4" cy="571.3" r="0.95" fill="#16a59b"/><circle cx="745.8" cy="574.8" r="0.95" fill="#16a59b"/><circle cx="747.9" cy="581.3" r="0.95" fill="#f99bc9"/><circle cx="752.9" cy="587.1" r="0.95" fill="#f99bc9"/><circle cx="748.7" cy="574.6" r="0.95" fill="#f99bc9"/><circle cx="749.8" cy="580.2" r="0.95" fill="#f99bc9"/><circle cx="752.8" cy="580.8" r="0.95" fill="#f99bc9"/><circle cx="750.3" cy="577.4" r="0.95" fill="#f99bc9"/><circle cx="754.3" cy="586.1" r="0.95" fill="#f99bc9"/><circle cx="748.2" cy="584" r="0.95" fill="#f99bc9"/><circle cx="748.3" cy="584.2" r="0.95" fill="#f99bc9"/><circle cx="747.8" cy="584.4" r="0.95" fill="#f99bc9"/><circle cx="751.7" cy="575.5" r="0.95" fill="#f99bc9"/><circle cx="749.8" cy="586.2" r="0.95" fill="#f99bc9"/><circle cx="755" cy="586" r="0.95" fill="#f99bc9"/><circle cx="750.3" cy="575.7" r="0.95" fill="#f99bc9"/><circle cx="748.7" cy="585" r="0.95" fill="#f99bc9"/><circle cx="748.9" cy="581" r="0.95" fill="#f99bc9"/><circle cx="751.5" cy="585.3" r="0.95" fill="#f99bc9"/><circle cx="755.2" cy="584.5" r="0.95" fill="#f99bc9"/><circle cx="750.4" cy="583.1" r="0.95" fill="#f99bc9"/><circle cx="747.4" cy="585.8" r="0.95" fill="#f99bc9"/><circle cx="749.9" cy="586.4" r="0.95" fill="#f99bc9"/><circle cx="755.1" cy="575.4" r="0.95" fill="#f99bc9"/><circle cx="748.7" cy="582.4" r="0.95" fill="#f99bc9"/><circle cx="748.1" cy="584.1" r="0.95" fill="#f99bc9"/><circle cx="755.1" cy="575.1" r="0.95" fill="#f99bc9"/><circle cx="755.1" cy="586.5" r="0.95" fill="#f99bc9"/><circle cx="754.9" cy="585.4" r="0.95" fill="#f99bc9"/><circle cx="751.9" cy="583" r="0.95" fill="#f99bc9"/><circle cx="753.2" cy="585.5" r="0.95" fill="#f99bc9"/><circle cx="750" cy="586" r="0.95" fill="#f99bc9"/><circle cx="753" cy="575.6" r="0.95" fill="#f99bc9"/><circle cx="752.6" cy="576.9" r="0.95" fill="#f99bc9"/><circle cx="749.9" cy="580.6" r="0.95" fill="#f99bc9"/><circle cx="751.9" cy="583.3" r="0.95" fill="#f99bc9"/><circle cx="749.4" cy="587" r="0.95" fill="#f99bc9"/><circle cx="751.3" cy="586.3" r="0.95" fill="#f99bc9"/><circle cx="754.7" cy="585.5" r="0.95" fill="#f99bc9"/><circle cx="747.7" cy="583" r="0.95" fill="#f99bc9"/><circle cx="750.6" cy="580.8" r="0.95" fill="#f99bc9"/><circle cx="749.8" cy="584.4" r="0.95" fill="#f99bc9"/><circle cx="754.5" cy="578.8" r="0.95" fill="#f99bc9"/><circle cx="749.8" cy="581.8" r="0.95" fill="#f99bc9"/><circle cx="751.1" cy="574.5" r="0.95" fill="#f99bc9"/><circle cx="748.2" cy="581.1" r="0.95" fill="#f99bc9"/><circle cx="751.4" cy="581.8" r="0.95" fill="#f99bc9"/><circle cx="749" cy="585.5" r="0.95" fill="#f99bc9"/><circle cx="751.9" cy="581.4" r="0.95" fill="#f99bc9"/><circle cx="752.6" cy="586.2" r="0.95" fill="#f99bc9"/><circle cx="749.1" cy="586.5" r="0.95" fill="#f99bc9"/><circle cx="755.4" cy="585" r="0.95" fill="#f99bc9"/><circle cx="753.6" cy="583" r="0.95" fill="#f99bc9"/><circle cx="752.5" cy="582.4" r="0.95" fill="#f99bc9"/><circle cx="748.1" cy="586.9" r="0.95" fill="#f99bc9"/><circle cx="754.8" cy="587" r="0.95" fill="#f99bc9"/><circle cx="753.7" cy="579.2" r="0.95" fill="#f99bc9"/><circle cx="748.4" cy="580.1" r="0.95" fill="#f99bc9"/><circle cx="753.3" cy="585.9" r="0.95" fill="#f99bc9"/><circle cx="749.2" cy="584.3" r="0.95" fill="#f99bc9"/><circle cx="751.4" cy="582" r="0.95" fill="#f99bc9"/><circle cx="753.8" cy="583.5" r="0.95" fill="#f99bc9"/><circle cx="754.1" cy="578.1" r="0.95" fill="#f99bc9"/><circle cx="752.5" cy="584.9" r="0.95" fill="#f99bc9"/><circle cx="749.1" cy="584.3" r="0.95" fill="#f99bc9"/><circle cx="751.1" cy="586.9" r="0.95" fill="#f99bc9"/><circle cx="751.6" cy="586.3" r="0.95" fill="#f99bc9"/><circle cx="749.6" cy="586.6" r="0.95" fill="#f99bc9"/><circle cx="750.9" cy="579.6" r="0.95" fill="#f99bc9"/><circle cx="754.9" cy="585.5" r="0.95" fill="#f99bc9"/><circle cx="754.3" cy="582.8" r="0.95" fill="#f99bc9"/><circle cx="747.1" cy="579.1" r="0.95" fill="#f99bc9"/><circle cx="750.3" cy="580.3" r="0.95" fill="#f99bc9"/><circle cx="749.2" cy="576.8" r="0.95" fill="#f99bc9"/><circle cx="750.2" cy="585.5" r="0.95" fill="#f99bc9"/><circle cx="754.6" cy="586.7" r="0.95" fill="#f99bc9"/><circle cx="749.9" cy="582.7" r="0.95" fill="#f99bc9"/><circle cx="749.5" cy="583.4" r="0.95" fill="#f99bc9"/><circle cx="752.4" cy="586.1" r="0.95" fill="#f99bc9"/><circle cx="752.7" cy="570.6" r="0.95" fill="#f99bc9"/><circle cx="754.7" cy="584.6" r="0.95" fill="#f99bc9"/><circle cx="751.7" cy="585.8" r="0.95" fill="#f99bc9"/><circle cx="754.8" cy="586.4" r="0.95" fill="#f99bc9"/><circle cx="751" cy="576.7" r="0.95" fill="#f99bc9"/><circle cx="749.1" cy="582.9" r="0.95" fill="#f99bc9"/><circle cx="751.8" cy="586.9" r="0.95" fill="#f99bc9"/><circle cx="754.7" cy="585.8" r="0.95" fill="#f99bc9"/><circle cx="753.5" cy="585" r="0.95" fill="#f99bc9"/><circle cx="748.8" cy="578.7" r="0.95" fill="#f99bc9"/><circle cx="754" cy="584.9" r="0.95" fill="#f99bc9"/><circle cx="749.8" cy="586.4" r="0.95" fill="#f99bc9"/><circle cx="748.7" cy="584.5" r="0.95" fill="#f99bc9"/><circle cx="748.5" cy="585.6" r="0.95" fill="#f99bc9"/><circle cx="754.4" cy="578.8" r="0.95" fill="#f99bc9"/><circle cx="750.9" cy="582.6" r="0.95" fill="#f99bc9"/><circle cx="750.3" cy="581.1" r="0.95" fill="#f99bc9"/><circle cx="748.3" cy="584.2" r="0.95" fill="#f99bc9"/><circle cx="761.8" cy="578.7" r="0.95" fill="#ff5c21"/><circle cx="757.6" cy="586" r="0.95" fill="#ff5c21"/><circle cx="758.9" cy="583.7" r="0.95" fill="#ff5c21"/><circle cx="762" cy="585.6" r="0.95" fill="#ff5c21"/><circle cx="757.1" cy="579.8" r="0.95" fill="#ff5c21"/><circle cx="760.4" cy="582.8" r="0.95" fill="#ff5c21"/><circle cx="760.4" cy="571.7" r="0.95" fill="#ff5c21"/><circle cx="761.1" cy="585.1" r="0.95" fill="#ff5c21"/><circle cx="762.1" cy="584.8" r="0.95" fill="#ff5c21"/><circle cx="758.7" cy="574.4" r="0.95" fill="#ff5c21"/><circle cx="763.3" cy="585" r="0.95" fill="#ff5c21"/><circle cx="760.7" cy="586.3" r="0.95" fill="#ff5c21"/><circle cx="761" cy="581.1" r="0.95" fill="#ff5c21"/><circle cx="758.3" cy="584.7" r="0.95" fill="#ff5c21"/><circle cx="761.4" cy="579.9" r="0.95" fill="#ff5c21"/><circle cx="760.8" cy="585.3" r="0.95" fill="#ff5c21"/><circle cx="759.1" cy="584.3" r="0.95" fill="#ff5c21"/><circle cx="764.7" cy="583.2" r="0.95" fill="#ff5c21"/><circle cx="764.2" cy="582.7" r="0.95" fill="#ff5c21"/><circle cx="763.3" cy="572.9" r="0.95" fill="#ff5c21"/><circle cx="762.1" cy="577.3" r="0.95" fill="#ff5c21"/><circle cx="764" cy="582.5" r="0.95" fill="#ff5c21"/><circle cx="759.3" cy="585.2" r="0.95" fill="#ff5c21"/><circle cx="760.9" cy="582.7" r="0.95" fill="#ff5c21"/><circle cx="764" cy="568" r="0.95" fill="#ff5c21"/><circle cx="762.5" cy="573.3" r="0.95" fill="#ff5c21"/><circle cx="764.3" cy="583.6" r="0.95" fill="#ff5c21"/><circle cx="756.6" cy="581.2" r="0.95" fill="#ff5c21"/><circle cx="757.5" cy="579.4" r="0.95" fill="#ff5c21"/><circle cx="764.1" cy="567.2" r="0.95" fill="#ff5c21"/><circle cx="764.8" cy="585.6" r="0.95" fill="#ff5c21"/><circle cx="763.8" cy="580.4" r="0.95" fill="#ff5c21"/><circle cx="759.9" cy="584.1" r="0.95" fill="#ff5c21"/><circle cx="756.8" cy="583" r="0.95" fill="#ff5c21"/><circle cx="762.6" cy="586.1" r="0.95" fill="#ff5c21"/><circle cx="758.5" cy="584" r="0.95" fill="#ff5c21"/><circle cx="760.9" cy="584.5" r="0.95" fill="#ff5c21"/><circle cx="763.5" cy="573.1" r="0.95" fill="#ff5c21"/><circle cx="758.9" cy="586.1" r="0.95" fill="#ff5c21"/><circle cx="756.6" cy="581.5" r="0.95" fill="#ff5c21"/><circle cx="756.7" cy="586.1" r="0.95" fill="#ff5c21"/><circle cx="764" cy="586.3" r="0.95" fill="#ff5c21"/><circle cx="763.2" cy="574.3" r="0.95" fill="#ff5c21"/><circle cx="758.9" cy="574" r="0.95" fill="#ff5c21"/><circle cx="763.3" cy="586" r="0.95" fill="#ff5c21"/><circle cx="764.3" cy="583.9" r="0.95" fill="#ff5c21"/><circle cx="759.7" cy="575.3" r="0.95" fill="#ff5c21"/><circle cx="759.9" cy="582.5" r="0.95" fill="#ff5c21"/><circle cx="764.4" cy="579" r="0.95" fill="#ff5c21"/><circle cx="759.6" cy="582.4" r="0.95" fill="#ff5c21"/><circle cx="757.8" cy="581.3" r="0.95" fill="#ff5c21"/><circle cx="763.9" cy="585.9" r="0.95" fill="#ff5c21"/><circle cx="762.4" cy="580.8" r="0.95" fill="#ff5c21"/><circle cx="760.5" cy="580" r="0.95" fill="#ff5c21"/><circle cx="759.5" cy="585.9" r="0.95" fill="#ff5c21"/><circle cx="758.9" cy="570.5" r="0.95" fill="#ff5c21"/><circle cx="760.7" cy="579.8" r="0.95" fill="#ff5c21"/><circle cx="762.2" cy="584.2" r="0.95" fill="#ff5c21"/><circle cx="757.4" cy="576.1" r="0.95" fill="#ff5c21"/><circle cx="760.4" cy="573.4" r="0.95" fill="#ff5c21"/><circle cx="757.7" cy="581.2" r="0.95" fill="#ff5c21"/><circle cx="763.7" cy="582.6" r="0.95" fill="#ff5c21"/><circle cx="761.7" cy="584.6" r="0.95" fill="#ff5c21"/><circle cx="758.4" cy="578.4" r="0.95" fill="#ff5c21"/><circle cx="760.4" cy="572" r="0.95" fill="#ff5c21"/><circle cx="762.1" cy="581.8" r="0.95" fill="#ff5c21"/><circle cx="761.2" cy="585.4" r="0.95" fill="#ff5c21"/><circle cx="761.2" cy="585.2" r="0.95" fill="#ff5c21"/><circle cx="764.7" cy="577.9" r="0.95" fill="#ff5c21"/><circle cx="758.7" cy="585.3" r="0.95" fill="#ff5c21"/><circle cx="757.3" cy="583" r="0.95" fill="#ff5c21"/><circle cx="760.4" cy="579.9" r="0.95" fill="#ff5c21"/><circle cx="763.3" cy="585.2" r="0.95" fill="#ff5c21"/><circle cx="760.4" cy="584" r="0.95" fill="#ff5c21"/><circle cx="758" cy="579.3" r="0.95" fill="#ff5c21"/><circle cx="761.4" cy="585.6" r="0.95" fill="#ff5c21"/><circle cx="758.6" cy="585.7" r="0.95" fill="#ff5c21"/><circle cx="764.6" cy="580.8" r="0.95" fill="#ff5c21"/><circle cx="764.6" cy="585.4" r="0.95" fill="#ff5c21"/><circle cx="756.7" cy="567.6" r="0.95" fill="#ff5c21"/><circle cx="763.9" cy="579.7" r="0.95" fill="#ff5c21"/><circle cx="764" cy="573.5" r="0.95" fill="#ff5c21"/><circle cx="762.3" cy="583.6" r="0.95" fill="#ff5c21"/><circle cx="759.6" cy="578.2" r="0.95" fill="#ff5c21"/><circle cx="759" cy="584.1" r="0.95" fill="#ff5c21"/><circle cx="759.8" cy="585.5" r="0.95" fill="#ff5c21"/><circle cx="760.5" cy="581" r="0.95" fill="#ff5c21"/><circle cx="757.2" cy="585.7" r="0.95" fill="#ff5c21"/><circle cx="764" cy="585.1" r="0.95" fill="#ff5c21"/><circle cx="758" cy="584" r="0.95" fill="#ff5c21"/><circle cx="762.6" cy="584.3" r="0.95" fill="#ff5c21"/><circle cx="759.5" cy="579.9" r="0.95" fill="#ff5c21"/><circle cx="762.9" cy="575.2" r="0.95" fill="#ff5c21"/><circle cx="763.5" cy="585.8" r="0.95" fill="#ff5c21"/><circle cx="774.7" cy="585.9" r="0.95" fill="#ffc40f"/><circle cx="774.2" cy="582.9" r="0.95" fill="#ffc40f"/><circle cx="768.1" cy="584" r="0.95" fill="#ffc40f"/><circle cx="769.6" cy="575.1" r="0.95" fill="#ffc40f"/><circle cx="774.2" cy="585.5" r="0.95" fill="#ffc40f"/><circle cx="772.6" cy="584.7" r="0.95" fill="#ffc40f"/><circle cx="768.3" cy="586.5" r="0.95" fill="#ffc40f"/><circle cx="767.2" cy="586.3" r="0.95" fill="#ffc40f"/><circle cx="770.3" cy="587.7" r="0.95" fill="#ffc40f"/><circle cx="772.3" cy="584.6" r="0.95" fill="#ffc40f"/><circle cx="766.1" cy="582.3" r="0.95" fill="#ffc40f"/><circle cx="772.1" cy="582.8" r="0.95" fill="#ffc40f"/><circle cx="771.2" cy="577.1" r="0.95" fill="#ffc40f"/><circle cx="774.5" cy="587" r="0.95" fill="#ffc40f"/><circle cx="766.2" cy="577.4" r="0.95" fill="#ffc40f"/><circle cx="771.8" cy="579.6" r="0.95" fill="#ffc40f"/><circle cx="769.1" cy="587.5" r="0.95" fill="#ffc40f"/><circle cx="766.6" cy="584.9" r="0.95" fill="#ffc40f"/><circle cx="770.9" cy="582.9" r="0.95" fill="#ffc40f"/><circle cx="766.7" cy="586.2" r="0.95" fill="#ffc40f"/><circle cx="769.7" cy="582.7" r="0.95" fill="#ffc40f"/><circle cx="773.5" cy="584.8" r="0.95" fill="#ffc40f"/><circle cx="771.1" cy="587.1" r="0.95" fill="#ffc40f"/><circle cx="767.5" cy="578" r="0.95" fill="#ffc40f"/><circle cx="774.1" cy="576.1" r="0.95" fill="#ffc40f"/><circle cx="773.7" cy="573.8" r="0.95" fill="#ffc40f"/><circle cx="768.5" cy="584.3" r="0.95" fill="#ffc40f"/><circle cx="766.7" cy="586.1" r="0.95" fill="#ffc40f"/><circle cx="771.7" cy="585.1" r="0.95" fill="#ffc40f"/><circle cx="766" cy="587.6" r="0.95" fill="#ffc40f"/><circle cx="766.3" cy="585.5" r="0.95" fill="#ffc40f"/><circle cx="774.3" cy="586.9" r="0.95" fill="#ffc40f"/><circle cx="771" cy="582.4" r="0.95" fill="#ffc40f"/><circle cx="767.4" cy="584.5" r="0.95" fill="#ffc40f"/><circle cx="768" cy="581.2" r="0.95" fill="#ffc40f"/><circle cx="774.9" cy="587.1" r="0.95" fill="#ffc40f"/><circle cx="767.9" cy="587.5" r="0.95" fill="#ffc40f"/><circle cx="769.7" cy="577.6" r="0.95" fill="#ffc40f"/><circle cx="766" cy="585.3" r="0.95" fill="#ffc40f"/><circle cx="767" cy="583.1" r="0.95" fill="#ffc40f"/><circle cx="772.3" cy="576" r="0.95" fill="#ffc40f"/><circle cx="767" cy="578.2" r="0.95" fill="#ffc40f"/><circle cx="766.3" cy="587.7" r="0.95" fill="#ffc40f"/><circle cx="771.5" cy="586.7" r="0.95" fill="#ffc40f"/><circle cx="766.3" cy="586.3" r="0.95" fill="#ffc40f"/><circle cx="772.3" cy="581.7" r="0.95" fill="#ffc40f"/><circle cx="770" cy="582.8" r="0.95" fill="#ffc40f"/><circle cx="767.4" cy="587" r="0.95" fill="#ffc40f"/><circle cx="766.2" cy="581.3" r="0.95" fill="#ffc40f"/><circle cx="772" cy="585.2" r="0.95" fill="#ffc40f"/><circle cx="768.7" cy="575.1" r="0.95" fill="#ffc40f"/><circle cx="772.2" cy="587.5" r="0.95" fill="#ffc40f"/><circle cx="769.9" cy="584.6" r="0.95" fill="#ffc40f"/><circle cx="768.5" cy="586.5" r="0.95" fill="#ffc40f"/><circle cx="772.1" cy="581.6" r="0.95" fill="#ffc40f"/><circle cx="774.5" cy="584.8" r="0.95" fill="#ffc40f"/><circle cx="771.2" cy="584.3" r="0.95" fill="#ffc40f"/><circle cx="773.5" cy="575.8" r="0.95" fill="#ffc40f"/><circle cx="766.5" cy="586.2" r="0.95" fill="#ffc40f"/><circle cx="771.4" cy="587.2" r="0.95" fill="#ffc40f"/><circle cx="772.5" cy="578.5" r="0.95" fill="#ffc40f"/><circle cx="770.1" cy="581.1" r="0.95" fill="#ffc40f"/><circle cx="769.5" cy="587.4" r="0.95" fill="#ffc40f"/><circle cx="766.8" cy="585.3" r="0.95" fill="#ffc40f"/><circle cx="771.9" cy="586.7" r="0.95" fill="#ffc40f"/><circle cx="766.7" cy="577.2" r="0.95" fill="#ffc40f"/><circle cx="772.1" cy="576.4" r="0.95" fill="#ffc40f"/><circle cx="774.2" cy="578.2" r="0.95" fill="#ffc40f"/><circle cx="771.8" cy="581.8" r="0.95" fill="#ffc40f"/><circle cx="769.7" cy="587" r="0.95" fill="#ffc40f"/><circle cx="770.9" cy="576.4" r="0.95" fill="#ffc40f"/><circle cx="774.6" cy="582.4" r="0.95" fill="#ffc40f"/><circle cx="769" cy="587.1" r="0.95" fill="#ffc40f"/><circle cx="774.3" cy="576.1" r="0.95" fill="#ffc40f"/><circle cx="767.9" cy="586.8" r="0.95" fill="#ffc40f"/><circle cx="768.5" cy="576.5" r="0.95" fill="#ffc40f"/><circle cx="773.8" cy="583.4" r="0.95" fill="#ffc40f"/><circle cx="772.2" cy="582.7" r="0.95" fill="#ffc40f"/><circle cx="768" cy="583.7" r="0.95" fill="#ffc40f"/><circle cx="769.2" cy="585.6" r="0.95" fill="#ffc40f"/><circle cx="768.3" cy="566.9" r="0.95" fill="#ffc40f"/><circle cx="767.5" cy="581.3" r="0.95" fill="#ffc40f"/><circle cx="768.8" cy="587.6" r="0.95" fill="#ffc40f"/><circle cx="766.3" cy="573.8" r="0.95" fill="#ffc40f"/><circle cx="766.8" cy="587.4" r="0.95" fill="#ffc40f"/><circle cx="765.9" cy="584.4" r="0.95" fill="#ffc40f"/><circle cx="774.7" cy="583.6" r="0.95" fill="#ffc40f"/><circle cx="767.4" cy="583.8" r="0.95" fill="#ffc40f"/><circle cx="770.2" cy="586.7" r="0.95" fill="#ffc40f"/><circle cx="766.5" cy="577.4" r="0.95" fill="#ffc40f"/><circle cx="766.4" cy="576.1" r="0.95" fill="#ffc40f"/><circle cx="772.9" cy="587" r="0.95" fill="#ffc40f"/><circle cx="766.3" cy="583.6" r="0.95" fill="#ffc40f"/><circle cx="767.6" cy="586.7" r="0.95" fill="#ffc40f"/><circle cx="782.5" cy="585.8" r="0.95" fill="#7030a0"/><circle cx="778" cy="577.7" r="0.95" fill="#7030a0"/><circle cx="776.5" cy="583.6" r="0.95" fill="#7030a0"/><circle cx="777.1" cy="584.2" r="0.95" fill="#7030a0"/><circle cx="783.6" cy="578.5" r="0.95" fill="#7030a0"/><circle cx="778.5" cy="584.2" r="0.95" fill="#7030a0"/><circle cx="782.4" cy="579.9" r="0.95" fill="#7030a0"/><circle cx="778.3" cy="585.7" r="0.95" fill="#7030a0"/><circle cx="780.7" cy="584.7" r="0.95" fill="#7030a0"/><circle cx="781.1" cy="580.1" r="0.95" fill="#7030a0"/><circle cx="779.3" cy="579.1" r="0.95" fill="#7030a0"/><circle cx="782.3" cy="577.7" r="0.95" fill="#7030a0"/><circle cx="784.6" cy="581.6" r="0.95" fill="#7030a0"/><circle cx="782" cy="582.5" r="0.95" fill="#7030a0"/><circle cx="776" cy="584.1" r="0.95" fill="#7030a0"/><circle cx="783.2" cy="582" r="0.95" fill="#7030a0"/><circle cx="778.5" cy="585.2" r="0.95" fill="#7030a0"/><circle cx="776.1" cy="583.5" r="0.95" fill="#7030a0"/><circle cx="777.6" cy="583.6" r="0.95" fill="#7030a0"/><circle cx="778.8" cy="585.7" r="0.95" fill="#7030a0"/><circle cx="777.3" cy="578.7" r="0.95" fill="#7030a0"/><circle cx="783.1" cy="576.2" r="0.95" fill="#7030a0"/><circle cx="777.5" cy="581.7" r="0.95" fill="#7030a0"/><circle cx="784.1" cy="582.8" r="0.95" fill="#7030a0"/><circle cx="778.2" cy="585.9" r="0.95" fill="#7030a0"/><circle cx="781.1" cy="581" r="0.95" fill="#7030a0"/><circle cx="778.4" cy="575.6" r="0.95" fill="#7030a0"/><circle cx="780.3" cy="583.8" r="0.95" fill="#7030a0"/><circle cx="781.2" cy="581.8" r="0.95" fill="#7030a0"/><circle cx="777.2" cy="581.3" r="0.95" fill="#7030a0"/><circle cx="783" cy="580.6" r="0.95" fill="#7030a0"/><circle cx="780.2" cy="584.8" r="0.95" fill="#7030a0"/><circle cx="784.5" cy="579.2" r="0.95" fill="#7030a0"/><circle cx="782.9" cy="584.7" r="0.95" fill="#7030a0"/><circle cx="781" cy="584.5" r="0.95" fill="#7030a0"/><circle cx="783.9" cy="581.6" r="0.95" fill="#7030a0"/><circle cx="783.4" cy="583.2" r="0.95" fill="#7030a0"/><circle cx="783.4" cy="576.5" r="0.95" fill="#7030a0"/><circle cx="781.9" cy="574.1" r="0.95" fill="#7030a0"/><circle cx="783.8" cy="582.7" r="0.95" fill="#7030a0"/><circle cx="778.2" cy="583.9" r="0.95" fill="#7030a0"/><circle cx="780.6" cy="580.4" r="0.95" fill="#7030a0"/><circle cx="783" cy="584.9" r="0.95" fill="#7030a0"/><circle cx="777.6" cy="579.8" r="0.95" fill="#7030a0"/><circle cx="782.8" cy="585" r="0.95" fill="#7030a0"/><circle cx="779.1" cy="581.9" r="0.95" fill="#7030a0"/><circle cx="781.1" cy="573.9" r="0.95" fill="#7030a0"/><circle cx="778.6" cy="583.9" r="0.95" fill="#7030a0"/><circle cx="782.1" cy="584.3" r="0.95" fill="#7030a0"/><circle cx="781.9" cy="573.2" r="0.95" fill="#7030a0"/><circle cx="782.8" cy="585.4" r="0.95" fill="#7030a0"/><circle cx="783.2" cy="585.3" r="0.95" fill="#7030a0"/><circle cx="778.1" cy="582.2" r="0.95" fill="#7030a0"/><circle cx="778.1" cy="582.5" r="0.95" fill="#7030a0"/><circle cx="784.1" cy="584.9" r="0.95" fill="#7030a0"/><circle cx="779.6" cy="583.5" r="0.95" fill="#7030a0"/><circle cx="782.8" cy="581.5" r="0.95" fill="#7030a0"/><circle cx="781.1" cy="572" r="0.95" fill="#7030a0"/><circle cx="778.4" cy="584.6" r="0.95" fill="#7030a0"/><circle cx="784.1" cy="581.5" r="0.95" fill="#7030a0"/><circle cx="778.3" cy="583" r="0.95" fill="#7030a0"/><circle cx="776.9" cy="577.6" r="0.95" fill="#7030a0"/><circle cx="778.3" cy="582.8" r="0.95" fill="#7030a0"/><circle cx="780.3" cy="583.8" r="0.95" fill="#7030a0"/><circle cx="776.6" cy="583" r="0.95" fill="#7030a0"/><circle cx="778.7" cy="576" r="0.95" fill="#7030a0"/><circle cx="779.3" cy="585.7" r="0.95" fill="#7030a0"/><circle cx="781.6" cy="579.5" r="0.95" fill="#7030a0"/><circle cx="778.5" cy="584.6" r="0.95" fill="#7030a0"/><circle cx="778.4" cy="582.7" r="0.95" fill="#7030a0"/><circle cx="778.3" cy="582.5" r="0.95" fill="#7030a0"/><circle cx="778.4" cy="581.5" r="0.95" fill="#7030a0"/><circle cx="783.9" cy="585.2" r="0.95" fill="#7030a0"/><circle cx="783.3" cy="579.4" r="0.95" fill="#7030a0"/><circle cx="779.9" cy="581.6" r="0.95" fill="#7030a0"/><circle cx="779.3" cy="585.1" r="0.95" fill="#7030a0"/><circle cx="776.5" cy="580.9" r="0.95" fill="#7030a0"/><circle cx="777.5" cy="585.6" r="0.95" fill="#7030a0"/><circle cx="784.2" cy="581.8" r="0.95" fill="#7030a0"/><circle cx="777.6" cy="579.6" r="0.95" fill="#7030a0"/><circle cx="780.3" cy="585.6" r="0.95" fill="#7030a0"/><circle cx="784.2" cy="582.2" r="0.95" fill="#7030a0"/><circle cx="777.9" cy="580.2" r="0.95" fill="#7030a0"/><circle cx="776.9" cy="586.1" r="0.95" fill="#7030a0"/><circle cx="781.5" cy="581.4" r="0.95" fill="#7030a0"/><circle cx="780.4" cy="553.7" r="0.95" fill="#7030a0"/><circle cx="776.1" cy="583.3" r="0.95" fill="#7030a0"/><circle cx="784.1" cy="574.5" r="0.95" fill="#7030a0"/><circle cx="779.2" cy="585.3" r="0.95" fill="#7030a0"/><circle cx="780.9" cy="583.6" r="0.95" fill="#7030a0"/><circle cx="781.2" cy="582.6" r="0.95" fill="#7030a0"/><circle cx="776.8" cy="578.5" r="0.95" fill="#7030a0"/><circle cx="781.2" cy="580.3" r="0.95" fill="#7030a0"/><circle cx="783.6" cy="583.5" r="0.95" fill="#7030a0"/><circle cx="777.2" cy="582.4" r="0.95" fill="#7030a0"/><circle cx="788.8" cy="587.3" r="0.95" fill="#16a59b"/><circle cx="786.3" cy="586.8" r="0.95" fill="#16a59b"/><circle cx="791.5" cy="582.1" r="0.95" fill="#16a59b"/><circle cx="789.1" cy="580.3" r="0.95" fill="#16a59b"/><circle cx="794.2" cy="581.4" r="0.95" fill="#16a59b"/><circle cx="789.4" cy="584.9" r="0.95" fill="#16a59b"/><circle cx="789.4" cy="586.2" r="0.95" fill="#16a59b"/><circle cx="793.6" cy="587" r="0.95" fill="#16a59b"/><circle cx="790.2" cy="586.1" r="0.95" fill="#16a59b"/><circle cx="789.5" cy="585" r="0.95" fill="#16a59b"/><circle cx="794.7" cy="584.9" r="0.95" fill="#16a59b"/><circle cx="789.7" cy="576" r="0.95" fill="#16a59b"/><circle cx="791.9" cy="586.2" r="0.95" fill="#16a59b"/><circle cx="790.4" cy="575.2" r="0.95" fill="#16a59b"/><circle cx="789.3" cy="585.4" r="0.95" fill="#16a59b"/><circle cx="794.4" cy="578.6" r="0.95" fill="#16a59b"/><circle cx="787.2" cy="582.3" r="0.95" fill="#16a59b"/><circle cx="788.7" cy="584.9" r="0.95" fill="#16a59b"/><circle cx="788.2" cy="586.2" r="0.95" fill="#16a59b"/><circle cx="788.9" cy="580.9" r="0.95" fill="#16a59b"/><circle cx="789.2" cy="577.4" r="0.95" fill="#16a59b"/><circle cx="789.3" cy="586.8" r="0.95" fill="#16a59b"/><circle cx="793.9" cy="585.8" r="0.95" fill="#16a59b"/><circle cx="792.9" cy="580.5" r="0.95" fill="#16a59b"/><circle cx="792.4" cy="581.7" r="0.95" fill="#16a59b"/><circle cx="788" cy="583.8" r="0.95" fill="#16a59b"/><circle cx="789.7" cy="582.9" r="0.95" fill="#16a59b"/><circle cx="787.8" cy="585.6" r="0.95" fill="#16a59b"/><circle cx="786.6" cy="579.2" r="0.95" fill="#16a59b"/><circle cx="787.6" cy="579" r="0.95" fill="#16a59b"/><circle cx="793.2" cy="585" r="0.95" fill="#16a59b"/><circle cx="786.5" cy="584.6" r="0.95" fill="#16a59b"/><circle cx="786" cy="576.3" r="0.95" fill="#16a59b"/><circle cx="787.6" cy="572.3" r="0.95" fill="#16a59b"/><circle cx="792" cy="582.2" r="0.95" fill="#16a59b"/><circle cx="791.6" cy="584" r="0.95" fill="#16a59b"/><circle cx="791.9" cy="573" r="0.95" fill="#16a59b"/><circle cx="790.4" cy="578.8" r="0.95" fill="#16a59b"/><circle cx="791.7" cy="585.8" r="0.95" fill="#16a59b"/><circle cx="793.4" cy="582.6" r="0.95" fill="#16a59b"/><circle cx="791.3" cy="586.7" r="0.95" fill="#16a59b"/><circle cx="792.8" cy="585.9" r="0.95" fill="#16a59b"/><circle cx="787.7" cy="586.7" r="0.95" fill="#16a59b"/><circle cx="787.2" cy="568" r="0.95" fill="#16a59b"/><circle cx="791.3" cy="580.1" r="0.95" fill="#16a59b"/><circle cx="791.5" cy="583.9" r="0.95" fill="#16a59b"/><circle cx="794.2" cy="587.1" r="0.95" fill="#16a59b"/><circle cx="788.6" cy="572.3" r="0.95" fill="#16a59b"/><circle cx="791.8" cy="578.2" r="0.95" fill="#16a59b"/><circle cx="791.5" cy="578.5" r="0.95" fill="#16a59b"/><circle cx="788.7" cy="575.1" r="0.95" fill="#16a59b"/><circle cx="792.5" cy="586.7" r="0.95" fill="#16a59b"/><circle cx="786.7" cy="577.2" r="0.95" fill="#16a59b"/><circle cx="789.2" cy="584.5" r="0.95" fill="#16a59b"/><circle cx="792.6" cy="586.1" r="0.95" fill="#16a59b"/><circle cx="793.3" cy="585.9" r="0.95" fill="#16a59b"/><circle cx="791.1" cy="586.4" r="0.95" fill="#16a59b"/><circle cx="787.8" cy="587" r="0.95" fill="#16a59b"/><circle cx="786.8" cy="587.1" r="0.95" fill="#16a59b"/><circle cx="791.9" cy="573" r="0.95" fill="#16a59b"/><circle cx="792.7" cy="586.4" r="0.95" fill="#16a59b"/><circle cx="789.3" cy="581.4" r="0.95" fill="#16a59b"/><circle cx="792.4" cy="585.2" r="0.95" fill="#16a59b"/><circle cx="793.9" cy="584.3" r="0.95" fill="#16a59b"/><circle cx="792.2" cy="586.1" r="0.95" fill="#16a59b"/><circle cx="794.7" cy="585.1" r="0.95" fill="#16a59b"/><circle cx="789.6" cy="583.5" r="0.95" fill="#16a59b"/><circle cx="786.3" cy="584.9" r="0.95" fill="#16a59b"/><circle cx="786.6" cy="583.8" r="0.95" fill="#16a59b"/><circle cx="789.9" cy="583" r="0.95" fill="#16a59b"/><circle cx="790.3" cy="581" r="0.95" fill="#16a59b"/><circle cx="794.3" cy="586.1" r="0.95" fill="#16a59b"/><circle cx="789" cy="582.1" r="0.95" fill="#16a59b"/><circle cx="791.5" cy="585.4" r="0.95" fill="#16a59b"/><circle cx="787.9" cy="586.8" r="0.95" fill="#16a59b"/><circle cx="787.4" cy="582.7" r="0.95" fill="#16a59b"/><circle cx="785.7" cy="574" r="0.95" fill="#16a59b"/><circle cx="788.4" cy="579.3" r="0.95" fill="#16a59b"/><circle cx="786.8" cy="586.5" r="0.95" fill="#16a59b"/><circle cx="789.5" cy="585.6" r="0.95" fill="#16a59b"/><circle cx="790.9" cy="583.8" r="0.95" fill="#16a59b"/><circle cx="792" cy="586.6" r="0.95" fill="#16a59b"/><circle cx="786.9" cy="586.5" r="0.95" fill="#16a59b"/><circle cx="794.4" cy="581" r="0.95" fill="#16a59b"/><circle cx="790.7" cy="587.4" r="0.95" fill="#16a59b"/><circle cx="793" cy="575.3" r="0.95" fill="#16a59b"/><circle cx="793.5" cy="584.9" r="0.95" fill="#16a59b"/><circle cx="787.3" cy="584.7" r="0.95" fill="#16a59b"/><circle cx="792.2" cy="585.2" r="0.95" fill="#16a59b"/><circle cx="793.6" cy="582.2" r="0.95" fill="#16a59b"/><circle cx="789.3" cy="582.4" r="0.95" fill="#16a59b"/><circle cx="793.6" cy="582.3" r="0.95" fill="#16a59b"/><circle cx="787" cy="582.4" r="0.95" fill="#16a59b"/><circle cx="787.9" cy="587.3" r="0.95" fill="#16a59b"/><circle cx="791.9" cy="575.8" r="0.95" fill="#16a59b"/><circle cx="801" cy="581.4" r="0.95" fill="#f99bc9"/><circle cx="798.1" cy="587.1" r="0.95" fill="#f99bc9"/><circle cx="801.3" cy="582.4" r="0.95" fill="#f99bc9"/><circle cx="799.7" cy="587.4" r="0.95" fill="#f99bc9"/><circle cx="803.7" cy="580.7" r="0.95" fill="#f99bc9"/><circle cx="800.8" cy="581.6" r="0.95" fill="#f99bc9"/><circle cx="801.2" cy="579.6" r="0.95" fill="#f99bc9"/><circle cx="799.3" cy="566.1" r="0.95" fill="#f99bc9"/><circle cx="799.8" cy="585.4" r="0.95" fill="#f99bc9"/><circle cx="803.4" cy="587" r="0.95" fill="#f99bc9"/><circle cx="803" cy="577.1" r="0.95" fill="#f99bc9"/><circle cx="796.3" cy="576.8" r="0.95" fill="#f99bc9"/><circle cx="798.1" cy="585.7" r="0.95" fill="#f99bc9"/><circle cx="802.2" cy="587.5" r="0.95" fill="#f99bc9"/><circle cx="803.1" cy="578.7" r="0.95" fill="#f99bc9"/><circle cx="801.7" cy="581" r="0.95" fill="#f99bc9"/><circle cx="798.1" cy="574.6" r="0.95" fill="#f99bc9"/><circle cx="803.2" cy="580.4" r="0.95" fill="#f99bc9"/><circle cx="799.4" cy="583.9" r="0.95" fill="#f99bc9"/><circle cx="798.5" cy="580.8" r="0.95" fill="#f99bc9"/><circle cx="801.3" cy="584.5" r="0.95" fill="#f99bc9"/><circle cx="804.4" cy="583.3" r="0.95" fill="#f99bc9"/><circle cx="802.2" cy="586.7" r="0.95" fill="#f99bc9"/><circle cx="804.7" cy="584.2" r="0.95" fill="#f99bc9"/><circle cx="800.9" cy="586.6" r="0.95" fill="#f99bc9"/><circle cx="803.6" cy="586.3" r="0.95" fill="#f99bc9"/><circle cx="799.1" cy="585.8" r="0.95" fill="#f99bc9"/><circle cx="802.1" cy="585.9" r="0.95" fill="#f99bc9"/><circle cx="796.8" cy="580.1" r="0.95" fill="#f99bc9"/><circle cx="801.3" cy="585.4" r="0.95" fill="#f99bc9"/><circle cx="803.9" cy="570.8" r="0.95" fill="#f99bc9"/><circle cx="803.1" cy="587.7" r="0.95" fill="#f99bc9"/><circle cx="798.8" cy="587.6" r="0.95" fill="#f99bc9"/><circle cx="801" cy="583.7" r="0.95" fill="#f99bc9"/><circle cx="800.7" cy="585.9" r="0.95" fill="#f99bc9"/><circle cx="801.3" cy="586.8" r="0.95" fill="#f99bc9"/><circle cx="796.2" cy="585.1" r="0.95" fill="#f99bc9"/><circle cx="801.9" cy="575" r="0.95" fill="#f99bc9"/><circle cx="801.3" cy="580" r="0.95" fill="#f99bc9"/><circle cx="796.1" cy="587.5" r="0.95" fill="#f99bc9"/><circle cx="801.5" cy="581.5" r="0.95" fill="#f99bc9"/><circle cx="797.3" cy="581.3" r="0.95" fill="#f99bc9"/><circle cx="797.9" cy="585.8" r="0.95" fill="#f99bc9"/><circle cx="800" cy="571.4" r="0.95" fill="#f99bc9"/><circle cx="799.1" cy="586.6" r="0.95" fill="#f99bc9"/><circle cx="798.8" cy="585.4" r="0.95" fill="#f99bc9"/><circle cx="800" cy="584" r="0.95" fill="#f99bc9"/><circle cx="798.3" cy="583.8" r="0.95" fill="#f99bc9"/><circle cx="800.8" cy="570.8" r="0.95" fill="#f99bc9"/><circle cx="800.8" cy="582.6" r="0.95" fill="#f99bc9"/><circle cx="798.2" cy="581.9" r="0.95" fill="#f99bc9"/><circle cx="795.9" cy="587" r="0.95" fill="#f99bc9"/><circle cx="796.5" cy="584" r="0.95" fill="#f99bc9"/><circle cx="803.1" cy="587.3" r="0.95" fill="#f99bc9"/><circle cx="801" cy="585.7" r="0.95" fill="#f99bc9"/><circle cx="798.7" cy="587.3" r="0.95" fill="#f99bc9"/><circle cx="803.5" cy="587.7" r="0.95" fill="#f99bc9"/><circle cx="796.7" cy="586.3" r="0.95" fill="#f99bc9"/><circle cx="796.2" cy="586.9" r="0.95" fill="#f99bc9"/><circle cx="798.2" cy="586.7" r="0.95" fill="#f99bc9"/><circle cx="798.5" cy="587.4" r="0.95" fill="#f99bc9"/><circle cx="803.6" cy="573.3" r="0.95" fill="#f99bc9"/><circle cx="799.7" cy="583.1" r="0.95" fill="#f99bc9"/><circle cx="804.1" cy="586.1" r="0.95" fill="#f99bc9"/><circle cx="803.3" cy="587.7" r="0.95" fill="#f99bc9"/><circle cx="802.1" cy="580.9" r="0.95" fill="#f99bc9"/><circle cx="802" cy="587.2" r="0.95" fill="#f99bc9"/><circle cx="803.1" cy="584.6" r="0.95" fill="#f99bc9"/><circle cx="796" cy="584.6" r="0.95" fill="#f99bc9"/><circle cx="804.7" cy="586.8" r="0.95" fill="#f99bc9"/><circle cx="802" cy="584.8" r="0.95" fill="#f99bc9"/><circle cx="800.9" cy="581.9" r="0.95" fill="#f99bc9"/><circle cx="802.2" cy="579.4" r="0.95" fill="#f99bc9"/><circle cx="802.3" cy="575.9" r="0.95" fill="#f99bc9"/><circle cx="803.8" cy="578" r="0.95" fill="#f99bc9"/><circle cx="803.6" cy="583.9" r="0.95" fill="#f99bc9"/><circle cx="803.1" cy="587.3" r="0.95" fill="#f99bc9"/><circle cx="802.1" cy="584.8" r="0.95" fill="#f99bc9"/><circle cx="797.1" cy="587.6" r="0.95" fill="#f99bc9"/><circle cx="801.8" cy="585.8" r="0.95" fill="#f99bc9"/><circle cx="799.7" cy="587.6" r="0.95" fill="#f99bc9"/><circle cx="799.3" cy="571.8" r="0.95" fill="#f99bc9"/><circle cx="797.4" cy="583.7" r="0.95" fill="#f99bc9"/><circle cx="796" cy="587.2" r="0.95" fill="#f99bc9"/><circle cx="796.1" cy="580.4" r="0.95" fill="#f99bc9"/><circle cx="798.3" cy="581" r="0.95" fill="#f99bc9"/><circle cx="799.7" cy="586.7" r="0.95" fill="#f99bc9"/><circle cx="799" cy="583.7" r="0.95" fill="#f99bc9"/><circle cx="799.5" cy="584.4" r="0.95" fill="#f99bc9"/><circle cx="799.4" cy="584" r="0.95" fill="#f99bc9"/><circle cx="796.2" cy="585.2" r="0.95" fill="#f99bc9"/><circle cx="800.6" cy="579.4" r="0.95" fill="#f99bc9"/><circle cx="799.1" cy="579.3" r="0.95" fill="#f99bc9"/><circle cx="798.8" cy="585.9" r="0.95" fill="#f99bc9"/><circle cx="803.6" cy="578.4" r="0.95" fill="#f99bc9"/><circle cx="809.6" cy="578.6" r="0.95" fill="#ff5c21"/><circle cx="811.7" cy="585.8" r="0.95" fill="#ff5c21"/><circle cx="809.4" cy="587.6" r="0.95" fill="#ff5c21"/><circle cx="813.9" cy="584.5" r="0.95" fill="#ff5c21"/><circle cx="811" cy="587.1" r="0.95" fill="#ff5c21"/><circle cx="810.6" cy="588.3" r="0.95" fill="#ff5c21"/><circle cx="810.6" cy="581.5" r="0.95" fill="#ff5c21"/><circle cx="806.9" cy="577.1" r="0.95" fill="#ff5c21"/><circle cx="812" cy="574.6" r="0.95" fill="#ff5c21"/><circle cx="805.9" cy="580" r="0.95" fill="#ff5c21"/><circle cx="810.3" cy="586.3" r="0.95" fill="#ff5c21"/><circle cx="813.2" cy="580.5" r="0.95" fill="#ff5c21"/><circle cx="812.1" cy="586" r="0.95" fill="#ff5c21"/><circle cx="809.7" cy="587.7" r="0.95" fill="#ff5c21"/><circle cx="812.3" cy="584.6" r="0.95" fill="#ff5c21"/><circle cx="811" cy="586.6" r="0.95" fill="#ff5c21"/><circle cx="810" cy="576" r="0.95" fill="#ff5c21"/><circle cx="812.3" cy="584.9" r="0.95" fill="#ff5c21"/><circle cx="806.6" cy="587.7" r="0.95" fill="#ff5c21"/><circle cx="810.2" cy="586.4" r="0.95" fill="#ff5c21"/><circle cx="806.2" cy="574.7" r="0.95" fill="#ff5c21"/><circle cx="807.4" cy="585.9" r="0.95" fill="#ff5c21"/><circle cx="807.1" cy="577.9" r="0.95" fill="#ff5c21"/><circle cx="807.4" cy="586.6" r="0.95" fill="#ff5c21"/><circle cx="811.3" cy="583.2" r="0.95" fill="#ff5c21"/><circle cx="809.4" cy="586" r="0.95" fill="#ff5c21"/><circle cx="809.3" cy="586.1" r="0.95" fill="#ff5c21"/><circle cx="806.8" cy="588.1" r="0.95" fill="#ff5c21"/><circle cx="809.6" cy="587.5" r="0.95" fill="#ff5c21"/><circle cx="812.2" cy="574.5" r="0.95" fill="#ff5c21"/><circle cx="807.1" cy="586.6" r="0.95" fill="#ff5c21"/><circle cx="806.3" cy="570.1" r="0.95" fill="#ff5c21"/><circle cx="811.8" cy="583.9" r="0.95" fill="#ff5c21"/><circle cx="805.8" cy="584.2" r="0.95" fill="#ff5c21"/><circle cx="807" cy="586.5" r="0.95" fill="#ff5c21"/><circle cx="811.4" cy="585" r="0.95" fill="#ff5c21"/><circle cx="813.2" cy="581.9" r="0.95" fill="#ff5c21"/><circle cx="808.8" cy="577.5" r="0.95" fill="#ff5c21"/><circle cx="807.7" cy="584.5" r="0.95" fill="#ff5c21"/><circle cx="812.9" cy="581.5" r="0.95" fill="#ff5c21"/><circle cx="812.3" cy="584.3" r="0.95" fill="#ff5c21"/><circle cx="809.4" cy="571.1" r="0.95" fill="#ff5c21"/><circle cx="812.9" cy="575.2" r="0.95" fill="#ff5c21"/><circle cx="806" cy="585" r="0.95" fill="#ff5c21"/><circle cx="809" cy="587.6" r="0.95" fill="#ff5c21"/><circle cx="806.5" cy="586.8" r="0.95" fill="#ff5c21"/><circle cx="807.2" cy="586.9" r="0.95" fill="#ff5c21"/><circle cx="808.9" cy="581.3" r="0.95" fill="#ff5c21"/><circle cx="811.6" cy="586.9" r="0.95" fill="#ff5c21"/><circle cx="806.6" cy="587.1" r="0.95" fill="#ff5c21"/><circle cx="811.7" cy="584.2" r="0.95" fill="#ff5c21"/><circle cx="808.5" cy="586.6" r="0.95" fill="#ff5c21"/><circle cx="810.4" cy="586.5" r="0.95" fill="#ff5c21"/><circle cx="807.6" cy="572.8" r="0.95" fill="#ff5c21"/><circle cx="809.5" cy="587" r="0.95" fill="#ff5c21"/><circle cx="813.3" cy="585.3" r="0.95" fill="#ff5c21"/><circle cx="811.8" cy="586.1" r="0.95" fill="#ff5c21"/><circle cx="808.3" cy="585.8" r="0.95" fill="#ff5c21"/><circle cx="809.8" cy="586.9" r="0.95" fill="#ff5c21"/><circle cx="806.4" cy="581.4" r="0.95" fill="#ff5c21"/><circle cx="809.2" cy="585.7" r="0.95" fill="#ff5c21"/><circle cx="812" cy="585.7" r="0.95" fill="#ff5c21"/><circle cx="810.7" cy="583.1" r="0.95" fill="#ff5c21"/><circle cx="806.4" cy="581.6" r="0.95" fill="#ff5c21"/><circle cx="809.6" cy="585.9" r="0.95" fill="#ff5c21"/><circle cx="812.1" cy="587.8" r="0.95" fill="#ff5c21"/><circle cx="806.8" cy="582" r="0.95" fill="#ff5c21"/><circle cx="812.3" cy="587.3" r="0.95" fill="#ff5c21"/><circle cx="808.2" cy="578.9" r="0.95" fill="#ff5c21"/><circle cx="809.1" cy="584.5" r="0.95" fill="#ff5c21"/><circle cx="811.8" cy="588.1" r="0.95" fill="#ff5c21"/><circle cx="807" cy="577.7" r="0.95" fill="#ff5c21"/><circle cx="809" cy="587.3" r="0.95" fill="#ff5c21"/><circle cx="812.4" cy="584" r="0.95" fill="#ff5c21"/><circle cx="811.9" cy="586.3" r="0.95" fill="#ff5c21"/><circle cx="812.2" cy="588.2" r="0.95" fill="#ff5c21"/><circle cx="806.6" cy="584" r="0.95" fill="#ff5c21"/><circle cx="810" cy="572.4" r="0.95" fill="#ff5c21"/><circle cx="813.1" cy="570.6" r="0.95" fill="#ff5c21"/><circle cx="811.6" cy="588" r="0.95" fill="#ff5c21"/><circle cx="806.5" cy="577.2" r="0.95" fill="#ff5c21"/><circle cx="809.6" cy="587.2" r="0.95" fill="#ff5c21"/><circle cx="811.4" cy="581.1" r="0.95" fill="#ff5c21"/><circle cx="807.8" cy="579.4" r="0.95" fill="#ff5c21"/><circle cx="810.3" cy="586.9" r="0.95" fill="#ff5c21"/><circle cx="810.2" cy="584.6" r="0.95" fill="#ff5c21"/><circle cx="812.9" cy="585.5" r="0.95" fill="#ff5c21"/><circle cx="808" cy="578.3" r="0.95" fill="#ff5c21"/><circle cx="811.8" cy="588.3" r="0.95" fill="#ff5c21"/><circle cx="808.5" cy="569.9" r="0.95" fill="#ff5c21"/><circle cx="812.6" cy="584.1" r="0.95" fill="#ff5c21"/><circle cx="812.7" cy="583.5" r="0.95" fill="#ff5c21"/><circle cx="807.3" cy="584.7" r="0.95" fill="#ff5c21"/><circle cx="815.8" cy="582.6" r="0.95" fill="#ffc40f"/><circle cx="819.1" cy="584" r="0.95" fill="#ffc40f"/><circle cx="823.4" cy="583.3" r="0.95" fill="#ffc40f"/><circle cx="821.2" cy="585.2" r="0.95" fill="#ffc40f"/><circle cx="824.5" cy="583.3" r="0.95" fill="#ffc40f"/><circle cx="819.6" cy="581.4" r="0.95" fill="#ffc40f"/><circle cx="821.7" cy="576.9" r="0.95" fill="#ffc40f"/><circle cx="817.1" cy="585.4" r="0.95" fill="#ffc40f"/><circle cx="817" cy="583.2" r="0.95" fill="#ffc40f"/><circle cx="823.7" cy="573" r="0.95" fill="#ffc40f"/><circle cx="824.1" cy="585.3" r="0.95" fill="#ffc40f"/><circle cx="822.3" cy="577.2" r="0.95" fill="#ffc40f"/><circle cx="824.8" cy="582.5" r="0.95" fill="#ffc40f"/><circle cx="821.3" cy="584.6" r="0.95" fill="#ffc40f"/><circle cx="821.4" cy="584.7" r="0.95" fill="#ffc40f"/><circle cx="821.9" cy="583.1" r="0.95" fill="#ffc40f"/><circle cx="816.2" cy="575.7" r="0.95" fill="#ffc40f"/><circle cx="820.2" cy="584.9" r="0.95" fill="#ffc40f"/><circle cx="820.1" cy="582.5" r="0.95" fill="#ffc40f"/><circle cx="817.1" cy="583.9" r="0.95" fill="#ffc40f"/><circle cx="822.5" cy="581.8" r="0.95" fill="#ffc40f"/><circle cx="818.7" cy="580.5" r="0.95" fill="#ffc40f"/><circle cx="822.1" cy="575.8" r="0.95" fill="#ffc40f"/><circle cx="815.7" cy="583.9" r="0.95" fill="#ffc40f"/><circle cx="815.9" cy="585.2" r="0.95" fill="#ffc40f"/><circle cx="822.5" cy="585.6" r="0.95" fill="#ffc40f"/><circle cx="821.6" cy="584.5" r="0.95" fill="#ffc40f"/><circle cx="823.4" cy="574.9" r="0.95" fill="#ffc40f"/><circle cx="820" cy="574" r="0.95" fill="#ffc40f"/><circle cx="815.7" cy="581.4" r="0.95" fill="#ffc40f"/><circle cx="818.4" cy="583" r="0.95" fill="#ffc40f"/><circle cx="818.9" cy="580.2" r="0.95" fill="#ffc40f"/><circle cx="823.8" cy="585.6" r="0.95" fill="#ffc40f"/><circle cx="825" cy="584" r="0.95" fill="#ffc40f"/><circle cx="824" cy="582.7" r="0.95" fill="#ffc40f"/><circle cx="819.7" cy="579.5" r="0.95" fill="#ffc40f"/><circle cx="818" cy="581.2" r="0.95" fill="#ffc40f"/><circle cx="819.5" cy="575.8" r="0.95" fill="#ffc40f"/><circle cx="819.1" cy="584.1" r="0.95" fill="#ffc40f"/><circle cx="823.6" cy="584.8" r="0.95" fill="#ffc40f"/><circle cx="824.5" cy="576.5" r="0.95" fill="#ffc40f"/><circle cx="819.9" cy="585.4" r="0.95" fill="#ffc40f"/><circle cx="819.1" cy="571.2" r="0.95" fill="#ffc40f"/><circle cx="818" cy="577.9" r="0.95" fill="#ffc40f"/><circle cx="822.2" cy="583.6" r="0.95" fill="#ffc40f"/><circle cx="817.4" cy="584.7" r="0.95" fill="#ffc40f"/><circle cx="818.8" cy="584.1" r="0.95" fill="#ffc40f"/><circle cx="820.4" cy="578.4" r="0.95" fill="#ffc40f"/><circle cx="818" cy="584.8" r="0.95" fill="#ffc40f"/><circle cx="815.2" cy="580.5" r="0.95" fill="#ffc40f"/><circle cx="823.7" cy="576.5" r="0.95" fill="#ffc40f"/><circle cx="823" cy="580" r="0.95" fill="#ffc40f"/><circle cx="816.9" cy="577.9" r="0.95" fill="#ffc40f"/><circle cx="818.4" cy="576" r="0.95" fill="#ffc40f"/><circle cx="823.2" cy="585" r="0.95" fill="#ffc40f"/><circle cx="824.8" cy="578" r="0.95" fill="#ffc40f"/><circle cx="821.6" cy="583.4" r="0.95" fill="#ffc40f"/><circle cx="821.3" cy="581.2" r="0.95" fill="#ffc40f"/><circle cx="815.3" cy="585.6" r="0.95" fill="#ffc40f"/><circle cx="816.4" cy="585.5" r="0.95" fill="#ffc40f"/><circle cx="822.2" cy="584.8" r="0.95" fill="#ffc40f"/><circle cx="820.4" cy="576.1" r="0.95" fill="#ffc40f"/><circle cx="818.6" cy="577.1" r="0.95" fill="#ffc40f"/><circle cx="816.4" cy="575.5" r="0.95" fill="#ffc40f"/><circle cx="822.9" cy="584.2" r="0.95" fill="#ffc40f"/><circle cx="815.5" cy="580.6" r="0.95" fill="#ffc40f"/><circle cx="818.1" cy="578.6" r="0.95" fill="#ffc40f"/><circle cx="824.3" cy="585.3" r="0.95" fill="#ffc40f"/><circle cx="824.8" cy="569.2" r="0.95" fill="#ffc40f"/><circle cx="817.3" cy="584.7" r="0.95" fill="#ffc40f"/><circle cx="816.7" cy="585.2" r="0.95" fill="#ffc40f"/><circle cx="825.1" cy="582.7" r="0.95" fill="#ffc40f"/><circle cx="822.6" cy="578.5" r="0.95" fill="#ffc40f"/><circle cx="820.3" cy="581.8" r="0.95" fill="#ffc40f"/><circle cx="819.6" cy="576.2" r="0.95" fill="#ffc40f"/><circle cx="819.8" cy="581.9" r="0.95" fill="#ffc40f"/><circle cx="822.8" cy="577.1" r="0.95" fill="#ffc40f"/><circle cx="821.5" cy="583.7" r="0.95" fill="#ffc40f"/><circle cx="820.5" cy="584.8" r="0.95" fill="#ffc40f"/><circle cx="821.9" cy="570.6" r="0.95" fill="#ffc40f"/><circle cx="823" cy="578.8" r="0.95" fill="#ffc40f"/><circle cx="823.4" cy="582.6" r="0.95" fill="#ffc40f"/><circle cx="817.8" cy="584.5" r="0.95" fill="#ffc40f"/><circle cx="821" cy="576.3" r="0.95" fill="#ffc40f"/><circle cx="819.9" cy="585.1" r="0.95" fill="#ffc40f"/><circle cx="816.1" cy="585.5" r="0.95" fill="#ffc40f"/><circle cx="820.3" cy="583.6" r="0.95" fill="#ffc40f"/><circle cx="822.8" cy="572.3" r="0.95" fill="#ffc40f"/><circle cx="824.7" cy="585.2" r="0.95" fill="#ffc40f"/><circle cx="815.9" cy="585.1" r="0.95" fill="#ffc40f"/><circle cx="819.1" cy="580.4" r="0.95" fill="#ffc40f"/><circle cx="823.3" cy="573.6" r="0.95" fill="#ffc40f"/><circle cx="823" cy="584.6" r="0.95" fill="#ffc40f"/><circle cx="818.9" cy="567.7" r="0.95" fill="#ffc40f"/><circle cx="817.4" cy="583.3" r="0.95" fill="#ffc40f"/><circle cx="833.3" cy="584.6" r="0.95" fill="#7030a0"/><circle cx="831.4" cy="586.4" r="0.95" fill="#7030a0"/><circle cx="831.3" cy="584.7" r="0.95" fill="#7030a0"/><circle cx="827.8" cy="581" r="0.95" fill="#7030a0"/><circle cx="830.3" cy="583.6" r="0.95" fill="#7030a0"/><circle cx="832.7" cy="584.1" r="0.95" fill="#7030a0"/><circle cx="834.3" cy="581.7" r="0.95" fill="#7030a0"/><circle cx="829.8" cy="583.4" r="0.95" fill="#7030a0"/><circle cx="833" cy="586.2" r="0.95" fill="#7030a0"/><circle cx="832.8" cy="570.9" r="0.95" fill="#7030a0"/><circle cx="827.3" cy="582" r="0.95" fill="#7030a0"/><circle cx="831" cy="583.4" r="0.95" fill="#7030a0"/><circle cx="833.2" cy="582.5" r="0.95" fill="#7030a0"/><circle cx="830.2" cy="572.3" r="0.95" fill="#7030a0"/><circle cx="827.2" cy="586" r="0.95" fill="#7030a0"/><circle cx="828.9" cy="586.6" r="0.95" fill="#7030a0"/><circle cx="830.8" cy="585" r="0.95" fill="#7030a0"/><circle cx="829.2" cy="581.7" r="0.95" fill="#7030a0"/><circle cx="830.2" cy="580.7" r="0.95" fill="#7030a0"/><circle cx="830.5" cy="573.3" r="0.95" fill="#7030a0"/><circle cx="828.3" cy="574.1" r="0.95" fill="#7030a0"/><circle cx="827.9" cy="582.9" r="0.95" fill="#7030a0"/><circle cx="829.7" cy="585.7" r="0.95" fill="#7030a0"/><circle cx="829.9" cy="576.1" r="0.95" fill="#7030a0"/><circle cx="829.8" cy="581.9" r="0.95" fill="#7030a0"/><circle cx="830.5" cy="583.4" r="0.95" fill="#7030a0"/><circle cx="831" cy="585" r="0.95" fill="#7030a0"/><circle cx="834.6" cy="586.2" r="0.95" fill="#7030a0"/><circle cx="828.7" cy="585.1" r="0.95" fill="#7030a0"/><circle cx="830.2" cy="585.2" r="0.95" fill="#7030a0"/><circle cx="830.9" cy="583.2" r="0.95" fill="#7030a0"/><circle cx="827.8" cy="586.5" r="0.95" fill="#7030a0"/><circle cx="832.9" cy="586.3" r="0.95" fill="#7030a0"/><circle cx="829.3" cy="585.8" r="0.95" fill="#7030a0"/><circle cx="828.3" cy="585.1" r="0.95" fill="#7030a0"/><circle cx="831.4" cy="580.5" r="0.95" fill="#7030a0"/><circle cx="833.1" cy="582.6" r="0.95" fill="#7030a0"/><circle cx="832.2" cy="577.3" r="0.95" fill="#7030a0"/><circle cx="831.5" cy="581.8" r="0.95" fill="#7030a0"/><circle cx="829.7" cy="586.1" r="0.95" fill="#7030a0"/><circle cx="829.5" cy="586.3" r="0.95" fill="#7030a0"/><circle cx="828.4" cy="582.9" r="0.95" fill="#7030a0"/><circle cx="829.9" cy="577.8" r="0.95" fill="#7030a0"/><circle cx="827.8" cy="577.4" r="0.95" fill="#7030a0"/><circle cx="829.3" cy="576" r="0.95" fill="#7030a0"/><circle cx="833.6" cy="585.9" r="0.95" fill="#7030a0"/><circle cx="834.2" cy="584.5" r="0.95" fill="#7030a0"/><circle cx="831.1" cy="580.5" r="0.95" fill="#7030a0"/><circle cx="832.9" cy="584.7" r="0.95" fill="#7030a0"/><circle cx="828.2" cy="584.1" r="0.95" fill="#7030a0"/><circle cx="827.3" cy="583" r="0.95" fill="#7030a0"/><circle cx="830.6" cy="572.2" r="0.95" fill="#7030a0"/><circle cx="833.8" cy="585.8" r="0.95" fill="#7030a0"/><circle cx="827.5" cy="580.1" r="0.95" fill="#7030a0"/><circle cx="829.5" cy="585" r="0.95" fill="#7030a0"/><circle cx="833.3" cy="585.8" r="0.95" fill="#7030a0"/><circle cx="832.5" cy="580.3" r="0.95" fill="#7030a0"/><circle cx="834.2" cy="585.1" r="0.95" fill="#7030a0"/><circle cx="826.8" cy="579" r="0.95" fill="#7030a0"/><circle cx="827.7" cy="586" r="0.95" fill="#7030a0"/><circle cx="832.4" cy="585.4" r="0.95" fill="#7030a0"/><circle cx="828.5" cy="577.5" r="0.95" fill="#7030a0"/><circle cx="829.4" cy="586.4" r="0.95" fill="#7030a0"/><circle cx="828.3" cy="581.1" r="0.95" fill="#7030a0"/><circle cx="829.9" cy="585.6" r="0.95" fill="#7030a0"/><circle cx="833.5" cy="583.8" r="0.95" fill="#7030a0"/><circle cx="827.6" cy="577.7" r="0.95" fill="#7030a0"/><circle cx="834.6" cy="579.7" r="0.95" fill="#7030a0"/><circle cx="828.4" cy="577.7" r="0.95" fill="#7030a0"/><circle cx="832.4" cy="580.9" r="0.95" fill="#7030a0"/><circle cx="832.9" cy="573" r="0.95" fill="#7030a0"/><circle cx="826.6" cy="582.3" r="0.95" fill="#7030a0"/><circle cx="832" cy="579.2" r="0.95" fill="#7030a0"/><circle cx="829.4" cy="577.8" r="0.95" fill="#7030a0"/><circle cx="827.9" cy="577.5" r="0.95" fill="#7030a0"/><circle cx="831.7" cy="582.1" r="0.95" fill="#7030a0"/><circle cx="831.9" cy="584.1" r="0.95" fill="#7030a0"/><circle cx="829.5" cy="583.2" r="0.95" fill="#7030a0"/><circle cx="827.9" cy="579.5" r="0.95" fill="#7030a0"/><circle cx="833.3" cy="581.4" r="0.95" fill="#7030a0"/><circle cx="829.7" cy="569.8" r="0.95" fill="#7030a0"/><circle cx="826.6" cy="580.4" r="0.95" fill="#7030a0"/><circle cx="832.4" cy="577.4" r="0.95" fill="#7030a0"/><circle cx="826.7" cy="585.1" r="0.95" fill="#7030a0"/><circle cx="829.7" cy="582.6" r="0.95" fill="#7030a0"/><circle cx="833.1" cy="585.5" r="0.95" fill="#7030a0"/><circle cx="830.6" cy="569.2" r="0.95" fill="#7030a0"/><circle cx="834.3" cy="573.5" r="0.95" fill="#7030a0"/><circle cx="832" cy="586.2" r="0.95" fill="#7030a0"/><circle cx="826.2" cy="585.4" r="0.95" fill="#7030a0"/><circle cx="834.4" cy="584.1" r="0.95" fill="#7030a0"/><circle cx="832.7" cy="585.5" r="0.95" fill="#7030a0"/><circle cx="826.3" cy="582.5" r="0.95" fill="#7030a0"/><circle cx="826.4" cy="584.7" r="0.95" fill="#7030a0"/><circle cx="842.7" cy="586.2" r="0.95" fill="#16a59b"/><circle cx="842.6" cy="586.3" r="0.95" fill="#16a59b"/><circle cx="842.8" cy="578" r="0.95" fill="#16a59b"/><circle cx="838.6" cy="585.6" r="0.95" fill="#16a59b"/><circle cx="835.9" cy="585.1" r="0.95" fill="#16a59b"/><circle cx="840.6" cy="582.9" r="0.95" fill="#16a59b"/><circle cx="843.9" cy="585.3" r="0.95" fill="#16a59b"/><circle cx="839.8" cy="585.4" r="0.95" fill="#16a59b"/><circle cx="844" cy="581.8" r="0.95" fill="#16a59b"/><circle cx="835.7" cy="584.5" r="0.95" fill="#16a59b"/><circle cx="838" cy="583.8" r="0.95" fill="#16a59b"/><circle cx="837.9" cy="585" r="0.95" fill="#16a59b"/><circle cx="839.8" cy="579" r="0.95" fill="#16a59b"/><circle cx="837.9" cy="581.6" r="0.95" fill="#16a59b"/><circle cx="842.7" cy="584.6" r="0.95" fill="#16a59b"/><circle cx="839.8" cy="584.9" r="0.95" fill="#16a59b"/><circle cx="838.6" cy="585.6" r="0.95" fill="#16a59b"/><circle cx="836.3" cy="584.2" r="0.95" fill="#16a59b"/><circle cx="839.2" cy="580.2" r="0.95" fill="#16a59b"/><circle cx="842.7" cy="586.5" r="0.95" fill="#16a59b"/><circle cx="836.6" cy="586.3" r="0.95" fill="#16a59b"/><circle cx="842.1" cy="586.5" r="0.95" fill="#16a59b"/><circle cx="836.8" cy="585" r="0.95" fill="#16a59b"/><circle cx="843.7" cy="582.7" r="0.95" fill="#16a59b"/><circle cx="841.9" cy="583.6" r="0.95" fill="#16a59b"/><circle cx="842" cy="581.7" r="0.95" fill="#16a59b"/><circle cx="843" cy="582.3" r="0.95" fill="#16a59b"/><circle cx="836.1" cy="586" r="0.95" fill="#16a59b"/><circle cx="843.9" cy="586.3" r="0.95" fill="#16a59b"/><circle cx="843.8" cy="577.5" r="0.95" fill="#16a59b"/><circle cx="836.2" cy="582.3" r="0.95" fill="#16a59b"/><circle cx="836.6" cy="582.9" r="0.95" fill="#16a59b"/><circle cx="838.9" cy="585.1" r="0.95" fill="#16a59b"/><circle cx="837.4" cy="581.9" r="0.95" fill="#16a59b"/><circle cx="841" cy="586.5" r="0.95" fill="#16a59b"/><circle cx="838.2" cy="583" r="0.95" fill="#16a59b"/><circle cx="840.5" cy="586.4" r="0.95" fill="#16a59b"/><circle cx="842.5" cy="584.6" r="0.95" fill="#16a59b"/><circle cx="841" cy="585.5" r="0.95" fill="#16a59b"/><circle cx="838.1" cy="586.5" r="0.95" fill="#16a59b"/><circle cx="841.5" cy="580.5" r="0.95" fill="#16a59b"/><circle cx="835.8" cy="584.7" r="0.95" fill="#16a59b"/><circle cx="840.9" cy="583.7" r="0.95" fill="#16a59b"/><circle cx="838.9" cy="584.3" r="0.95" fill="#16a59b"/><circle cx="840.3" cy="583.7" r="0.95" fill="#16a59b"/><circle cx="838.4" cy="570.3" r="0.95" fill="#16a59b"/><circle cx="838.8" cy="585" r="0.95" fill="#16a59b"/><circle cx="837.2" cy="585.6" r="0.95" fill="#16a59b"/><circle cx="836.3" cy="581.7" r="0.95" fill="#16a59b"/><circle cx="838.5" cy="570.5" r="0.95" fill="#16a59b"/><circle cx="843" cy="569.8" r="0.95" fill="#16a59b"/><circle cx="842" cy="585.7" r="0.95" fill="#16a59b"/><circle cx="842.3" cy="577" r="0.95" fill="#16a59b"/><circle cx="840" cy="581" r="0.95" fill="#16a59b"/><circle cx="840.4" cy="582.8" r="0.95" fill="#16a59b"/><circle cx="840.7" cy="579.4" r="0.95" fill="#16a59b"/><circle cx="838.2" cy="578.9" r="0.95" fill="#16a59b"/><circle cx="841.6" cy="586.3" r="0.95" fill="#16a59b"/><circle cx="839.4" cy="576.9" r="0.95" fill="#16a59b"/><circle cx="838.6" cy="584.4" r="0.95" fill="#16a59b"/><circle cx="839.2" cy="580.7" r="0.95" fill="#16a59b"/><circle cx="837.5" cy="575.8" r="0.95" fill="#16a59b"/><circle cx="839.9" cy="573.1" r="0.95" fill="#16a59b"/><circle cx="840.9" cy="584.2" r="0.95" fill="#16a59b"/><circle cx="843.3" cy="573.6" r="0.95" fill="#16a59b"/><circle cx="842.4" cy="584.8" r="0.95" fill="#16a59b"/><circle cx="837.8" cy="582" r="0.95" fill="#16a59b"/><circle cx="836.8" cy="584.8" r="0.95" fill="#16a59b"/><circle cx="837.1" cy="585.3" r="0.95" fill="#16a59b"/><circle cx="844" cy="584" r="0.95" fill="#16a59b"/><circle cx="836.9" cy="586" r="0.95" fill="#16a59b"/><circle cx="840.3" cy="584.7" r="0.95" fill="#16a59b"/><circle cx="841.5" cy="586.2" r="0.95" fill="#16a59b"/><circle cx="841.3" cy="585.8" r="0.95" fill="#16a59b"/><circle cx="839.6" cy="586.1" r="0.95" fill="#16a59b"/><circle cx="843.4" cy="571.6" r="0.95" fill="#16a59b"/><circle cx="841.2" cy="584.3" r="0.95" fill="#16a59b"/><circle cx="839.7" cy="584.8" r="0.95" fill="#16a59b"/><circle cx="842.9" cy="585.1" r="0.95" fill="#16a59b"/><circle cx="842" cy="586.6" r="0.95" fill="#16a59b"/><circle cx="841.9" cy="584.3" r="0.95" fill="#16a59b"/><circle cx="843.4" cy="583" r="0.95" fill="#16a59b"/><circle cx="840.9" cy="585.3" r="0.95" fill="#16a59b"/><circle cx="835.6" cy="586.7" r="0.95" fill="#16a59b"/><circle cx="836.1" cy="570.7" r="0.95" fill="#16a59b"/><circle cx="841" cy="585.2" r="0.95" fill="#16a59b"/><circle cx="838.4" cy="582" r="0.95" fill="#16a59b"/><circle cx="840.6" cy="585.5" r="0.95" fill="#16a59b"/><circle cx="843.2" cy="580.5" r="0.95" fill="#16a59b"/><circle cx="838" cy="584.8" r="0.95" fill="#16a59b"/><circle cx="837" cy="583" r="0.95" fill="#16a59b"/><circle cx="837" cy="582.8" r="0.95" fill="#16a59b"/><circle cx="842.5" cy="582.6" r="0.95" fill="#16a59b"/><circle cx="847.3" cy="574.7" r="0.95" fill="#f99bc9"/><circle cx="849.8" cy="579.7" r="0.95" fill="#f99bc9"/><circle cx="853.3" cy="582.2" r="0.95" fill="#f99bc9"/><circle cx="849.5" cy="584.1" r="0.95" fill="#f99bc9"/><circle cx="853.3" cy="586.8" r="0.95" fill="#f99bc9"/><circle cx="847.5" cy="587.4" r="0.95" fill="#f99bc9"/><circle cx="846.3" cy="587.4" r="0.95" fill="#f99bc9"/><circle cx="853.5" cy="583.6" r="0.95" fill="#f99bc9"/><circle cx="847" cy="587.4" r="0.95" fill="#f99bc9"/><circle cx="851.9" cy="587.9" r="0.95" fill="#f99bc9"/><circle cx="848.7" cy="584.5" r="0.95" fill="#f99bc9"/><circle cx="852.2" cy="587.5" r="0.95" fill="#f99bc9"/><circle cx="850.3" cy="584.1" r="0.95" fill="#f99bc9"/><circle cx="845.6" cy="580.1" r="0.95" fill="#f99bc9"/><circle cx="848.9" cy="577.4" r="0.95" fill="#f99bc9"/><circle cx="850" cy="588" r="0.95" fill="#f99bc9"/><circle cx="848" cy="576.7" r="0.95" fill="#f99bc9"/><circle cx="846.9" cy="583.6" r="0.95" fill="#f99bc9"/><circle cx="853.9" cy="584.7" r="0.95" fill="#f99bc9"/><circle cx="845.2" cy="584" r="0.95" fill="#f99bc9"/><circle cx="849.3" cy="583.7" r="0.95" fill="#f99bc9"/><circle cx="846.5" cy="585.7" r="0.95" fill="#f99bc9"/><circle cx="849.4" cy="585.7" r="0.95" fill="#f99bc9"/><circle cx="853.5" cy="583.7" r="0.95" fill="#f99bc9"/><circle cx="848.5" cy="587.2" r="0.95" fill="#f99bc9"/><circle cx="851.4" cy="571.1" r="0.95" fill="#f99bc9"/><circle cx="852.7" cy="580.2" r="0.95" fill="#f99bc9"/><circle cx="846.3" cy="584.4" r="0.95" fill="#f99bc9"/><circle cx="845.8" cy="587" r="0.95" fill="#f99bc9"/><circle cx="850.1" cy="582" r="0.95" fill="#f99bc9"/><circle cx="853.8" cy="578.6" r="0.95" fill="#f99bc9"/><circle cx="847.4" cy="586.9" r="0.95" fill="#f99bc9"/><circle cx="853.8" cy="578.7" r="0.95" fill="#f99bc9"/><circle cx="847.8" cy="587.5" r="0.95" fill="#f99bc9"/><circle cx="849.7" cy="587" r="0.95" fill="#f99bc9"/><circle cx="851" cy="585.1" r="0.95" fill="#f99bc9"/><circle cx="848.3" cy="587.3" r="0.95" fill="#f99bc9"/><circle cx="849.2" cy="581" r="0.95" fill="#f99bc9"/><circle cx="849.2" cy="587.1" r="0.95" fill="#f99bc9"/><circle cx="849.1" cy="587.7" r="0.95" fill="#f99bc9"/><circle cx="853.6" cy="584.9" r="0.95" fill="#f99bc9"/><circle cx="852" cy="587.7" r="0.95" fill="#f99bc9"/><circle cx="849.8" cy="584" r="0.95" fill="#f99bc9"/><circle cx="852" cy="586.6" r="0.95" fill="#f99bc9"/><circle cx="853.7" cy="584.1" r="0.95" fill="#f99bc9"/><circle cx="845.8" cy="582" r="0.95" fill="#f99bc9"/><circle cx="853.5" cy="582.7" r="0.95" fill="#f99bc9"/><circle cx="848.4" cy="583.8" r="0.95" fill="#f99bc9"/><circle cx="845.9" cy="582.1" r="0.95" fill="#f99bc9"/><circle cx="846.1" cy="583.8" r="0.95" fill="#f99bc9"/><circle cx="846.8" cy="583.6" r="0.95" fill="#f99bc9"/><circle cx="848.1" cy="583.1" r="0.95" fill="#f99bc9"/><circle cx="848.7" cy="586.3" r="0.95" fill="#f99bc9"/><circle cx="849.5" cy="583.6" r="0.95" fill="#f99bc9"/><circle cx="852.3" cy="585.9" r="0.95" fill="#f99bc9"/><circle cx="852.5" cy="585.3" r="0.95" fill="#f99bc9"/><circle cx="851.9" cy="582.5" r="0.95" fill="#f99bc9"/><circle cx="851.1" cy="585.1" r="0.95" fill="#f99bc9"/><circle cx="845.5" cy="585.8" r="0.95" fill="#f99bc9"/><circle cx="851" cy="587.3" r="0.95" fill="#f99bc9"/><circle cx="847.3" cy="582" r="0.95" fill="#f99bc9"/><circle cx="846.2" cy="587.1" r="0.95" fill="#f99bc9"/><circle cx="851.4" cy="581.3" r="0.95" fill="#f99bc9"/><circle cx="849.8" cy="585.9" r="0.95" fill="#f99bc9"/><circle cx="849.8" cy="576.7" r="0.95" fill="#f99bc9"/><circle cx="846" cy="573.9" r="0.95" fill="#f99bc9"/><circle cx="853.5" cy="572.6" r="0.95" fill="#f99bc9"/><circle cx="849" cy="586.5" r="0.95" fill="#f99bc9"/><circle cx="851.9" cy="586.6" r="0.95" fill="#f99bc9"/><circle cx="850.5" cy="580.2" r="0.95" fill="#f99bc9"/><circle cx="848.1" cy="577.5" r="0.95" fill="#f99bc9"/><circle cx="852.6" cy="584.4" r="0.95" fill="#f99bc9"/><circle cx="849.4" cy="587.2" r="0.95" fill="#f99bc9"/><circle cx="849.2" cy="585.9" r="0.95" fill="#f99bc9"/><circle cx="846.1" cy="582.8" r="0.95" fill="#f99bc9"/><circle cx="851.9" cy="577" r="0.95" fill="#f99bc9"/><circle cx="851.5" cy="580.3" r="0.95" fill="#f99bc9"/><circle cx="848" cy="583.9" r="0.95" fill="#f99bc9"/><circle cx="850.5" cy="572.6" r="0.95" fill="#f99bc9"/><circle cx="850.8" cy="579.4" r="0.95" fill="#f99bc9"/><circle cx="850.3" cy="571.6" r="0.95" fill="#f99bc9"/><circle cx="845" cy="575.1" r="0.95" fill="#f99bc9"/><circle cx="848.1" cy="586.6" r="0.95" fill="#f99bc9"/><circle cx="853.8" cy="585.9" r="0.95" fill="#f99bc9"/><circle cx="852.5" cy="580" r="0.95" fill="#f99bc9"/><circle cx="846.8" cy="585.3" r="0.95" fill="#f99bc9"/><circle cx="845.6" cy="575.7" r="0.95" fill="#f99bc9"/><circle cx="849.9" cy="580" r="0.95" fill="#f99bc9"/><circle cx="850.1" cy="584.9" r="0.95" fill="#f99bc9"/><circle cx="848.6" cy="578.8" r="0.95" fill="#f99bc9"/><circle cx="850.3" cy="580" r="0.95" fill="#f99bc9"/><circle cx="846.4" cy="585.9" r="0.95" fill="#f99bc9"/><circle cx="862.5" cy="580.8" r="0.95" fill="#ff5c21"/><circle cx="860.1" cy="583" r="0.95" fill="#ff5c21"/><circle cx="860.6" cy="579.5" r="0.95" fill="#ff5c21"/><circle cx="856.5" cy="567.3" r="0.95" fill="#ff5c21"/><circle cx="860.1" cy="581.7" r="0.95" fill="#ff5c21"/><circle cx="861.2" cy="580.5" r="0.95" fill="#ff5c21"/><circle cx="861.5" cy="583.6" r="0.95" fill="#ff5c21"/><circle cx="858.3" cy="585" r="0.95" fill="#ff5c21"/><circle cx="858" cy="577.4" r="0.95" fill="#ff5c21"/><circle cx="861.9" cy="584.8" r="0.95" fill="#ff5c21"/><circle cx="861.3" cy="584.6" r="0.95" fill="#ff5c21"/><circle cx="858.4" cy="580.1" r="0.95" fill="#ff5c21"/><circle cx="860.7" cy="581.9" r="0.95" fill="#ff5c21"/><circle cx="858.8" cy="576.5" r="0.95" fill="#ff5c21"/><circle cx="859.9" cy="584.9" r="0.95" fill="#ff5c21"/><circle cx="857.8" cy="584.7" r="0.95" fill="#ff5c21"/><circle cx="863.7" cy="579.9" r="0.95" fill="#ff5c21"/><circle cx="859.4" cy="585" r="0.95" fill="#ff5c21"/><circle cx="861.5" cy="580.5" r="0.95" fill="#ff5c21"/><circle cx="855.7" cy="584" r="0.95" fill="#ff5c21"/><circle cx="858.7" cy="578.4" r="0.95" fill="#ff5c21"/><circle cx="857" cy="583.5" r="0.95" fill="#ff5c21"/><circle cx="858.5" cy="584.6" r="0.95" fill="#ff5c21"/><circle cx="860.8" cy="580.5" r="0.95" fill="#ff5c21"/><circle cx="858.1" cy="585.3" r="0.95" fill="#ff5c21"/><circle cx="856" cy="583.4" r="0.95" fill="#ff5c21"/><circle cx="857.7" cy="585.2" r="0.95" fill="#ff5c21"/><circle cx="858.9" cy="584.6" r="0.95" fill="#ff5c21"/><circle cx="858.9" cy="582.7" r="0.95" fill="#ff5c21"/><circle cx="860.1" cy="579.6" r="0.95" fill="#ff5c21"/><circle cx="858.2" cy="580" r="0.95" fill="#ff5c21"/><circle cx="857.8" cy="582.4" r="0.95" fill="#ff5c21"/><circle cx="857.8" cy="580.6" r="0.95" fill="#ff5c21"/><circle cx="863.2" cy="581.8" r="0.95" fill="#ff5c21"/><circle cx="859.8" cy="582.3" r="0.95" fill="#ff5c21"/><circle cx="862.8" cy="583.6" r="0.95" fill="#ff5c21"/><circle cx="861.8" cy="581.9" r="0.95" fill="#ff5c21"/><circle cx="858.6" cy="582.1" r="0.95" fill="#ff5c21"/><circle cx="859.3" cy="571.8" r="0.95" fill="#ff5c21"/><circle cx="862" cy="580.7" r="0.95" fill="#ff5c21"/><circle cx="861.2" cy="584.8" r="0.95" fill="#ff5c21"/><circle cx="859.6" cy="580.3" r="0.95" fill="#ff5c21"/><circle cx="855.7" cy="582" r="0.95" fill="#ff5c21"/><circle cx="861" cy="584.1" r="0.95" fill="#ff5c21"/><circle cx="858.4" cy="585.2" r="0.95" fill="#ff5c21"/><circle cx="856.8" cy="580.7" r="0.95" fill="#ff5c21"/><circle cx="861.6" cy="582.1" r="0.95" fill="#ff5c21"/><circle cx="856" cy="569.1" r="0.95" fill="#ff5c21"/><circle cx="862.7" cy="583.9" r="0.95" fill="#ff5c21"/><circle cx="855.8" cy="576.8" r="0.95" fill="#ff5c21"/><circle cx="863.5" cy="575" r="0.95" fill="#ff5c21"/><circle cx="860.3" cy="577.4" r="0.95" fill="#ff5c21"/><circle cx="858.8" cy="584.9" r="0.95" fill="#ff5c21"/><circle cx="863.6" cy="582.1" r="0.95" fill="#ff5c21"/><circle cx="861.9" cy="580.2" r="0.95" fill="#ff5c21"/><circle cx="862.6" cy="571.6" r="0.95" fill="#ff5c21"/><circle cx="858.4" cy="581.7" r="0.95" fill="#ff5c21"/><circle cx="856.2" cy="582.9" r="0.95" fill="#ff5c21"/><circle cx="859.2" cy="582.8" r="0.95" fill="#ff5c21"/><circle cx="859.7" cy="583" r="0.95" fill="#ff5c21"/><circle cx="857.1" cy="585.3" r="0.95" fill="#ff5c21"/><circle cx="861.6" cy="581.9" r="0.95" fill="#ff5c21"/><circle cx="857.5" cy="582.7" r="0.95" fill="#ff5c21"/><circle cx="856.7" cy="576" r="0.95" fill="#ff5c21"/><circle cx="861.5" cy="577.3" r="0.95" fill="#ff5c21"/><circle cx="855.7" cy="577.1" r="0.95" fill="#ff5c21"/><circle cx="860.3" cy="584.2" r="0.95" fill="#ff5c21"/><circle cx="863.5" cy="581.1" r="0.95" fill="#ff5c21"/><circle cx="859.6" cy="576" r="0.95" fill="#ff5c21"/><circle cx="858.6" cy="578.8" r="0.95" fill="#ff5c21"/><circle cx="863.1" cy="585.3" r="0.95" fill="#ff5c21"/><circle cx="862.6" cy="581" r="0.95" fill="#ff5c21"/><circle cx="860.8" cy="574.1" r="0.95" fill="#ff5c21"/><circle cx="859.6" cy="581" r="0.95" fill="#ff5c21"/><circle cx="856.8" cy="578.5" r="0.95" fill="#ff5c21"/><circle cx="856.1" cy="582.3" r="0.95" fill="#ff5c21"/><circle cx="859.4" cy="579.5" r="0.95" fill="#ff5c21"/><circle cx="855.8" cy="584.3" r="0.95" fill="#ff5c21"/><circle cx="857.8" cy="581.6" r="0.95" fill="#ff5c21"/><circle cx="860.6" cy="584.6" r="0.95" fill="#ff5c21"/><circle cx="858.7" cy="579.8" r="0.95" fill="#ff5c21"/><circle cx="862.8" cy="581.4" r="0.95" fill="#ff5c21"/><circle cx="856.2" cy="580.1" r="0.95" fill="#ff5c21"/><circle cx="856.1" cy="583.9" r="0.95" fill="#ff5c21"/><circle cx="860.1" cy="577.4" r="0.95" fill="#ff5c21"/><circle cx="857.1" cy="573.8" r="0.95" fill="#ff5c21"/><circle cx="861.9" cy="578.4" r="0.95" fill="#ff5c21"/><circle cx="855.9" cy="579.8" r="0.95" fill="#ff5c21"/><circle cx="859" cy="579.1" r="0.95" fill="#ff5c21"/><circle cx="856.8" cy="584.1" r="0.95" fill="#ff5c21"/><circle cx="857.8" cy="584" r="0.95" fill="#ff5c21"/><circle cx="855.9" cy="584.3" r="0.95" fill="#ff5c21"/><circle cx="862.9" cy="583.6" r="0.95" fill="#ff5c21"/><circle cx="855.9" cy="571.2" r="0.95" fill="#ff5c21"/><circle cx="858.8" cy="580.5" r="0.95" fill="#ff5c21"/><circle cx="871.5" cy="584.2" r="0.95" fill="#ffc40f"/><circle cx="873.3" cy="581.5" r="0.95" fill="#ffc40f"/><circle cx="870.5" cy="570.9" r="0.95" fill="#ffc40f"/><circle cx="867.2" cy="584.9" r="0.95" fill="#ffc40f"/><circle cx="872.2" cy="587.2" r="0.95" fill="#ffc40f"/><circle cx="869.4" cy="587.1" r="0.95" fill="#ffc40f"/><circle cx="871.2" cy="586.6" r="0.95" fill="#ffc40f"/><circle cx="867.1" cy="587.2" r="0.95" fill="#ffc40f"/><circle cx="870.6" cy="586.7" r="0.95" fill="#ffc40f"/><circle cx="869.5" cy="586.7" r="0.95" fill="#ffc40f"/><circle cx="865.5" cy="583.6" r="0.95" fill="#ffc40f"/><circle cx="869.3" cy="585.8" r="0.95" fill="#ffc40f"/><circle cx="869.6" cy="586.6" r="0.95" fill="#ffc40f"/><circle cx="865.1" cy="587" r="0.95" fill="#ffc40f"/><circle cx="872.4" cy="587.7" r="0.95" fill="#ffc40f"/><circle cx="867.8" cy="581.6" r="0.95" fill="#ffc40f"/><circle cx="870.5" cy="570.9" r="0.95" fill="#ffc40f"/><circle cx="872.8" cy="575.1" r="0.95" fill="#ffc40f"/><circle cx="866.3" cy="584.7" r="0.95" fill="#ffc40f"/><circle cx="866.5" cy="587.6" r="0.95" fill="#ffc40f"/><circle cx="873.1" cy="586.6" r="0.95" fill="#ffc40f"/><circle cx="872.2" cy="571.7" r="0.95" fill="#ffc40f"/><circle cx="872.5" cy="583.3" r="0.95" fill="#ffc40f"/><circle cx="867.8" cy="582.3" r="0.95" fill="#ffc40f"/><circle cx="871.2" cy="585.4" r="0.95" fill="#ffc40f"/><circle cx="865" cy="585.3" r="0.95" fill="#ffc40f"/><circle cx="868.7" cy="579.3" r="0.95" fill="#ffc40f"/><circle cx="866.8" cy="576.8" r="0.95" fill="#ffc40f"/><circle cx="871.9" cy="585.9" r="0.95" fill="#ffc40f"/><circle cx="869.6" cy="587.1" r="0.95" fill="#ffc40f"/><circle cx="872.2" cy="585.6" r="0.95" fill="#ffc40f"/><circle cx="872.6" cy="586.9" r="0.95" fill="#ffc40f"/><circle cx="866.8" cy="570.9" r="0.95" fill="#ffc40f"/><circle cx="865.1" cy="587.4" r="0.95" fill="#ffc40f"/><circle cx="872.8" cy="584.9" r="0.95" fill="#ffc40f"/><circle cx="868.8" cy="587.5" r="0.95" fill="#ffc40f"/><circle cx="865.7" cy="586.3" r="0.95" fill="#ffc40f"/><circle cx="866.2" cy="587.4" r="0.95" fill="#ffc40f"/><circle cx="868.8" cy="585.2" r="0.95" fill="#ffc40f"/><circle cx="872.9" cy="586.3" r="0.95" fill="#ffc40f"/><circle cx="868.6" cy="579.2" r="0.95" fill="#ffc40f"/><circle cx="867.1" cy="586.2" r="0.95" fill="#ffc40f"/><circle cx="871" cy="584.6" r="0.95" fill="#ffc40f"/><circle cx="872.6" cy="585.9" r="0.95" fill="#ffc40f"/><circle cx="869.2" cy="585.6" r="0.95" fill="#ffc40f"/><circle cx="871.8" cy="583.9" r="0.95" fill="#ffc40f"/><circle cx="873.8" cy="587.4" r="0.95" fill="#ffc40f"/><circle cx="871" cy="577.7" r="0.95" fill="#ffc40f"/><circle cx="866.3" cy="583.6" r="0.95" fill="#ffc40f"/><circle cx="871.6" cy="582" r="0.95" fill="#ffc40f"/><circle cx="872.8" cy="586.1" r="0.95" fill="#ffc40f"/><circle cx="870.8" cy="579.2" r="0.95" fill="#ffc40f"/><circle cx="866.3" cy="571" r="0.95" fill="#ffc40f"/><circle cx="869.5" cy="586.7" r="0.95" fill="#ffc40f"/><circle cx="869.7" cy="583.8" r="0.95" fill="#ffc40f"/><circle cx="866.4" cy="584" r="0.95" fill="#ffc40f"/><circle cx="866.9" cy="579.4" r="0.95" fill="#ffc40f"/><circle cx="870" cy="586.6" r="0.95" fill="#ffc40f"/><circle cx="866.9" cy="586.7" r="0.95" fill="#ffc40f"/><circle cx="870.8" cy="584.4" r="0.95" fill="#ffc40f"/><circle cx="871.5" cy="586.9" r="0.95" fill="#ffc40f"/><circle cx="866.5" cy="581.9" r="0.95" fill="#ffc40f"/><circle cx="869.7" cy="586.7" r="0.95" fill="#ffc40f"/><circle cx="867.8" cy="585.5" r="0.95" fill="#ffc40f"/><circle cx="872.4" cy="586.1" r="0.95" fill="#ffc40f"/><circle cx="870.2" cy="586.5" r="0.95" fill="#ffc40f"/><circle cx="868.1" cy="582.3" r="0.95" fill="#ffc40f"/><circle cx="864.8" cy="587.5" r="0.95" fill="#ffc40f"/><circle cx="871.6" cy="581.4" r="0.95" fill="#ffc40f"/><circle cx="872.2" cy="587.2" r="0.95" fill="#ffc40f"/><circle cx="866.1" cy="584.4" r="0.95" fill="#ffc40f"/><circle cx="865.7" cy="575.3" r="0.95" fill="#ffc40f"/><circle cx="871.5" cy="583.1" r="0.95" fill="#ffc40f"/><circle cx="873.2" cy="585" r="0.95" fill="#ffc40f"/><circle cx="868" cy="582.6" r="0.95" fill="#ffc40f"/><circle cx="870.7" cy="587.3" r="0.95" fill="#ffc40f"/><circle cx="866.6" cy="584.6" r="0.95" fill="#ffc40f"/><circle cx="871.5" cy="587.5" r="0.95" fill="#ffc40f"/><circle cx="867.5" cy="582" r="0.95" fill="#ffc40f"/><circle cx="872.4" cy="586.5" r="0.95" fill="#ffc40f"/><circle cx="868.7" cy="577.4" r="0.95" fill="#ffc40f"/><circle cx="873.8" cy="581.5" r="0.95" fill="#ffc40f"/><circle cx="871.3" cy="583" r="0.95" fill="#ffc40f"/><circle cx="866.9" cy="586.9" r="0.95" fill="#ffc40f"/><circle cx="866.8" cy="586.4" r="0.95" fill="#ffc40f"/><circle cx="868.5" cy="587.2" r="0.95" fill="#ffc40f"/><circle cx="873.7" cy="582" r="0.95" fill="#ffc40f"/><circle cx="870.1" cy="582.1" r="0.95" fill="#ffc40f"/><circle cx="868.3" cy="586.4" r="0.95" fill="#ffc40f"/><circle cx="868.2" cy="587.5" r="0.95" fill="#ffc40f"/><circle cx="864.9" cy="578.4" r="0.95" fill="#ffc40f"/><circle cx="870.8" cy="575.2" r="0.95" fill="#ffc40f"/><circle cx="865.8" cy="583.5" r="0.95" fill="#ffc40f"/><circle cx="869.9" cy="586" r="0.95" fill="#ffc40f"/><circle cx="878.3" cy="588.2" r="0.95" fill="#7030a0"/><circle cx="880.6" cy="583.7" r="0.95" fill="#7030a0"/><circle cx="875.8" cy="587.4" r="0.95" fill="#7030a0"/><circle cx="876.6" cy="574.3" r="0.95" fill="#7030a0"/><circle cx="882.4" cy="583.9" r="0.95" fill="#7030a0"/><circle cx="880.6" cy="587.7" r="0.95" fill="#7030a0"/><circle cx="876.9" cy="587.4" r="0.95" fill="#7030a0"/><circle cx="877.7" cy="582.6" r="0.95" fill="#7030a0"/><circle cx="875.1" cy="587" r="0.95" fill="#7030a0"/><circle cx="881.9" cy="587.5" r="0.95" fill="#7030a0"/><circle cx="878.9" cy="572.8" r="0.95" fill="#7030a0"/><circle cx="878.2" cy="579.8" r="0.95" fill="#7030a0"/><circle cx="877.1" cy="583" r="0.95" fill="#7030a0"/><circle cx="878.6" cy="580.8" r="0.95" fill="#7030a0"/><circle cx="879.5" cy="584.7" r="0.95" fill="#7030a0"/><circle cx="876.4" cy="586.7" r="0.95" fill="#7030a0"/><circle cx="883.4" cy="584.9" r="0.95" fill="#7030a0"/><circle cx="878.8" cy="584.1" r="0.95" fill="#7030a0"/><circle cx="883.4" cy="583.1" r="0.95" fill="#7030a0"/><circle cx="876.2" cy="579.1" r="0.95" fill="#7030a0"/><circle cx="876.3" cy="584.5" r="0.95" fill="#7030a0"/><circle cx="877.1" cy="585.9" r="0.95" fill="#7030a0"/><circle cx="876.8" cy="583.4" r="0.95" fill="#7030a0"/><circle cx="876.3" cy="582.1" r="0.95" fill="#7030a0"/><circle cx="880.1" cy="584.1" r="0.95" fill="#7030a0"/><circle cx="876.4" cy="582.7" r="0.95" fill="#7030a0"/><circle cx="882.7" cy="585.9" r="0.95" fill="#7030a0"/><circle cx="881.6" cy="587.5" r="0.95" fill="#7030a0"/><circle cx="880.6" cy="587.7" r="0.95" fill="#7030a0"/><circle cx="876" cy="578.5" r="0.95" fill="#7030a0"/><circle cx="877.7" cy="582.8" r="0.95" fill="#7030a0"/><circle cx="876.2" cy="587.3" r="0.95" fill="#7030a0"/><circle cx="877.5" cy="587.5" r="0.95" fill="#7030a0"/><circle cx="875.1" cy="586.1" r="0.95" fill="#7030a0"/><circle cx="881.8" cy="576.9" r="0.95" fill="#7030a0"/><circle cx="878.8" cy="584.9" r="0.95" fill="#7030a0"/><circle cx="876.8" cy="586.9" r="0.95" fill="#7030a0"/><circle cx="875.2" cy="588.1" r="0.95" fill="#7030a0"/><circle cx="878.3" cy="587.8" r="0.95" fill="#7030a0"/><circle cx="879.4" cy="586.6" r="0.95" fill="#7030a0"/><circle cx="879.1" cy="584.5" r="0.95" fill="#7030a0"/><circle cx="883.1" cy="584.3" r="0.95" fill="#7030a0"/><circle cx="879.5" cy="587.5" r="0.95" fill="#7030a0"/><circle cx="882.4" cy="587.8" r="0.95" fill="#7030a0"/><circle cx="875.9" cy="586.3" r="0.95" fill="#7030a0"/><circle cx="874.9" cy="588.1" r="0.95" fill="#7030a0"/><circle cx="876.6" cy="585.3" r="0.95" fill="#7030a0"/><circle cx="878.7" cy="587.6" r="0.95" fill="#7030a0"/><circle cx="875.1" cy="584.5" r="0.95" fill="#7030a0"/><circle cx="880.7" cy="588.2" r="0.95" fill="#7030a0"/><circle cx="883.3" cy="586.2" r="0.95" fill="#7030a0"/><circle cx="875.4" cy="584.3" r="0.95" fill="#7030a0"/><circle cx="880.2" cy="587.8" r="0.95" fill="#7030a0"/><circle cx="877.1" cy="580.7" r="0.95" fill="#7030a0"/><circle cx="880.6" cy="582.7" r="0.95" fill="#7030a0"/><circle cx="877.2" cy="584" r="0.95" fill="#7030a0"/><circle cx="882.1" cy="586.4" r="0.95" fill="#7030a0"/><circle cx="879.6" cy="576.3" r="0.95" fill="#7030a0"/><circle cx="880.1" cy="583.6" r="0.95" fill="#7030a0"/><circle cx="876.3" cy="586.9" r="0.95" fill="#7030a0"/><circle cx="879.8" cy="579.3" r="0.95" fill="#7030a0"/><circle cx="876.2" cy="587" r="0.95" fill="#7030a0"/><circle cx="881.7" cy="587.2" r="0.95" fill="#7030a0"/><circle cx="875.9" cy="584.3" r="0.95" fill="#7030a0"/><circle cx="876.7" cy="578" r="0.95" fill="#7030a0"/><circle cx="878.7" cy="586.8" r="0.95" fill="#7030a0"/><circle cx="879.4" cy="573.5" r="0.95" fill="#7030a0"/><circle cx="883.5" cy="581.3" r="0.95" fill="#7030a0"/><circle cx="877" cy="585.6" r="0.95" fill="#7030a0"/><circle cx="881.8" cy="586.7" r="0.95" fill="#7030a0"/><circle cx="881" cy="583.2" r="0.95" fill="#7030a0"/><circle cx="882.9" cy="585.2" r="0.95" fill="#7030a0"/><circle cx="881.6" cy="585.8" r="0.95" fill="#7030a0"/><circle cx="876.6" cy="586.8" r="0.95" fill="#7030a0"/><circle cx="883.3" cy="585.4" r="0.95" fill="#7030a0"/><circle cx="879.4" cy="581.1" r="0.95" fill="#7030a0"/><circle cx="881.8" cy="585.9" r="0.95" fill="#7030a0"/><circle cx="880.4" cy="586" r="0.95" fill="#7030a0"/><circle cx="879.4" cy="587.4" r="0.95" fill="#7030a0"/><circle cx="877.8" cy="587.4" r="0.95" fill="#7030a0"/><circle cx="879.7" cy="583.2" r="0.95" fill="#7030a0"/><circle cx="877.4" cy="583.5" r="0.95" fill="#7030a0"/><circle cx="875.3" cy="585.7" r="0.95" fill="#7030a0"/><circle cx="881" cy="584.8" r="0.95" fill="#7030a0"/><circle cx="880.8" cy="587.5" r="0.95" fill="#7030a0"/><circle cx="881.3" cy="587.3" r="0.95" fill="#7030a0"/><circle cx="883.2" cy="585.5" r="0.95" fill="#7030a0"/><circle cx="876.9" cy="586.3" r="0.95" fill="#7030a0"/><circle cx="881.4" cy="581.8" r="0.95" fill="#7030a0"/><circle cx="881.6" cy="578.3" r="0.95" fill="#7030a0"/><circle cx="876" cy="587.7" r="0.95" fill="#7030a0"/><circle cx="875.4" cy="583.9" r="0.95" fill="#7030a0"/><circle cx="879.9" cy="587.1" r="0.95" fill="#7030a0"/><circle cx="881.5" cy="584.9" r="0.95" fill="#7030a0"/><circle cx="880.3" cy="586.5" r="0.95" fill="#7030a0"/><circle cx="884.9" cy="579.5" r="0.95" fill="#16a59b"/><circle cx="884.8" cy="584" r="0.95" fill="#16a59b"/><circle cx="890" cy="574.7" r="0.95" fill="#16a59b"/><circle cx="884.7" cy="587.4" r="0.95" fill="#16a59b"/><circle cx="885.6" cy="585.5" r="0.95" fill="#16a59b"/><circle cx="889" cy="575.4" r="0.95" fill="#16a59b"/><circle cx="888.6" cy="587" r="0.95" fill="#16a59b"/><circle cx="890.9" cy="586.4" r="0.95" fill="#16a59b"/><circle cx="891.7" cy="583.2" r="0.95" fill="#16a59b"/><circle cx="885.1" cy="583.9" r="0.95" fill="#16a59b"/><circle cx="889.1" cy="577.5" r="0.95" fill="#16a59b"/><circle cx="890.8" cy="587.7" r="0.95" fill="#16a59b"/><circle cx="884.7" cy="585.7" r="0.95" fill="#16a59b"/><circle cx="890.6" cy="587.5" r="0.95" fill="#16a59b"/><circle cx="890.1" cy="583.5" r="0.95" fill="#16a59b"/><circle cx="888.2" cy="581.8" r="0.95" fill="#16a59b"/><circle cx="891" cy="580.1" r="0.95" fill="#16a59b"/><circle cx="887.4" cy="587.6" r="0.95" fill="#16a59b"/><circle cx="885.1" cy="581" r="0.95" fill="#16a59b"/><circle cx="892.4" cy="584.8" r="0.95" fill="#16a59b"/><circle cx="888.7" cy="582.8" r="0.95" fill="#16a59b"/><circle cx="885.7" cy="578.8" r="0.95" fill="#16a59b"/><circle cx="893.4" cy="579.9" r="0.95" fill="#16a59b"/><circle cx="891.7" cy="587.7" r="0.95" fill="#16a59b"/><circle cx="890.6" cy="584.7" r="0.95" fill="#16a59b"/><circle cx="888" cy="579.7" r="0.95" fill="#16a59b"/><circle cx="892.2" cy="578.1" r="0.95" fill="#16a59b"/><circle cx="892.2" cy="585" r="0.95" fill="#16a59b"/><circle cx="888.4" cy="587.3" r="0.95" fill="#16a59b"/><circle cx="887.5" cy="585.9" r="0.95" fill="#16a59b"/><circle cx="890.4" cy="586.6" r="0.95" fill="#16a59b"/><circle cx="885.1" cy="582.4" r="0.95" fill="#16a59b"/><circle cx="889.4" cy="585.9" r="0.95" fill="#16a59b"/><circle cx="889.2" cy="575.2" r="0.95" fill="#16a59b"/><circle cx="884.7" cy="584.6" r="0.95" fill="#16a59b"/><circle cx="885.8" cy="587.2" r="0.95" fill="#16a59b"/><circle cx="889.4" cy="587.5" r="0.95" fill="#16a59b"/><circle cx="889.3" cy="586.9" r="0.95" fill="#16a59b"/><circle cx="887.3" cy="586.5" r="0.95" fill="#16a59b"/><circle cx="889.5" cy="586.9" r="0.95" fill="#16a59b"/><circle cx="886.2" cy="584.8" r="0.95" fill="#16a59b"/><circle cx="893.6" cy="587.5" r="0.95" fill="#16a59b"/><circle cx="889.2" cy="587.5" r="0.95" fill="#16a59b"/><circle cx="891.6" cy="567.2" r="0.95" fill="#16a59b"/><circle cx="884.7" cy="586.4" r="0.95" fill="#16a59b"/><circle cx="886.2" cy="582.4" r="0.95" fill="#16a59b"/><circle cx="888.5" cy="576.4" r="0.95" fill="#16a59b"/><circle cx="893.2" cy="586.8" r="0.95" fill="#16a59b"/><circle cx="889.3" cy="581.1" r="0.95" fill="#16a59b"/><circle cx="890.6" cy="585.2" r="0.95" fill="#16a59b"/><circle cx="888" cy="586.3" r="0.95" fill="#16a59b"/><circle cx="887.6" cy="577.3" r="0.95" fill="#16a59b"/><circle cx="887.4" cy="569.8" r="0.95" fill="#16a59b"/><circle cx="892" cy="586.1" r="0.95" fill="#16a59b"/><circle cx="886.1" cy="584.7" r="0.95" fill="#16a59b"/><circle cx="887.5" cy="585.8" r="0.95" fill="#16a59b"/><circle cx="891.7" cy="576.1" r="0.95" fill="#16a59b"/><circle cx="887.5" cy="587.4" r="0.95" fill="#16a59b"/><circle cx="886.4" cy="587.5" r="0.95" fill="#16a59b"/><circle cx="892.4" cy="586.4" r="0.95" fill="#16a59b"/><circle cx="892.2" cy="586.9" r="0.95" fill="#16a59b"/><circle cx="885.8" cy="585.1" r="0.95" fill="#16a59b"/><circle cx="892.7" cy="578.9" r="0.95" fill="#16a59b"/><circle cx="893.3" cy="587.7" r="0.95" fill="#16a59b"/><circle cx="884.9" cy="587.1" r="0.95" fill="#16a59b"/><circle cx="888.9" cy="584.3" r="0.95" fill="#16a59b"/><circle cx="891.7" cy="576.2" r="0.95" fill="#16a59b"/><circle cx="885.9" cy="587.2" r="0.95" fill="#16a59b"/><circle cx="889.7" cy="582.9" r="0.95" fill="#16a59b"/><circle cx="889.2" cy="585.8" r="0.95" fill="#16a59b"/><circle cx="890.5" cy="586" r="0.95" fill="#16a59b"/><circle cx="892.8" cy="571.4" r="0.95" fill="#16a59b"/><circle cx="891.8" cy="568.1" r="0.95" fill="#16a59b"/><circle cx="889.8" cy="584" r="0.95" fill="#16a59b"/><circle cx="889.4" cy="583.3" r="0.95" fill="#16a59b"/><circle cx="892" cy="580.8" r="0.95" fill="#16a59b"/><circle cx="891.6" cy="586.7" r="0.95" fill="#16a59b"/><circle cx="885.4" cy="586.1" r="0.95" fill="#16a59b"/><circle cx="889.3" cy="583.4" r="0.95" fill="#16a59b"/><circle cx="891.3" cy="585.7" r="0.95" fill="#16a59b"/><circle cx="893.6" cy="587.7" r="0.95" fill="#16a59b"/><circle cx="884.6" cy="586.7" r="0.95" fill="#16a59b"/><circle cx="893" cy="586.7" r="0.95" fill="#16a59b"/><circle cx="887.1" cy="581.5" r="0.95" fill="#16a59b"/><circle cx="886.6" cy="579.6" r="0.95" fill="#16a59b"/><circle cx="886.3" cy="584.7" r="0.95" fill="#16a59b"/><circle cx="890" cy="584.9" r="0.95" fill="#16a59b"/><circle cx="888.9" cy="579" r="0.95" fill="#16a59b"/><circle cx="893.5" cy="580.4" r="0.95" fill="#16a59b"/><circle cx="888.9" cy="570.4" r="0.95" fill="#16a59b"/><circle cx="890.5" cy="584.8" r="0.95" fill="#16a59b"/><circle cx="886.5" cy="587" r="0.95" fill="#16a59b"/><circle cx="891.1" cy="577.1" r="0.95" fill="#16a59b"/><circle cx="891.9" cy="585.4" r="0.95" fill="#16a59b"/><circle cx="887.8" cy="584.9" r="0.95" fill="#16a59b"/><circle cx="902.4" cy="583.3" r="0.95" fill="#f99bc9"/><circle cx="896.7" cy="577.2" r="0.95" fill="#f99bc9"/><circle cx="901.1" cy="579.8" r="0.95" fill="#f99bc9"/><circle cx="898" cy="582.6" r="0.95" fill="#f99bc9"/><circle cx="898.7" cy="579.1" r="0.95" fill="#f99bc9"/><circle cx="897.3" cy="581.4" r="0.95" fill="#f99bc9"/><circle cx="899" cy="583.8" r="0.95" fill="#f99bc9"/><circle cx="899.1" cy="577.6" r="0.95" fill="#f99bc9"/><circle cx="896.7" cy="584.7" r="0.95" fill="#f99bc9"/><circle cx="898" cy="584.3" r="0.95" fill="#f99bc9"/><circle cx="899.4" cy="584.6" r="0.95" fill="#f99bc9"/><circle cx="895.3" cy="578" r="0.95" fill="#f99bc9"/><circle cx="900" cy="578.6" r="0.95" fill="#f99bc9"/><circle cx="895" cy="571.9" r="0.95" fill="#f99bc9"/><circle cx="899" cy="576.9" r="0.95" fill="#f99bc9"/><circle cx="901.5" cy="584.6" r="0.95" fill="#f99bc9"/><circle cx="896.7" cy="582.5" r="0.95" fill="#f99bc9"/><circle cx="901.3" cy="583.5" r="0.95" fill="#f99bc9"/><circle cx="898.7" cy="582.4" r="0.95" fill="#f99bc9"/><circle cx="897.7" cy="580.1" r="0.95" fill="#f99bc9"/><circle cx="901.1" cy="584.5" r="0.95" fill="#f99bc9"/><circle cx="896.1" cy="579.3" r="0.95" fill="#f99bc9"/><circle cx="897" cy="584.4" r="0.95" fill="#f99bc9"/><circle cx="900" cy="584.5" r="0.95" fill="#f99bc9"/><circle cx="896.4" cy="579.1" r="0.95" fill="#f99bc9"/><circle cx="901.9" cy="581.6" r="0.95" fill="#f99bc9"/><circle cx="901.2" cy="571.8" r="0.95" fill="#f99bc9"/><circle cx="896.4" cy="574.3" r="0.95" fill="#f99bc9"/><circle cx="901.2" cy="583" r="0.95" fill="#f99bc9"/><circle cx="898.1" cy="579.3" r="0.95" fill="#f99bc9"/><circle cx="901.8" cy="584.1" r="0.95" fill="#f99bc9"/><circle cx="901.9" cy="582.3" r="0.95" fill="#f99bc9"/><circle cx="900.3" cy="575.5" r="0.95" fill="#f99bc9"/><circle cx="896.1" cy="577.4" r="0.95" fill="#f99bc9"/><circle cx="895.4" cy="570.2" r="0.95" fill="#f99bc9"/><circle cx="899.2" cy="581.7" r="0.95" fill="#f99bc9"/><circle cx="895.2" cy="583.2" r="0.95" fill="#f99bc9"/><circle cx="902.2" cy="584.2" r="0.95" fill="#f99bc9"/><circle cx="900.7" cy="582.4" r="0.95" fill="#f99bc9"/><circle cx="895.6" cy="581.8" r="0.95" fill="#f99bc9"/><circle cx="897.6" cy="583.1" r="0.95" fill="#f99bc9"/><circle cx="900.8" cy="584.4" r="0.95" fill="#f99bc9"/><circle cx="896.6" cy="584" r="0.95" fill="#f99bc9"/><circle cx="902.5" cy="584.2" r="0.95" fill="#f99bc9"/><circle cx="900.7" cy="577.8" r="0.95" fill="#f99bc9"/><circle cx="898.9" cy="578.5" r="0.95" fill="#f99bc9"/><circle cx="901.3" cy="583.8" r="0.95" fill="#f99bc9"/><circle cx="898.8" cy="582.6" r="0.95" fill="#f99bc9"/><circle cx="897.5" cy="578.7" r="0.95" fill="#f99bc9"/><circle cx="898.9" cy="577.5" r="0.95" fill="#f99bc9"/><circle cx="896.5" cy="569.2" r="0.95" fill="#f99bc9"/><circle cx="895.9" cy="582.8" r="0.95" fill="#f99bc9"/><circle cx="895" cy="582.5" r="0.95" fill="#f99bc9"/><circle cx="901.9" cy="581.9" r="0.95" fill="#f99bc9"/><circle cx="898.2" cy="582.5" r="0.95" fill="#f99bc9"/><circle cx="899.2" cy="584.6" r="0.95" fill="#f99bc9"/><circle cx="898.4" cy="575.5" r="0.95" fill="#f99bc9"/><circle cx="901.9" cy="582.4" r="0.95" fill="#f99bc9"/><circle cx="898.5" cy="583" r="0.95" fill="#f99bc9"/><circle cx="898.5" cy="571.6" r="0.95" fill="#f99bc9"/><circle cx="899.1" cy="576.2" r="0.95" fill="#f99bc9"/><circle cx="894.9" cy="582.6" r="0.95" fill="#f99bc9"/><circle cx="899.7" cy="573.1" r="0.95" fill="#f99bc9"/><circle cx="902.6" cy="575.4" r="0.95" fill="#f99bc9"/><circle cx="901.3" cy="581.4" r="0.95" fill="#f99bc9"/><circle cx="898.6" cy="584.1" r="0.95" fill="#f99bc9"/><circle cx="895.8" cy="582.3" r="0.95" fill="#f99bc9"/><circle cx="896.6" cy="582.8" r="0.95" fill="#f99bc9"/><circle cx="898.2" cy="584" r="0.95" fill="#f99bc9"/><circle cx="901.7" cy="582" r="0.95" fill="#f99bc9"/><circle cx="898.3" cy="575.7" r="0.95" fill="#f99bc9"/><circle cx="902.1" cy="580.6" r="0.95" fill="#f99bc9"/><circle cx="899" cy="583.3" r="0.95" fill="#f99bc9"/><circle cx="902.7" cy="581.4" r="0.95" fill="#f99bc9"/><circle cx="900.8" cy="582.5" r="0.95" fill="#f99bc9"/><circle cx="901.6" cy="579.6" r="0.95" fill="#f99bc9"/><circle cx="899.5" cy="584.7" r="0.95" fill="#f99bc9"/><circle cx="900.8" cy="584.8" r="0.95" fill="#f99bc9"/><circle cx="899.9" cy="583.7" r="0.95" fill="#f99bc9"/><circle cx="901.1" cy="572.4" r="0.95" fill="#f99bc9"/><circle cx="894.8" cy="583.1" r="0.95" fill="#f99bc9"/><circle cx="902.1" cy="582.8" r="0.95" fill="#f99bc9"/><circle cx="899.7" cy="580" r="0.95" fill="#f99bc9"/><circle cx="901.3" cy="583.7" r="0.95" fill="#f99bc9"/><circle cx="895.2" cy="584.6" r="0.95" fill="#f99bc9"/><circle cx="896.5" cy="584.7" r="0.95" fill="#f99bc9"/><circle cx="898" cy="580.2" r="0.95" fill="#f99bc9"/><circle cx="896.3" cy="580.6" r="0.95" fill="#f99bc9"/><circle cx="901.5" cy="583.7" r="0.95" fill="#f99bc9"/><circle cx="898.2" cy="575.9" r="0.95" fill="#f99bc9"/><circle cx="902" cy="583.7" r="0.95" fill="#f99bc9"/><circle cx="894.8" cy="580.9" r="0.95" fill="#f99bc9"/><circle cx="899.8" cy="582.5" r="0.95" fill="#f99bc9"/><circle cx="901.6" cy="574.3" r="0.95" fill="#f99bc9"/><circle cx="904.1" cy="584.4" r="0.95" fill="#ff5c21"/><circle cx="905.1" cy="582.6" r="0.95" fill="#ff5c21"/><circle cx="906" cy="582.3" r="0.95" fill="#ff5c21"/><circle cx="907.6" cy="588.2" r="0.95" fill="#ff5c21"/><circle cx="909.1" cy="585.5" r="0.95" fill="#ff5c21"/><circle cx="911.2" cy="586.9" r="0.95" fill="#ff5c21"/><circle cx="905.4" cy="581.7" r="0.95" fill="#ff5c21"/><circle cx="905.3" cy="584.9" r="0.95" fill="#ff5c21"/><circle cx="909.5" cy="585.2" r="0.95" fill="#ff5c21"/><circle cx="907.5" cy="588.1" r="0.95" fill="#ff5c21"/><circle cx="910.7" cy="582.7" r="0.95" fill="#ff5c21"/><circle cx="910.6" cy="583.6" r="0.95" fill="#ff5c21"/><circle cx="906.3" cy="585.2" r="0.95" fill="#ff5c21"/><circle cx="907.7" cy="581.9" r="0.95" fill="#ff5c21"/><circle cx="912.9" cy="585.4" r="0.95" fill="#ff5c21"/><circle cx="909.6" cy="585.7" r="0.95" fill="#ff5c21"/><circle cx="906.4" cy="587.6" r="0.95" fill="#ff5c21"/><circle cx="904.8" cy="585.3" r="0.95" fill="#ff5c21"/><circle cx="910.8" cy="569.4" r="0.95" fill="#ff5c21"/><circle cx="911.6" cy="583.3" r="0.95" fill="#ff5c21"/><circle cx="907.4" cy="587.5" r="0.95" fill="#ff5c21"/><circle cx="910" cy="587.8" r="0.95" fill="#ff5c21"/><circle cx="904.1" cy="585.1" r="0.95" fill="#ff5c21"/><circle cx="911.3" cy="588.2" r="0.95" fill="#ff5c21"/><circle cx="906.6" cy="585.1" r="0.95" fill="#ff5c21"/><circle cx="912.5" cy="588.2" r="0.95" fill="#ff5c21"/><circle cx="911.2" cy="582.6" r="0.95" fill="#ff5c21"/><circle cx="904.1" cy="588" r="0.95" fill="#ff5c21"/><circle cx="907.4" cy="587.7" r="0.95" fill="#ff5c21"/><circle cx="907" cy="586.1" r="0.95" fill="#ff5c21"/><circle cx="905.8" cy="586.9" r="0.95" fill="#ff5c21"/><circle cx="905.7" cy="582.7" r="0.95" fill="#ff5c21"/><circle cx="904.2" cy="586.3" r="0.95" fill="#ff5c21"/><circle cx="909.6" cy="587.5" r="0.95" fill="#ff5c21"/><circle cx="908.1" cy="576.4" r="0.95" fill="#ff5c21"/><circle cx="909.2" cy="581.6" r="0.95" fill="#ff5c21"/><circle cx="910.1" cy="587.6" r="0.95" fill="#ff5c21"/><circle cx="909.4" cy="576.6" r="0.95" fill="#ff5c21"/><circle cx="904.2" cy="577.8" r="0.95" fill="#ff5c21"/><circle cx="905" cy="578.3" r="0.95" fill="#ff5c21"/><circle cx="905.3" cy="585.9" r="0.95" fill="#ff5c21"/><circle cx="910.1" cy="578.8" r="0.95" fill="#ff5c21"/><circle cx="912.8" cy="587.7" r="0.95" fill="#ff5c21"/><circle cx="907.1" cy="587.6" r="0.95" fill="#ff5c21"/><circle cx="904.6" cy="586" r="0.95" fill="#ff5c21"/><circle cx="907.5" cy="584.1" r="0.95" fill="#ff5c21"/><circle cx="904.5" cy="587.1" r="0.95" fill="#ff5c21"/><circle cx="910.9" cy="583.5" r="0.95" fill="#ff5c21"/><circle cx="904.5" cy="588.1" r="0.95" fill="#ff5c21"/><circle cx="910.1" cy="587" r="0.95" fill="#ff5c21"/><circle cx="909" cy="588.1" r="0.95" fill="#ff5c21"/><circle cx="909.4" cy="585.1" r="0.95" fill="#ff5c21"/><circle cx="911.2" cy="581.6" r="0.95" fill="#ff5c21"/><circle cx="908.9" cy="585.2" r="0.95" fill="#ff5c21"/><circle cx="912.3" cy="578" r="0.95" fill="#ff5c21"/><circle cx="909.6" cy="583.1" r="0.95" fill="#ff5c21"/><circle cx="910.9" cy="572.2" r="0.95" fill="#ff5c21"/><circle cx="912.3" cy="587.6" r="0.95" fill="#ff5c21"/><circle cx="910" cy="585.1" r="0.95" fill="#ff5c21"/><circle cx="906.1" cy="583.3" r="0.95" fill="#ff5c21"/><circle cx="911.5" cy="583.8" r="0.95" fill="#ff5c21"/><circle cx="906.6" cy="587.2" r="0.95" fill="#ff5c21"/><circle cx="904.7" cy="585.7" r="0.95" fill="#ff5c21"/><circle cx="907.4" cy="577.2" r="0.95" fill="#ff5c21"/><circle cx="907.3" cy="571.3" r="0.95" fill="#ff5c21"/><circle cx="904.4" cy="572.2" r="0.95" fill="#ff5c21"/><circle cx="912.1" cy="586.4" r="0.95" fill="#ff5c21"/><circle cx="905.5" cy="582.7" r="0.95" fill="#ff5c21"/><circle cx="908.8" cy="587.5" r="0.95" fill="#ff5c21"/><circle cx="905.4" cy="574.1" r="0.95" fill="#ff5c21"/><circle cx="909.4" cy="588" r="0.95" fill="#ff5c21"/><circle cx="906.8" cy="568.8" r="0.95" fill="#ff5c21"/><circle cx="909.8" cy="587.4" r="0.95" fill="#ff5c21"/><circle cx="909.4" cy="584.6" r="0.95" fill="#ff5c21"/><circle cx="904.6" cy="585.5" r="0.95" fill="#ff5c21"/><circle cx="908.5" cy="583" r="0.95" fill="#ff5c21"/><circle cx="904.2" cy="578.1" r="0.95" fill="#ff5c21"/><circle cx="909.6" cy="582.8" r="0.95" fill="#ff5c21"/><circle cx="910.5" cy="580.1" r="0.95" fill="#ff5c21"/><circle cx="911.6" cy="585.9" r="0.95" fill="#ff5c21"/><circle cx="911.7" cy="579.2" r="0.95" fill="#ff5c21"/><circle cx="911.7" cy="581.3" r="0.95" fill="#ff5c21"/><circle cx="910" cy="586.9" r="0.95" fill="#ff5c21"/><circle cx="908.2" cy="575.1" r="0.95" fill="#ff5c21"/><circle cx="912.8" cy="583.7" r="0.95" fill="#ff5c21"/><circle cx="907.5" cy="587.5" r="0.95" fill="#ff5c21"/><circle cx="912.1" cy="588.1" r="0.95" fill="#ff5c21"/><circle cx="910.4" cy="575.6" r="0.95" fill="#ff5c21"/><circle cx="907.3" cy="587.6" r="0.95" fill="#ff5c21"/><circle cx="912.7" cy="584.5" r="0.95" fill="#ff5c21"/><circle cx="906.3" cy="586.5" r="0.95" fill="#ff5c21"/><circle cx="904.5" cy="588.1" r="0.95" fill="#ff5c21"/><circle cx="910.1" cy="587.4" r="0.95" fill="#ff5c21"/><circle cx="915.2" cy="583.6" r="0.95" fill="#ffc40f"/><circle cx="922.9" cy="580.7" r="0.95" fill="#ffc40f"/><circle cx="922.5" cy="584" r="0.95" fill="#ffc40f"/><circle cx="915.3" cy="584.6" r="0.95" fill="#ffc40f"/><circle cx="920.9" cy="584" r="0.95" fill="#ffc40f"/><circle cx="915.6" cy="580.9" r="0.95" fill="#ffc40f"/><circle cx="918.4" cy="578.9" r="0.95" fill="#ffc40f"/><circle cx="922.2" cy="584" r="0.95" fill="#ffc40f"/><circle cx="920.8" cy="583.7" r="0.95" fill="#ffc40f"/><circle cx="923.4" cy="584.6" r="0.95" fill="#ffc40f"/><circle cx="918.4" cy="583.7" r="0.95" fill="#ffc40f"/><circle cx="918.5" cy="581.9" r="0.95" fill="#ffc40f"/><circle cx="917.5" cy="578" r="0.95" fill="#ffc40f"/><circle cx="915.5" cy="581.8" r="0.95" fill="#ffc40f"/><circle cx="918" cy="584.5" r="0.95" fill="#ffc40f"/><circle cx="921.7" cy="581.9" r="0.95" fill="#ffc40f"/><circle cx="923.2" cy="583.8" r="0.95" fill="#ffc40f"/><circle cx="918.3" cy="579.6" r="0.95" fill="#ffc40f"/><circle cx="922.7" cy="580" r="0.95" fill="#ffc40f"/><circle cx="915.9" cy="584.1" r="0.95" fill="#ffc40f"/><circle cx="914.7" cy="583.8" r="0.95" fill="#ffc40f"/><circle cx="922.7" cy="583.9" r="0.95" fill="#ffc40f"/><circle cx="919" cy="584.5" r="0.95" fill="#ffc40f"/><circle cx="919.7" cy="584.1" r="0.95" fill="#ffc40f"/><circle cx="920.1" cy="584.4" r="0.95" fill="#ffc40f"/><circle cx="920.5" cy="570.4" r="0.95" fill="#ffc40f"/><circle cx="917.5" cy="583.6" r="0.95" fill="#ffc40f"/><circle cx="919.1" cy="584" r="0.95" fill="#ffc40f"/><circle cx="917.1" cy="581.4" r="0.95" fill="#ffc40f"/><circle cx="916" cy="583.6" r="0.95" fill="#ffc40f"/><circle cx="914.2" cy="574.8" r="0.95" fill="#ffc40f"/><circle cx="917.3" cy="580" r="0.95" fill="#ffc40f"/><circle cx="915.2" cy="582.2" r="0.95" fill="#ffc40f"/><circle cx="923.4" cy="582.5" r="0.95" fill="#ffc40f"/><circle cx="915.2" cy="581.3" r="0.95" fill="#ffc40f"/><circle cx="919.4" cy="581.8" r="0.95" fill="#ffc40f"/><circle cx="921.3" cy="583.6" r="0.95" fill="#ffc40f"/><circle cx="919.5" cy="570.6" r="0.95" fill="#ffc40f"/><circle cx="921.6" cy="584.4" r="0.95" fill="#ffc40f"/><circle cx="921.4" cy="576.1" r="0.95" fill="#ffc40f"/><circle cx="915" cy="578.9" r="0.95" fill="#ffc40f"/><circle cx="921.7" cy="583.6" r="0.95" fill="#ffc40f"/><circle cx="919.4" cy="580.3" r="0.95" fill="#ffc40f"/><circle cx="918" cy="580.7" r="0.95" fill="#ffc40f"/><circle cx="917.9" cy="584.8" r="0.95" fill="#ffc40f"/><circle cx="915.8" cy="572" r="0.95" fill="#ffc40f"/><circle cx="920.9" cy="570.5" r="0.95" fill="#ffc40f"/><circle cx="923.5" cy="581.9" r="0.95" fill="#ffc40f"/><circle cx="921.3" cy="581.1" r="0.95" fill="#ffc40f"/><circle cx="918.3" cy="583.6" r="0.95" fill="#ffc40f"/><circle cx="916" cy="583.2" r="0.95" fill="#ffc40f"/><circle cx="917.8" cy="582.2" r="0.95" fill="#ffc40f"/><circle cx="916" cy="575.8" r="0.95" fill="#ffc40f"/><circle cx="921.3" cy="578.2" r="0.95" fill="#ffc40f"/><circle cx="921.5" cy="583.5" r="0.95" fill="#ffc40f"/><circle cx="921" cy="582.1" r="0.95" fill="#ffc40f"/><circle cx="920.1" cy="576.9" r="0.95" fill="#ffc40f"/><circle cx="919.4" cy="584.3" r="0.95" fill="#ffc40f"/><circle cx="917.3" cy="581.2" r="0.95" fill="#ffc40f"/><circle cx="923.1" cy="584.5" r="0.95" fill="#ffc40f"/><circle cx="914.4" cy="582.4" r="0.95" fill="#ffc40f"/><circle cx="916.6" cy="581.7" r="0.95" fill="#ffc40f"/><circle cx="917.4" cy="583" r="0.95" fill="#ffc40f"/><circle cx="921.7" cy="579.9" r="0.95" fill="#ffc40f"/><circle cx="919.7" cy="584.5" r="0.95" fill="#ffc40f"/><circle cx="915.8" cy="579.4" r="0.95" fill="#ffc40f"/><circle cx="915.1" cy="583.8" r="0.95" fill="#ffc40f"/><circle cx="919.5" cy="584.8" r="0.95" fill="#ffc40f"/><circle cx="917.5" cy="579.8" r="0.95" fill="#ffc40f"/><circle cx="919.3" cy="582.4" r="0.95" fill="#ffc40f"/><circle cx="916.2" cy="582.4" r="0.95" fill="#ffc40f"/><circle cx="922.6" cy="581.6" r="0.95" fill="#ffc40f"/><circle cx="917.9" cy="581.4" r="0.95" fill="#ffc40f"/><circle cx="916.4" cy="576.4" r="0.95" fill="#ffc40f"/><circle cx="919.3" cy="576.4" r="0.95" fill="#ffc40f"/><circle cx="919.4" cy="580.5" r="0.95" fill="#ffc40f"/><circle cx="920.4" cy="578.6" r="0.95" fill="#ffc40f"/><circle cx="920" cy="582" r="0.95" fill="#ffc40f"/><circle cx="922.2" cy="570.3" r="0.95" fill="#ffc40f"/><circle cx="920.5" cy="577.6" r="0.95" fill="#ffc40f"/><circle cx="919.7" cy="580.5" r="0.95" fill="#ffc40f"/><circle cx="918.3" cy="579.3" r="0.95" fill="#ffc40f"/><circle cx="917.9" cy="581.3" r="0.95" fill="#ffc40f"/><circle cx="916.2" cy="571.8" r="0.95" fill="#ffc40f"/><circle cx="916.2" cy="581.3" r="0.95" fill="#ffc40f"/><circle cx="919.4" cy="582.9" r="0.95" fill="#ffc40f"/><circle cx="921" cy="584.5" r="0.95" fill="#ffc40f"/><circle cx="914.3" cy="582.9" r="0.95" fill="#ffc40f"/><circle cx="915.4" cy="584" r="0.95" fill="#ffc40f"/><circle cx="920.1" cy="574.2" r="0.95" fill="#ffc40f"/><circle cx="918" cy="584.4" r="0.95" fill="#ffc40f"/><circle cx="921.4" cy="566.9" r="0.95" fill="#ffc40f"/><circle cx="917.6" cy="578.6" r="0.95" fill="#ffc40f"/><circle cx="925.8" cy="581.9" r="0.95" fill="#7030a0"/><circle cx="926.7" cy="578.6" r="0.95" fill="#7030a0"/><circle cx="932.1" cy="583.5" r="0.95" fill="#7030a0"/><circle cx="928" cy="580" r="0.95" fill="#7030a0"/><circle cx="931.5" cy="584.2" r="0.95" fill="#7030a0"/><circle cx="925.6" cy="581.3" r="0.95" fill="#7030a0"/><circle cx="931.7" cy="572.6" r="0.95" fill="#7030a0"/><circle cx="928.5" cy="584.4" r="0.95" fill="#7030a0"/><circle cx="927.5" cy="579.9" r="0.95" fill="#7030a0"/><circle cx="932.1" cy="579.9" r="0.95" fill="#7030a0"/><circle cx="932.6" cy="579.1" r="0.95" fill="#7030a0"/><circle cx="927.8" cy="572" r="0.95" fill="#7030a0"/><circle cx="927.8" cy="583.7" r="0.95" fill="#7030a0"/><circle cx="926" cy="582.6" r="0.95" fill="#7030a0"/><circle cx="929.1" cy="576.1" r="0.95" fill="#7030a0"/><circle cx="931" cy="581.8" r="0.95" fill="#7030a0"/><circle cx="931.4" cy="578.9" r="0.95" fill="#7030a0"/><circle cx="928.7" cy="572.2" r="0.95" fill="#7030a0"/><circle cx="928.3" cy="572.9" r="0.95" fill="#7030a0"/><circle cx="928.5" cy="582.5" r="0.95" fill="#7030a0"/><circle cx="925.1" cy="583.9" r="0.95" fill="#7030a0"/><circle cx="932" cy="574.4" r="0.95" fill="#7030a0"/><circle cx="924.9" cy="579.5" r="0.95" fill="#7030a0"/><circle cx="932.2" cy="582.1" r="0.95" fill="#7030a0"/><circle cx="932.1" cy="584.2" r="0.95" fill="#7030a0"/><circle cx="924.7" cy="584.1" r="0.95" fill="#7030a0"/><circle cx="924.9" cy="581.1" r="0.95" fill="#7030a0"/><circle cx="927.3" cy="583" r="0.95" fill="#7030a0"/><circle cx="924.9" cy="576.6" r="0.95" fill="#7030a0"/><circle cx="928.4" cy="582.3" r="0.95" fill="#7030a0"/><circle cx="925.9" cy="580.1" r="0.95" fill="#7030a0"/><circle cx="929.7" cy="581.5" r="0.95" fill="#7030a0"/><circle cx="929" cy="583.1" r="0.95" fill="#7030a0"/><circle cx="927" cy="581.4" r="0.95" fill="#7030a0"/><circle cx="925.9" cy="577.5" r="0.95" fill="#7030a0"/><circle cx="929.3" cy="583.4" r="0.95" fill="#7030a0"/><circle cx="925.6" cy="580.5" r="0.95" fill="#7030a0"/><circle cx="925.7" cy="579.1" r="0.95" fill="#7030a0"/><circle cx="927.1" cy="581.3" r="0.95" fill="#7030a0"/><circle cx="930" cy="582.8" r="0.95" fill="#7030a0"/><circle cx="925" cy="574.5" r="0.95" fill="#7030a0"/><circle cx="931.7" cy="583.8" r="0.95" fill="#7030a0"/><circle cx="931.9" cy="578.7" r="0.95" fill="#7030a0"/><circle cx="925.6" cy="583.5" r="0.95" fill="#7030a0"/><circle cx="930.4" cy="583.5" r="0.95" fill="#7030a0"/><circle cx="925.4" cy="573.7" r="0.95" fill="#7030a0"/><circle cx="925" cy="582.8" r="0.95" fill="#7030a0"/><circle cx="932" cy="578.2" r="0.95" fill="#7030a0"/><circle cx="929.7" cy="581.5" r="0.95" fill="#7030a0"/><circle cx="925.8" cy="580" r="0.95" fill="#7030a0"/><circle cx="926.5" cy="576.2" r="0.95" fill="#7030a0"/><circle cx="924.9" cy="571.9" r="0.95" fill="#7030a0"/><circle cx="928.6" cy="576.7" r="0.95" fill="#7030a0"/><circle cx="932.8" cy="584.7" r="0.95" fill="#7030a0"/><circle cx="930.6" cy="584.5" r="0.95" fill="#7030a0"/><circle cx="928.1" cy="584.7" r="0.95" fill="#7030a0"/><circle cx="932.3" cy="580.7" r="0.95" fill="#7030a0"/><circle cx="930.6" cy="579.1" r="0.95" fill="#7030a0"/><circle cx="931.1" cy="582" r="0.95" fill="#7030a0"/><circle cx="928.9" cy="584.4" r="0.95" fill="#7030a0"/><circle cx="927.7" cy="578.4" r="0.95" fill="#7030a0"/><circle cx="932.5" cy="584.4" r="0.95" fill="#7030a0"/><circle cx="930.9" cy="581.8" r="0.95" fill="#7030a0"/><circle cx="931.1" cy="568.1" r="0.95" fill="#7030a0"/><circle cx="929.4" cy="581.5" r="0.95" fill="#7030a0"/><circle cx="929.3" cy="584.7" r="0.95" fill="#7030a0"/><circle cx="925.3" cy="577.7" r="0.95" fill="#7030a0"/><circle cx="932.2" cy="577.1" r="0.95" fill="#7030a0"/><circle cx="927.2" cy="576.6" r="0.95" fill="#7030a0"/><circle cx="927.4" cy="578.5" r="0.95" fill="#7030a0"/><circle cx="925.6" cy="582.3" r="0.95" fill="#7030a0"/><circle cx="927.1" cy="569.7" r="0.95" fill="#7030a0"/><circle cx="928" cy="582" r="0.95" fill="#7030a0"/><circle cx="930.6" cy="582.2" r="0.95" fill="#7030a0"/><circle cx="925.3" cy="582.1" r="0.95" fill="#7030a0"/><circle cx="927.3" cy="577.8" r="0.95" fill="#7030a0"/><circle cx="924.9" cy="566.9" r="0.95" fill="#7030a0"/><circle cx="926.6" cy="584.2" r="0.95" fill="#7030a0"/><circle cx="931.4" cy="581.2" r="0.95" fill="#7030a0"/><circle cx="929.2" cy="583.8" r="0.95" fill="#7030a0"/><circle cx="928.7" cy="583.6" r="0.95" fill="#7030a0"/><circle cx="925" cy="578.1" r="0.95" fill="#7030a0"/><circle cx="932.3" cy="584.3" r="0.95" fill="#7030a0"/><circle cx="932.6" cy="578.1" r="0.95" fill="#7030a0"/><circle cx="927.8" cy="579" r="0.95" fill="#7030a0"/><circle cx="924.9" cy="582.9" r="0.95" fill="#7030a0"/><circle cx="924.9" cy="580.1" r="0.95" fill="#7030a0"/><circle cx="930.5" cy="581.8" r="0.95" fill="#7030a0"/><circle cx="929" cy="581.6" r="0.95" fill="#7030a0"/><circle cx="932.3" cy="584.1" r="0.95" fill="#7030a0"/><circle cx="925.5" cy="576.3" r="0.95" fill="#7030a0"/><circle cx="928" cy="581.3" r="0.95" fill="#7030a0"/><circle cx="928.1" cy="582.9" r="0.95" fill="#7030a0"/><circle cx="931.3" cy="581.8" r="0.95" fill="#7030a0"/><circle cx="940.1" cy="576.8" r="0.95" fill="#16a59b"/><circle cx="940.1" cy="581.3" r="0.95" fill="#16a59b"/><circle cx="939.2" cy="578.5" r="0.95" fill="#16a59b"/><circle cx="939" cy="576.4" r="0.95" fill="#16a59b"/><circle cx="934.3" cy="584.3" r="0.95" fill="#16a59b"/><circle cx="936.4" cy="585" r="0.95" fill="#16a59b"/><circle cx="937.2" cy="583.7" r="0.95" fill="#16a59b"/><circle cx="939.1" cy="584.9" r="0.95" fill="#16a59b"/><circle cx="940.8" cy="579.4" r="0.95" fill="#16a59b"/><circle cx="938.1" cy="580.7" r="0.95" fill="#16a59b"/><circle cx="942.3" cy="583.5" r="0.95" fill="#16a59b"/><circle cx="939.1" cy="583.5" r="0.95" fill="#16a59b"/><circle cx="934.1" cy="585.6" r="0.95" fill="#16a59b"/><circle cx="942.3" cy="576.4" r="0.95" fill="#16a59b"/><circle cx="940.8" cy="577.6" r="0.95" fill="#16a59b"/><circle cx="935.7" cy="578.1" r="0.95" fill="#16a59b"/><circle cx="935.3" cy="582.9" r="0.95" fill="#16a59b"/><circle cx="934.1" cy="576.9" r="0.95" fill="#16a59b"/><circle cx="935.6" cy="585.2" r="0.95" fill="#16a59b"/><circle cx="940.4" cy="584.9" r="0.95" fill="#16a59b"/><circle cx="936.1" cy="580.3" r="0.95" fill="#16a59b"/><circle cx="936.8" cy="585.7" r="0.95" fill="#16a59b"/><circle cx="934.5" cy="575.3" r="0.95" fill="#16a59b"/><circle cx="937.4" cy="575.2" r="0.95" fill="#16a59b"/><circle cx="938.9" cy="577.5" r="0.95" fill="#16a59b"/><circle cx="934.4" cy="584" r="0.95" fill="#16a59b"/><circle cx="940" cy="582.9" r="0.95" fill="#16a59b"/><circle cx="936.9" cy="583.3" r="0.95" fill="#16a59b"/><circle cx="940.3" cy="584.2" r="0.95" fill="#16a59b"/><circle cx="938" cy="585.4" r="0.95" fill="#16a59b"/><circle cx="934.1" cy="583" r="0.95" fill="#16a59b"/><circle cx="936.5" cy="583.2" r="0.95" fill="#16a59b"/><circle cx="942.3" cy="577" r="0.95" fill="#16a59b"/><circle cx="941.7" cy="580.5" r="0.95" fill="#16a59b"/><circle cx="941.1" cy="584.4" r="0.95" fill="#16a59b"/><circle cx="934.3" cy="582.6" r="0.95" fill="#16a59b"/><circle cx="940.4" cy="581.5" r="0.95" fill="#16a59b"/><circle cx="941" cy="583.9" r="0.95" fill="#16a59b"/><circle cx="937.6" cy="582.8" r="0.95" fill="#16a59b"/><circle cx="941.7" cy="582.8" r="0.95" fill="#16a59b"/><circle cx="935.5" cy="583.9" r="0.95" fill="#16a59b"/><circle cx="942.1" cy="584.7" r="0.95" fill="#16a59b"/><circle cx="937.6" cy="583.7" r="0.95" fill="#16a59b"/><circle cx="941.3" cy="580.5" r="0.95" fill="#16a59b"/><circle cx="939.5" cy="583.5" r="0.95" fill="#16a59b"/><circle cx="941.9" cy="568.3" r="0.95" fill="#16a59b"/><circle cx="934" cy="579.6" r="0.95" fill="#16a59b"/><circle cx="934.1" cy="581.7" r="0.95" fill="#16a59b"/><circle cx="937.4" cy="581.3" r="0.95" fill="#16a59b"/><circle cx="940.1" cy="580.1" r="0.95" fill="#16a59b"/><circle cx="942.5" cy="577.7" r="0.95" fill="#16a59b"/><circle cx="937.7" cy="580.4" r="0.95" fill="#16a59b"/><circle cx="937.1" cy="574.9" r="0.95" fill="#16a59b"/><circle cx="940.6" cy="583.7" r="0.95" fill="#16a59b"/><circle cx="935.2" cy="584.9" r="0.95" fill="#16a59b"/><circle cx="938.6" cy="581.8" r="0.95" fill="#16a59b"/><circle cx="936.4" cy="584.7" r="0.95" fill="#16a59b"/><circle cx="942.4" cy="574.3" r="0.95" fill="#16a59b"/><circle cx="939.5" cy="584.6" r="0.95" fill="#16a59b"/><circle cx="935.8" cy="579.4" r="0.95" fill="#16a59b"/><circle cx="936.2" cy="581.9" r="0.95" fill="#16a59b"/><circle cx="942.2" cy="577.9" r="0.95" fill="#16a59b"/><circle cx="937.1" cy="579.9" r="0.95" fill="#16a59b"/><circle cx="936.3" cy="577.5" r="0.95" fill="#16a59b"/><circle cx="942.4" cy="584.4" r="0.95" fill="#16a59b"/><circle cx="937.6" cy="584.7" r="0.95" fill="#16a59b"/><circle cx="936" cy="584.9" r="0.95" fill="#16a59b"/><circle cx="938.2" cy="583.5" r="0.95" fill="#16a59b"/><circle cx="935.5" cy="578.5" r="0.95" fill="#16a59b"/><circle cx="934.7" cy="582.3" r="0.95" fill="#16a59b"/><circle cx="938.3" cy="581.2" r="0.95" fill="#16a59b"/><circle cx="934.9" cy="578.7" r="0.95" fill="#16a59b"/><circle cx="939.4" cy="585.1" r="0.95" fill="#16a59b"/><circle cx="941.6" cy="583.5" r="0.95" fill="#16a59b"/><circle cx="940.8" cy="581.8" r="0.95" fill="#16a59b"/><circle cx="938.6" cy="582.7" r="0.95" fill="#16a59b"/><circle cx="941.4" cy="576.9" r="0.95" fill="#16a59b"/><circle cx="936.4" cy="583" r="0.95" fill="#16a59b"/><circle cx="940.4" cy="580.3" r="0.95" fill="#16a59b"/><circle cx="938.5" cy="585.6" r="0.95" fill="#16a59b"/><circle cx="941.9" cy="585.1" r="0.95" fill="#16a59b"/><circle cx="940.3" cy="584.6" r="0.95" fill="#16a59b"/><circle cx="941.7" cy="585.7" r="0.95" fill="#16a59b"/><circle cx="934.2" cy="584.9" r="0.95" fill="#16a59b"/><circle cx="934.4" cy="572" r="0.95" fill="#16a59b"/><circle cx="939.2" cy="584.7" r="0.95" fill="#16a59b"/><circle cx="934.9" cy="576.8" r="0.95" fill="#16a59b"/><circle cx="939.5" cy="573.3" r="0.95" fill="#16a59b"/><circle cx="940.5" cy="580.4" r="0.95" fill="#16a59b"/><circle cx="934.1" cy="572.6" r="0.95" fill="#16a59b"/><circle cx="934.7" cy="584.7" r="0.95" fill="#16a59b"/><circle cx="941.7" cy="582" r="0.95" fill="#16a59b"/><circle cx="941.1" cy="582.5" r="0.95" fill="#16a59b"/><circle cx="937.4" cy="583.3" r="0.95" fill="#16a59b"/><circle cx="948.2" cy="582.1" r="0.95" fill="#f99bc9"/><circle cx="947.3" cy="583.9" r="0.95" fill="#f99bc9"/><circle cx="950.3" cy="585.5" r="0.95" fill="#f99bc9"/><circle cx="952.4" cy="582.6" r="0.95" fill="#f99bc9"/><circle cx="947.6" cy="583.9" r="0.95" fill="#f99bc9"/><circle cx="945.1" cy="586.5" r="0.95" fill="#f99bc9"/><circle cx="950" cy="585.1" r="0.95" fill="#f99bc9"/><circle cx="951.8" cy="577.3" r="0.95" fill="#f99bc9"/><circle cx="951.3" cy="583.8" r="0.95" fill="#f99bc9"/><circle cx="951.4" cy="583.3" r="0.95" fill="#f99bc9"/><circle cx="946.6" cy="586.6" r="0.95" fill="#f99bc9"/><circle cx="950.9" cy="579.9" r="0.95" fill="#f99bc9"/><circle cx="948.7" cy="587.1" r="0.95" fill="#f99bc9"/><circle cx="945.1" cy="577" r="0.95" fill="#f99bc9"/><circle cx="944.4" cy="585.9" r="0.95" fill="#f99bc9"/><circle cx="944" cy="587" r="0.95" fill="#f99bc9"/><circle cx="944.4" cy="584.7" r="0.95" fill="#f99bc9"/><circle cx="946.2" cy="581.2" r="0.95" fill="#f99bc9"/><circle cx="944.4" cy="587.1" r="0.95" fill="#f99bc9"/><circle cx="944.7" cy="587" r="0.95" fill="#f99bc9"/><circle cx="949.8" cy="570.2" r="0.95" fill="#f99bc9"/><circle cx="947.8" cy="584.9" r="0.95" fill="#f99bc9"/><circle cx="951.9" cy="585" r="0.95" fill="#f99bc9"/><circle cx="948.3" cy="572.2" r="0.95" fill="#f99bc9"/><circle cx="948" cy="586.7" r="0.95" fill="#f99bc9"/><circle cx="945.6" cy="586.8" r="0.95" fill="#f99bc9"/><circle cx="947" cy="567.9" r="0.95" fill="#f99bc9"/><circle cx="944.2" cy="585.5" r="0.95" fill="#f99bc9"/><circle cx="947.8" cy="582.4" r="0.95" fill="#f99bc9"/><circle cx="947.6" cy="578.5" r="0.95" fill="#f99bc9"/><circle cx="950.3" cy="586.3" r="0.95" fill="#f99bc9"/><circle cx="948.6" cy="585.2" r="0.95" fill="#f99bc9"/><circle cx="947.2" cy="575.9" r="0.95" fill="#f99bc9"/><circle cx="946.2" cy="576" r="0.95" fill="#f99bc9"/><circle cx="951.7" cy="586.8" r="0.95" fill="#f99bc9"/><circle cx="950.1" cy="581.7" r="0.95" fill="#f99bc9"/><circle cx="946.4" cy="574.9" r="0.95" fill="#f99bc9"/><circle cx="947.5" cy="587" r="0.95" fill="#f99bc9"/><circle cx="946.5" cy="586.4" r="0.95" fill="#f99bc9"/><circle cx="945.3" cy="576.2" r="0.95" fill="#f99bc9"/><circle cx="952.5" cy="584.4" r="0.95" fill="#f99bc9"/><circle cx="948.1" cy="583.1" r="0.95" fill="#f99bc9"/><circle cx="949.6" cy="586" r="0.95" fill="#f99bc9"/><circle cx="951.8" cy="579.9" r="0.95" fill="#f99bc9"/><circle cx="950.9" cy="586.6" r="0.95" fill="#f99bc9"/><circle cx="948.2" cy="584.1" r="0.95" fill="#f99bc9"/><circle cx="952.3" cy="578.7" r="0.95" fill="#f99bc9"/><circle cx="952.6" cy="586.2" r="0.95" fill="#f99bc9"/><circle cx="945.1" cy="585.4" r="0.95" fill="#f99bc9"/><circle cx="948.6" cy="587" r="0.95" fill="#f99bc9"/><circle cx="949.3" cy="586.3" r="0.95" fill="#f99bc9"/><circle cx="944.8" cy="579.6" r="0.95" fill="#f99bc9"/><circle cx="947.4" cy="576.7" r="0.95" fill="#f99bc9"/><circle cx="949.7" cy="584" r="0.95" fill="#f99bc9"/><circle cx="949.9" cy="586.3" r="0.95" fill="#f99bc9"/><circle cx="948.2" cy="581.6" r="0.95" fill="#f99bc9"/><circle cx="946.1" cy="585.9" r="0.95" fill="#f99bc9"/><circle cx="950.9" cy="578.1" r="0.95" fill="#f99bc9"/><circle cx="948.9" cy="585.9" r="0.95" fill="#f99bc9"/><circle cx="945.2" cy="579.8" r="0.95" fill="#f99bc9"/><circle cx="945.3" cy="562.9" r="0.95" fill="#f99bc9"/><circle cx="945.7" cy="586.9" r="0.95" fill="#f99bc9"/><circle cx="946" cy="585.9" r="0.95" fill="#f99bc9"/><circle cx="945.8" cy="577.9" r="0.95" fill="#f99bc9"/><circle cx="952.2" cy="582.3" r="0.95" fill="#f99bc9"/><circle cx="949.4" cy="579.2" r="0.95" fill="#f99bc9"/><circle cx="944.3" cy="585.4" r="0.95" fill="#f99bc9"/><circle cx="952.5" cy="586.2" r="0.95" fill="#f99bc9"/><circle cx="945.3" cy="581.4" r="0.95" fill="#f99bc9"/><circle cx="946.7" cy="585.5" r="0.95" fill="#f99bc9"/><circle cx="951.6" cy="586.2" r="0.95" fill="#f99bc9"/><circle cx="943.9" cy="586.9" r="0.95" fill="#f99bc9"/><circle cx="945.7" cy="579.8" r="0.95" fill="#f99bc9"/><circle cx="944.6" cy="577" r="0.95" fill="#f99bc9"/><circle cx="943.8" cy="586.1" r="0.95" fill="#f99bc9"/><circle cx="944.8" cy="585.4" r="0.95" fill="#f99bc9"/><circle cx="948.4" cy="584" r="0.95" fill="#f99bc9"/><circle cx="943.7" cy="587" r="0.95" fill="#f99bc9"/><circle cx="947.3" cy="587.1" r="0.95" fill="#f99bc9"/><circle cx="946.6" cy="586.6" r="0.95" fill="#f99bc9"/><circle cx="946.8" cy="583.4" r="0.95" fill="#f99bc9"/><circle cx="950.7" cy="580.5" r="0.95" fill="#f99bc9"/><circle cx="944.1" cy="585.5" r="0.95" fill="#f99bc9"/><circle cx="949.1" cy="587" r="0.95" fill="#f99bc9"/><circle cx="951.9" cy="579.4" r="0.95" fill="#f99bc9"/><circle cx="947.6" cy="586.5" r="0.95" fill="#f99bc9"/><circle cx="948.5" cy="585" r="0.95" fill="#f99bc9"/><circle cx="950.2" cy="586.5" r="0.95" fill="#f99bc9"/><circle cx="946" cy="585" r="0.95" fill="#f99bc9"/><circle cx="943.8" cy="584.1" r="0.95" fill="#f99bc9"/><circle cx="947" cy="585.5" r="0.95" fill="#f99bc9"/><circle cx="949.5" cy="581.7" r="0.95" fill="#f99bc9"/><circle cx="949.3" cy="584" r="0.95" fill="#f99bc9"/><circle cx="946.2" cy="574" r="0.95" fill="#f99bc9"/><circle cx="960.6" cy="584" r="0.95" fill="#ff5c21"/><circle cx="960.8" cy="578.5" r="0.95" fill="#ff5c21"/><circle cx="956.1" cy="585.5" r="0.95" fill="#ff5c21"/><circle cx="961" cy="585.3" r="0.95" fill="#ff5c21"/><circle cx="960.8" cy="583.3" r="0.95" fill="#ff5c21"/><circle cx="956.4" cy="583.8" r="0.95" fill="#ff5c21"/><circle cx="954.1" cy="570.3" r="0.95" fill="#ff5c21"/><circle cx="958.9" cy="586.7" r="0.95" fill="#ff5c21"/><circle cx="955.2" cy="586.2" r="0.95" fill="#ff5c21"/><circle cx="954.6" cy="586.5" r="0.95" fill="#ff5c21"/><circle cx="959.6" cy="584.6" r="0.95" fill="#ff5c21"/><circle cx="960.6" cy="581.2" r="0.95" fill="#ff5c21"/><circle cx="958.3" cy="583.1" r="0.95" fill="#ff5c21"/><circle cx="958.7" cy="582.7" r="0.95" fill="#ff5c21"/><circle cx="956.2" cy="574.5" r="0.95" fill="#ff5c21"/><circle cx="961.3" cy="587" r="0.95" fill="#ff5c21"/><circle cx="961" cy="575.8" r="0.95" fill="#ff5c21"/><circle cx="955.5" cy="583.6" r="0.95" fill="#ff5c21"/><circle cx="955.5" cy="578.4" r="0.95" fill="#ff5c21"/><circle cx="953.9" cy="578.2" r="0.95" fill="#ff5c21"/><circle cx="955.5" cy="585.4" r="0.95" fill="#ff5c21"/><circle cx="956.4" cy="585.8" r="0.95" fill="#ff5c21"/><circle cx="961.4" cy="585.5" r="0.95" fill="#ff5c21"/><circle cx="956.3" cy="581.9" r="0.95" fill="#ff5c21"/><circle cx="955.2" cy="583.6" r="0.95" fill="#ff5c21"/><circle cx="956.4" cy="584.8" r="0.95" fill="#ff5c21"/><circle cx="960.3" cy="568.9" r="0.95" fill="#ff5c21"/><circle cx="954.3" cy="576.1" r="0.95" fill="#ff5c21"/><circle cx="956.2" cy="582.8" r="0.95" fill="#ff5c21"/><circle cx="957.1" cy="583" r="0.95" fill="#ff5c21"/><circle cx="960.6" cy="585.1" r="0.95" fill="#ff5c21"/><circle cx="960.9" cy="587.2" r="0.95" fill="#ff5c21"/><circle cx="959.3" cy="586.2" r="0.95" fill="#ff5c21"/><circle cx="956.6" cy="578.2" r="0.95" fill="#ff5c21"/><circle cx="958.3" cy="582.4" r="0.95" fill="#ff5c21"/><circle cx="960.6" cy="572.8" r="0.95" fill="#ff5c21"/><circle cx="961.6" cy="580.5" r="0.95" fill="#ff5c21"/><circle cx="960.2" cy="574.5" r="0.95" fill="#ff5c21"/><circle cx="953.8" cy="579.1" r="0.95" fill="#ff5c21"/><circle cx="955.6" cy="580.2" r="0.95" fill="#ff5c21"/><circle cx="958.9" cy="568" r="0.95" fill="#ff5c21"/><circle cx="958.4" cy="585" r="0.95" fill="#ff5c21"/><circle cx="955.5" cy="586.7" r="0.95" fill="#ff5c21"/><circle cx="954.1" cy="584.4" r="0.95" fill="#ff5c21"/><circle cx="957.4" cy="577.6" r="0.95" fill="#ff5c21"/><circle cx="961.9" cy="582.8" r="0.95" fill="#ff5c21"/><circle cx="956" cy="585.9" r="0.95" fill="#ff5c21"/><circle cx="956.4" cy="579" r="0.95" fill="#ff5c21"/><circle cx="957.3" cy="586.3" r="0.95" fill="#ff5c21"/><circle cx="960" cy="582.2" r="0.95" fill="#ff5c21"/><circle cx="958.4" cy="573.6" r="0.95" fill="#ff5c21"/><circle cx="957.8" cy="584.7" r="0.95" fill="#ff5c21"/><circle cx="962.1" cy="586.9" r="0.95" fill="#ff5c21"/><circle cx="956.3" cy="585.9" r="0.95" fill="#ff5c21"/><circle cx="961.5" cy="585" r="0.95" fill="#ff5c21"/><circle cx="955.4" cy="584.4" r="0.95" fill="#ff5c21"/><circle cx="956" cy="586.7" r="0.95" fill="#ff5c21"/><circle cx="954.9" cy="585.3" r="0.95" fill="#ff5c21"/><circle cx="958.2" cy="575.5" r="0.95" fill="#ff5c21"/><circle cx="961.7" cy="576.3" r="0.95" fill="#ff5c21"/><circle cx="959.5" cy="584.5" r="0.95" fill="#ff5c21"/><circle cx="957.5" cy="582" r="0.95" fill="#ff5c21"/><circle cx="958.2" cy="586.5" r="0.95" fill="#ff5c21"/><circle cx="957.2" cy="586.8" r="0.95" fill="#ff5c21"/><circle cx="954.3" cy="577.5" r="0.95" fill="#ff5c21"/><circle cx="958.2" cy="574.7" r="0.95" fill="#ff5c21"/><circle cx="956.9" cy="585.1" r="0.95" fill="#ff5c21"/><circle cx="956.1" cy="571.2" r="0.95" fill="#ff5c21"/><circle cx="957.7" cy="580.8" r="0.95" fill="#ff5c21"/><circle cx="958.2" cy="585.8" r="0.95" fill="#ff5c21"/><circle cx="956.1" cy="586.2" r="0.95" fill="#ff5c21"/><circle cx="955.1" cy="584.7" r="0.95" fill="#ff5c21"/><circle cx="955.7" cy="587" r="0.95" fill="#ff5c21"/><circle cx="955" cy="580.8" r="0.95" fill="#ff5c21"/><circle cx="960.8" cy="578.7" r="0.95" fill="#ff5c21"/><circle cx="959.4" cy="575.6" r="0.95" fill="#ff5c21"/><circle cx="954.4" cy="580.8" r="0.95" fill="#ff5c21"/><circle cx="962.1" cy="584.2" r="0.95" fill="#ff5c21"/><circle cx="957.9" cy="585.9" r="0.95" fill="#ff5c21"/><circle cx="960.3" cy="567.9" r="0.95" fill="#ff5c21"/><circle cx="959.7" cy="581.8" r="0.95" fill="#ff5c21"/><circle cx="961" cy="578.7" r="0.95" fill="#ff5c21"/><circle cx="956.8" cy="582.2" r="0.95" fill="#ff5c21"/><circle cx="953.8" cy="574.4" r="0.95" fill="#ff5c21"/><circle cx="957.6" cy="580.9" r="0.95" fill="#ff5c21"/><circle cx="960.7" cy="581.6" r="0.95" fill="#ff5c21"/><circle cx="957.1" cy="584.4" r="0.95" fill="#ff5c21"/><circle cx="961.8" cy="578.4" r="0.95" fill="#ff5c21"/><circle cx="959.9" cy="586.9" r="0.95" fill="#ff5c21"/><circle cx="960.1" cy="586.6" r="0.95" fill="#ff5c21"/><circle cx="960.3" cy="575" r="0.95" fill="#ff5c21"/><circle cx="956.1" cy="584.6" r="0.95" fill="#ff5c21"/><circle cx="961.4" cy="585.6" r="0.95" fill="#ff5c21"/><circle cx="956" cy="586.4" r="0.95" fill="#ff5c21"/><circle cx="955.8" cy="587.2" r="0.95" fill="#ff5c21"/><circle cx="963.7" cy="583.9" r="0.95" fill="#ffc40f"/><circle cx="965.8" cy="580.1" r="0.95" fill="#ffc40f"/><circle cx="963.4" cy="577.4" r="0.95" fill="#ffc40f"/><circle cx="972.2" cy="583.9" r="0.95" fill="#ffc40f"/><circle cx="966.3" cy="584.7" r="0.95" fill="#ffc40f"/><circle cx="967.2" cy="581.9" r="0.95" fill="#ffc40f"/><circle cx="965.1" cy="585.4" r="0.95" fill="#ffc40f"/><circle cx="969.9" cy="583.8" r="0.95" fill="#ffc40f"/><circle cx="964.3" cy="581" r="0.95" fill="#ffc40f"/><circle cx="964.6" cy="579.2" r="0.95" fill="#ffc40f"/><circle cx="965.4" cy="582.9" r="0.95" fill="#ffc40f"/><circle cx="967.1" cy="585.4" r="0.95" fill="#ffc40f"/><circle cx="966" cy="575.1" r="0.95" fill="#ffc40f"/><circle cx="963.2" cy="585.2" r="0.95" fill="#ffc40f"/><circle cx="970.5" cy="580" r="0.95" fill="#ffc40f"/><circle cx="966.6" cy="584.4" r="0.95" fill="#ffc40f"/><circle cx="963.7" cy="585.4" r="0.95" fill="#ffc40f"/><circle cx="964.7" cy="580.3" r="0.95" fill="#ffc40f"/><circle cx="970.2" cy="584.9" r="0.95" fill="#ffc40f"/><circle cx="967.7" cy="582.8" r="0.95" fill="#ffc40f"/><circle cx="970.2" cy="585.8" r="0.95" fill="#ffc40f"/><circle cx="964.2" cy="582.4" r="0.95" fill="#ffc40f"/><circle cx="967.2" cy="583.9" r="0.95" fill="#ffc40f"/><circle cx="965.6" cy="584" r="0.95" fill="#ffc40f"/><circle cx="968.9" cy="585.7" r="0.95" fill="#ffc40f"/><circle cx="967.3" cy="580.1" r="0.95" fill="#ffc40f"/><circle cx="971.1" cy="576.3" r="0.95" fill="#ffc40f"/><circle cx="963.7" cy="572.6" r="0.95" fill="#ffc40f"/><circle cx="964.2" cy="568.1" r="0.95" fill="#ffc40f"/><circle cx="971.3" cy="585" r="0.95" fill="#ffc40f"/><circle cx="969.1" cy="585.8" r="0.95" fill="#ffc40f"/><circle cx="969.2" cy="585.2" r="0.95" fill="#ffc40f"/><circle cx="963.5" cy="581.7" r="0.95" fill="#ffc40f"/><circle cx="966.9" cy="582.4" r="0.95" fill="#ffc40f"/><circle cx="969.1" cy="584.7" r="0.95" fill="#ffc40f"/><circle cx="970.8" cy="577.1" r="0.95" fill="#ffc40f"/><circle cx="963.4" cy="570.4" r="0.95" fill="#ffc40f"/><circle cx="969.5" cy="584.3" r="0.95" fill="#ffc40f"/><circle cx="966.6" cy="580.8" r="0.95" fill="#ffc40f"/><circle cx="966.9" cy="585.1" r="0.95" fill="#ffc40f"/><circle cx="966.2" cy="579.9" r="0.95" fill="#ffc40f"/><circle cx="972.1" cy="582.9" r="0.95" fill="#ffc40f"/><circle cx="966.2" cy="585.3" r="0.95" fill="#ffc40f"/><circle cx="970.4" cy="572.2" r="0.95" fill="#ffc40f"/><circle cx="969.8" cy="584.4" r="0.95" fill="#ffc40f"/><circle cx="963.5" cy="584.2" r="0.95" fill="#ffc40f"/><circle cx="969.2" cy="585.1" r="0.95" fill="#ffc40f"/><circle cx="968.8" cy="578.9" r="0.95" fill="#ffc40f"/><circle cx="971.8" cy="583.1" r="0.95" fill="#ffc40f"/><circle cx="966.1" cy="585.4" r="0.95" fill="#ffc40f"/><circle cx="968.5" cy="585.7" r="0.95" fill="#ffc40f"/><circle cx="963.8" cy="583" r="0.95" fill="#ffc40f"/><circle cx="968.1" cy="585.8" r="0.95" fill="#ffc40f"/><circle cx="968.5" cy="584.5" r="0.95" fill="#ffc40f"/><circle cx="967.6" cy="568.1" r="0.95" fill="#ffc40f"/><circle cx="966.2" cy="576.9" r="0.95" fill="#ffc40f"/><circle cx="963.7" cy="584.6" r="0.95" fill="#ffc40f"/><circle cx="965.6" cy="582.7" r="0.95" fill="#ffc40f"/><circle cx="970.5" cy="578.4" r="0.95" fill="#ffc40f"/><circle cx="966.2" cy="584.3" r="0.95" fill="#ffc40f"/><circle cx="970.4" cy="583.5" r="0.95" fill="#ffc40f"/><circle cx="971.1" cy="581.3" r="0.95" fill="#ffc40f"/><circle cx="968.1" cy="575.1" r="0.95" fill="#ffc40f"/><circle cx="967.7" cy="584.3" r="0.95" fill="#ffc40f"/><circle cx="965.3" cy="583.9" r="0.95" fill="#ffc40f"/><circle cx="970.7" cy="583.1" r="0.95" fill="#ffc40f"/><circle cx="964.4" cy="585.1" r="0.95" fill="#ffc40f"/><circle cx="971.8" cy="572.6" r="0.95" fill="#ffc40f"/><circle cx="967.1" cy="578.7" r="0.95" fill="#ffc40f"/><circle cx="965.9" cy="581.5" r="0.95" fill="#ffc40f"/><circle cx="964" cy="580.6" r="0.95" fill="#ffc40f"/><circle cx="965.1" cy="585.7" r="0.95" fill="#ffc40f"/><circle cx="969.8" cy="580" r="0.95" fill="#ffc40f"/><circle cx="971.2" cy="574.5" r="0.95" fill="#ffc40f"/><circle cx="963.4" cy="585.3" r="0.95" fill="#ffc40f"/><circle cx="969.9" cy="582.2" r="0.95" fill="#ffc40f"/><circle cx="965.1" cy="581.5" r="0.95" fill="#ffc40f"/><circle cx="971.1" cy="584.7" r="0.95" fill="#ffc40f"/><circle cx="970.6" cy="583.8" r="0.95" fill="#ffc40f"/><circle cx="965" cy="584.1" r="0.95" fill="#ffc40f"/><circle cx="969.2" cy="585.1" r="0.95" fill="#ffc40f"/><circle cx="971.1" cy="573.8" r="0.95" fill="#ffc40f"/><circle cx="964.1" cy="585.6" r="0.95" fill="#ffc40f"/><circle cx="963.6" cy="578.9" r="0.95" fill="#ffc40f"/><circle cx="967.9" cy="574.3" r="0.95" fill="#ffc40f"/><circle cx="967.5" cy="582.5" r="0.95" fill="#ffc40f"/><circle cx="966.3" cy="582.8" r="0.95" fill="#ffc40f"/><circle cx="967.2" cy="584.5" r="0.95" fill="#ffc40f"/><circle cx="964.7" cy="583.5" r="0.95" fill="#ffc40f"/><circle cx="964.6" cy="584.6" r="0.95" fill="#ffc40f"/><circle cx="970.6" cy="580.7" r="0.95" fill="#ffc40f"/><circle cx="967.6" cy="581.2" r="0.95" fill="#ffc40f"/><circle cx="966.9" cy="577" r="0.95" fill="#ffc40f"/><circle cx="969.3" cy="577.2" r="0.95" fill="#ffc40f"/><circle cx="964" cy="581.9" r="0.95" fill="#ffc40f"/><circle cx="977.9" cy="579.3" r="0.95" fill="#7030a0"/><circle cx="983.3" cy="583.4" r="0.95" fill="#7030a0"/><circle cx="973.8" cy="585" r="0.95" fill="#7030a0"/><circle cx="979.2" cy="583.5" r="0.95" fill="#7030a0"/><circle cx="975.9" cy="577.7" r="0.95" fill="#7030a0"/><circle cx="980.9" cy="581.3" r="0.95" fill="#7030a0"/><circle cx="973.7" cy="585.9" r="0.95" fill="#7030a0"/><circle cx="983.8" cy="584.7" r="0.95" fill="#7030a0"/><circle cx="973.3" cy="577.1" r="0.95" fill="#7030a0"/><circle cx="982.9" cy="585.3" r="0.95" fill="#7030a0"/><circle cx="975.7" cy="579.4" r="0.95" fill="#7030a0"/><circle cx="983.8" cy="571.2" r="0.95" fill="#7030a0"/><circle cx="973.7" cy="585.6" r="0.95" fill="#7030a0"/><circle cx="979.1" cy="586.4" r="0.95" fill="#7030a0"/><circle cx="978.5" cy="585.5" r="0.95" fill="#7030a0"/><circle cx="976.9" cy="571.6" r="0.95" fill="#7030a0"/><circle cx="980.6" cy="575" r="0.95" fill="#7030a0"/><circle cx="979.8" cy="585.7" r="0.95" fill="#7030a0"/><circle cx="975.9" cy="586.5" r="0.95" fill="#7030a0"/><circle cx="982.4" cy="585" r="0.95" fill="#7030a0"/><circle cx="979.8" cy="585.9" r="0.95" fill="#7030a0"/><circle cx="977.2" cy="577.9" r="0.95" fill="#7030a0"/><circle cx="979.9" cy="576" r="0.95" fill="#7030a0"/><circle cx="979" cy="585.2" r="0.95" fill="#7030a0"/><circle cx="976.3" cy="577.7" r="0.95" fill="#7030a0"/><circle cx="973.3" cy="585.2" r="0.95" fill="#7030a0"/><circle cx="975.5" cy="584" r="0.95" fill="#7030a0"/><circle cx="975.8" cy="585.5" r="0.95" fill="#7030a0"/><circle cx="977.5" cy="585.6" r="0.95" fill="#7030a0"/><circle cx="975.1" cy="585.6" r="0.95" fill="#7030a0"/><circle cx="979.7" cy="572" r="0.95" fill="#7030a0"/><circle cx="980.3" cy="584.6" r="0.95" fill="#7030a0"/><circle cx="980.3" cy="585.9" r="0.95" fill="#7030a0"/><circle cx="982" cy="585" r="0.95" fill="#7030a0"/><circle cx="974.7" cy="573.7" r="0.95" fill="#7030a0"/><circle cx="976" cy="586.6" r="0.95" fill="#7030a0"/><circle cx="979.5" cy="586.4" r="0.95" fill="#7030a0"/><circle cx="980.4" cy="581.4" r="0.95" fill="#7030a0"/><circle cx="982.2" cy="576.3" r="0.95" fill="#7030a0"/><circle cx="977.8" cy="585.9" r="0.95" fill="#7030a0"/><circle cx="976.9" cy="584.7" r="0.95" fill="#7030a0"/><circle cx="974.1" cy="581" r="0.95" fill="#7030a0"/><circle cx="981.4" cy="578.4" r="0.95" fill="#7030a0"/><circle cx="979.7" cy="580.1" r="0.95" fill="#7030a0"/><circle cx="980.1" cy="572.4" r="0.95" fill="#7030a0"/><circle cx="982.3" cy="586.2" r="0.95" fill="#7030a0"/><circle cx="976.5" cy="586.5" r="0.95" fill="#7030a0"/><circle cx="975" cy="580.5" r="0.95" fill="#7030a0"/><circle cx="977.8" cy="586.5" r="0.95" fill="#7030a0"/><circle cx="974.2" cy="570.3" r="0.95" fill="#7030a0"/><circle cx="975.9" cy="570.9" r="0.95" fill="#7030a0"/><circle cx="982.4" cy="580.8" r="0.95" fill="#7030a0"/><circle cx="982.9" cy="580.5" r="0.95" fill="#7030a0"/><circle cx="980.4" cy="578.4" r="0.95" fill="#7030a0"/><circle cx="975.2" cy="574.4" r="0.95" fill="#7030a0"/><circle cx="983.9" cy="585.6" r="0.95" fill="#7030a0"/><circle cx="978.5" cy="581.1" r="0.95" fill="#7030a0"/><circle cx="980.3" cy="585.7" r="0.95" fill="#7030a0"/><circle cx="982.7" cy="581.3" r="0.95" fill="#7030a0"/><circle cx="978.5" cy="585" r="0.95" fill="#7030a0"/><circle cx="975.8" cy="582.7" r="0.95" fill="#7030a0"/><circle cx="983.5" cy="579.6" r="0.95" fill="#7030a0"/><circle cx="974.5" cy="585.2" r="0.95" fill="#7030a0"/><circle cx="977.7" cy="586.4" r="0.95" fill="#7030a0"/><circle cx="979" cy="586" r="0.95" fill="#7030a0"/><circle cx="978.8" cy="582.4" r="0.95" fill="#7030a0"/><circle cx="975.9" cy="584.1" r="0.95" fill="#7030a0"/><circle cx="979.9" cy="585.6" r="0.95" fill="#7030a0"/><circle cx="975.5" cy="584.7" r="0.95" fill="#7030a0"/><circle cx="977.5" cy="583.4" r="0.95" fill="#7030a0"/><circle cx="977.5" cy="579.9" r="0.95" fill="#7030a0"/><circle cx="974.3" cy="585" r="0.95" fill="#7030a0"/><circle cx="984.1" cy="582.8" r="0.95" fill="#7030a0"/><circle cx="975.6" cy="584.8" r="0.95" fill="#7030a0"/><circle cx="976" cy="578.4" r="0.95" fill="#7030a0"/><circle cx="979.3" cy="586.6" r="0.95" fill="#7030a0"/><circle cx="973.4" cy="579" r="0.95" fill="#7030a0"/><circle cx="983.8" cy="583.1" r="0.95" fill="#7030a0"/><circle cx="978" cy="575.1" r="0.95" fill="#7030a0"/><circle cx="977.7" cy="583.3" r="0.95" fill="#7030a0"/><circle cx="977.4" cy="582.6" r="0.95" fill="#7030a0"/><circle cx="979.1" cy="579.3" r="0.95" fill="#7030a0"/><circle cx="980.9" cy="586.3" r="0.95" fill="#7030a0"/><circle cx="973.3" cy="585.8" r="0.95" fill="#7030a0"/><circle cx="976.6" cy="584.1" r="0.95" fill="#7030a0"/><circle cx="981" cy="585" r="0.95" fill="#7030a0"/><circle cx="984.1" cy="583" r="0.95" fill="#7030a0"/><circle cx="976.3" cy="585.5" r="0.95" fill="#7030a0"/><circle cx="973.8" cy="580.1" r="0.95" fill="#7030a0"/><circle cx="974.3" cy="586.5" r="0.95" fill="#7030a0"/><circle cx="982" cy="577.9" r="0.95" fill="#7030a0"/><circle cx="976.6" cy="582.4" r="0.95" fill="#7030a0"/><circle cx="982.6" cy="585.5" r="0.95" fill="#7030a0"/><circle cx="975.8" cy="584.1" r="0.95" fill="#7030a0"/><circle cx="756" cy="534.1" r="0.95" fill="#f99bc9"/><circle cx="755.3" cy="549.8" r="0.95" fill="#f99bc9"/><circle cx="760.7" cy="551.4" r="0.95" fill="#ff5c21"/><circle cx="738.7" cy="553" r="0.95" fill="#16a59b"/><circle cx="745.9" cy="549.8" r="0.95" fill="#16a59b"/><circle cx="788.3" cy="535.7" r="0.95" fill="#16a59b"/><circle cx="890.4" cy="548.3" r="0.95" fill="#16a59b"/><circle cx="790.5" cy="557.7" r="0.95" fill="#16a59b"/><circle cx="781.7" cy="549.8" r="0.95" fill="#7030a0"/><circle cx="828.2" cy="547.3" r="0.95" fill="#7030a0"/><circle cx="881" cy="545.1" r="0.95" fill="#7030a0"/><circle cx="878.4" cy="551.4" r="0.95" fill="#7030a0"/><circle cx="925.6" cy="560.2" r="0.95" fill="#7030a0"/><circle cx="982.1" cy="560.8" r="0.95" fill="#7030a0"/><circle cx="771" cy="549.8" r="0.95" fill="#ffc40f"/><circle cx="897.3" cy="546.7" r="0.95" fill="#ffc40f"/><circle cx="965.8" cy="553" r="0.95" fill="#ffc40f"/><circle cx="850.2" cy="531.9" r="0.95" fill="#f99bc9"/><circle cx="798.4" cy="553" r="0.95" fill="#f99bc9"/><circle cx="957.9" cy="543.6" r="0.95" fill="#ff5c21"/><circle cx="809.3" cy="560.8" r="0.95" fill="#ff5c21"/><circle cx="766.9" cy="560.2" r="0.95" fill="#ff5c21"/><circle cx="778.9" cy="557.7" r="0.95" fill="#7030a0"/><circle cx="741.8" cy="559.3" r="0.95" fill="#16a59b"/><circle cx="749.7" cy="554.5" r="0.95" fill="#16a59b"/><circle cx="871.5" cy="556.1" r="0.95" fill="#ffc40f"/><circle cx="884.7" cy="560.8" r="0.95" fill="#16a59b"/><circle cx="949.7" cy="559.3" r="0.95" fill="#f99bc9"/><circle cx="941.3" cy="561.5" r="0.95" fill="#16a59b"/><circle cx="730.8" cy="560.2" r="0.95" fill="#7030a0"/><circle cx="832.9" cy="560.2" r="0.95" fill="#7030a0"/><circle cx="861.2" cy="557.7" r="0.95" fill="#ff5c21"/><circle cx="909.8" cy="557.1" r="0.95" fill="#ff5c21"/><circle cx="971.1" cy="557.1" r="0.95" fill="#ffc40f"/><circle cx="843" cy="560.8" r="0.95" fill="#f99bc9"/><circle cx="898.9" cy="554.5" r="0.95" fill="#f99bc9"/><circle cx="916.1" cy="560.2" r="0.95" fill="#ffc40f"/><path d="M723.6,564.3 H991.5" stroke="#5170cc" stroke-width="0.8"/><text transform="translate(710.6 586) rotate(-90)" font-size="13.8" text-anchor="middle" fill="#111">-Log<tspan font-size="9" dy="3">10 </tspan><tspan dy="-3">(</tspan><tspan font-style="italic">P</tspan>)</text><text x="820.5" y="636.2" font-size="13.7" fill="#0a0a0a" textLength="84.1" lengthAdjust="spacingAndGlyphs">Chromosome</text><text x="748.2" y="659.8" font-size="19.3" fill="#0a0a0a" textLength="224.5" lengthAdjust="spacingAndGlyphs">GWAS summary statistics</text>
<text x="728.5" y="690" font-size="14" fill="#0a0a0a" textLength="38.1" lengthAdjust="spacingAndGlyphs">Stage</text><rect x="769.1" y="677.6" width="40.2" height="13.1" fill="#a6cee3"/><rect x="809.1" y="677.6" width="40.2" height="13.1" fill="#1f78b4"/><rect x="849" y="677.6" width="40.2" height="13.1" fill="#b2df8a"/><rect x="889" y="677.6" width="40.2" height="13.1" fill="#33a02c"/><rect x="928.9" y="677.6" width="40.2" height="13.1" fill="#e31a1c"/><rect x="769.1" y="677.6" width="199.8" height="13.1" fill="none" stroke="#8a8a8a" stroke-width="0.8"/><rect x="769.1" y="694.5" width="40" height="21.8" fill="#7b73b8" stroke="#77777c" stroke-width="0.8"/><text x="786.3" y="713.6" font-size="11" text-anchor="middle" fill="#1a1a2a">*</text><rect x="809.1" y="694.5" width="40" height="21.8" fill="#b9b6dc" stroke="#77777c" stroke-width="0.8"/><rect x="849" y="694.5" width="40" height="21.8" fill="#eae9f5" stroke="#77777c" stroke-width="0.8"/><rect x="889" y="694.5" width="40" height="21.8" fill="#c5c3e2" stroke="#77777c" stroke-width="0.8"/><rect x="928.9" y="694.5" width="40" height="21.8" fill="#dddcee" stroke="#77777c" stroke-width="0.8"/><rect x="769.1" y="716.3" width="40" height="21.8" fill="#cfcde7" stroke="#77777c" stroke-width="0.8"/><rect x="809.1" y="716.3" width="40" height="21.8" fill="#a9a5d3" stroke="#77777c" stroke-width="0.8"/><text x="826.2" y="735.4" font-size="11" text-anchor="middle" fill="#1a1a2a">*</text><rect x="849" y="716.3" width="40" height="21.8" fill="#d3d1e9" stroke="#77777c" stroke-width="0.8"/><rect x="889" y="716.3" width="40" height="21.8" fill="#d3d1e9" stroke="#77777c" stroke-width="0.8"/><rect x="928.9" y="716.3" width="40" height="21.8" fill="#f9f9fc" stroke="#77777c" stroke-width="0.8"/><rect x="769.1" y="738.1" width="40" height="21.8" fill="#9d98cc" stroke="#77777c" stroke-width="0.8"/><text x="786.3" y="757.1" font-size="11" text-anchor="middle" fill="#1a1a2a">*</text><rect x="809.1" y="738.1" width="40" height="21.8" fill="#9a95cb" stroke="#77777c" stroke-width="0.8"/><text x="826.2" y="757.1" font-size="11" text-anchor="middle" fill="#1a1a2a">*</text><rect x="849" y="738.1" width="40" height="21.8" fill="#7f78bb" stroke="#77777c" stroke-width="0.8"/><text x="866.2" y="757.1" font-size="11" text-anchor="middle" fill="#1a1a2a">*</text><rect x="889" y="738.1" width="40" height="21.8" fill="#bebbde" stroke="#77777c" stroke-width="0.8"/><rect x="928.9" y="738.1" width="40" height="21.8" fill="#e9e8f4" stroke="#77777c" stroke-width="0.8"/><rect x="769.1" y="759.8" width="40" height="21.8" fill="#9c97cc" stroke="#77777c" stroke-width="0.8"/><text x="786.3" y="778.9" font-size="11" text-anchor="middle" fill="#1a1a2a">*</text><rect x="809.1" y="759.8" width="40" height="21.8" fill="#a8a4d2" stroke="#77777c" stroke-width="0.8"/><text x="826.2" y="778.9" font-size="11" text-anchor="middle" fill="#1a1a2a">*</text><rect x="849" y="759.8" width="40" height="21.8" fill="#f0eff8" stroke="#77777c" stroke-width="0.8"/><rect x="889" y="759.8" width="40" height="21.8" fill="#c2bfe0" stroke="#77777c" stroke-width="0.8"/><rect x="928.9" y="759.8" width="40" height="21.8" fill="#f3f2f9" stroke="#77777c" stroke-width="0.8"/><rect x="769.1" y="781.6" width="40" height="21.8" fill="#7770b7" stroke="#77777c" stroke-width="0.8"/><text x="786.3" y="800.7" font-size="11" text-anchor="middle" fill="#1a1a2a">*</text><rect x="809.1" y="781.6" width="40" height="21.8" fill="#7972b8" stroke="#77777c" stroke-width="0.8"/><text x="826.2" y="800.7" font-size="11" text-anchor="middle" fill="#1a1a2a">*</text><rect x="849" y="781.6" width="40" height="21.8" fill="#a5a1d1" stroke="#77777c" stroke-width="0.8"/><text x="866.2" y="800.7" font-size="11" text-anchor="middle" fill="#1a1a2a">*</text><rect x="889" y="781.6" width="40" height="21.8" fill="#7770b7" stroke="#77777c" stroke-width="0.8"/><text x="906.2" y="800.7" font-size="11" text-anchor="middle" fill="#1a1a2a">*</text><rect x="928.9" y="781.6" width="40" height="21.8" fill="#cbc9e5" stroke="#77777c" stroke-width="0.8"/><rect x="769.1" y="694.5" width="199.8" height="108.9" fill="none" stroke="#66666c" stroke-width="1"/><text transform="translate(760.6 749.5) rotate(-90)" font-size="14.2" text-anchor="middle" fill="#111">Tissue</text><text x="735.6" y="824.9" font-size="19.3" fill="#0a0a0a" textLength="250.2" lengthAdjust="spacingAndGlyphs">Enrichment of GWAS signals</text>
<path d="M746.9,839 V976.4 H979.5" fill="none" stroke="#666" stroke-width="1.2"/><text transform="translate(738.8 905.6) rotate(-90)" font-size="14.2" text-anchor="middle" fill="#111">PIP</text><path d="M867.5,835.6 L876.3,844.3 L867.5,853 L858.7,844.3Z" fill="#f01414" stroke="#3a2020" stroke-width="0.9"/><text x="789.5" y="870.4" font-size="14" fill="#0a0a0a" textLength="153" lengthAdjust="spacingAndGlyphs">oar3_OAR11_57540230</text><circle cx="806.6" cy="968.8" r="2.5" fill="#bdbdbd" stroke="#555" stroke-width="0.7"/><circle cx="776.9" cy="969.6" r="2.5" fill="#bdbdbd" stroke="#555" stroke-width="0.7"/><circle cx="968.8" cy="969.1" r="2.5" fill="#bdbdbd" stroke="#555" stroke-width="0.7"/><circle cx="854.2" cy="967.2" r="2.5" fill="#bdbdbd" stroke="#555" stroke-width="0.7"/><circle cx="799.4" cy="969.4" r="2.5" fill="#bdbdbd" stroke="#555" stroke-width="0.7"/><circle cx="763.2" cy="969.1" r="2.5" fill="#bdbdbd" stroke="#555" stroke-width="0.7"/><circle cx="844.6" cy="968.3" r="2.5" fill="#bdbdbd" stroke="#555" stroke-width="0.7"/><circle cx="813.3" cy="968.7" r="2.5" fill="#bdbdbd" stroke="#555" stroke-width="0.7"/><circle cx="772.2" cy="968.5" r="2.5" fill="#bdbdbd" stroke="#555" stroke-width="0.7"/><circle cx="830.1" cy="968.5" r="2.5" fill="#bdbdbd" stroke="#555" stroke-width="0.7"/><circle cx="863.5" cy="967.4" r="2.5" fill="#bdbdbd" stroke="#555" stroke-width="0.7"/><circle cx="788.8" cy="960.7" r="2.5" fill="#bdbdbd" stroke="#555" stroke-width="0.7"/><circle cx="861.6" cy="968.2" r="2.5" fill="#bdbdbd" stroke="#555" stroke-width="0.7"/><circle cx="912.1" cy="965.5" r="2.5" fill="#bdbdbd" stroke="#555" stroke-width="0.7"/><circle cx="819" cy="967.4" r="2.5" fill="#bdbdbd" stroke="#555" stroke-width="0.7"/><circle cx="919.5" cy="966.7" r="2.5" fill="#bdbdbd" stroke="#555" stroke-width="0.7"/><circle cx="903.9" cy="968.4" r="2.5" fill="#bdbdbd" stroke="#555" stroke-width="0.7"/><circle cx="864.8" cy="965.4" r="2.5" fill="#bdbdbd" stroke="#555" stroke-width="0.7"/><circle cx="790.5" cy="962" r="2.5" fill="#bdbdbd" stroke="#555" stroke-width="0.7"/><circle cx="865.6" cy="969.4" r="2.5" fill="#bdbdbd" stroke="#555" stroke-width="0.7"/><circle cx="805.2" cy="969.8" r="2.5" fill="#bdbdbd" stroke="#555" stroke-width="0.7"/><circle cx="815" cy="969.5" r="2.5" fill="#bdbdbd" stroke="#555" stroke-width="0.7"/><circle cx="838.2" cy="967.8" r="2.5" fill="#bdbdbd" stroke="#555" stroke-width="0.7"/><circle cx="842.2" cy="966.3" r="2.5" fill="#bdbdbd" stroke="#555" stroke-width="0.7"/><circle cx="898.3" cy="968.5" r="2.5" fill="#bdbdbd" stroke="#555" stroke-width="0.7"/><circle cx="822" cy="964.5" r="2.5" fill="#bdbdbd" stroke="#555" stroke-width="0.7"/><circle cx="830.8" cy="968.8" r="2.5" fill="#bdbdbd" stroke="#555" stroke-width="0.7"/><circle cx="845.1" cy="968" r="2.5" fill="#bdbdbd" stroke="#555" stroke-width="0.7"/><circle cx="846.8" cy="968.5" r="2.5" fill="#bdbdbd" stroke="#555" stroke-width="0.7"/><circle cx="776.9" cy="969" r="2.5" fill="#bdbdbd" stroke="#555" stroke-width="0.7"/><circle cx="868.4" cy="967.6" r="2.5" fill="#bdbdbd" stroke="#555" stroke-width="0.7"/><circle cx="907.7" cy="967.1" r="2.5" fill="#bdbdbd" stroke="#555" stroke-width="0.7"/><circle cx="772.2" cy="968.8" r="2.5" fill="#bdbdbd" stroke="#555" stroke-width="0.7"/><circle cx="879.5" cy="969.7" r="2.5" fill="#bdbdbd" stroke="#555" stroke-width="0.7"/><circle cx="832.8" cy="969.7" r="2.5" fill="#bdbdbd" stroke="#555" stroke-width="0.7"/><circle cx="803.1" cy="969.8" r="2.5" fill="#bdbdbd" stroke="#555" stroke-width="0.7"/><circle cx="766" cy="966.7" r="2.5" fill="#bdbdbd" stroke="#555" stroke-width="0.7"/><circle cx="880.8" cy="969.1" r="2.5" fill="#bdbdbd" stroke="#555" stroke-width="0.7"/><circle cx="962.7" cy="969.1" r="2.5" fill="#bdbdbd" stroke="#555" stroke-width="0.7"/><circle cx="863.4" cy="969.5" r="2.5" fill="#bdbdbd" stroke="#555" stroke-width="0.7"/><circle cx="791.4" cy="968" r="2.5" fill="#bdbdbd" stroke="#555" stroke-width="0.7"/><circle cx="785.6" cy="968.1" r="2.5" fill="#bdbdbd" stroke="#555" stroke-width="0.7"/><circle cx="911.4" cy="969.3" r="2.5" fill="#bdbdbd" stroke="#555" stroke-width="0.7"/><circle cx="834.8" cy="967.7" r="2.5" fill="#bdbdbd" stroke="#555" stroke-width="0.7"/><circle cx="800.5" cy="968.9" r="2.5" fill="#bdbdbd" stroke="#555" stroke-width="0.7"/><circle cx="907.7" cy="969.5" r="2.5" fill="#bdbdbd" stroke="#555" stroke-width="0.7"/><circle cx="763.7" cy="968.5" r="2.5" fill="#bdbdbd" stroke="#555" stroke-width="0.7"/><circle cx="962.2" cy="968.3" r="2.5" fill="#bdbdbd" stroke="#555" stroke-width="0.7"/><circle cx="864.5" cy="969.4" r="2.5" fill="#bdbdbd" stroke="#555" stroke-width="0.7"/><circle cx="869.4" cy="968.6" r="2.5" fill="#bdbdbd" stroke="#555" stroke-width="0.7"/><circle cx="894.9" cy="967.2" r="2.5" fill="#bdbdbd" stroke="#555" stroke-width="0.7"/><circle cx="915.1" cy="969.7" r="2.5" fill="#bdbdbd" stroke="#555" stroke-width="0.7"/><circle cx="965.2" cy="969.5" r="2.5" fill="#bdbdbd" stroke="#555" stroke-width="0.7"/><circle cx="964.1" cy="968.2" r="2.5" fill="#bdbdbd" stroke="#555" stroke-width="0.7"/><circle cx="956.7" cy="968.4" r="2.5" fill="#bdbdbd" stroke="#555" stroke-width="0.7"/><circle cx="960" cy="968" r="2.5" fill="#bdbdbd" stroke="#555" stroke-width="0.7"/><circle cx="821.1" cy="969.1" r="2.5" fill="#bdbdbd" stroke="#555" stroke-width="0.7"/><circle cx="960.3" cy="968.8" r="2.5" fill="#bdbdbd" stroke="#555" stroke-width="0.7"/><circle cx="824.5" cy="969.1" r="2.5" fill="#bdbdbd" stroke="#555" stroke-width="0.7"/><circle cx="902.7" cy="967.3" r="2.5" fill="#bdbdbd" stroke="#555" stroke-width="0.7"/><circle cx="911.9" cy="968.7" r="2.5" fill="#bdbdbd" stroke="#555" stroke-width="0.7"/><circle cx="848.8" cy="967.5" r="2.5" fill="#bdbdbd" stroke="#555" stroke-width="0.7"/><circle cx="870.1" cy="964.1" r="2.5" fill="#bdbdbd" stroke="#555" stroke-width="0.7"/><circle cx="815.9" cy="968.5" r="2.5" fill="#bdbdbd" stroke="#555" stroke-width="0.7"/><circle cx="783.6" cy="969.1" r="2.5" fill="#bdbdbd" stroke="#555" stroke-width="0.7"/><circle cx="927.9" cy="968.5" r="2.5" fill="#bdbdbd" stroke="#555" stroke-width="0.7"/><circle cx="817.2" cy="968.3" r="2.5" fill="#bdbdbd" stroke="#555" stroke-width="0.7"/><circle cx="961.7" cy="968.5" r="2.5" fill="#bdbdbd" stroke="#555" stroke-width="0.7"/><circle cx="916" cy="969.8" r="2.5" fill="#bdbdbd" stroke="#555" stroke-width="0.7"/><circle cx="933.2" cy="966.3" r="2.5" fill="#bdbdbd" stroke="#555" stroke-width="0.7"/><circle cx="923" cy="969.3" r="2.5" fill="#bdbdbd" stroke="#555" stroke-width="0.7"/><circle cx="922.9" cy="968" r="2.5" fill="#bdbdbd" stroke="#555" stroke-width="0.7"/><circle cx="952.3" cy="969.6" r="2.5" fill="#bdbdbd" stroke="#555" stroke-width="0.7"/><circle cx="902.9" cy="968.8" r="2.5" fill="#bdbdbd" stroke="#555" stroke-width="0.7"/><circle cx="856.2" cy="967" r="2.5" fill="#bdbdbd" stroke="#555" stroke-width="0.7"/><circle cx="778.5" cy="966.8" r="2.5" fill="#bdbdbd" stroke="#555" stroke-width="0.7"/><circle cx="940.7" cy="963.2" r="2.5" fill="#bdbdbd" stroke="#555" stroke-width="0.7"/><circle cx="939.4" cy="968.4" r="2.5" fill="#bdbdbd" stroke="#555" stroke-width="0.7"/><circle cx="835.9" cy="968.1" r="2.5" fill="#bdbdbd" stroke="#555" stroke-width="0.7"/><circle cx="884.9" cy="966.7" r="2.5" fill="#bdbdbd" stroke="#555" stroke-width="0.7"/><circle cx="821.3" cy="968.7" r="2.5" fill="#bdbdbd" stroke="#555" stroke-width="0.7"/><circle cx="782.9" cy="968.5" r="2.5" fill="#bdbdbd" stroke="#555" stroke-width="0.7"/><circle cx="832.1" cy="969" r="2.5" fill="#bdbdbd" stroke="#555" stroke-width="0.7"/><circle cx="849.6" cy="968.6" r="2.5" fill="#bdbdbd" stroke="#555" stroke-width="0.7"/><circle cx="780" cy="969.5" r="2.5" fill="#bdbdbd" stroke="#555" stroke-width="0.7"/><circle cx="916.4" cy="968.2" r="2.5" fill="#bdbdbd" stroke="#555" stroke-width="0.7"/><circle cx="769.7" cy="966.9" r="2.5" fill="#bdbdbd" stroke="#555" stroke-width="0.7"/><circle cx="876.5" cy="968.7" r="2.5" fill="#bdbdbd" stroke="#555" stroke-width="0.7"/><circle cx="944.2" cy="969.6" r="2.5" fill="#bdbdbd" stroke="#555" stroke-width="0.7"/><circle cx="955.6" cy="967.6" r="2.5" fill="#bdbdbd" stroke="#555" stroke-width="0.7"/><circle cx="954.6" cy="968.7" r="2.5" fill="#bdbdbd" stroke="#555" stroke-width="0.7"/><circle cx="794.5" cy="968.5" r="2.5" fill="#bdbdbd" stroke="#555" stroke-width="0.7"/><circle cx="771.8" cy="967.9" r="2.5" fill="#bdbdbd" stroke="#555" stroke-width="0.7"/><circle cx="846.1" cy="968.2" r="2.5" fill="#bdbdbd" stroke="#555" stroke-width="0.7"/><circle cx="880.5" cy="966.4" r="2.5" fill="#bdbdbd" stroke="#555" stroke-width="0.7"/><circle cx="965.5" cy="967.2" r="2.5" fill="#bdbdbd" stroke="#555" stroke-width="0.7"/><circle cx="836" cy="968.5" r="2.5" fill="#bdbdbd" stroke="#555" stroke-width="0.7"/><circle cx="901.8" cy="967.9" r="2.5" fill="#bdbdbd" stroke="#555" stroke-width="0.7"/><circle cx="785.9" cy="968.6" r="2.5" fill="#bdbdbd" stroke="#555" stroke-width="0.7"/><circle cx="871.1" cy="967.9" r="2.5" fill="#bdbdbd" stroke="#555" stroke-width="0.7"/><circle cx="819.7" cy="969.3" r="2.5" fill="#bdbdbd" stroke="#555" stroke-width="0.7"/><circle cx="932.2" cy="967.5" r="2.5" fill="#bdbdbd" stroke="#555" stroke-width="0.7"/><circle cx="785.1" cy="969.4" r="2.5" fill="#bdbdbd" stroke="#555" stroke-width="0.7"/><circle cx="957.4" cy="969.5" r="2.5" fill="#bdbdbd" stroke="#555" stroke-width="0.7"/><circle cx="905.8" cy="969" r="2.5" fill="#bdbdbd" stroke="#555" stroke-width="0.7"/><circle cx="775.7" cy="969.1" r="2.5" fill="#bdbdbd" stroke="#555" stroke-width="0.7"/><circle cx="880.8" cy="966.4" r="2.5" fill="#bdbdbd" stroke="#555" stroke-width="0.7"/><circle cx="891.4" cy="966.3" r="2.5" fill="#bdbdbd" stroke="#555" stroke-width="0.7"/><circle cx="781.7" cy="969.3" r="2.5" fill="#bdbdbd" stroke="#555" stroke-width="0.7"/><circle cx="896.7" cy="969.8" r="2.5" fill="#bdbdbd" stroke="#555" stroke-width="0.7"/><circle cx="834.2" cy="967.2" r="2.5" fill="#bdbdbd" stroke="#555" stroke-width="0.7"/><circle cx="794.6" cy="968.9" r="2.5" fill="#bdbdbd" stroke="#555" stroke-width="0.7"/><circle cx="835.7" cy="968.8" r="2.5" fill="#bdbdbd" stroke="#555" stroke-width="0.7"/><circle cx="837.7" cy="968.3" r="2.5" fill="#bdbdbd" stroke="#555" stroke-width="0.7"/><circle cx="767.1" cy="967.9" r="2.5" fill="#bdbdbd" stroke="#555" stroke-width="0.7"/><circle cx="824.8" cy="964.6" r="2.5" fill="#bdbdbd" stroke="#555" stroke-width="0.7"/><circle cx="834.7" cy="968.2" r="2.5" fill="#bdbdbd" stroke="#555" stroke-width="0.7"/><circle cx="894.9" cy="968" r="2.5" fill="#bdbdbd" stroke="#555" stroke-width="0.7"/><circle cx="923.5" cy="969.7" r="2.5" fill="#bdbdbd" stroke="#555" stroke-width="0.7"/><circle cx="935.7" cy="967.3" r="2.5" fill="#bdbdbd" stroke="#555" stroke-width="0.7"/><circle cx="939.6" cy="967.3" r="2.5" fill="#bdbdbd" stroke="#555" stroke-width="0.7"/><circle cx="896.3" cy="968.9" r="2.5" fill="#bdbdbd" stroke="#555" stroke-width="0.7"/><circle cx="880.5" cy="969.6" r="2.5" fill="#bdbdbd" stroke="#555" stroke-width="0.7"/><circle cx="854.9" cy="968" r="2.5" fill="#bdbdbd" stroke="#555" stroke-width="0.7"/><circle cx="839.6" cy="966.9" r="2.5" fill="#bdbdbd" stroke="#555" stroke-width="0.7"/><circle cx="789.7" cy="968.9" r="2.5" fill="#bdbdbd" stroke="#555" stroke-width="0.7"/><circle cx="777.6" cy="968.9" r="2.5" fill="#bdbdbd" stroke="#555" stroke-width="0.7"/><circle cx="892.6" cy="966.7" r="2.5" fill="#bdbdbd" stroke="#555" stroke-width="0.7"/><circle cx="944.1" cy="964.6" r="2.5" fill="#bdbdbd" stroke="#555" stroke-width="0.7"/><circle cx="803.5" cy="968.9" r="2.5" fill="#bdbdbd" stroke="#555" stroke-width="0.7"/><circle cx="964.2" cy="969.5" r="2.5" fill="#bdbdbd" stroke="#555" stroke-width="0.7"/><circle cx="893.5" cy="961.5" r="2.5" fill="#bdbdbd" stroke="#555" stroke-width="0.7"/><circle cx="828.1" cy="968.6" r="2.5" fill="#bdbdbd" stroke="#555" stroke-width="0.7"/><circle cx="759.1" cy="968.2" r="2.5" fill="#bdbdbd" stroke="#555" stroke-width="0.7"/><circle cx="779.1" cy="967.6" r="2.5" fill="#bdbdbd" stroke="#555" stroke-width="0.7"/><circle cx="909.5" cy="969.6" r="2.5" fill="#bdbdbd" stroke="#555" stroke-width="0.7"/><circle cx="949.2" cy="968.8" r="2.5" fill="#bdbdbd" stroke="#555" stroke-width="0.7"/><circle cx="908" cy="969.3" r="2.5" fill="#bdbdbd" stroke="#555" stroke-width="0.7"/><circle cx="898.7" cy="968.3" r="2.5" fill="#bdbdbd" stroke="#555" stroke-width="0.7"/><circle cx="812.1" cy="967.7" r="2.5" fill="#bdbdbd" stroke="#555" stroke-width="0.7"/><circle cx="800.8" cy="969.1" r="2.5" fill="#bdbdbd" stroke="#555" stroke-width="0.7"/><circle cx="905.2" cy="969.7" r="2.5" fill="#bdbdbd" stroke="#555" stroke-width="0.7"/><circle cx="842.3" cy="969.3" r="2.5" fill="#bdbdbd" stroke="#555" stroke-width="0.7"/><circle cx="885.6" cy="968.4" r="2.5" fill="#bdbdbd" stroke="#555" stroke-width="0.7"/><circle cx="802.8" cy="968.8" r="2.5" fill="#bdbdbd" stroke="#555" stroke-width="0.7"/><circle cx="928.5" cy="967" r="2.5" fill="#bdbdbd" stroke="#555" stroke-width="0.7"/><circle cx="941" cy="969.4" r="2.5" fill="#bdbdbd" stroke="#555" stroke-width="0.7"/><circle cx="825" cy="967.6" r="2.5" fill="#bdbdbd" stroke="#555" stroke-width="0.7"/><circle cx="776.3" cy="968.5" r="2.5" fill="#bdbdbd" stroke="#555" stroke-width="0.7"/><circle cx="902.6" cy="967.9" r="2.5" fill="#bdbdbd" stroke="#555" stroke-width="0.7"/><circle cx="941.6" cy="967.2" r="2.5" fill="#bdbdbd" stroke="#555" stroke-width="0.7"/><circle cx="857.5" cy="969.3" r="2.5" fill="#bdbdbd" stroke="#555" stroke-width="0.7"/><circle cx="926.3" cy="968.9" r="2.5" fill="#bdbdbd" stroke="#555" stroke-width="0.7"/><circle cx="805.4" cy="969.1" r="2.5" fill="#bdbdbd" stroke="#555" stroke-width="0.7"/><circle cx="884.5" cy="968.9" r="2.5" fill="#bdbdbd" stroke="#555" stroke-width="0.7"/><circle cx="815" cy="967" r="2.5" fill="#bdbdbd" stroke="#555" stroke-width="0.7"/><circle cx="967.5" cy="968.9" r="2.5" fill="#bdbdbd" stroke="#555" stroke-width="0.7"/><circle cx="935.4" cy="968.7" r="2.5" fill="#bdbdbd" stroke="#555" stroke-width="0.7"/><circle cx="842.8" cy="969.7" r="2.5" fill="#bdbdbd" stroke="#555" stroke-width="0.7"/><circle cx="939" cy="968.9" r="2.5" fill="#bdbdbd" stroke="#555" stroke-width="0.7"/><circle cx="852.8" cy="968" r="2.5" fill="#bdbdbd" stroke="#555" stroke-width="0.7"/><circle cx="944.7" cy="968.5" r="2.5" fill="#bdbdbd" stroke="#555" stroke-width="0.7"/><circle cx="801.1" cy="969.7" r="2.5" fill="#bdbdbd" stroke="#555" stroke-width="0.7"/><circle cx="864.1" cy="965.2" r="2.5" fill="#bdbdbd" stroke="#555" stroke-width="0.7"/><circle cx="860.6" cy="967.5" r="2.5" fill="#bdbdbd" stroke="#555" stroke-width="0.7"/><circle cx="968.8" cy="968.5" r="2.5" fill="#bdbdbd" stroke="#555" stroke-width="0.7"/><circle cx="874" cy="965.6" r="2.5" fill="#bdbdbd" stroke="#555" stroke-width="0.7"/><circle cx="839.8" cy="967.3" r="2.5" fill="#bdbdbd" stroke="#555" stroke-width="0.7"/><circle cx="861.3" cy="968.6" r="2.5" fill="#bdbdbd" stroke="#555" stroke-width="0.7"/><circle cx="891" cy="967.9" r="2.5" fill="#bdbdbd" stroke="#555" stroke-width="0.7"/><circle cx="958.5" cy="967.7" r="2.5" fill="#bdbdbd" stroke="#555" stroke-width="0.7"/><circle cx="943.8" cy="969.5" r="2.5" fill="#bdbdbd" stroke="#555" stroke-width="0.7"/><circle cx="899.1" cy="969" r="2.5" fill="#bdbdbd" stroke="#555" stroke-width="0.7"/><circle cx="843.2" cy="967.7" r="2.5" fill="#bdbdbd" stroke="#555" stroke-width="0.7"/><circle cx="858.6" cy="969.4" r="2.5" fill="#bdbdbd" stroke="#555" stroke-width="0.7"/><circle cx="952.9" cy="968.7" r="2.5" fill="#bdbdbd" stroke="#555" stroke-width="0.7"/><circle cx="905.3" cy="967.1" r="2.5" fill="#bdbdbd" stroke="#555" stroke-width="0.7"/><circle cx="958.9" cy="968.2" r="2.5" fill="#bdbdbd" stroke="#555" stroke-width="0.7"/><circle cx="852.8" cy="969.3" r="2.5" fill="#bdbdbd" stroke="#555" stroke-width="0.7"/><circle cx="947.3" cy="968.8" r="2.5" fill="#bdbdbd" stroke="#555" stroke-width="0.7"/><circle cx="870.1" cy="968.7" r="2.5" fill="#bdbdbd" stroke="#555" stroke-width="0.7"/><circle cx="950.4" cy="967.5" r="2.5" fill="#bdbdbd" stroke="#555" stroke-width="0.7"/><circle cx="909" cy="969" r="2.5" fill="#bdbdbd" stroke="#555" stroke-width="0.7"/><circle cx="798.9" cy="967.9" r="2.5" fill="#bdbdbd" stroke="#555" stroke-width="0.7"/><circle cx="895.8" cy="968.7" r="2.5" fill="#bdbdbd" stroke="#555" stroke-width="0.7"/><circle cx="780.3" cy="968.7" r="2.5" fill="#bdbdbd" stroke="#555" stroke-width="0.7"/><circle cx="797.7" cy="967.3" r="2.5" fill="#bdbdbd" stroke="#555" stroke-width="0.7"/><circle cx="851" cy="969.6" r="2.5" fill="#bdbdbd" stroke="#555" stroke-width="0.7"/><circle cx="765.2" cy="969.2" r="2.5" fill="#bdbdbd" stroke="#555" stroke-width="0.7"/><circle cx="879.2" cy="969" r="2.5" fill="#bdbdbd" stroke="#555" stroke-width="0.7"/><circle cx="852.1" cy="968.7" r="2.5" fill="#bdbdbd" stroke="#555" stroke-width="0.7"/><circle cx="799.6" cy="968.6" r="2.5" fill="#bdbdbd" stroke="#555" stroke-width="0.7"/><circle cx="878.2" cy="964.3" r="2.5" fill="#bdbdbd" stroke="#555" stroke-width="0.7"/><circle cx="853.1" cy="967.6" r="2.5" fill="#bdbdbd" stroke="#555" stroke-width="0.7"/><circle cx="868.2" cy="968.9" r="2.5" fill="#bdbdbd" stroke="#555" stroke-width="0.7"/><circle cx="857.7" cy="967.4" r="2.5" fill="#bdbdbd" stroke="#555" stroke-width="0.7"/><circle cx="846.8" cy="969.3" r="2.5" fill="#bdbdbd" stroke="#555" stroke-width="0.7"/><circle cx="852.2" cy="969.3" r="2.5" fill="#bdbdbd" stroke="#555" stroke-width="0.7"/><circle cx="876.7" cy="967.7" r="2.5" fill="#bdbdbd" stroke="#555" stroke-width="0.7"/><circle cx="960.1" cy="960.5" r="2.5" fill="#bdbdbd" stroke="#555" stroke-width="0.7"/><circle cx="965.8" cy="967.5" r="2.5" fill="#bdbdbd" stroke="#555" stroke-width="0.7"/><circle cx="877" cy="967.3" r="2.5" fill="#bdbdbd" stroke="#555" stroke-width="0.7"/><circle cx="956.7" cy="969.4" r="2.5" fill="#bdbdbd" stroke="#555" stroke-width="0.7"/><circle cx="883.3" cy="968.5" r="2.5" fill="#bdbdbd" stroke="#555" stroke-width="0.7"/><circle cx="805.4" cy="969.1" r="2.5" fill="#bdbdbd" stroke="#555" stroke-width="0.7"/><circle cx="819.6" cy="968.9" r="2.5" fill="#bdbdbd" stroke="#555" stroke-width="0.7"/><circle cx="840.3" cy="964.6" r="2.5" fill="#bdbdbd" stroke="#555" stroke-width="0.7"/><circle cx="863.3" cy="969.2" r="2.5" fill="#bdbdbd" stroke="#555" stroke-width="0.7"/><circle cx="912.5" cy="967.9" r="2.5" fill="#bdbdbd" stroke="#555" stroke-width="0.7"/><circle cx="880.6" cy="964.9" r="2.5" fill="#bdbdbd" stroke="#555" stroke-width="0.7"/><circle cx="762.5" cy="941.9" r="2.5" fill="#bdbdbd" stroke="#555" stroke-width="0.7"/><circle cx="760" cy="953.2" r="2.5" fill="#bdbdbd" stroke="#555" stroke-width="0.7"/><circle cx="778" cy="949.6" r="2.5" fill="#bdbdbd" stroke="#555" stroke-width="0.7"/><circle cx="819.2" cy="954.2" r="2.5" fill="#bdbdbd" stroke="#555" stroke-width="0.7"/><circle cx="834.3" cy="953.5" r="2.5" fill="#bdbdbd" stroke="#555" stroke-width="0.7"/><circle cx="884" cy="948.2" r="2.5" fill="#bdbdbd" stroke="#555" stroke-width="0.7"/><circle cx="884.7" cy="958.5" r="2.5" fill="#bdbdbd" stroke="#555" stroke-width="0.7"/><circle cx="922.4" cy="945.4" r="2.5" fill="#bdbdbd" stroke="#555" stroke-width="0.7"/><circle cx="930.9" cy="938.4" r="2.5" fill="#bdbdbd" stroke="#555" stroke-width="0.7"/><circle cx="929.5" cy="957" r="2.5" fill="#bdbdbd" stroke="#555" stroke-width="0.7"/><circle cx="944.3" cy="956.3" r="2.5" fill="#bdbdbd" stroke="#555" stroke-width="0.7"/><circle cx="758.2" cy="960.2" r="2.5" fill="#bdbdbd" stroke="#555" stroke-width="0.7"/><circle cx="761" cy="964" r="2.5" fill="#bdbdbd" stroke="#555" stroke-width="0.7"/><circle cx="785" cy="964" r="2.5" fill="#bdbdbd" stroke="#555" stroke-width="0.7"/><circle cx="815" cy="963" r="2.5" fill="#bdbdbd" stroke="#555" stroke-width="0.7"/><circle cx="831" cy="962.5" r="2.5" fill="#bdbdbd" stroke="#555" stroke-width="0.7"/><circle cx="897" cy="962" r="2.5" fill="#bdbdbd" stroke="#555" stroke-width="0.7"/><circle cx="903" cy="963.5" r="2.5" fill="#bdbdbd" stroke="#555" stroke-width="0.7"/><circle cx="918" cy="961" r="2.5" fill="#bdbdbd" stroke="#555" stroke-width="0.7"/><circle cx="925" cy="963" r="2.5" fill="#bdbdbd" stroke="#555" stroke-width="0.7"/><text x="821.2" y="988.4" font-size="13.5" fill="#0a0a0a" textLength="81.8" lengthAdjust="spacingAndGlyphs">Chromosome</text><text x="803.2" y="1011.3" font-size="19.3" fill="#0a0a0a" textLength="120.2" lengthAdjust="spacingAndGlyphs">Fine-mapping</text>
</svg>
</body></html>
